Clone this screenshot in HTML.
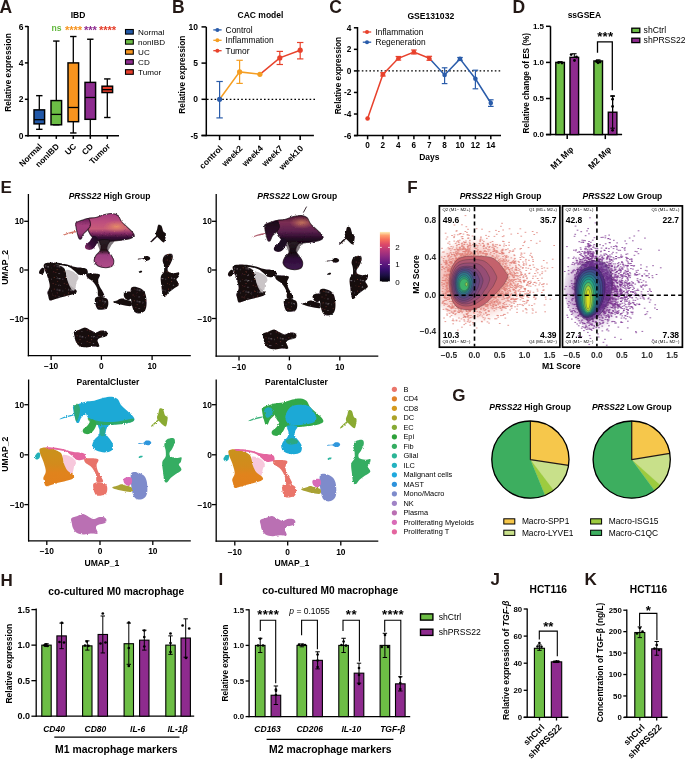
<!DOCTYPE html>
<html><head><meta charset="utf-8"><style>
html,body{margin:0;padding:0;background:#fff;}
svg{display:block;will-change:transform;}
text{font-family:"Liberation Sans", sans-serif;}
</style></head><body>
<svg width="685" height="759" viewBox="0 0 685 759" font-family="Liberation Sans, sans-serif">
<defs><pattern id="speck" width="12" height="12" patternUnits="userSpaceOnUse"><rect x="5.4" y="6.7" width="0.7" height="0.7" fill="#ffffff"/><rect x="5.4" y="10.3" width="0.7" height="0.7" fill="#e07050"/><rect x="2.2" y="6.1" width="0.7" height="0.7" fill="#d06040"/><rect x="7.4" y="2.2" width="0.7" height="0.7" fill="#ffffff"/><rect x="3.6" y="1.1" width="0.7" height="0.7" fill="#d06040"/><rect x="7.6" y="7.1" width="0.7" height="0.7" fill="#ffffff"/><rect x="11.6" y="7.8" width="0.7" height="0.7" fill="#ffffff"/><rect x="7.8" y="7.5" width="0.7" height="0.7" fill="#ffffff"/><rect x="0.8" y="0.4" width="0.7" height="0.7" fill="#e07050"/></pattern><filter id="rough" x="-5%" y="-5%" width="110%" height="110%"><feTurbulence type="fractalNoise" baseFrequency="0.9" numOctaves="2" seed="3" result="n"/><feDisplacementMap in="SourceGraphic" in2="n" scale="2.2" xChannelSelector="R" yChannelSelector="G"/></filter><clipPath id="bodyClip"><path d="M86,401.9C87.53,400.87 91.28,401.48 94.2,400.8C97.12,400.12 100.58,398.48 103.5,397.8C106.42,397.12 109.35,396.5 111.7,396.7C114.05,396.9 116.05,397.63 117.6,399C119.15,400.37 119.65,403.15 121,404.9C122.35,406.65 123.93,407.85 125.7,409.5C127.47,411.15 130.13,413.13 131.6,414.8C133.07,416.47 134.7,418.23 134.5,419.5C134.3,420.77 132.65,421.63 130.4,422.4C128.15,423.17 124.9,423.62 121,424.1C117.1,424.58 110.83,425.15 107,425.3C103.17,425.45 100.67,425.63 98,425C95.33,424.37 92.92,423.17 91,421.5C89.08,419.83 87.5,417.42 86.5,415C85.5,412.58 85.08,409.18 85,407C84.92,404.82 84.47,402.93 86,401.9Z"/></clipPath><linearGradient id="magHiBody" x1="0" y1="0" x2="0" y2="1">
<stop offset="0" stop-color="#A23C7E"/><stop offset="0.3" stop-color="#BD4E7E"/><stop offset="0.55" stop-color="#C85C78"/><stop offset="0.7" stop-color="#8A2F68"/><stop offset="0.85" stop-color="#3A0E38"/><stop offset="1" stop-color="#1A0620"/></linearGradient>
<radialGradient id="hiGlow" cx="0.5" cy="0.5" r="0.5"><stop offset="0" stop-color="#F0A060" stop-opacity="0.75"/><stop offset="1" stop-color="#E08060" stop-opacity="0"/></radialGradient>
<linearGradient id="magHiLobe" x1="0" y1="0" x2="0" y2="1"><stop offset="0" stop-color="#6A1E58"/><stop offset="0.35" stop-color="#A43F7C"/><stop offset="0.7" stop-color="#9A3A78"/><stop offset="1" stop-color="#4A1245"/></linearGradient>
<linearGradient id="magHiArm" x1="1" y1="0" x2="0" y2="1"><stop offset="0" stop-color="#1A0620"/><stop offset="0.6" stop-color="#3A0E3A"/><stop offset="1" stop-color="#9A3A78"/></linearGradient>
<linearGradient id="magHiBot" x1="0" y1="0" x2="0" y2="1"><stop offset="0" stop-color="#2a2026"/><stop offset="0.38" stop-color="#241018"/><stop offset="0.55" stop-color="#9C3E80"/><stop offset="1" stop-color="#B04C88"/></linearGradient>
<linearGradient id="magLoBody" x1="0" y1="0" x2="0" y2="1"><stop offset="0" stop-color="#4A1530"/><stop offset="0.25" stop-color="#7A2D52"/><stop offset="0.55" stop-color="#5E2250"/><stop offset="0.8" stop-color="#2A0A2A"/><stop offset="1" stop-color="#12040F"/></linearGradient>
<linearGradient id="magLoLobe" x1="0" y1="0" x2="0" y2="1"><stop offset="0" stop-color="#1A0618"/><stop offset="1" stop-color="#3A1035"/></linearGradient>
<linearGradient id="magLoBot" x1="0" y1="0" x2="0" y2="1"><stop offset="0" stop-color="#2a2026"/><stop offset="0.4" stop-color="#140610"/><stop offset="0.6" stop-color="#2E0C38"/><stop offset="1" stop-color="#40184E"/></linearGradient>
<linearGradient id="tcellGrad" x1="0" y1="0" x2="0" y2="1"><stop offset="0" stop-color="#C9931F"/><stop offset="0.45" stop-color="#D38A1E"/><stop offset="0.65" stop-color="#E0831C"/><stop offset="1" stop-color="#E2801B"/></linearGradient>
<linearGradient id="magma" x1="0" y1="1" x2="0" y2="0"><stop offset="0" stop-color="#000004"/><stop offset="0.13" stop-color="#1c1044"/><stop offset="0.25" stop-color="#3b0f70"/><stop offset="0.38" stop-color="#641a80"/><stop offset="0.5" stop-color="#8c2981"/><stop offset="0.63" stop-color="#b73779"/><stop offset="0.75" stop-color="#de4968"/><stop offset="0.85" stop-color="#f7705c"/><stop offset="0.93" stop-color="#fe9f6d"/><stop offset="1" stop-color="#fcf0b8"/></linearGradient><radialGradient id="hiCloud" cx="0.42" cy="0.5" r="0.5"><stop offset="0" stop-color="#E07A72" stop-opacity="0.95"/><stop offset="0.5" stop-color="#E98F86" stop-opacity="0.7"/><stop offset="0.8" stop-color="#F2B2AA" stop-opacity="0.35"/><stop offset="1" stop-color="#F6C9C3" stop-opacity="0"/></radialGradient>
<radialGradient id="loCloud" cx="0.4" cy="0.55" r="0.5"><stop offset="0" stop-color="#7A3590" stop-opacity="0.9"/><stop offset="0.5" stop-color="#8A4A9E" stop-opacity="0.6"/><stop offset="0.8" stop-color="#B58CC2" stop-opacity="0.25"/><stop offset="1" stop-color="#D0B0D8" stop-opacity="0"/></radialGradient>
<clipPath id="clipF1"><rect x="440.3" y="206.8" width="118.7" height="139.5"/></clipPath>
<clipPath id="clipF2"><rect x="563.4" y="206.8" width="118.1" height="139.5"/></clipPath></defs>
<rect width="685" height="759" fill="#fff"/>
<text x="-0.6" y="13" font-size="17.5" font-weight="bold" fill="#231815" >A</text>
<text x="78" y="17.6" font-size="8.5" font-weight="bold" text-anchor="middle" >IBD</text>
<line x1="28.1" y1="26" x2="28.1" y2="136.4" stroke="#000" stroke-width="1.5" />
<line x1="24.9" y1="26.5" x2="28.1" y2="26.5" stroke="#000" stroke-width="1.5" />
<text x="23.6" y="29.56" font-size="8.5" font-weight="bold" text-anchor="end" >6</text>
<line x1="24.9" y1="62.9" x2="28.1" y2="62.9" stroke="#000" stroke-width="1.5" />
<text x="23.6" y="65.96" font-size="8.5" font-weight="bold" text-anchor="end" >4</text>
<line x1="24.9" y1="99.3" x2="28.1" y2="99.3" stroke="#000" stroke-width="1.5" />
<text x="23.6" y="102.36" font-size="8.5" font-weight="bold" text-anchor="end" >2</text>
<line x1="24.9" y1="135.7" x2="28.1" y2="135.7" stroke="#000" stroke-width="1.5" />
<text x="23.6" y="138.76" font-size="8.5" font-weight="bold" text-anchor="end" >0</text>
<line x1="27.4" y1="135.7" x2="119" y2="135.7" stroke="#000" stroke-width="1.5" />
<line x1="39.3" y1="135.7" x2="39.3" y2="138.9" stroke="#000" stroke-width="1.5" />
<line x1="56.3" y1="135.7" x2="56.3" y2="138.9" stroke="#000" stroke-width="1.5" />
<line x1="73.3" y1="135.7" x2="73.3" y2="138.9" stroke="#000" stroke-width="1.5" />
<line x1="90.3" y1="135.7" x2="90.3" y2="138.9" stroke="#000" stroke-width="1.5" />
<line x1="107.3" y1="135.7" x2="107.3" y2="138.9" stroke="#000" stroke-width="1.5" />
<line x1="39.3" y1="95.66" x2="39.3" y2="109.86" stroke="#000" stroke-width="1.3" />
<line x1="39.3" y1="123.87" x2="39.3" y2="129.33" stroke="#000" stroke-width="1.3" />
<line x1="36.1" y1="95.66" x2="42.5" y2="95.66" stroke="#000" stroke-width="1.4" />
<line x1="36.1" y1="129.33" x2="42.5" y2="129.33" stroke="#000" stroke-width="1.4" />
<rect x="34" y="109.86" width="10.6" height="14.01" fill="#2158A8" stroke="#000" stroke-width="1.45" />
<line x1="34" y1="119.68" x2="44.6" y2="119.68" stroke="#000" stroke-width="1.3" />
<line x1="56.3" y1="41.06" x2="56.3" y2="100.57" stroke="#000" stroke-width="1.3" />
<line x1="56.3" y1="124.78" x2="56.3" y2="124.78" stroke="#000" stroke-width="1.3" />
<line x1="53.1" y1="41.06" x2="59.5" y2="41.06" stroke="#000" stroke-width="1.4" />
<line x1="53.1" y1="124.78" x2="59.5" y2="124.78" stroke="#000" stroke-width="1.4" />
<rect x="51" y="100.57" width="10.6" height="24.21" fill="#6CBD45" stroke="#000" stroke-width="1.45" />
<line x1="51" y1="114.41" x2="61.6" y2="114.41" stroke="#000" stroke-width="1.3" />
<line x1="73.3" y1="36.51" x2="73.3" y2="62.9" stroke="#000" stroke-width="1.3" />
<line x1="73.3" y1="121.69" x2="73.3" y2="132.97" stroke="#000" stroke-width="1.3" />
<line x1="70.1" y1="36.51" x2="76.5" y2="36.51" stroke="#000" stroke-width="1.4" />
<line x1="70.1" y1="132.97" x2="76.5" y2="132.97" stroke="#000" stroke-width="1.4" />
<rect x="68" y="62.9" width="10.6" height="58.79" fill="#F7941E" stroke="#000" stroke-width="1.45" />
<line x1="68" y1="107.49" x2="78.6" y2="107.49" stroke="#000" stroke-width="1.3" />
<line x1="90.3" y1="39.24" x2="90.3" y2="82.37" stroke="#000" stroke-width="1.3" />
<line x1="90.3" y1="119.32" x2="90.3" y2="135.7" stroke="#000" stroke-width="1.3" />
<line x1="87.1" y1="39.24" x2="93.5" y2="39.24" stroke="#000" stroke-width="1.4" />
<rect x="85" y="82.37" width="10.6" height="36.95" fill="#8E2C8F" stroke="#000" stroke-width="1.45" />
<line x1="85" y1="97.48" x2="95.6" y2="97.48" stroke="#000" stroke-width="1.3" />
<line x1="107.3" y1="78.92" x2="107.3" y2="86.2" stroke="#000" stroke-width="1.3" />
<line x1="107.3" y1="92.57" x2="107.3" y2="117.5" stroke="#000" stroke-width="1.3" />
<line x1="104.1" y1="78.92" x2="110.5" y2="78.92" stroke="#000" stroke-width="1.4" />
<line x1="104.1" y1="117.5" x2="110.5" y2="117.5" stroke="#000" stroke-width="1.4" />
<rect x="102" y="86.2" width="10.6" height="6.37" fill="#E53D2A" stroke="#000" stroke-width="1.45" />
<line x1="102" y1="89.65" x2="112.6" y2="89.65" stroke="#000" stroke-width="1.3" />
<text x="42.7" y="147" font-size="8.3" font-weight="bold" text-anchor="end" transform="rotate(-45 42.7 147)" >Normal</text>
<text x="59.7" y="147" font-size="8.3" font-weight="bold" text-anchor="end" transform="rotate(-45 59.7 147)" >nonIBD</text>
<text x="76.7" y="147" font-size="8.3" font-weight="bold" text-anchor="end" transform="rotate(-45 76.7 147)" >UC</text>
<text x="93.7" y="147" font-size="8.3" font-weight="bold" text-anchor="end" transform="rotate(-45 93.7 147)" >CD</text>
<text x="110.7" y="147" font-size="8.3" font-weight="bold" text-anchor="end" transform="rotate(-45 110.7 147)" >Tumor</text>
<text x="11.3" y="72.5" font-size="8.4" font-weight="bold" text-anchor="middle" transform="rotate(-90 11.3 72.5)" >Relative expression</text>
<text x="56.5" y="30.6" font-size="8.6" font-weight="bold" text-anchor="middle" fill="#62B83E" >ns</text>
<text x="73.5" y="34.3" font-size="11.2" font-weight="bold" text-anchor="middle" fill="#F7941E" letter-spacing="-0.1">****</text>
<text x="90.5" y="34.3" font-size="11.2" font-weight="bold" text-anchor="middle" fill="#8E2C8F" letter-spacing="-0.1">***</text>
<text x="107.5" y="34.3" font-size="11.2" font-weight="bold" text-anchor="middle" fill="#E53D2A" letter-spacing="-0.1">****</text>
<rect x="125.5" y="29.5" width="7.8" height="4.6" fill="#2158A8" stroke="#000" stroke-width="1.1" />
<text x="138.1" y="34.7" font-size="8.1" >Normal</text>
<rect x="125.5" y="39.55" width="7.8" height="4.6" fill="#6CBD45" stroke="#000" stroke-width="1.1" />
<text x="138.1" y="44.75" font-size="8.1" >nonIBD</text>
<rect x="125.5" y="49.6" width="7.8" height="4.6" fill="#F7941E" stroke="#000" stroke-width="1.1" />
<text x="138.1" y="54.8" font-size="8.1" >UC</text>
<rect x="125.5" y="59.65" width="7.8" height="4.6" fill="#8E2C8F" stroke="#000" stroke-width="1.1" />
<text x="138.1" y="64.85" font-size="8.1" >CD</text>
<rect x="125.5" y="69.7" width="7.8" height="4.6" fill="#E53D2A" stroke="#000" stroke-width="1.1" />
<text x="138.1" y="74.9" font-size="8.1" >Tumor</text>
<text x="172" y="13" font-size="17.5" font-weight="bold" fill="#231815" >B</text>
<text x="260.5" y="18.4" font-size="8.5" font-weight="bold" text-anchor="middle" >CAC model</text>
<line x1="206.3" y1="27" x2="206.3" y2="136.2" stroke="#000" stroke-width="1.5" />
<line x1="201.5" y1="26.9" x2="206.3" y2="26.9" stroke="#000" stroke-width="1.5" />
<text x="198" y="29.96" font-size="8.5" font-weight="bold" text-anchor="end" >10</text>
<line x1="201.5" y1="63.1" x2="206.3" y2="63.1" stroke="#000" stroke-width="1.5" />
<text x="198" y="66.16" font-size="8.5" font-weight="bold" text-anchor="end" >5</text>
<line x1="201.5" y1="99.3" x2="206.3" y2="99.3" stroke="#000" stroke-width="1.5" />
<text x="198" y="102.36" font-size="8.5" font-weight="bold" text-anchor="end" >0</text>
<line x1="201.5" y1="135.5" x2="206.3" y2="135.5" stroke="#000" stroke-width="1.5" />
<text x="198" y="138.56" font-size="8.5" font-weight="bold" text-anchor="end" >-5</text>
<line x1="201.5" y1="135.4" x2="313.9" y2="135.4" stroke="#000" stroke-width="1.5" />
<line x1="219.6" y1="135.4" x2="219.6" y2="140.1" stroke="#000" stroke-width="1.5" />
<line x1="239.6" y1="135.4" x2="239.6" y2="140.1" stroke="#000" stroke-width="1.5" />
<line x1="259.9" y1="135.4" x2="259.9" y2="140.1" stroke="#000" stroke-width="1.5" />
<line x1="279.8" y1="135.4" x2="279.8" y2="140.1" stroke="#000" stroke-width="1.5" />
<line x1="300.2" y1="135.4" x2="300.2" y2="140.1" stroke="#000" stroke-width="1.5" />
<line x1="207" y1="99.3" x2="315" y2="99.3" stroke="#000" stroke-width="1.3" stroke-dasharray="1.6 2.2"/>
<polyline points="219.6,99.3 239.6,71.9 259.9,74.3" fill="none" stroke="#F59E22" stroke-width="1.5" />
<polyline points="259.9,74.3 279.8,57.9 300.2,50.2" fill="none" stroke="#E8422B" stroke-width="1.5" />
<line x1="219.6" y1="81.5" x2="219.6" y2="117.9" stroke="#2A5CAA" stroke-width="1.2" />
<line x1="216.4" y1="81.5" x2="222.8" y2="81.5" stroke="#2A5CAA" stroke-width="1.2" />
<line x1="216.4" y1="117.9" x2="222.8" y2="117.9" stroke="#2A5CAA" stroke-width="1.2" />
<circle cx="219.6" cy="99.3" r="2.6" fill="#2A5CAA"/>
<line x1="239.6" y1="60.3" x2="239.6" y2="83.4" stroke="#F59E22" stroke-width="1.2" />
<line x1="236.4" y1="60.3" x2="242.8" y2="60.3" stroke="#F59E22" stroke-width="1.2" />
<line x1="236.4" y1="83.4" x2="242.8" y2="83.4" stroke="#F59E22" stroke-width="1.2" />
<circle cx="239.6" cy="71.9" r="2.6" fill="#F59E22"/>
<circle cx="259.9" cy="74.3" r="2.6" fill="#F59E22"/>
<line x1="279.8" y1="51.4" x2="279.8" y2="64.5" stroke="#E8422B" stroke-width="1.2" />
<line x1="276.6" y1="51.4" x2="283" y2="51.4" stroke="#E8422B" stroke-width="1.2" />
<line x1="276.6" y1="64.5" x2="283" y2="64.5" stroke="#E8422B" stroke-width="1.2" />
<circle cx="279.8" cy="57.9" r="2.6" fill="#E8422B"/>
<line x1="300.2" y1="42.5" x2="300.2" y2="58.9" stroke="#E8422B" stroke-width="1.2" />
<line x1="297" y1="42.5" x2="303.4" y2="42.5" stroke="#E8422B" stroke-width="1.2" />
<line x1="297" y1="58.9" x2="303.4" y2="58.9" stroke="#E8422B" stroke-width="1.2" />
<circle cx="300.2" cy="50.2" r="2.6" fill="#E8422B"/>
<line x1="213.3" y1="29.9" x2="221.6" y2="29.9" stroke="#2A5CAA" stroke-width="1.3" />
<circle cx="217.4" cy="29.9" r="2" fill="#2A5CAA"/>
<text x="225.6" y="32.9" font-size="8.4" >Control</text>
<line x1="213.3" y1="40.3" x2="221.6" y2="40.3" stroke="#F59E22" stroke-width="1.3" />
<circle cx="217.4" cy="40.3" r="2" fill="#F59E22"/>
<text x="225.6" y="43.3" font-size="8.4" >Inflammation</text>
<line x1="213.3" y1="50.7" x2="221.6" y2="50.7" stroke="#E8422B" stroke-width="1.3" />
<circle cx="217.4" cy="50.7" r="2" fill="#E8422B"/>
<text x="225.6" y="53.7" font-size="8.4" >Tumor</text>
<text x="223.2" y="149" font-size="8.5" font-weight="bold" text-anchor="end" transform="rotate(-45 223.2 149)" >control</text>
<text x="243.2" y="149" font-size="8.5" font-weight="bold" text-anchor="end" transform="rotate(-45 243.2 149)" >week2</text>
<text x="263.5" y="149" font-size="8.5" font-weight="bold" text-anchor="end" transform="rotate(-45 263.5 149)" >week4</text>
<text x="283.4" y="149" font-size="8.5" font-weight="bold" text-anchor="end" transform="rotate(-45 283.4 149)" >week7</text>
<text x="303.8" y="149" font-size="8.5" font-weight="bold" text-anchor="end" transform="rotate(-45 303.8 149)" >week10</text>
<text x="184.8" y="74.7" font-size="8.3" font-weight="bold" text-anchor="middle" transform="rotate(-90 184.8 74.7)" >Relative expression</text>
<text x="329.2" y="13" font-size="17.5" font-weight="bold" fill="#231815" >C</text>
<text x="430.8" y="18.9" font-size="8.6" font-weight="bold" text-anchor="middle" >GSE131032</text>
<line x1="357.5" y1="27" x2="357.5" y2="136.1" stroke="#000" stroke-width="1.5" />
<line x1="353.9" y1="27.78" x2="357.5" y2="27.78" stroke="#000" stroke-width="1.5" />
<text x="351.4" y="30.77" font-size="8.3" font-weight="bold" text-anchor="end" >4</text>
<line x1="353.9" y1="49.34" x2="357.5" y2="49.34" stroke="#000" stroke-width="1.5" />
<text x="351.4" y="52.33" font-size="8.3" font-weight="bold" text-anchor="end" >2</text>
<line x1="353.9" y1="70.9" x2="357.5" y2="70.9" stroke="#000" stroke-width="1.5" />
<text x="351.4" y="73.89" font-size="8.3" font-weight="bold" text-anchor="end" >0</text>
<line x1="353.9" y1="92.46" x2="357.5" y2="92.46" stroke="#000" stroke-width="1.5" />
<text x="351.4" y="95.45" font-size="8.3" font-weight="bold" text-anchor="end" >-2</text>
<line x1="353.9" y1="114.02" x2="357.5" y2="114.02" stroke="#000" stroke-width="1.5" />
<text x="351.4" y="117.01" font-size="8.3" font-weight="bold" text-anchor="end" >-4</text>
<line x1="353.9" y1="135.58" x2="357.5" y2="135.58" stroke="#000" stroke-width="1.5" />
<text x="351.4" y="138.57" font-size="8.3" font-weight="bold" text-anchor="end" >-6</text>
<line x1="354" y1="135.6" x2="501" y2="135.6" stroke="#000" stroke-width="1.5" />
<line x1="367.6" y1="135.6" x2="367.6" y2="139.3" stroke="#000" stroke-width="1.5" />
<line x1="382.9" y1="135.6" x2="382.9" y2="139.3" stroke="#000" stroke-width="1.5" />
<line x1="398.4" y1="135.6" x2="398.4" y2="139.3" stroke="#000" stroke-width="1.5" />
<line x1="413.9" y1="135.6" x2="413.9" y2="139.3" stroke="#000" stroke-width="1.5" />
<line x1="429.3" y1="135.6" x2="429.3" y2="139.3" stroke="#000" stroke-width="1.5" />
<line x1="444.6" y1="135.6" x2="444.6" y2="139.3" stroke="#000" stroke-width="1.5" />
<line x1="460" y1="135.6" x2="460" y2="139.3" stroke="#000" stroke-width="1.5" />
<line x1="475.4" y1="135.6" x2="475.4" y2="139.3" stroke="#000" stroke-width="1.5" />
<line x1="490.8" y1="135.6" x2="490.8" y2="139.3" stroke="#000" stroke-width="1.5" />
<line x1="358" y1="70.9" x2="501" y2="70.9" stroke="#000" stroke-width="1.3" stroke-dasharray="1.6 2.2"/>
<polyline points="367.6,118.5 382.9,74.4 398.4,58.3 413.9,52 429.3,58.3" fill="none" stroke="#E8412C" stroke-width="1.5" />
<polyline points="429.3,58.3 444.6,74.9 460,58.9 475.4,78.8 490.8,103" fill="none" stroke="#2A5CAA" stroke-width="1.5" />
<circle cx="367.6" cy="118.5" r="2.3" fill="#E8412C"/>
<line x1="382.9" y1="72.8" x2="382.9" y2="76" stroke="#E8412C" stroke-width="1.2" />
<line x1="380.1" y1="72.8" x2="385.7" y2="72.8" stroke="#E8412C" stroke-width="1.2" />
<line x1="380.1" y1="76" x2="385.7" y2="76" stroke="#E8412C" stroke-width="1.2" />
<circle cx="382.9" cy="74.4" r="2.3" fill="#E8412C"/>
<line x1="398.4" y1="56.5" x2="398.4" y2="60.1" stroke="#E8412C" stroke-width="1.2" />
<line x1="395.6" y1="56.5" x2="401.2" y2="56.5" stroke="#E8412C" stroke-width="1.2" />
<line x1="395.6" y1="60.1" x2="401.2" y2="60.1" stroke="#E8412C" stroke-width="1.2" />
<circle cx="398.4" cy="58.3" r="2.3" fill="#E8412C"/>
<line x1="413.9" y1="50" x2="413.9" y2="54" stroke="#E8412C" stroke-width="1.2" />
<line x1="411.1" y1="50" x2="416.7" y2="50" stroke="#E8412C" stroke-width="1.2" />
<line x1="411.1" y1="54" x2="416.7" y2="54" stroke="#E8412C" stroke-width="1.2" />
<circle cx="413.9" cy="52" r="2.3" fill="#E8412C"/>
<line x1="429.3" y1="56.3" x2="429.3" y2="60.3" stroke="#E8412C" stroke-width="1.2" />
<line x1="426.5" y1="56.3" x2="432.1" y2="56.3" stroke="#E8412C" stroke-width="1.2" />
<line x1="426.5" y1="60.3" x2="432.1" y2="60.3" stroke="#E8412C" stroke-width="1.2" />
<circle cx="429.3" cy="58.3" r="2.3" fill="#E8412C"/>
<line x1="444.6" y1="67.8" x2="444.6" y2="83.6" stroke="#2A5CAA" stroke-width="1.2" />
<line x1="441.8" y1="67.8" x2="447.4" y2="67.8" stroke="#2A5CAA" stroke-width="1.2" />
<line x1="441.8" y1="83.6" x2="447.4" y2="83.6" stroke="#2A5CAA" stroke-width="1.2" />
<circle cx="444.6" cy="74.9" r="2.3" fill="#2A5CAA"/>
<line x1="460" y1="57.5" x2="460" y2="60.3" stroke="#2A5CAA" stroke-width="1.2" />
<line x1="457.2" y1="57.5" x2="462.8" y2="57.5" stroke="#2A5CAA" stroke-width="1.2" />
<line x1="457.2" y1="60.3" x2="462.8" y2="60.3" stroke="#2A5CAA" stroke-width="1.2" />
<circle cx="460" cy="58.9" r="2.3" fill="#2A5CAA"/>
<line x1="475.4" y1="70.2" x2="475.4" y2="88.8" stroke="#2A5CAA" stroke-width="1.2" />
<line x1="472.6" y1="70.2" x2="478.2" y2="70.2" stroke="#2A5CAA" stroke-width="1.2" />
<line x1="472.6" y1="88.8" x2="478.2" y2="88.8" stroke="#2A5CAA" stroke-width="1.2" />
<circle cx="475.4" cy="78.8" r="2.3" fill="#2A5CAA"/>
<line x1="490.8" y1="99.8" x2="490.8" y2="106.4" stroke="#2A5CAA" stroke-width="1.2" />
<line x1="488" y1="99.8" x2="493.6" y2="99.8" stroke="#2A5CAA" stroke-width="1.2" />
<line x1="488" y1="106.4" x2="493.6" y2="106.4" stroke="#2A5CAA" stroke-width="1.2" />
<circle cx="490.8" cy="103" r="2.3" fill="#2A5CAA"/>
<line x1="362.8" y1="32" x2="371.2" y2="32" stroke="#E8412C" stroke-width="1.3" />
<circle cx="367" cy="32" r="2" fill="#E8412C"/>
<text x="375.4" y="35" font-size="8.4" >Inflammation</text>
<line x1="362.8" y1="42.2" x2="371.2" y2="42.2" stroke="#2A5CAA" stroke-width="1.3" />
<circle cx="367" cy="42.2" r="2" fill="#2A5CAA"/>
<text x="375.4" y="45.2" font-size="8.4" >Regeneration</text>
<text x="367.6" y="148.1" font-size="8.2" font-weight="bold" text-anchor="middle" >0</text>
<text x="382.9" y="148.1" font-size="8.2" font-weight="bold" text-anchor="middle" >2</text>
<text x="398.4" y="148.1" font-size="8.2" font-weight="bold" text-anchor="middle" >4</text>
<text x="413.9" y="148.1" font-size="8.2" font-weight="bold" text-anchor="middle" >6</text>
<text x="429.3" y="148.1" font-size="8.2" font-weight="bold" text-anchor="middle" >7</text>
<text x="444.6" y="148.1" font-size="8.2" font-weight="bold" text-anchor="middle" >8</text>
<text x="460" y="148.1" font-size="8.2" font-weight="bold" text-anchor="middle" >10</text>
<text x="475.4" y="148.1" font-size="8.2" font-weight="bold" text-anchor="middle" >12</text>
<text x="490.8" y="148.1" font-size="8.2" font-weight="bold" text-anchor="middle" >14</text>
<text x="429.4" y="160.2" font-size="8.5" font-weight="bold" text-anchor="middle" >Days</text>
<text x="340.6" y="75.6" font-size="8.25" font-weight="bold" text-anchor="middle" transform="rotate(-90 340.6 75.6)" >Relative expression</text>
<text x="512.5" y="13" font-size="17.5" font-weight="bold" fill="#231815" >D</text>
<text x="584.4" y="18.3" font-size="8.5" font-weight="bold" text-anchor="middle" >ssGSEA</text>
<line x1="550.5" y1="26.3" x2="550.5" y2="135.3" stroke="#000" stroke-width="1.5" />
<line x1="546" y1="26.3" x2="550.5" y2="26.3" stroke="#000" stroke-width="1.5" />
<text x="544" y="29.18" font-size="8" font-weight="bold" text-anchor="end" >1.5</text>
<line x1="546" y1="62.4" x2="550.5" y2="62.4" stroke="#000" stroke-width="1.5" />
<text x="544" y="65.28" font-size="8" font-weight="bold" text-anchor="end" >1.0</text>
<line x1="546" y1="98.5" x2="550.5" y2="98.5" stroke="#000" stroke-width="1.5" />
<text x="544" y="101.38" font-size="8" font-weight="bold" text-anchor="end" >0.5</text>
<line x1="546" y1="134.6" x2="550.5" y2="134.6" stroke="#000" stroke-width="1.5" />
<text x="544" y="137.48" font-size="8" font-weight="bold" text-anchor="end" >0.0</text>
<line x1="545.9" y1="134.6" x2="622.1" y2="134.6" stroke="#000" stroke-width="1.5" />
<line x1="567.2" y1="134.6" x2="567.2" y2="139.1" stroke="#000" stroke-width="1.5" />
<line x1="605.3" y1="134.6" x2="605.3" y2="139.1" stroke="#000" stroke-width="1.5" />
<rect x="555.8" y="62.4" width="8.6" height="72.2" fill="#6DBE45" stroke="#000" stroke-width="1.4" />
<line x1="560.1" y1="61.68" x2="560.1" y2="62.4" stroke="#000" stroke-width="1.1" />
<line x1="557.8" y1="61.68" x2="562.4" y2="61.68" stroke="#000" stroke-width="1.1" />
<rect x="570" y="57.35" width="8.6" height="77.25" fill="#8E2B8E" stroke="#000" stroke-width="1.4" />
<line x1="574.3" y1="53.74" x2="574.3" y2="57.35" stroke="#000" stroke-width="1.1" />
<line x1="572" y1="53.74" x2="576.6" y2="53.74" stroke="#000" stroke-width="1.1" />
<rect x="593.9" y="60.96" width="8.6" height="73.64" fill="#6DBE45" stroke="#000" stroke-width="1.4" />
<line x1="598.2" y1="59.87" x2="598.2" y2="60.96" stroke="#000" stroke-width="1.1" />
<line x1="595.9" y1="59.87" x2="600.5" y2="59.87" stroke="#000" stroke-width="1.1" />
<rect x="608.3" y="112.22" width="8.6" height="22.38" fill="#8E2B8E" stroke="#000" stroke-width="1.4" />
<line x1="612.6" y1="96.33" x2="612.6" y2="112.22" stroke="#000" stroke-width="1.1" />
<line x1="610.3" y1="96.33" x2="614.9" y2="96.33" stroke="#000" stroke-width="1.1" />
<circle cx="558.5" cy="62.7" r="1.4" fill="#000"/>
<circle cx="562" cy="63" r="1.4" fill="#000"/>
<circle cx="571.2" cy="54.6" r="1.4" fill="#000"/>
<circle cx="576.5" cy="57" r="1.4" fill="#000"/>
<circle cx="574.5" cy="60.5" r="1.4" fill="#000"/>
<circle cx="596.5" cy="61.5" r="1.4" fill="#000"/>
<circle cx="600" cy="62" r="1.4" fill="#000"/>
<circle cx="598" cy="62.8" r="1.4" fill="#000"/>
<circle cx="612.6" cy="99.2" r="1.4" fill="#000"/>
<circle cx="612.6" cy="106.4" r="1.4" fill="#000"/>
<circle cx="612.6" cy="130.3" r="1.4" fill="#000"/>
<line x1="612.6" y1="95.7" x2="612.6" y2="128.2" stroke="#000" stroke-width="1.1" />
<line x1="610.4" y1="95.7" x2="614.8" y2="95.7" stroke="#000" stroke-width="1.1" />
<line x1="610.4" y1="128.2" x2="614.8" y2="128.2" stroke="#000" stroke-width="1.1" />
<polyline points="597.5,52.7 597.5,41.9 612.3,41.9 612.3,90.2" fill="none" stroke="#000" stroke-width="1.3" />
<text x="605.3" y="41" font-size="13.2" font-weight="bold" text-anchor="middle" letter-spacing="0.25">***</text>
<rect x="631.8" y="28.2" width="8" height="4.4" fill="#6DBE45" stroke="#000" stroke-width="1.3" />
<text x="643.6" y="32.6" font-size="8.6" >shCtrl</text>
<rect x="631.8" y="38.2" width="8" height="4.4" fill="#8E2B8E" stroke="#000" stroke-width="1.3" />
<text x="643.6" y="42.6" font-size="8.6" >shPRSS22</text>
<text x="574" y="150" font-size="8.8" font-weight="bold" text-anchor="end" transform="rotate(-45 574 150)" >M1 Mφ</text>
<text x="611.7" y="150" font-size="8.8" font-weight="bold" text-anchor="end" transform="rotate(-45 611.7 150)" >M2 Mφ</text>
<text x="528.9" y="83.2" font-size="8.2" font-weight="bold" text-anchor="middle" transform="rotate(-90 528.9 83.2)" >Relative change of ES (%)</text>
<text x="0.5" y="193.4" font-size="17" font-weight="bold" fill="#231815" >E</text>
<text x="109.5" y="198.8" font-size="8.5" font-weight="bold" text-anchor="middle" ><tspan font-style="italic">PRSS22</tspan> High Group</text>
<text x="297.2" y="198.8" font-size="8.5" font-weight="bold" text-anchor="middle" ><tspan font-style="italic">PRSS22</tspan> Low Group</text>
<g filter="url(#rough)">
<g transform="matrix(0.9528 0 0 0.972 6.12 -172.07)">
<g>
<path d="M39.9,448.8C40.78,447.9 42.95,447.33 45.2,447.4C47.45,447.47 50.87,448.33 53.4,449.2C55.93,450.07 58.85,451.22 60.4,452.6C61.95,453.98 62.12,455.7 62.7,457.5C63.28,459.3 63.12,461.25 63.9,463.4C64.68,465.55 65.85,468.47 67.4,470.4C68.95,472.33 72.13,473.73 73.2,475C74.27,476.27 74.58,477.12 73.8,478C73.02,478.88 70.93,479.53 68.5,480.3C66.07,481.07 62.12,481.82 59.2,482.6C56.28,483.38 53.23,484.42 51,485C48.77,485.58 46.97,486.78 45.8,486.1C44.63,485.42 44.4,482.35 44,480.9C43.6,479.45 43.1,478.97 43.4,477.4C43.7,475.83 45.7,473.83 45.8,471.5C45.9,469.17 44.68,465.73 44,463.4C43.32,461.07 42.38,459.27 41.7,457.5C41.02,455.73 40.2,454.25 39.9,452.8C39.6,451.35 39.02,449.7 39.9,448.8Z" fill="#140a0e" />
<path d="M46,447.3C47.33,447.05 53,447.38 56,447.7C59,448.02 61.67,448.62 64,449.2C66.33,449.78 68.17,450.7 70,451.2C71.83,451.7 73.5,452 75,452.2C76.5,452.4 77.42,452.15 79,452.4C80.58,452.65 83.42,452.68 84.5,453.7C85.58,454.72 86.08,457.45 85.5,458.5C84.92,459.55 82.5,459.78 81,460C79.5,460.22 77.83,460.33 76.5,459.8C75.17,459.27 74.75,458.13 73,456.8C71.25,455.47 68.83,452.98 66,451.8C63.17,450.62 59,450.13 56,449.7C53,449.27 49.67,449.6 48,449.2C46.33,448.8 44.67,447.55 46,447.3Z" fill="#140a0e" />
<path d="M84.5,458.8C85.35,458.12 88,458.2 90.3,458.3C92.6,458.4 97.25,458.28 98.3,459.4C99.35,460.52 96.67,463.07 96.6,465C96.53,466.93 97.12,469.02 97.9,471C98.68,472.98 100.45,475.1 101.3,476.9C102.15,478.7 103.75,480.98 103,481.8C102.25,482.62 97.95,482.87 96.8,481.8C95.65,480.73 96.58,477.3 96.1,475.4C95.62,473.5 94.87,471.97 93.9,470.4C92.93,468.83 91.75,467.33 90.3,466C88.85,464.67 86.17,463.6 85.2,462.4C84.23,461.2 83.65,459.48 84.5,458.8Z" fill="#140a0e" />
<path d="M93.9,483.3C94.87,482.5 97.07,482.07 99,482.2C100.93,482.33 104.12,483.05 105.5,484.1C106.88,485.15 107.3,486.8 107.3,488.5C107.3,490.2 107.13,493.1 105.5,494.3C103.87,495.5 99.32,495.95 97.5,495.7C95.68,495.45 95.32,494.25 94.6,492.8C93.88,491.35 93.32,488.58 93.2,487C93.08,485.42 92.93,484.1 93.9,483.3Z" fill="#140a0e" />
<path d="M71.4,518.2C72.35,517.03 75.53,516.68 77.5,516C79.47,515.32 81.3,513.95 83.2,514.1C85.1,514.25 87.07,516.07 88.9,516.9C90.73,517.73 92.6,519.03 94.2,519.1C95.8,519.17 96.9,517.6 98.5,517.3C100.1,517 102.48,516.93 103.8,517.3C105.12,517.67 106.18,518.55 106.4,519.5C106.62,520.45 106.42,522.12 105.1,523C103.78,523.88 100.03,524.07 98.5,524.8C96.97,525.53 96.03,525.95 95.9,527.4C95.77,528.85 98.57,532.48 97.7,533.5C96.83,534.52 93.05,533.35 90.7,533.5C88.35,533.65 85.95,534.53 83.6,534.4C81.25,534.27 78.35,533.72 76.6,532.7C74.85,531.68 73.9,529.92 73.1,528.3C72.3,526.68 72.08,524.68 71.8,523C71.52,521.32 70.45,519.37 71.4,518.2Z" fill="#140a0e" />
<path d="M131.4,473.1C132.38,471.95 134.63,471.87 136.6,472.2C138.57,472.53 141.55,473.73 143.2,475.1C144.85,476.47 145.8,477.98 146.5,480.4C147.2,482.82 147.5,486.97 147.4,489.6C147.3,492.23 147.03,494.55 145.9,496.2C144.77,497.85 142.37,499.17 140.6,499.5C138.83,499.83 136.62,499.18 135.3,498.2C133.98,497.22 133.35,495.47 132.7,493.6C132.05,491.73 131.73,489.42 131.4,487C131.07,484.58 130.7,481.42 130.7,479.1C130.7,476.78 130.42,474.25 131.4,473.1Z" fill="#140a0e" />
<path d="M124,478.5C124.75,477.83 126.75,477.08 128,477C129.25,476.92 130.87,477 131.5,478C132.13,479 132.3,481.72 131.8,483C131.3,484.28 129.63,485.53 128.5,485.7C127.37,485.87 125.83,484.78 125,484C124.17,483.22 123.67,481.92 123.5,481C123.33,480.08 123.25,479.17 124,478.5Z" fill="#140a0e" />
<path d="M112.2,487.4C112.37,486.83 115.53,486.33 117,485.8C118.47,485.27 119.67,484.3 121,484.2C122.33,484.1 123.27,484.68 125,485.2C126.73,485.72 130.33,486.2 131.4,487.3C132.47,488.4 132.3,491.08 131.4,491.8C130.5,492.52 127.73,491.8 126,491.6C124.27,491.4 122.67,491 121,490.6C119.33,490.2 117.47,489.73 116,489.2C114.53,488.67 112.03,487.97 112.2,487.4Z" fill="#140a0e" />
<path d="M159.7,408.6C160.47,407.93 162.12,408.1 163,409.2C163.88,410.3 164.23,413.88 165,415.2C165.77,416.52 167.28,415.68 167.6,417.1C167.92,418.52 167.23,422.15 166.9,423.7C166.57,425.25 166.25,426.18 165.6,426.4C164.95,426.62 163.87,425.67 163,425C162.13,424.33 161.28,423.27 160.4,422.4C159.52,421.53 158.27,420.68 157.7,419.8C157.13,418.92 156.88,418.2 157,417.1C157.12,416 157.95,414.62 158.4,413.2C158.85,411.78 158.93,409.27 159.7,408.6Z" fill="#140a0e" />
<path d="M166.9,439.5C168.43,438.4 172.17,437.75 173.5,438.2C174.83,438.65 175.12,440.43 174.9,442.2C174.68,443.97 173.08,447.05 172.2,448.8C171.32,450.55 169.88,451.42 169.6,452.7C169.32,453.98 169.4,455.62 170.5,456.5C171.6,457.38 174.38,457.87 176.2,458C178.02,458.13 180.63,456.65 181.4,457.3C182.17,457.95 181.23,460.68 180.8,461.9C180.37,463.12 178.7,463.27 178.8,464.6C178.9,465.93 181.83,468.37 181.4,469.9C180.97,471.43 177.95,472.48 176.2,473.8C174.45,475.12 172.45,476.37 170.9,477.8C169.35,479.23 168,481.97 166.9,482.4C165.8,482.83 164.95,482.27 164.3,480.4C163.65,478.53 163.33,474.28 163,471.2C162.67,468.12 161.87,464.32 162.3,461.9C162.73,459.48 165.05,458.67 165.6,456.7C166.15,454.73 165.82,452.08 165.6,450.1C165.38,448.12 164.08,446.57 164.3,444.8C164.52,443.03 165.37,440.6 166.9,439.5Z" fill="#140a0e" />
<path d="M143.5,442.8C144.75,442.37 145,440.93 146,440.6C147,440.27 148.62,440.43 149.5,440.8C150.38,441.17 151.3,442.12 151.3,442.8C151.3,443.48 150.38,444.53 149.5,444.9C148.62,445.27 147,445.22 146,445C145,444.78 144.67,443.77 143.5,443.6C142.33,443.43 139.83,444.07 139,444C138.17,443.93 137.75,443.4 138.5,443.2C139.25,443 142.25,443.23 143.5,442.8Z" fill="#140a0e" />
<path d="M138.5,457.3C138.33,457 139.78,456.02 140.5,455.8C141.22,455.58 142.63,455.7 142.8,456C142.97,456.3 142.22,457.38 141.5,457.6C140.78,457.82 138.67,457.6 138.5,457.3Z" fill="#140a0e" />
<path d="M34.5,457C34.67,455.88 36.58,453.38 37.5,452.8C38.42,452.22 39.67,452.63 40,453.5C40.33,454.37 40.08,457 39.5,458C38.92,459 37.33,459.67 36.5,459.5C35.67,459.33 34.33,458.12 34.5,457Z" fill="#140a0e" />
<path d="M157.8,419.5C159,418.67 159.48,419.48 158.6,420.6C157.72,421.72 153.7,425.37 152.5,426.2C151.3,427.03 150.52,426.72 151.4,425.6C152.28,424.48 156.6,420.33 157.8,419.5Z" fill="#140a0e" />
<path d="M39.9,448.8C40.78,447.9 42.95,447.33 45.2,447.4C47.45,447.47 50.87,448.33 53.4,449.2C55.93,450.07 58.85,451.22 60.4,452.6C61.95,453.98 62.12,455.7 62.7,457.5C63.28,459.3 63.12,461.25 63.9,463.4C64.68,465.55 65.85,468.47 67.4,470.4C68.95,472.33 72.13,473.73 73.2,475C74.27,476.27 74.58,477.12 73.8,478C73.02,478.88 70.93,479.53 68.5,480.3C66.07,481.07 62.12,481.82 59.2,482.6C56.28,483.38 53.23,484.42 51,485C48.77,485.58 46.97,486.78 45.8,486.1C44.63,485.42 44.4,482.35 44,480.9C43.6,479.45 43.1,478.97 43.4,477.4C43.7,475.83 45.7,473.83 45.8,471.5C45.9,469.17 44.68,465.73 44,463.4C43.32,461.07 42.38,459.27 41.7,457.5C41.02,455.73 40.2,454.25 39.9,452.8C39.6,451.35 39.02,449.7 39.9,448.8Z" fill="url(#speck)" />
<path d="M93.9,483.3C94.87,482.5 97.07,482.07 99,482.2C100.93,482.33 104.12,483.05 105.5,484.1C106.88,485.15 107.3,486.8 107.3,488.5C107.3,490.2 107.13,493.1 105.5,494.3C103.87,495.5 99.32,495.95 97.5,495.7C95.68,495.45 95.32,494.25 94.6,492.8C93.88,491.35 93.32,488.58 93.2,487C93.08,485.42 92.93,484.1 93.9,483.3Z" fill="url(#speck)" />
<path d="M71.4,518.2C72.35,517.03 75.53,516.68 77.5,516C79.47,515.32 81.3,513.95 83.2,514.1C85.1,514.25 87.07,516.07 88.9,516.9C90.73,517.73 92.6,519.03 94.2,519.1C95.8,519.17 96.9,517.6 98.5,517.3C100.1,517 102.48,516.93 103.8,517.3C105.12,517.67 106.18,518.55 106.4,519.5C106.62,520.45 106.42,522.12 105.1,523C103.78,523.88 100.03,524.07 98.5,524.8C96.97,525.53 96.03,525.95 95.9,527.4C95.77,528.85 98.57,532.48 97.7,533.5C96.83,534.52 93.05,533.35 90.7,533.5C88.35,533.65 85.95,534.53 83.6,534.4C81.25,534.27 78.35,533.72 76.6,532.7C74.85,531.68 73.9,529.92 73.1,528.3C72.3,526.68 72.08,524.68 71.8,523C71.52,521.32 70.45,519.37 71.4,518.2Z" fill="url(#speck)" />
<path d="M131.4,473.1C132.38,471.95 134.63,471.87 136.6,472.2C138.57,472.53 141.55,473.73 143.2,475.1C144.85,476.47 145.8,477.98 146.5,480.4C147.2,482.82 147.5,486.97 147.4,489.6C147.3,492.23 147.03,494.55 145.9,496.2C144.77,497.85 142.37,499.17 140.6,499.5C138.83,499.83 136.62,499.18 135.3,498.2C133.98,497.22 133.35,495.47 132.7,493.6C132.05,491.73 131.73,489.42 131.4,487C131.07,484.58 130.7,481.42 130.7,479.1C130.7,476.78 130.42,474.25 131.4,473.1Z" fill="url(#speck)" />
<path d="M166.9,439.5C168.43,438.4 172.17,437.75 173.5,438.2C174.83,438.65 175.12,440.43 174.9,442.2C174.68,443.97 173.08,447.05 172.2,448.8C171.32,450.55 169.88,451.42 169.6,452.7C169.32,453.98 169.4,455.62 170.5,456.5C171.6,457.38 174.38,457.87 176.2,458C178.02,458.13 180.63,456.65 181.4,457.3C182.17,457.95 181.23,460.68 180.8,461.9C180.37,463.12 178.7,463.27 178.8,464.6C178.9,465.93 181.83,468.37 181.4,469.9C180.97,471.43 177.95,472.48 176.2,473.8C174.45,475.12 172.45,476.37 170.9,477.8C169.35,479.23 168,481.97 166.9,482.4C165.8,482.83 164.95,482.27 164.3,480.4C163.65,478.53 163.33,474.28 163,471.2C162.67,468.12 161.87,464.32 162.3,461.9C162.73,459.48 165.05,458.67 165.6,456.7C166.15,454.73 165.82,452.08 165.6,450.1C165.38,448.12 164.08,446.57 164.3,444.8C164.52,443.03 165.37,440.6 166.9,439.5Z" fill="url(#speck)" />
<path d="M63,455C63.78,454.25 66.25,454.92 68,455.5C69.75,456.08 72.17,457.25 73.5,458.5C74.83,459.75 75.92,461.58 76,463C76.08,464.42 74.58,465.17 74,467C73.42,468.83 73.17,472.5 72.5,474C71.83,475.5 70.92,476.33 70,476C69.08,475.67 67.92,473.67 67,472C66.08,470.33 65.12,468 64.5,466C63.88,464 63.55,461.83 63.3,460C63.05,458.17 62.22,455.75 63,455Z" fill="#c4bfc1" opacity="0.9"/>
<path d="M96,424C98.5,422.33 110.67,423 113,424C115.33,425 111.08,428 110,430C108.92,432 107.42,434.17 106.5,436C105.58,437.83 105.67,440.17 104.5,441C103.33,441.83 100.58,442.17 99.5,441C98.42,439.83 98.58,436.83 98,434C97.42,431.17 93.5,425.67 96,424Z" fill="#6a6266" opacity="0.85"/>
<path d="M60,418.7C60.93,418.2 63.83,416.95 66,416.3C68.17,415.65 71.78,414.92 73,414.8C74.22,414.68 74.47,415.13 73.3,415.6C72.13,416.07 68.15,416.98 66,417.6C63.85,418.22 61.4,419.12 60.4,419.3C59.4,419.48 59.07,419.2 60,418.7Z" fill="#d07060" />
<path d="M86,401.9C87.53,400.87 91.28,401.48 94.2,400.8C97.12,400.12 100.58,398.48 103.5,397.8C106.42,397.12 109.35,396.5 111.7,396.7C114.05,396.9 116.05,397.63 117.6,399C119.15,400.37 119.65,403.15 121,404.9C122.35,406.65 123.93,407.85 125.7,409.5C127.47,411.15 130.13,413.13 131.6,414.8C133.07,416.47 134.7,418.23 134.5,419.5C134.3,420.77 132.65,421.63 130.4,422.4C128.15,423.17 124.9,423.62 121,424.1C117.1,424.58 110.83,425.15 107,425.3C103.17,425.45 100.67,425.63 98,425C95.33,424.37 92.92,423.17 91,421.5C89.08,419.83 87.5,417.42 86.5,415C85.5,412.58 85.08,409.18 85,407C84.92,404.82 84.47,402.93 86,401.9Z" fill="url(#magHiBody)" stroke="#1a0a14" stroke-width="1.1" stroke-opacity="0.75"/>
<ellipse cx="116" cy="410" rx="14" ry="6.5" fill="url(#hiGlow)" clip-path="url(#bodyClip)"/>
<path d="M73.5,406C74.62,404.92 77.83,404.17 80,403.5C82.17,402.83 85.08,401.08 86.5,402C87.92,402.92 88.75,407 88.5,409C88.25,411 86.25,412.5 85,414C83.75,415.5 82,416.6 81,418C80,419.4 79.75,421.67 79,422.4C78.25,423.13 77.25,423.47 76.5,422.4C75.75,421.33 75.03,418.07 74.5,416C73.97,413.93 73.47,411.67 73.3,410C73.13,408.33 72.38,407.08 73.5,406Z" fill="url(#magHiLobe)" stroke="#1a0a14" stroke-width="1.1" stroke-opacity="0.75"/>
<path d="M92,419.5C93.5,419.17 96.25,421.67 96.5,423.5C96.75,425.33 94.83,428.75 93.5,430.5C92.17,432.25 90.13,433.58 88.5,434C86.87,434.42 84.62,433.75 83.7,433C82.78,432.25 82.37,430.75 83,429.5C83.63,428.25 86,427.17 87.5,425.5C89,423.83 90.5,419.83 92,419.5Z" fill="url(#magHiArm)" />
<path d="M98.3,424C99.78,422.97 107.17,423.4 108.5,424.3C109.83,425.2 106.72,427.78 106.3,429.4C105.88,431.02 105.3,432.25 106,434C106.7,435.75 109.35,438.13 110.5,439.9C111.65,441.67 112.7,442.85 112.9,444.6C113.1,446.35 113.07,449.1 111.7,450.4C110.33,451.7 107.23,452.37 104.7,452.4C102.17,452.43 98.55,451.72 96.5,450.6C94.45,449.48 92.78,447.48 92.4,445.7C92.02,443.92 93.17,441.65 94.2,439.9C95.23,438.15 97.7,436.77 98.6,435.2C99.5,433.63 99.65,432.37 99.6,430.5C99.55,428.63 96.82,425.03 98.3,424Z" fill="url(#magHiBot)" stroke="#1a0a14" stroke-width="1.1" stroke-opacity="0.75"/>
</g>
</g>
<g transform="matrix(0.9528 0 0 0.972 195.02 -170.07)">
<g>
<path d="M39.9,448.8C40.78,447.9 42.95,447.33 45.2,447.4C47.45,447.47 50.87,448.33 53.4,449.2C55.93,450.07 58.85,451.22 60.4,452.6C61.95,453.98 62.12,455.7 62.7,457.5C63.28,459.3 63.12,461.25 63.9,463.4C64.68,465.55 65.85,468.47 67.4,470.4C68.95,472.33 72.13,473.73 73.2,475C74.27,476.27 74.58,477.12 73.8,478C73.02,478.88 70.93,479.53 68.5,480.3C66.07,481.07 62.12,481.82 59.2,482.6C56.28,483.38 53.23,484.42 51,485C48.77,485.58 46.97,486.78 45.8,486.1C44.63,485.42 44.4,482.35 44,480.9C43.6,479.45 43.1,478.97 43.4,477.4C43.7,475.83 45.7,473.83 45.8,471.5C45.9,469.17 44.68,465.73 44,463.4C43.32,461.07 42.38,459.27 41.7,457.5C41.02,455.73 40.2,454.25 39.9,452.8C39.6,451.35 39.02,449.7 39.9,448.8Z" fill="#140a0e" />
<path d="M46,447.3C47.33,447.05 53,447.38 56,447.7C59,448.02 61.67,448.62 64,449.2C66.33,449.78 68.17,450.7 70,451.2C71.83,451.7 73.5,452 75,452.2C76.5,452.4 77.42,452.15 79,452.4C80.58,452.65 83.42,452.68 84.5,453.7C85.58,454.72 86.08,457.45 85.5,458.5C84.92,459.55 82.5,459.78 81,460C79.5,460.22 77.83,460.33 76.5,459.8C75.17,459.27 74.75,458.13 73,456.8C71.25,455.47 68.83,452.98 66,451.8C63.17,450.62 59,450.13 56,449.7C53,449.27 49.67,449.6 48,449.2C46.33,448.8 44.67,447.55 46,447.3Z" fill="#140a0e" />
<path d="M84.5,458.8C85.35,458.12 88,458.2 90.3,458.3C92.6,458.4 97.25,458.28 98.3,459.4C99.35,460.52 96.67,463.07 96.6,465C96.53,466.93 97.12,469.02 97.9,471C98.68,472.98 100.45,475.1 101.3,476.9C102.15,478.7 103.75,480.98 103,481.8C102.25,482.62 97.95,482.87 96.8,481.8C95.65,480.73 96.58,477.3 96.1,475.4C95.62,473.5 94.87,471.97 93.9,470.4C92.93,468.83 91.75,467.33 90.3,466C88.85,464.67 86.17,463.6 85.2,462.4C84.23,461.2 83.65,459.48 84.5,458.8Z" fill="#140a0e" />
<path d="M93.9,483.3C94.87,482.5 97.07,482.07 99,482.2C100.93,482.33 104.12,483.05 105.5,484.1C106.88,485.15 107.3,486.8 107.3,488.5C107.3,490.2 107.13,493.1 105.5,494.3C103.87,495.5 99.32,495.95 97.5,495.7C95.68,495.45 95.32,494.25 94.6,492.8C93.88,491.35 93.32,488.58 93.2,487C93.08,485.42 92.93,484.1 93.9,483.3Z" fill="#140a0e" />
<path d="M71.4,518.2C72.35,517.03 75.53,516.68 77.5,516C79.47,515.32 81.3,513.95 83.2,514.1C85.1,514.25 87.07,516.07 88.9,516.9C90.73,517.73 92.6,519.03 94.2,519.1C95.8,519.17 96.9,517.6 98.5,517.3C100.1,517 102.48,516.93 103.8,517.3C105.12,517.67 106.18,518.55 106.4,519.5C106.62,520.45 106.42,522.12 105.1,523C103.78,523.88 100.03,524.07 98.5,524.8C96.97,525.53 96.03,525.95 95.9,527.4C95.77,528.85 98.57,532.48 97.7,533.5C96.83,534.52 93.05,533.35 90.7,533.5C88.35,533.65 85.95,534.53 83.6,534.4C81.25,534.27 78.35,533.72 76.6,532.7C74.85,531.68 73.9,529.92 73.1,528.3C72.3,526.68 72.08,524.68 71.8,523C71.52,521.32 70.45,519.37 71.4,518.2Z" fill="#140a0e" />
<path d="M131.4,473.1C132.38,471.95 134.63,471.87 136.6,472.2C138.57,472.53 141.55,473.73 143.2,475.1C144.85,476.47 145.8,477.98 146.5,480.4C147.2,482.82 147.5,486.97 147.4,489.6C147.3,492.23 147.03,494.55 145.9,496.2C144.77,497.85 142.37,499.17 140.6,499.5C138.83,499.83 136.62,499.18 135.3,498.2C133.98,497.22 133.35,495.47 132.7,493.6C132.05,491.73 131.73,489.42 131.4,487C131.07,484.58 130.7,481.42 130.7,479.1C130.7,476.78 130.42,474.25 131.4,473.1Z" fill="#140a0e" />
<path d="M124,478.5C124.75,477.83 126.75,477.08 128,477C129.25,476.92 130.87,477 131.5,478C132.13,479 132.3,481.72 131.8,483C131.3,484.28 129.63,485.53 128.5,485.7C127.37,485.87 125.83,484.78 125,484C124.17,483.22 123.67,481.92 123.5,481C123.33,480.08 123.25,479.17 124,478.5Z" fill="#140a0e" />
<path d="M112.2,487.4C112.37,486.83 115.53,486.33 117,485.8C118.47,485.27 119.67,484.3 121,484.2C122.33,484.1 123.27,484.68 125,485.2C126.73,485.72 130.33,486.2 131.4,487.3C132.47,488.4 132.3,491.08 131.4,491.8C130.5,492.52 127.73,491.8 126,491.6C124.27,491.4 122.67,491 121,490.6C119.33,490.2 117.47,489.73 116,489.2C114.53,488.67 112.03,487.97 112.2,487.4Z" fill="#140a0e" />
<path d="M159.7,408.6C160.47,407.93 162.12,408.1 163,409.2C163.88,410.3 164.23,413.88 165,415.2C165.77,416.52 167.28,415.68 167.6,417.1C167.92,418.52 167.23,422.15 166.9,423.7C166.57,425.25 166.25,426.18 165.6,426.4C164.95,426.62 163.87,425.67 163,425C162.13,424.33 161.28,423.27 160.4,422.4C159.52,421.53 158.27,420.68 157.7,419.8C157.13,418.92 156.88,418.2 157,417.1C157.12,416 157.95,414.62 158.4,413.2C158.85,411.78 158.93,409.27 159.7,408.6Z" fill="#140a0e" />
<path d="M166.9,439.5C168.43,438.4 172.17,437.75 173.5,438.2C174.83,438.65 175.12,440.43 174.9,442.2C174.68,443.97 173.08,447.05 172.2,448.8C171.32,450.55 169.88,451.42 169.6,452.7C169.32,453.98 169.4,455.62 170.5,456.5C171.6,457.38 174.38,457.87 176.2,458C178.02,458.13 180.63,456.65 181.4,457.3C182.17,457.95 181.23,460.68 180.8,461.9C180.37,463.12 178.7,463.27 178.8,464.6C178.9,465.93 181.83,468.37 181.4,469.9C180.97,471.43 177.95,472.48 176.2,473.8C174.45,475.12 172.45,476.37 170.9,477.8C169.35,479.23 168,481.97 166.9,482.4C165.8,482.83 164.95,482.27 164.3,480.4C163.65,478.53 163.33,474.28 163,471.2C162.67,468.12 161.87,464.32 162.3,461.9C162.73,459.48 165.05,458.67 165.6,456.7C166.15,454.73 165.82,452.08 165.6,450.1C165.38,448.12 164.08,446.57 164.3,444.8C164.52,443.03 165.37,440.6 166.9,439.5Z" fill="#140a0e" />
<path d="M143.5,442.8C144.75,442.37 145,440.93 146,440.6C147,440.27 148.62,440.43 149.5,440.8C150.38,441.17 151.3,442.12 151.3,442.8C151.3,443.48 150.38,444.53 149.5,444.9C148.62,445.27 147,445.22 146,445C145,444.78 144.67,443.77 143.5,443.6C142.33,443.43 139.83,444.07 139,444C138.17,443.93 137.75,443.4 138.5,443.2C139.25,443 142.25,443.23 143.5,442.8Z" fill="#140a0e" />
<path d="M138.5,457.3C138.33,457 139.78,456.02 140.5,455.8C141.22,455.58 142.63,455.7 142.8,456C142.97,456.3 142.22,457.38 141.5,457.6C140.78,457.82 138.67,457.6 138.5,457.3Z" fill="#140a0e" />
<path d="M34.5,457C34.67,455.88 36.58,453.38 37.5,452.8C38.42,452.22 39.67,452.63 40,453.5C40.33,454.37 40.08,457 39.5,458C38.92,459 37.33,459.67 36.5,459.5C35.67,459.33 34.33,458.12 34.5,457Z" fill="#140a0e" />
<path d="M157.8,419.5C159,418.67 159.48,419.48 158.6,420.6C157.72,421.72 153.7,425.37 152.5,426.2C151.3,427.03 150.52,426.72 151.4,425.6C152.28,424.48 156.6,420.33 157.8,419.5Z" fill="#140a0e" />
<path d="M39.9,448.8C40.78,447.9 42.95,447.33 45.2,447.4C47.45,447.47 50.87,448.33 53.4,449.2C55.93,450.07 58.85,451.22 60.4,452.6C61.95,453.98 62.12,455.7 62.7,457.5C63.28,459.3 63.12,461.25 63.9,463.4C64.68,465.55 65.85,468.47 67.4,470.4C68.95,472.33 72.13,473.73 73.2,475C74.27,476.27 74.58,477.12 73.8,478C73.02,478.88 70.93,479.53 68.5,480.3C66.07,481.07 62.12,481.82 59.2,482.6C56.28,483.38 53.23,484.42 51,485C48.77,485.58 46.97,486.78 45.8,486.1C44.63,485.42 44.4,482.35 44,480.9C43.6,479.45 43.1,478.97 43.4,477.4C43.7,475.83 45.7,473.83 45.8,471.5C45.9,469.17 44.68,465.73 44,463.4C43.32,461.07 42.38,459.27 41.7,457.5C41.02,455.73 40.2,454.25 39.9,452.8C39.6,451.35 39.02,449.7 39.9,448.8Z" fill="url(#speck)" />
<path d="M93.9,483.3C94.87,482.5 97.07,482.07 99,482.2C100.93,482.33 104.12,483.05 105.5,484.1C106.88,485.15 107.3,486.8 107.3,488.5C107.3,490.2 107.13,493.1 105.5,494.3C103.87,495.5 99.32,495.95 97.5,495.7C95.68,495.45 95.32,494.25 94.6,492.8C93.88,491.35 93.32,488.58 93.2,487C93.08,485.42 92.93,484.1 93.9,483.3Z" fill="url(#speck)" />
<path d="M71.4,518.2C72.35,517.03 75.53,516.68 77.5,516C79.47,515.32 81.3,513.95 83.2,514.1C85.1,514.25 87.07,516.07 88.9,516.9C90.73,517.73 92.6,519.03 94.2,519.1C95.8,519.17 96.9,517.6 98.5,517.3C100.1,517 102.48,516.93 103.8,517.3C105.12,517.67 106.18,518.55 106.4,519.5C106.62,520.45 106.42,522.12 105.1,523C103.78,523.88 100.03,524.07 98.5,524.8C96.97,525.53 96.03,525.95 95.9,527.4C95.77,528.85 98.57,532.48 97.7,533.5C96.83,534.52 93.05,533.35 90.7,533.5C88.35,533.65 85.95,534.53 83.6,534.4C81.25,534.27 78.35,533.72 76.6,532.7C74.85,531.68 73.9,529.92 73.1,528.3C72.3,526.68 72.08,524.68 71.8,523C71.52,521.32 70.45,519.37 71.4,518.2Z" fill="url(#speck)" />
<path d="M131.4,473.1C132.38,471.95 134.63,471.87 136.6,472.2C138.57,472.53 141.55,473.73 143.2,475.1C144.85,476.47 145.8,477.98 146.5,480.4C147.2,482.82 147.5,486.97 147.4,489.6C147.3,492.23 147.03,494.55 145.9,496.2C144.77,497.85 142.37,499.17 140.6,499.5C138.83,499.83 136.62,499.18 135.3,498.2C133.98,497.22 133.35,495.47 132.7,493.6C132.05,491.73 131.73,489.42 131.4,487C131.07,484.58 130.7,481.42 130.7,479.1C130.7,476.78 130.42,474.25 131.4,473.1Z" fill="url(#speck)" />
<path d="M166.9,439.5C168.43,438.4 172.17,437.75 173.5,438.2C174.83,438.65 175.12,440.43 174.9,442.2C174.68,443.97 173.08,447.05 172.2,448.8C171.32,450.55 169.88,451.42 169.6,452.7C169.32,453.98 169.4,455.62 170.5,456.5C171.6,457.38 174.38,457.87 176.2,458C178.02,458.13 180.63,456.65 181.4,457.3C182.17,457.95 181.23,460.68 180.8,461.9C180.37,463.12 178.7,463.27 178.8,464.6C178.9,465.93 181.83,468.37 181.4,469.9C180.97,471.43 177.95,472.48 176.2,473.8C174.45,475.12 172.45,476.37 170.9,477.8C169.35,479.23 168,481.97 166.9,482.4C165.8,482.83 164.95,482.27 164.3,480.4C163.65,478.53 163.33,474.28 163,471.2C162.67,468.12 161.87,464.32 162.3,461.9C162.73,459.48 165.05,458.67 165.6,456.7C166.15,454.73 165.82,452.08 165.6,450.1C165.38,448.12 164.08,446.57 164.3,444.8C164.52,443.03 165.37,440.6 166.9,439.5Z" fill="url(#speck)" />
<path d="M63,455C63.78,454.25 66.25,454.92 68,455.5C69.75,456.08 72.17,457.25 73.5,458.5C74.83,459.75 75.92,461.58 76,463C76.08,464.42 74.58,465.17 74,467C73.42,468.83 73.17,472.5 72.5,474C71.83,475.5 70.92,476.33 70,476C69.08,475.67 67.92,473.67 67,472C66.08,470.33 65.12,468 64.5,466C63.88,464 63.55,461.83 63.3,460C63.05,458.17 62.22,455.75 63,455Z" fill="#c4bfc1" opacity="0.9"/>
<path d="M96,424C98.5,422.33 110.67,423 113,424C115.33,425 111.08,428 110,430C108.92,432 107.42,434.17 106.5,436C105.58,437.83 105.67,440.17 104.5,441C103.33,441.83 100.58,442.17 99.5,441C98.42,439.83 98.58,436.83 98,434C97.42,431.17 93.5,425.67 96,424Z" fill="#6a6266" opacity="0.85"/>
<path d="M60,418.7C60.93,418.2 63.83,416.95 66,416.3C68.17,415.65 71.78,414.92 73,414.8C74.22,414.68 74.47,415.13 73.3,415.6C72.13,416.07 68.15,416.98 66,417.6C63.85,418.22 61.4,419.12 60.4,419.3C59.4,419.48 59.07,419.2 60,418.7Z" fill="#b06070" />
<path d="M86,401.9C87.53,400.87 91.28,401.48 94.2,400.8C97.12,400.12 100.58,398.48 103.5,397.8C106.42,397.12 109.35,396.5 111.7,396.7C114.05,396.9 116.05,397.63 117.6,399C119.15,400.37 119.65,403.15 121,404.9C122.35,406.65 123.93,407.85 125.7,409.5C127.47,411.15 130.13,413.13 131.6,414.8C133.07,416.47 134.7,418.23 134.5,419.5C134.3,420.77 132.65,421.63 130.4,422.4C128.15,423.17 124.9,423.62 121,424.1C117.1,424.58 110.83,425.15 107,425.3C103.17,425.45 100.67,425.63 98,425C95.33,424.37 92.92,423.17 91,421.5C89.08,419.83 87.5,417.42 86.5,415C85.5,412.58 85.08,409.18 85,407C84.92,404.82 84.47,402.93 86,401.9Z" fill="url(#magLoBody)" stroke="#1a0a14" stroke-width="1.1" stroke-opacity="0.75"/>
<ellipse cx="112" cy="404" rx="13" ry="6.5" fill="url(#hiGlow)" opacity="0.8" clip-path="url(#bodyClip)"/>
<path d="M73.5,406C74.62,404.92 77.83,404.17 80,403.5C82.17,402.83 85.08,401.08 86.5,402C87.92,402.92 88.75,407 88.5,409C88.25,411 86.25,412.5 85,414C83.75,415.5 82,416.6 81,418C80,419.4 79.75,421.67 79,422.4C78.25,423.13 77.25,423.47 76.5,422.4C75.75,421.33 75.03,418.07 74.5,416C73.97,413.93 73.47,411.67 73.3,410C73.13,408.33 72.38,407.08 73.5,406Z" fill="url(#magLoLobe)" stroke="#1a0a14" stroke-width="1.1" stroke-opacity="0.75"/>
<path d="M92,419.5C93.5,419.17 96.25,421.67 96.5,423.5C96.75,425.33 94.83,428.75 93.5,430.5C92.17,432.25 90.13,433.58 88.5,434C86.87,434.42 84.62,433.75 83.7,433C82.78,432.25 82.37,430.75 83,429.5C83.63,428.25 86,427.17 87.5,425.5C89,423.83 90.5,419.83 92,419.5Z" fill="#1E0820" />
<path d="M98.3,424C99.78,422.97 107.17,423.4 108.5,424.3C109.83,425.2 106.72,427.78 106.3,429.4C105.88,431.02 105.3,432.25 106,434C106.7,435.75 109.35,438.13 110.5,439.9C111.65,441.67 112.7,442.85 112.9,444.6C113.1,446.35 113.07,449.1 111.7,450.4C110.33,451.7 107.23,452.37 104.7,452.4C102.17,452.43 98.55,451.72 96.5,450.6C94.45,449.48 92.78,447.48 92.4,445.7C92.02,443.92 93.17,441.65 94.2,439.9C95.23,438.15 97.7,436.77 98.6,435.2C99.5,433.63 99.65,432.37 99.6,430.5C99.55,428.63 96.82,425.03 98.3,424Z" fill="url(#magLoBot)" stroke="#1a0a14" stroke-width="1.1" stroke-opacity="0.75"/>
</g>
</g>
</g>
<line x1="28.4" y1="194" x2="28.4" y2="356.3" stroke="#000" stroke-width="1.3" />
<line x1="27.8" y1="355.7" x2="190.8" y2="355.7" stroke="#000" stroke-width="1.3" />
<line x1="24.2" y1="221.3" x2="28.4" y2="221.3" stroke="#000" stroke-width="1.3" />
<text x="24" y="224.3" font-size="8.4" font-weight="bold" text-anchor="end" >10</text>
<line x1="24.2" y1="270" x2="28.4" y2="270" stroke="#000" stroke-width="1.3" />
<text x="24" y="273" font-size="8.4" font-weight="bold" text-anchor="end" >0</text>
<line x1="24.2" y1="318.5" x2="28.4" y2="318.5" stroke="#000" stroke-width="1.3" />
<text x="24" y="321.5" font-size="8.4" font-weight="bold" text-anchor="end" >−10</text>
<line x1="51.1" y1="355.7" x2="51.1" y2="359.9" stroke="#000" stroke-width="1.3" />
<text x="51.1" y="369.1" font-size="8.4" font-weight="bold" text-anchor="middle" >−10</text>
<line x1="101.4" y1="355.7" x2="101.4" y2="359.9" stroke="#000" stroke-width="1.3" />
<text x="101.4" y="369.1" font-size="8.4" font-weight="bold" text-anchor="middle" >0</text>
<line x1="152.1" y1="355.7" x2="152.1" y2="359.9" stroke="#000" stroke-width="1.3" />
<text x="152.1" y="369.1" font-size="8.4" font-weight="bold" text-anchor="middle" >10</text>
<line x1="216.2" y1="194" x2="216.2" y2="356.8" stroke="#000" stroke-width="1.3" />
<line x1="215.6" y1="356.2" x2="378.3" y2="356.2" stroke="#000" stroke-width="1.3" />
<line x1="212" y1="221.3" x2="216.2" y2="221.3" stroke="#000" stroke-width="1.3" />
<text x="211.8" y="224.3" font-size="8.4" font-weight="bold" text-anchor="end" >10</text>
<line x1="212" y1="270" x2="216.2" y2="270" stroke="#000" stroke-width="1.3" />
<text x="211.8" y="273" font-size="8.4" font-weight="bold" text-anchor="end" >0</text>
<line x1="212" y1="318.5" x2="216.2" y2="318.5" stroke="#000" stroke-width="1.3" />
<text x="211.8" y="321.5" font-size="8.4" font-weight="bold" text-anchor="end" >−10</text>
<line x1="239" y1="356.2" x2="239" y2="360.4" stroke="#000" stroke-width="1.3" />
<text x="239" y="369.6" font-size="8.4" font-weight="bold" text-anchor="middle" >−10</text>
<line x1="289.4" y1="356.2" x2="289.4" y2="360.4" stroke="#000" stroke-width="1.3" />
<text x="289.4" y="369.6" font-size="8.4" font-weight="bold" text-anchor="middle" >0</text>
<line x1="339.8" y1="356.2" x2="339.8" y2="360.4" stroke="#000" stroke-width="1.3" />
<text x="339.8" y="369.6" font-size="8.4" font-weight="bold" text-anchor="middle" >10</text>
<text x="7.7" y="267.4" font-size="8.6" font-weight="bold" text-anchor="middle" transform="rotate(-90 7.7 267.4)" >UMAP_2</text>
<line x1="303.3" y1="212.6" x2="306.6" y2="206.6" stroke="#2a1a22" stroke-width="0.9" />
<rect x="379.9" y="231.9" width="10" height="49.8" fill="url(#magma)" />
<line x1="379.9" y1="247.4" x2="381.8" y2="247.4" stroke="#fff" stroke-width="0.8" />
<line x1="388" y1="247.4" x2="389.9" y2="247.4" stroke="#fff" stroke-width="0.8" />
<text x="395.2" y="250.3" font-size="8" >2</text>
<line x1="379.9" y1="264.5" x2="381.8" y2="264.5" stroke="#fff" stroke-width="0.8" />
<line x1="388" y1="264.5" x2="389.9" y2="264.5" stroke="#fff" stroke-width="0.8" />
<text x="395.2" y="267.4" font-size="8" >1</text>
<line x1="379.9" y1="281.7" x2="381.8" y2="281.7" stroke="#fff" stroke-width="0.8" />
<line x1="388" y1="281.7" x2="389.9" y2="281.7" stroke="#fff" stroke-width="0.8" />
<text x="395.2" y="284.6" font-size="8" >0</text>
<text x="108" y="385.3" font-size="8.5" font-weight="bold" text-anchor="middle" >ParentalCluster</text>
<text x="296.5" y="385.3" font-size="8.5" font-weight="bold" text-anchor="middle" >ParentalCluster</text>
<g filter="url(#rough)">
<path d="M86,401.9C87.53,400.87 91.28,401.48 94.2,400.8C97.12,400.12 100.58,398.48 103.5,397.8C106.42,397.12 109.35,396.5 111.7,396.7C114.05,396.9 116.05,397.63 117.6,399C119.15,400.37 119.65,403.15 121,404.9C122.35,406.65 123.93,407.85 125.7,409.5C127.47,411.15 130.13,413.13 131.6,414.8C133.07,416.47 134.7,418.23 134.5,419.5C134.3,420.77 132.65,421.63 130.4,422.4C128.15,423.17 124.9,423.62 121,424.1C117.1,424.58 110.83,425.15 107,425.3C103.17,425.45 100.67,425.63 98,425C95.33,424.37 92.92,423.17 91,421.5C89.08,419.83 87.5,417.42 86.5,415C85.5,412.58 85.08,409.18 85,407C84.92,404.82 84.47,402.93 86,401.9Z" fill="#1FA9D6" />
<path d="M73.5,406C74.62,404.92 77.83,404.17 80,403.5C82.17,402.83 85.08,401.08 86.5,402C87.92,402.92 88.75,407 88.5,409C88.25,411 86.25,412.5 85,414C83.75,415.5 82,416.6 81,418C80,419.4 79.75,421.67 79,422.4C78.25,423.13 77.25,423.47 76.5,422.4C75.75,421.33 75.03,418.07 74.5,416C73.97,413.93 73.47,411.67 73.3,410C73.13,408.33 72.38,407.08 73.5,406Z" fill="#1FA9D6" />
<path d="M98.3,424C99.78,422.97 107.17,423.4 108.5,424.3C109.83,425.2 106.72,427.78 106.3,429.4C105.88,431.02 105.3,432.25 106,434C106.7,435.75 109.35,438.13 110.5,439.9C111.65,441.67 112.7,442.85 112.9,444.6C113.1,446.35 113.07,449.1 111.7,450.4C110.33,451.7 107.23,452.37 104.7,452.4C102.17,452.43 98.55,451.72 96.5,450.6C94.45,449.48 92.78,447.48 92.4,445.7C92.02,443.92 93.17,441.65 94.2,439.9C95.23,438.15 97.7,436.77 98.6,435.2C99.5,433.63 99.65,432.37 99.6,430.5C99.55,428.63 96.82,425.03 98.3,424Z" fill="#1FA9D6" />
<path d="M92,419.5C93.5,419.17 96.25,421.67 96.5,423.5C96.75,425.33 94.83,428.75 93.5,430.5C92.17,432.25 90.13,433.58 88.5,434C86.87,434.42 84.62,433.75 83.7,433C82.78,432.25 82.37,430.75 83,429.5C83.63,428.25 86,427.17 87.5,425.5C89,423.83 90.5,419.83 92,419.5Z" fill="#33A84A" />
<path d="M88,418C89,417.75 93,419.83 96,420.5C99,421.17 102.33,421.83 106,422C109.67,422.17 114.33,421.92 118,421.5C121.67,421.08 125.42,420 128,419.5C130.58,419 132.67,418.17 133.5,418.5C134.33,418.83 134.58,420.62 133,421.5C131.42,422.38 127.83,423.22 124,423.8C120.17,424.38 114.5,424.83 110,425C105.5,425.17 100.33,425.3 97,424.8C93.67,424.3 91.5,423.13 90,422C88.5,420.87 87,418.25 88,418Z" fill="#33A84A" opacity="0.8"/>
<path d="M74,406C74.58,404.33 77,403.33 78,404C79,404.67 80,407.5 80,410C80,412.5 78.67,417.17 78,419C77.33,420.83 76.58,421.83 76,421C75.42,420.17 74.83,416.5 74.5,414C74.17,411.5 73.42,407.67 74,406Z" fill="#33A84A" opacity="0.7"/>
<path d="M102,427C102.92,426.5 104.58,426.67 105,428C105.42,429.33 105.17,433.67 104.5,435C103.83,436.33 101.83,436.67 101,436C100.17,435.33 99.33,432.5 99.5,431C99.67,429.5 101.08,427.5 102,427Z" fill="#33A84A" opacity="0.5"/>
<path d="M60,418.7C60.93,418.2 63.83,416.95 66,416.3C68.17,415.65 71.78,414.92 73,414.8C74.22,414.68 74.47,415.13 73.3,415.6C72.13,416.07 68.15,416.98 66,417.6C63.85,418.22 61.4,419.12 60.4,419.3C59.4,419.48 59.07,419.2 60,418.7Z" fill="#1FA9D6" />
<g>
<path d="M63,455C63.78,454.25 66.25,454.92 68,455.5C69.75,456.08 72.17,457.25 73.5,458.5C74.83,459.75 75.92,461.58 76,463C76.08,464.42 74.58,465.17 74,467C73.42,468.83 73.17,472.5 72.5,474C71.83,475.5 70.92,476.33 70,476C69.08,475.67 67.92,473.67 67,472C66.08,470.33 65.12,468 64.5,466C63.88,464 63.55,461.83 63.3,460C63.05,458.17 62.22,455.75 63,455Z" fill="#E8609A" opacity="0.35"/>
</g>
<path d="M39.9,448.8C40.78,447.9 42.95,447.33 45.2,447.4C47.45,447.47 50.87,448.33 53.4,449.2C55.93,450.07 58.85,451.22 60.4,452.6C61.95,453.98 62.12,455.7 62.7,457.5C63.28,459.3 63.12,461.25 63.9,463.4C64.68,465.55 65.85,468.47 67.4,470.4C68.95,472.33 72.13,473.73 73.2,475C74.27,476.27 74.58,477.12 73.8,478C73.02,478.88 70.93,479.53 68.5,480.3C66.07,481.07 62.12,481.82 59.2,482.6C56.28,483.38 53.23,484.42 51,485C48.77,485.58 46.97,486.78 45.8,486.1C44.63,485.42 44.4,482.35 44,480.9C43.6,479.45 43.1,478.97 43.4,477.4C43.7,475.83 45.7,473.83 45.8,471.5C45.9,469.17 44.68,465.73 44,463.4C43.32,461.07 42.38,459.27 41.7,457.5C41.02,455.73 40.2,454.25 39.9,452.8C39.6,451.35 39.02,449.7 39.9,448.8Z" fill="url(#tcellGrad)" />
<path d="M46,447.3C47.33,447.05 53,447.38 56,447.7C59,448.02 61.67,448.62 64,449.2C66.33,449.78 68.17,450.7 70,451.2C71.83,451.7 73.5,452 75,452.2C76.5,452.4 77.42,452.15 79,452.4C80.58,452.65 83.42,452.68 84.5,453.7C85.58,454.72 86.08,457.45 85.5,458.5C84.92,459.55 82.5,459.78 81,460C79.5,460.22 77.83,460.33 76.5,459.8C75.17,459.27 74.75,458.13 73,456.8C71.25,455.47 68.83,452.98 66,451.8C63.17,450.62 59,450.13 56,449.7C53,449.27 49.67,449.6 48,449.2C46.33,448.8 44.67,447.55 46,447.3Z" fill="#E4659F" />
<path d="M84.5,458.8C85.35,458.12 88,458.2 90.3,458.3C92.6,458.4 97.25,458.28 98.3,459.4C99.35,460.52 96.67,463.07 96.6,465C96.53,466.93 97.12,469.02 97.9,471C98.68,472.98 100.45,475.1 101.3,476.9C102.15,478.7 103.75,480.98 103,481.8C102.25,482.62 97.95,482.87 96.8,481.8C95.65,480.73 96.58,477.3 96.1,475.4C95.62,473.5 94.87,471.97 93.9,470.4C92.93,468.83 91.75,467.33 90.3,466C88.85,464.67 86.17,463.6 85.2,462.4C84.23,461.2 83.65,459.48 84.5,458.8Z" fill="#E8736A" />
<path d="M93.9,483.3C94.87,482.5 97.07,482.07 99,482.2C100.93,482.33 104.12,483.05 105.5,484.1C106.88,485.15 107.3,486.8 107.3,488.5C107.3,490.2 107.13,493.1 105.5,494.3C103.87,495.5 99.32,495.95 97.5,495.7C95.68,495.45 95.32,494.25 94.6,492.8C93.88,491.35 93.32,488.58 93.2,487C93.08,485.42 92.93,484.1 93.9,483.3Z" fill="#EA746A" />
<path d="M71.4,518.2C72.35,517.03 75.53,516.68 77.5,516C79.47,515.32 81.3,513.95 83.2,514.1C85.1,514.25 87.07,516.07 88.9,516.9C90.73,517.73 92.6,519.03 94.2,519.1C95.8,519.17 96.9,517.6 98.5,517.3C100.1,517 102.48,516.93 103.8,517.3C105.12,517.67 106.18,518.55 106.4,519.5C106.62,520.45 106.42,522.12 105.1,523C103.78,523.88 100.03,524.07 98.5,524.8C96.97,525.53 96.03,525.95 95.9,527.4C95.77,528.85 98.57,532.48 97.7,533.5C96.83,534.52 93.05,533.35 90.7,533.5C88.35,533.65 85.95,534.53 83.6,534.4C81.25,534.27 78.35,533.72 76.6,532.7C74.85,531.68 73.9,529.92 73.1,528.3C72.3,526.68 72.08,524.68 71.8,523C71.52,521.32 70.45,519.37 71.4,518.2Z" fill="#BA6FB3" />
<path d="M131.4,473.1C132.38,471.95 134.63,471.87 136.6,472.2C138.57,472.53 141.55,473.73 143.2,475.1C144.85,476.47 145.8,477.98 146.5,480.4C147.2,482.82 147.5,486.97 147.4,489.6C147.3,492.23 147.03,494.55 145.9,496.2C144.77,497.85 142.37,499.17 140.6,499.5C138.83,499.83 136.62,499.18 135.3,498.2C133.98,497.22 133.35,495.47 132.7,493.6C132.05,491.73 131.73,489.42 131.4,487C131.07,484.58 130.7,481.42 130.7,479.1C130.7,476.78 130.42,474.25 131.4,473.1Z" fill="#7E8BCB" />
<path d="M112.2,487.4C112.37,486.83 115.53,486.33 117,485.8C118.47,485.27 119.67,484.3 121,484.2C122.33,484.1 123.27,484.68 125,485.2C126.73,485.72 130.33,486.2 131.4,487.3C132.47,488.4 132.3,491.08 131.4,491.8C130.5,492.52 127.73,491.8 126,491.6C124.27,491.4 122.67,491 121,490.6C119.33,490.2 117.47,489.73 116,489.2C114.53,488.67 112.03,487.97 112.2,487.4Z" fill="#A9A234" />
<path d="M124,478.5C124.75,477.83 126.75,477.08 128,477C129.25,476.92 130.87,477 131.5,478C132.13,479 132.3,481.72 131.8,483C131.3,484.28 129.63,485.53 128.5,485.7C127.37,485.87 125.83,484.78 125,484C124.17,483.22 123.67,481.92 123.5,481C123.33,480.08 123.25,479.17 124,478.5Z" fill="#D96CB8" />
<path d="M159.7,408.6C160.47,407.93 162.12,408.1 163,409.2C163.88,410.3 164.23,413.88 165,415.2C165.77,416.52 167.28,415.68 167.6,417.1C167.92,418.52 167.23,422.15 166.9,423.7C166.57,425.25 166.25,426.18 165.6,426.4C164.95,426.62 163.87,425.67 163,425C162.13,424.33 161.28,423.27 160.4,422.4C159.52,421.53 158.27,420.68 157.7,419.8C157.13,418.92 156.88,418.2 157,417.1C157.12,416 157.95,414.62 158.4,413.2C158.85,411.78 158.93,409.27 159.7,408.6Z" fill="#8AAA33" />
<path d="M157.8,419.5C159,418.67 159.48,419.48 158.6,420.6C157.72,421.72 153.7,425.37 152.5,426.2C151.3,427.03 150.52,426.72 151.4,425.6C152.28,424.48 156.6,420.33 157.8,419.5Z" fill="#8AAA33" />
<path d="M166.9,439.5C168.43,438.4 172.17,437.75 173.5,438.2C174.83,438.65 175.12,440.43 174.9,442.2C174.68,443.97 173.08,447.05 172.2,448.8C171.32,450.55 169.88,451.42 169.6,452.7C169.32,453.98 169.4,455.62 170.5,456.5C171.6,457.38 174.38,457.87 176.2,458C178.02,458.13 180.63,456.65 181.4,457.3C182.17,457.95 181.23,460.68 180.8,461.9C180.37,463.12 178.7,463.27 178.8,464.6C178.9,465.93 181.83,468.37 181.4,469.9C180.97,471.43 177.95,472.48 176.2,473.8C174.45,475.12 172.45,476.37 170.9,477.8C169.35,479.23 168,481.97 166.9,482.4C165.8,482.83 164.95,482.27 164.3,480.4C163.65,478.53 163.33,474.28 163,471.2C162.67,468.12 161.87,464.32 162.3,461.9C162.73,459.48 165.05,458.67 165.6,456.7C166.15,454.73 165.82,452.08 165.6,450.1C165.38,448.12 164.08,446.57 164.3,444.8C164.52,443.03 165.37,440.6 166.9,439.5Z" fill="#35AD62" />
<path d="M143.5,442.8C144.75,442.37 145,440.93 146,440.6C147,440.27 148.62,440.43 149.5,440.8C150.38,441.17 151.3,442.12 151.3,442.8C151.3,443.48 150.38,444.53 149.5,444.9C148.62,445.27 147,445.22 146,445C145,444.78 144.67,443.77 143.5,443.6C142.33,443.43 139.83,444.07 139,444C138.17,443.93 137.75,443.4 138.5,443.2C139.25,443 142.25,443.23 143.5,442.8Z" fill="#2D96DC" />
<path d="M138.5,457.3C138.33,457 139.78,456.02 140.5,455.8C141.22,455.58 142.63,455.7 142.8,456C142.97,456.3 142.22,457.38 141.5,457.6C140.78,457.82 138.67,457.6 138.5,457.3Z" fill="#2BB59E" />
<path d="M34.5,457C34.67,455.88 36.58,453.38 37.5,452.8C38.42,452.22 39.67,452.63 40,453.5C40.33,454.37 40.08,457 39.5,458C38.92,459 37.33,459.67 36.5,459.5C35.67,459.33 34.33,458.12 34.5,457Z" fill="#23B0B8" />
<g transform="translate(188.9 1.8)">
<path d="M86,401.9C87.53,400.87 91.28,401.48 94.2,400.8C97.12,400.12 100.58,398.48 103.5,397.8C106.42,397.12 109.35,396.5 111.7,396.7C114.05,396.9 116.05,397.63 117.6,399C119.15,400.37 119.65,403.15 121,404.9C122.35,406.65 123.93,407.85 125.7,409.5C127.47,411.15 130.13,413.13 131.6,414.8C133.07,416.47 134.7,418.23 134.5,419.5C134.3,420.77 132.65,421.63 130.4,422.4C128.15,423.17 124.9,423.62 121,424.1C117.1,424.58 110.83,425.15 107,425.3C103.17,425.45 100.67,425.63 98,425C95.33,424.37 92.92,423.17 91,421.5C89.08,419.83 87.5,417.42 86.5,415C85.5,412.58 85.08,409.18 85,407C84.92,404.82 84.47,402.93 86,401.9Z" fill="#33A84A" />
<path d="M73.5,406C74.62,404.92 77.83,404.17 80,403.5C82.17,402.83 85.08,401.08 86.5,402C87.92,402.92 88.75,407 88.5,409C88.25,411 86.25,412.5 85,414C83.75,415.5 82,416.6 81,418C80,419.4 79.75,421.67 79,422.4C78.25,423.13 77.25,423.47 76.5,422.4C75.75,421.33 75.03,418.07 74.5,416C73.97,413.93 73.47,411.67 73.3,410C73.13,408.33 72.38,407.08 73.5,406Z" fill="#33A84A" />
<path d="M98.3,424C99.78,422.97 107.17,423.4 108.5,424.3C109.83,425.2 106.72,427.78 106.3,429.4C105.88,431.02 105.3,432.25 106,434C106.7,435.75 109.35,438.13 110.5,439.9C111.65,441.67 112.7,442.85 112.9,444.6C113.1,446.35 113.07,449.1 111.7,450.4C110.33,451.7 107.23,452.37 104.7,452.4C102.17,452.43 98.55,451.72 96.5,450.6C94.45,449.48 92.78,447.48 92.4,445.7C92.02,443.92 93.17,441.65 94.2,439.9C95.23,438.15 97.7,436.77 98.6,435.2C99.5,433.63 99.65,432.37 99.6,430.5C99.55,428.63 96.82,425.03 98.3,424Z" fill="#1FA9D6" />
<path d="M92,419.5C93.5,419.17 96.25,421.67 96.5,423.5C96.75,425.33 94.83,428.75 93.5,430.5C92.17,432.25 90.13,433.58 88.5,434C86.87,434.42 84.62,433.75 83.7,433C82.78,432.25 82.37,430.75 83,429.5C83.63,428.25 86,427.17 87.5,425.5C89,423.83 90.5,419.83 92,419.5Z" fill="#33A84A" />
<path d="M98,410C99.08,407.92 100.67,405.67 103,404.5C105.33,403.33 109.17,403 112,403C114.83,403 117.92,403.33 120,404.5C122.08,405.67 123.25,408.08 124.5,410C125.75,411.92 127.42,414.25 127.5,416C127.58,417.75 126.75,419.42 125,420.5C123.25,421.58 120,422 117,422.5C114,423 109.83,423.5 107,423.5C104.17,423.5 101.75,423.58 100,422.5C98.25,421.42 96.83,419.08 96.5,417C96.17,414.92 96.92,412.08 98,410Z" fill="#1FA9D6" />
<path d="M76,407C76.83,405.92 79.67,405.17 81,405.5C82.33,405.83 83.83,407.58 84,409C84.17,410.42 83,412.83 82,414C81,415.17 79,416.33 78,416C77,415.67 76.33,413.5 76,412C75.67,410.5 75.17,408.08 76,407Z" fill="#1FA9D6" opacity="0.8"/>
<path d="M101,424C101.92,423.08 105.25,423.5 106,424.5C106.75,425.5 106,428.58 105.5,430C105,431.42 103.83,433 103,433C102.17,433 100.83,431.5 100.5,430C100.17,428.5 100.08,424.92 101,424Z" fill="#1FA9D6" opacity="0.8"/>
<path d="M97,439C97.5,438 101,436.5 103,436.5C105,436.5 108.33,438.08 109,439C109.67,439.92 108.5,441.42 107,442C105.5,442.58 101.67,443 100,442.5C98.33,442 96.5,440 97,439Z" fill="#33A84A" opacity="0.6"/>
<path d="M60,418.7C60.93,418.2 63.83,416.95 66,416.3C68.17,415.65 71.78,414.92 73,414.8C74.22,414.68 74.47,415.13 73.3,415.6C72.13,416.07 68.15,416.98 66,417.6C63.85,418.22 61.4,419.12 60.4,419.3C59.4,419.48 59.07,419.2 60,418.7Z" fill="#3DB27A" />
<g>
<path d="M63,455C63.78,454.25 66.25,454.92 68,455.5C69.75,456.08 72.17,457.25 73.5,458.5C74.83,459.75 75.92,461.58 76,463C76.08,464.42 74.58,465.17 74,467C73.42,468.83 73.17,472.5 72.5,474C71.83,475.5 70.92,476.33 70,476C69.08,475.67 67.92,473.67 67,472C66.08,470.33 65.12,468 64.5,466C63.88,464 63.55,461.83 63.3,460C63.05,458.17 62.22,455.75 63,455Z" fill="#E8609A" opacity="0.35"/>
</g>
<path d="M39.9,448.8C40.78,447.9 42.95,447.33 45.2,447.4C47.45,447.47 50.87,448.33 53.4,449.2C55.93,450.07 58.85,451.22 60.4,452.6C61.95,453.98 62.12,455.7 62.7,457.5C63.28,459.3 63.12,461.25 63.9,463.4C64.68,465.55 65.85,468.47 67.4,470.4C68.95,472.33 72.13,473.73 73.2,475C74.27,476.27 74.58,477.12 73.8,478C73.02,478.88 70.93,479.53 68.5,480.3C66.07,481.07 62.12,481.82 59.2,482.6C56.28,483.38 53.23,484.42 51,485C48.77,485.58 46.97,486.78 45.8,486.1C44.63,485.42 44.4,482.35 44,480.9C43.6,479.45 43.1,478.97 43.4,477.4C43.7,475.83 45.7,473.83 45.8,471.5C45.9,469.17 44.68,465.73 44,463.4C43.32,461.07 42.38,459.27 41.7,457.5C41.02,455.73 40.2,454.25 39.9,452.8C39.6,451.35 39.02,449.7 39.9,448.8Z" fill="url(#tcellGrad)" />
<path d="M46,447.3C47.33,447.05 53,447.38 56,447.7C59,448.02 61.67,448.62 64,449.2C66.33,449.78 68.17,450.7 70,451.2C71.83,451.7 73.5,452 75,452.2C76.5,452.4 77.42,452.15 79,452.4C80.58,452.65 83.42,452.68 84.5,453.7C85.58,454.72 86.08,457.45 85.5,458.5C84.92,459.55 82.5,459.78 81,460C79.5,460.22 77.83,460.33 76.5,459.8C75.17,459.27 74.75,458.13 73,456.8C71.25,455.47 68.83,452.98 66,451.8C63.17,450.62 59,450.13 56,449.7C53,449.27 49.67,449.6 48,449.2C46.33,448.8 44.67,447.55 46,447.3Z" fill="#E4659F" />
<path d="M84.5,458.8C85.35,458.12 88,458.2 90.3,458.3C92.6,458.4 97.25,458.28 98.3,459.4C99.35,460.52 96.67,463.07 96.6,465C96.53,466.93 97.12,469.02 97.9,471C98.68,472.98 100.45,475.1 101.3,476.9C102.15,478.7 103.75,480.98 103,481.8C102.25,482.62 97.95,482.87 96.8,481.8C95.65,480.73 96.58,477.3 96.1,475.4C95.62,473.5 94.87,471.97 93.9,470.4C92.93,468.83 91.75,467.33 90.3,466C88.85,464.67 86.17,463.6 85.2,462.4C84.23,461.2 83.65,459.48 84.5,458.8Z" fill="#E8736A" />
<path d="M93.9,483.3C94.87,482.5 97.07,482.07 99,482.2C100.93,482.33 104.12,483.05 105.5,484.1C106.88,485.15 107.3,486.8 107.3,488.5C107.3,490.2 107.13,493.1 105.5,494.3C103.87,495.5 99.32,495.95 97.5,495.7C95.68,495.45 95.32,494.25 94.6,492.8C93.88,491.35 93.32,488.58 93.2,487C93.08,485.42 92.93,484.1 93.9,483.3Z" fill="#EA746A" />
<path d="M71.4,518.2C72.35,517.03 75.53,516.68 77.5,516C79.47,515.32 81.3,513.95 83.2,514.1C85.1,514.25 87.07,516.07 88.9,516.9C90.73,517.73 92.6,519.03 94.2,519.1C95.8,519.17 96.9,517.6 98.5,517.3C100.1,517 102.48,516.93 103.8,517.3C105.12,517.67 106.18,518.55 106.4,519.5C106.62,520.45 106.42,522.12 105.1,523C103.78,523.88 100.03,524.07 98.5,524.8C96.97,525.53 96.03,525.95 95.9,527.4C95.77,528.85 98.57,532.48 97.7,533.5C96.83,534.52 93.05,533.35 90.7,533.5C88.35,533.65 85.95,534.53 83.6,534.4C81.25,534.27 78.35,533.72 76.6,532.7C74.85,531.68 73.9,529.92 73.1,528.3C72.3,526.68 72.08,524.68 71.8,523C71.52,521.32 70.45,519.37 71.4,518.2Z" fill="#BA6FB3" />
<path d="M131.4,473.1C132.38,471.95 134.63,471.87 136.6,472.2C138.57,472.53 141.55,473.73 143.2,475.1C144.85,476.47 145.8,477.98 146.5,480.4C147.2,482.82 147.5,486.97 147.4,489.6C147.3,492.23 147.03,494.55 145.9,496.2C144.77,497.85 142.37,499.17 140.6,499.5C138.83,499.83 136.62,499.18 135.3,498.2C133.98,497.22 133.35,495.47 132.7,493.6C132.05,491.73 131.73,489.42 131.4,487C131.07,484.58 130.7,481.42 130.7,479.1C130.7,476.78 130.42,474.25 131.4,473.1Z" fill="#7E8BCB" />
<path d="M112.2,487.4C112.37,486.83 115.53,486.33 117,485.8C118.47,485.27 119.67,484.3 121,484.2C122.33,484.1 123.27,484.68 125,485.2C126.73,485.72 130.33,486.2 131.4,487.3C132.47,488.4 132.3,491.08 131.4,491.8C130.5,492.52 127.73,491.8 126,491.6C124.27,491.4 122.67,491 121,490.6C119.33,490.2 117.47,489.73 116,489.2C114.53,488.67 112.03,487.97 112.2,487.4Z" fill="#A9A234" />
<path d="M124,478.5C124.75,477.83 126.75,477.08 128,477C129.25,476.92 130.87,477 131.5,478C132.13,479 132.3,481.72 131.8,483C131.3,484.28 129.63,485.53 128.5,485.7C127.37,485.87 125.83,484.78 125,484C124.17,483.22 123.67,481.92 123.5,481C123.33,480.08 123.25,479.17 124,478.5Z" fill="#D96CB8" />
<path d="M159.7,408.6C160.47,407.93 162.12,408.1 163,409.2C163.88,410.3 164.23,413.88 165,415.2C165.77,416.52 167.28,415.68 167.6,417.1C167.92,418.52 167.23,422.15 166.9,423.7C166.57,425.25 166.25,426.18 165.6,426.4C164.95,426.62 163.87,425.67 163,425C162.13,424.33 161.28,423.27 160.4,422.4C159.52,421.53 158.27,420.68 157.7,419.8C157.13,418.92 156.88,418.2 157,417.1C157.12,416 157.95,414.62 158.4,413.2C158.85,411.78 158.93,409.27 159.7,408.6Z" fill="#8AAA33" />
<path d="M157.8,419.5C159,418.67 159.48,419.48 158.6,420.6C157.72,421.72 153.7,425.37 152.5,426.2C151.3,427.03 150.52,426.72 151.4,425.6C152.28,424.48 156.6,420.33 157.8,419.5Z" fill="#8AAA33" />
<path d="M166.9,439.5C168.43,438.4 172.17,437.75 173.5,438.2C174.83,438.65 175.12,440.43 174.9,442.2C174.68,443.97 173.08,447.05 172.2,448.8C171.32,450.55 169.88,451.42 169.6,452.7C169.32,453.98 169.4,455.62 170.5,456.5C171.6,457.38 174.38,457.87 176.2,458C178.02,458.13 180.63,456.65 181.4,457.3C182.17,457.95 181.23,460.68 180.8,461.9C180.37,463.12 178.7,463.27 178.8,464.6C178.9,465.93 181.83,468.37 181.4,469.9C180.97,471.43 177.95,472.48 176.2,473.8C174.45,475.12 172.45,476.37 170.9,477.8C169.35,479.23 168,481.97 166.9,482.4C165.8,482.83 164.95,482.27 164.3,480.4C163.65,478.53 163.33,474.28 163,471.2C162.67,468.12 161.87,464.32 162.3,461.9C162.73,459.48 165.05,458.67 165.6,456.7C166.15,454.73 165.82,452.08 165.6,450.1C165.38,448.12 164.08,446.57 164.3,444.8C164.52,443.03 165.37,440.6 166.9,439.5Z" fill="#35AD62" />
<path d="M143.5,442.8C144.75,442.37 145,440.93 146,440.6C147,440.27 148.62,440.43 149.5,440.8C150.38,441.17 151.3,442.12 151.3,442.8C151.3,443.48 150.38,444.53 149.5,444.9C148.62,445.27 147,445.22 146,445C145,444.78 144.67,443.77 143.5,443.6C142.33,443.43 139.83,444.07 139,444C138.17,443.93 137.75,443.4 138.5,443.2C139.25,443 142.25,443.23 143.5,442.8Z" fill="#2D96DC" />
<path d="M138.5,457.3C138.33,457 139.78,456.02 140.5,455.8C141.22,455.58 142.63,455.7 142.8,456C142.97,456.3 142.22,457.38 141.5,457.6C140.78,457.82 138.67,457.6 138.5,457.3Z" fill="#2BB59E" />
<path d="M34.5,457C34.67,455.88 36.58,453.38 37.5,452.8C38.42,452.22 39.67,452.63 40,453.5C40.33,454.37 40.08,457 39.5,458C38.92,459 37.33,459.67 36.5,459.5C35.67,459.33 34.33,458.12 34.5,457Z" fill="#23B0B8" />
</g>
</g>
<line x1="28.6" y1="379.5" x2="28.6" y2="541.5" stroke="#000" stroke-width="1.3" />
<line x1="28" y1="540.9" x2="190.8" y2="540.9" stroke="#000" stroke-width="1.3" />
<line x1="24.4" y1="404.7" x2="28.6" y2="404.7" stroke="#000" stroke-width="1.3" />
<text x="24.2" y="407.7" font-size="8.4" font-weight="bold" text-anchor="end" >10</text>
<line x1="24.4" y1="454.8" x2="28.6" y2="454.8" stroke="#000" stroke-width="1.3" />
<text x="24.2" y="457.8" font-size="8.4" font-weight="bold" text-anchor="end" >0</text>
<line x1="24.4" y1="504.6" x2="28.6" y2="504.6" stroke="#000" stroke-width="1.3" />
<text x="24.2" y="507.6" font-size="8.4" font-weight="bold" text-anchor="end" >−10</text>
<line x1="46.8" y1="540.9" x2="46.8" y2="545.1" stroke="#000" stroke-width="1.3" />
<text x="46.8" y="554.3" font-size="8.4" font-weight="bold" text-anchor="middle" >−10</text>
<line x1="100" y1="540.9" x2="100" y2="545.1" stroke="#000" stroke-width="1.3" />
<text x="100" y="554.3" font-size="8.4" font-weight="bold" text-anchor="middle" >0</text>
<line x1="152.8" y1="540.9" x2="152.8" y2="545.1" stroke="#000" stroke-width="1.3" />
<text x="152.8" y="554.3" font-size="8.4" font-weight="bold" text-anchor="middle" >10</text>
<line x1="216.2" y1="379.5" x2="216.2" y2="541.8" stroke="#000" stroke-width="1.3" />
<line x1="215.6" y1="541.2" x2="378.3" y2="541.2" stroke="#000" stroke-width="1.3" />
<line x1="212" y1="404.7" x2="216.2" y2="404.7" stroke="#000" stroke-width="1.3" />
<text x="211.8" y="407.7" font-size="8.4" font-weight="bold" text-anchor="end" >10</text>
<line x1="212" y1="454.8" x2="216.2" y2="454.8" stroke="#000" stroke-width="1.3" />
<text x="211.8" y="457.8" font-size="8.4" font-weight="bold" text-anchor="end" >0</text>
<line x1="212" y1="504.6" x2="216.2" y2="504.6" stroke="#000" stroke-width="1.3" />
<text x="211.8" y="507.6" font-size="8.4" font-weight="bold" text-anchor="end" >−10</text>
<line x1="234.8" y1="541.2" x2="234.8" y2="545.4" stroke="#000" stroke-width="1.3" />
<text x="234.8" y="554.6" font-size="8.4" font-weight="bold" text-anchor="middle" >−10</text>
<line x1="287.7" y1="541.2" x2="287.7" y2="545.4" stroke="#000" stroke-width="1.3" />
<text x="287.7" y="554.6" font-size="8.4" font-weight="bold" text-anchor="middle" >0</text>
<line x1="340.8" y1="541.2" x2="340.8" y2="545.4" stroke="#000" stroke-width="1.3" />
<text x="340.8" y="554.6" font-size="8.4" font-weight="bold" text-anchor="middle" >10</text>
<text x="7.7" y="454.2" font-size="8.6" font-weight="bold" text-anchor="middle" transform="rotate(-90 7.7 454.2)" >UMAP_2</text>
<text x="101.9" y="566.4" font-size="8.6" font-weight="bold" text-anchor="middle" >UMAP_1</text>
<text x="291.9" y="566.4" font-size="8.6" font-weight="bold" text-anchor="middle" >UMAP_1</text>
<circle cx="394.4" cy="389.3" r="2.6" fill="#EA766B"/>
<text x="403.4" y="391.9" font-size="7.4" >B</text>
<circle cx="394.4" cy="398.8" r="2.6" fill="#E1822A"/>
<text x="403.4" y="401.4" font-size="7.4" >CD4</text>
<circle cx="394.4" cy="408.3" r="2.6" fill="#D49A1E"/>
<text x="403.4" y="410.9" font-size="7.4" >CD8</text>
<circle cx="394.4" cy="417.8" r="2.6" fill="#ABA228"/>
<text x="403.4" y="420.4" font-size="7.4" >DC</text>
<circle cx="394.4" cy="427.3" r="2.6" fill="#86AA35"/>
<text x="403.4" y="429.9" font-size="7.4" >EC</text>
<circle cx="394.4" cy="436.8" r="2.6" fill="#2DA13A"/>
<text x="403.4" y="439.4" font-size="7.4" >Epi</text>
<circle cx="394.4" cy="446.3" r="2.6" fill="#35AD62"/>
<text x="403.4" y="448.9" font-size="7.4" >Fib</text>
<circle cx="394.4" cy="455.8" r="2.6" fill="#2BB597"/>
<text x="403.4" y="458.4" font-size="7.4" >Glial</text>
<circle cx="394.4" cy="465.3" r="2.6" fill="#23B2C0"/>
<text x="403.4" y="467.9" font-size="7.4" >ILC</text>
<circle cx="394.4" cy="474.8" r="2.6" fill="#1FA9DE"/>
<text x="403.4" y="477.4" font-size="7.4" >Malignant cells</text>
<circle cx="394.4" cy="484.3" r="2.6" fill="#2D92DC"/>
<text x="403.4" y="486.9" font-size="7.4" >MAST</text>
<circle cx="394.4" cy="493.8" r="2.6" fill="#7E8BCB"/>
<text x="403.4" y="496.4" font-size="7.4" >Mono/Macro</text>
<circle cx="394.4" cy="503.3" r="2.6" fill="#A083C6"/>
<text x="403.4" y="505.9" font-size="7.4" >NK</text>
<circle cx="394.4" cy="512.8" r="2.6" fill="#BA6FB3"/>
<text x="403.4" y="515.4" font-size="7.4" >Plasma</text>
<circle cx="394.4" cy="522.3" r="2.6" fill="#D96CB8"/>
<text x="403.4" y="524.9" font-size="7.4" >Proliferating Myeloids</text>
<circle cx="394.4" cy="531.8" r="2.6" fill="#E4659F"/>
<text x="403.4" y="534.4" font-size="7.4" >Proliferating T</text>
<text x="407.2" y="193.3" font-size="17" font-weight="bold" fill="#231815" >F</text>
<text x="500.5" y="199.3" font-size="8.5" font-weight="bold" text-anchor="middle" ><tspan font-style="italic">PRSS22</tspan> High Group</text>
<text x="622.4" y="199.3" font-size="8.5" font-weight="bold" text-anchor="middle" ><tspan font-style="italic">PRSS22</tspan> Low Group</text>
<g clip-path="url(#clipF1)">
<ellipse cx="482" cy="280" rx="52" ry="44" fill="url(#hiCloud)"/>
<path d="M466.7 289.2h.7 M467.1 275.0h.7 M457.9 276.9h.7 M503.4 287.8h.7 M501.1 285.0h.7 M481.8 284.0h.7 M448.3 294.7h.7 M485.2 289.0h.7 M448.0 247.9h.7 M458.4 272.1h.7 M479.2 280.1h.7 M485.6 268.8h.7 M479.3 287.3h.7 M461.4 308.5h.7 M486.7 300.2h.7 M461.9 266.9h.7 M465.5 279.0h.7 M489.0 285.0h.7 M464.2 262.8h.7 M463.2 300.5h.7 M459.5 284.9h.7 M482.8 252.7h.7 M471.5 301.9h.7 M443.8 274.9h.7 M468.6 265.5h.7 M484.9 279.8h.7 M451.0 294.2h.7 M490.1 296.1h.7 M513.2 286.8h.7 M473.6 256.3h.7 M488.5 269.4h.7 M464.1 257.0h.7 M457.4 270.9h.7 M508.7 242.4h.7 M451.0 284.8h.7 M513.3 290.3h.7 M445.3 233.2h.7 M480.7 267.0h.7 M455.4 296.6h.7 M503.1 283.5h.7 M477.4 287.9h.7 M517.8 290.9h.7 M485.6 289.8h.7 M449.6 301.5h.7 M498.7 289.5h.7 M444.3 269.0h.7 M495.3 246.6h.7 M467.6 297.3h.7 M453.0 306.8h.7 M486.6 278.1h.7 M479.7 291.4h.7 M473.6 299.3h.7 M461.4 273.1h.7 M501.3 281.4h.7 M458.6 296.1h.7 M514.0 272.5h.7 M452.1 278.4h.7 M468.1 275.3h.7 M512.1 261.5h.7 M507.8 256.9h.7 M459.8 291.1h.7 M503.9 294.7h.7 M480.4 283.3h.7 M474.6 290.2h.7 M467.7 285.4h.7 M487.2 281.0h.7 M492.9 290.1h.7 M530.3 286.2h.7 M464.4 273.9h.7 M469.8 295.8h.7 M465.6 287.2h.7 M525.1 232.3h.7 M455.4 284.9h.7 M482.0 284.8h.7 M464.4 291.5h.7 M478.5 271.1h.7 M542.9 286.7h.7 M462.8 279.1h.7 M467.1 279.8h.7 M500.3 258.8h.7 M469.1 296.3h.7 M495.7 304.9h.7 M447.9 274.3h.7 M465.6 291.0h.7 M502.8 230.0h.7 M502.7 253.5h.7 M490.5 252.6h.7 M475.3 300.1h.7 M468.1 284.1h.7 M493.9 283.3h.7 M468.8 305.5h.7 M501.5 275.4h.7 M552.4 259.2h.7 M497.4 276.0h.7 M474.0 292.3h.7 M476.7 291.2h.7 M450.1 252.3h.7 M488.4 262.7h.7 M456.7 253.1h.7 M508.0 292.9h.7 M514.2 263.2h.7 M470.0 259.3h.7 M493.0 306.4h.7 M458.4 306.0h.7 M499.6 277.6h.7 M444.4 303.5h.7 M468.7 269.5h.7 M482.0 287.6h.7 M514.9 261.6h.7 M504.1 304.8h.7 M513.6 277.6h.7 M460.3 297.3h.7 M473.5 283.0h.7 M512.7 276.0h.7 M445.9 294.1h.7 M479.5 269.4h.7 M469.9 294.3h.7 M472.4 302.2h.7 M469.2 297.6h.7 M514.7 306.8h.7 M461.3 295.1h.7 M445.6 260.4h.7 M444.5 298.1h.7 M454.0 280.8h.7 M467.5 280.5h.7 M462.3 284.7h.7 M523.7 281.7h.7 M485.9 297.0h.7 M467.4 257.1h.7 M462.8 298.2h.7 M448.6 269.6h.7 M500.2 293.7h.7 M470.2 293.9h.7 M475.0 258.6h.7 M449.7 268.9h.7 M497.7 270.3h.7 M458.3 266.4h.7 M450.1 278.8h.7 M454.7 286.8h.7 M461.7 244.1h.7 M491.7 275.8h.7 M441.0 264.4h.7 M478.7 272.3h.7 M493.4 293.0h.7 M490.0 286.2h.7 M510.0 291.6h.7 M483.5 241.4h.7 M496.9 302.0h.7 M466.1 272.1h.7 M528.2 247.6h.7 M484.1 319.8h.7 M457.9 292.0h.7 M526.6 278.7h.7 M486.8 295.4h.7 M458.2 279.3h.7 M478.8 294.2h.7 M469.6 277.3h.7 M456.8 274.2h.7 M496.8 282.6h.7 M458.9 265.0h.7 M550.0 299.2h.7 M489.1 231.7h.7 M488.6 288.7h.7 M520.5 287.8h.7 M469.1 289.4h.7 M444.7 297.5h.7 M479.7 267.7h.7 M509.8 309.9h.7 M451.8 268.3h.7 M478.7 283.9h.7 M464.8 262.5h.7 M533.6 297.6h.7 M454.5 255.4h.7 M521.1 296.8h.7 M524.6 294.0h.7 M458.7 285.2h.7 M441.9 266.8h.7 M469.2 289.4h.7 M460.5 278.6h.7 M483.8 287.0h.7 M489.1 284.3h.7 M465.8 293.6h.7 M471.5 265.3h.7 M461.9 281.0h.7 M468.6 283.5h.7 M470.0 283.8h.7 M468.3 257.1h.7 M482.6 297.9h.7 M483.0 277.4h.7 M483.4 262.7h.7 M445.4 282.0h.7 M457.9 292.8h.7 M455.9 231.1h.7 M456.5 306.2h.7 M465.0 255.0h.7 M460.1 289.3h.7 M484.9 283.8h.7 M514.5 292.3h.7 M469.7 290.5h.7 M519.6 296.5h.7 M500.7 260.4h.7 M468.1 292.7h.7 M466.1 298.1h.7 M487.9 295.5h.7 M467.2 321.7h.7 M507.2 276.9h.7 M472.7 322.5h.7 M465.5 295.0h.7 M499.4 281.1h.7 M454.8 284.0h.7 M480.8 299.1h.7 M493.5 281.4h.7 M495.6 289.6h.7 M476.2 281.9h.7 M466.8 292.0h.7 M456.3 269.1h.7 M470.1 253.2h.7 M464.3 242.8h.7 M461.1 290.1h.7 M487.0 280.0h.7 M467.0 254.1h.7 M524.8 289.3h.7 M502.8 264.2h.7 M467.6 246.4h.7 M493.4 296.0h.7 M445.3 280.0h.7 M488.9 247.5h.7 M446.3 260.8h.7 M461.8 254.3h.7 M470.9 285.0h.7 M489.0 292.2h.7 M515.1 299.6h.7 M452.9 271.4h.7 M456.2 260.5h.7 M468.9 281.1h.7 M484.7 250.8h.7 M453.9 280.6h.7 M467.4 275.1h.7 M469.2 266.6h.7 M491.0 286.7h.7 M468.9 268.2h.7 M467.7 229.3h.7 M457.2 281.6h.7 M450.4 284.2h.7 M474.4 254.8h.7 M466.7 275.0h.7 M483.8 290.8h.7 M469.5 264.8h.7 M468.1 279.8h.7 M492.0 285.7h.7 M460.6 255.3h.7 M465.1 266.9h.7 M455.5 278.8h.7 M463.6 282.7h.7 M485.7 273.2h.7 M539.7 274.9h.7 M503.1 282.9h.7 M503.5 235.9h.7 M460.2 285.0h.7 M488.1 318.4h.7 M479.7 301.5h.7 M493.0 296.2h.7 M485.3 278.0h.7 M485.3 260.5h.7 M505.4 261.7h.7 M477.5 314.9h.7 M467.1 281.3h.7 M504.9 281.4h.7 M459.5 285.1h.7 M487.5 292.4h.7 M460.0 309.0h.7 M520.0 281.3h.7 M478.1 272.9h.7 M512.4 267.6h.7 M490.2 271.9h.7 M461.0 292.5h.7 M510.0 280.8h.7 M461.2 294.0h.7 M469.4 286.0h.7 M515.7 299.1h.7 M463.2 317.5h.7 M470.1 293.6h.7 M461.6 280.2h.7 M447.3 309.6h.7 M511.0 257.9h.7 M450.4 250.2h.7 M505.3 272.3h.7 M469.2 275.1h.7 M468.4 260.3h.7 M470.7 253.7h.7 M469.1 285.9h.7 M484.0 276.6h.7 M458.3 283.6h.7 M463.7 306.1h.7 M493.0 278.8h.7 M463.9 267.6h.7 M457.8 274.3h.7 M478.8 289.2h.7 M487.1 314.6h.7 M460.8 281.2h.7 M553.8 245.5h.7 M463.2 283.7h.7 M474.6 287.5h.7 M466.9 286.9h.7 M471.6 293.3h.7 M445.4 264.2h.7 M470.0 261.4h.7 M456.4 291.0h.7 M461.6 291.2h.7 M492.4 285.9h.7 M485.2 279.0h.7 M451.7 280.4h.7 M483.6 270.9h.7 M468.7 293.0h.7 M458.6 291.2h.7 M525.9 270.5h.7 M474.4 278.1h.7 M516.2 286.1h.7 M496.9 267.9h.7 M469.8 280.8h.7 M446.9 304.1h.7 M497.0 247.8h.7 M492.3 278.5h.7 M483.5 286.9h.7 M450.5 277.0h.7 M514.8 270.1h.7 M456.7 255.2h.7 M454.1 286.4h.7 M520.8 287.9h.7 M477.4 316.7h.7 M463.2 268.2h.7 M485.9 289.8h.7 M456.8 258.8h.7 M478.7 285.0h.7 M453.0 277.2h.7 M462.9 288.4h.7 M468.5 279.4h.7 M465.4 297.9h.7 M511.7 274.0h.7 M495.4 266.6h.7 M472.2 293.0h.7 M515.4 273.7h.7 M469.0 284.1h.7 M450.5 281.3h.7 M461.2 286.9h.7 M455.3 243.4h.7 M471.1 285.2h.7 M462.9 295.2h.7 M466.4 269.5h.7 M484.3 251.2h.7 M461.2 280.6h.7 M495.5 277.9h.7 M479.3 268.5h.7 M479.1 307.6h.7 M461.1 318.9h.7 M461.6 281.3h.7 M475.2 297.4h.7 M453.9 241.1h.7 M488.2 293.7h.7 M488.7 323.1h.7 M476.1 285.1h.7 M497.9 286.9h.7 M519.9 257.5h.7 M465.1 215.6h.7 M494.4 273.9h.7 M497.7 315.5h.7 M469.9 276.2h.7 M463.5 265.1h.7 M461.8 291.2h.7 M471.1 282.1h.7 M467.7 295.6h.7 M484.8 278.3h.7 M489.9 278.1h.7 M455.0 304.3h.7 M484.0 262.8h.7 M502.4 286.5h.7 M449.7 306.8h.7 M480.0 295.3h.7 M475.9 278.2h.7 M449.9 296.5h.7 M470.9 275.6h.7 M480.5 282.2h.7 M490.3 274.0h.7 M469.5 240.4h.7 M464.5 291.8h.7 M510.1 274.1h.7 M468.4 306.3h.7 M465.8 292.7h.7 M520.3 281.6h.7 M506.8 267.5h.7 M476.2 279.5h.7 M473.4 299.1h.7 M541.7 268.4h.7 M462.5 289.0h.7 M456.3 289.0h.7 M487.2 275.7h.7 M485.9 251.6h.7 M492.8 251.6h.7 M460.9 270.4h.7 M464.8 294.7h.7 M472.4 273.4h.7 M486.3 306.3h.7 M470.2 286.9h.7 M507.2 285.3h.7 M453.3 320.8h.7 M536.3 243.3h.7 M469.5 287.7h.7 M499.0 291.7h.7 M466.5 261.0h.7 M473.1 297.5h.7 M455.8 261.5h.7 M469.7 244.2h.7 M466.6 272.7h.7 M483.5 267.7h.7 M458.5 273.5h.7 M469.4 268.4h.7 M470.4 293.0h.7 M505.6 308.3h.7 M459.8 273.0h.7 M460.6 280.4h.7 M485.7 255.2h.7 M483.9 280.5h.7 M446.3 285.7h.7 M505.8 245.5h.7 M494.2 284.3h.7 M484.2 288.1h.7 M509.1 276.8h.7 M496.2 273.2h.7 M491.8 265.5h.7 M468.6 308.7h.7 M483.4 278.0h.7 M455.1 266.0h.7 M475.8 296.0h.7 M482.8 289.4h.7 M469.5 302.6h.7 M464.9 270.6h.7 M496.6 282.0h.7 M466.4 270.1h.7 M466.7 291.0h.7 M480.6 258.0h.7 M482.8 283.9h.7 M457.0 293.4h.7 M466.4 274.6h.7 M493.9 302.1h.7 M461.0 288.0h.7 M458.6 318.0h.7 M463.6 300.1h.7 M461.6 294.0h.7 M536.6 232.7h.7 M464.4 289.0h.7 M468.8 268.3h.7 M534.6 282.3h.7 M448.6 294.7h.7 M447.6 299.4h.7 M462.5 283.3h.7 M507.8 282.9h.7 M451.9 248.8h.7 M505.5 292.8h.7 M459.4 294.8h.7 M484.9 291.4h.7 M497.0 292.7h.7 M496.4 234.3h.7 M475.1 288.9h.7 M546.6 262.9h.7 M465.7 281.6h.7 M496.6 272.6h.7 M504.4 266.0h.7 M478.0 271.0h.7 M474.7 267.9h.7 M449.2 298.5h.7 M479.1 270.4h.7 M476.0 296.8h.7 M457.3 278.9h.7 M486.2 289.4h.7 M465.6 241.0h.7 M507.3 286.3h.7 M470.4 275.7h.7 M477.9 272.9h.7 M456.7 266.9h.7 M462.2 269.4h.7 M454.9 291.2h.7 M453.0 291.6h.7 M456.8 286.6h.7 M511.2 284.3h.7 M460.5 281.8h.7 M474.4 248.1h.7 M462.1 283.6h.7 M463.9 282.3h.7 M492.0 293.3h.7 M497.2 290.4h.7 M466.3 280.7h.7 M466.5 275.0h.7 M467.7 248.2h.7 M465.7 280.5h.7 M457.3 280.5h.7 M485.5 277.9h.7 M532.3 231.5h.7 M467.3 246.3h.7 M499.4 323.5h.7 M485.6 275.3h.7 M486.5 238.4h.7 M495.6 287.0h.7 M470.7 269.8h.7 M489.2 271.8h.7 M476.7 271.3h.7 M476.1 293.1h.7 M458.6 280.4h.7 M488.5 283.3h.7 M507.3 312.9h.7 M458.2 244.5h.7 M495.7 305.5h.7 M497.7 294.0h.7 M462.0 267.4h.7 M496.7 263.7h.7 M446.4 262.0h.7 M544.8 311.8h.7 M461.1 267.1h.7 M476.9 266.8h.7 M509.3 279.5h.7 M455.9 301.9h.7 M462.4 284.5h.7 M469.8 275.0h.7 M479.7 267.8h.7 M446.0 239.0h.7 M453.5 266.6h.7 M469.7 281.9h.7 M486.7 282.9h.7 M459.7 267.5h.7 M442.5 277.8h.7 M484.5 289.5h.7 M468.4 277.7h.7 M498.1 281.2h.7 M492.1 290.3h.7 M476.4 301.9h.7 M462.6 274.2h.7 M459.5 265.9h.7 M516.7 309.1h.7 M470.7 290.1h.7 M505.3 293.9h.7 M506.2 257.0h.7 M461.7 288.2h.7 M513.1 282.7h.7 M458.8 274.3h.7 M461.4 264.7h.7 M515.0 269.1h.7 M470.6 315.6h.7 M505.5 286.4h.7 M462.0 287.6h.7 M518.7 291.0h.7 M507.8 282.6h.7 M485.5 277.2h.7 M482.8 301.8h.7 M451.4 279.8h.7 M477.2 270.1h.7 M466.0 293.6h.7 M530.0 291.1h.7 M479.8 251.5h.7 M527.8 282.2h.7 M469.6 259.8h.7 M469.3 260.2h.7 M472.1 288.5h.7 M470.9 285.5h.7 M458.9 303.9h.7 M461.5 246.5h.7 M467.6 266.5h.7 M456.9 274.3h.7 M478.7 258.5h.7 M468.2 303.8h.7 M490.5 278.1h.7 M473.8 278.7h.7 M469.4 292.7h.7 M468.8 235.3h.7 M469.7 264.1h.7 M489.5 269.4h.7 M474.5 315.8h.7 M456.4 259.6h.7 M451.7 235.5h.7 M445.6 286.8h.7 M461.7 245.5h.7 M450.7 290.9h.7 M459.9 274.0h.7 M479.9 302.7h.7 M528.2 297.5h.7 M474.3 283.9h.7 M524.1 303.9h.7 M466.0 288.3h.7 M478.6 281.8h.7 M463.5 255.8h.7 M463.1 251.7h.7 M506.7 289.6h.7 M454.3 303.3h.7 M496.8 244.7h.7 M525.2 294.0h.7 M531.9 257.6h.7 M485.9 287.8h.7 M476.1 283.7h.7 M501.6 252.6h.7 M453.9 254.5h.7 M462.8 269.5h.7 M481.0 285.3h.7 M470.9 268.1h.7 M464.3 296.2h.7 M492.9 282.6h.7 M465.8 305.8h.7 M462.3 291.4h.7 M504.6 276.0h.7 M494.8 259.8h.7 M500.4 284.2h.7 M449.4 291.7h.7 M458.4 301.5h.7 M461.2 277.9h.7 M478.5 274.7h.7 M477.8 270.5h.7 M490.2 281.1h.7 M476.3 228.7h.7 M504.8 281.5h.7 M446.8 282.5h.7 M484.0 298.1h.7 M455.9 305.8h.7 M467.9 319.3h.7 M468.1 291.9h.7 M465.2 259.8h.7 M502.9 295.5h.7 M516.2 294.7h.7 M462.5 249.4h.7 M461.5 268.2h.7 M459.4 290.3h.7 M479.8 275.9h.7 M475.2 278.2h.7 M476.4 293.0h.7 M498.8 268.0h.7 M450.4 303.8h.7 M473.4 298.7h.7 M448.6 274.7h.7 M470.8 253.6h.7 M463.3 292.6h.7 M502.4 306.5h.7 M458.8 254.4h.7 M485.6 296.0h.7 M475.8 256.3h.7 M493.5 293.7h.7 M486.6 271.7h.7 M479.1 293.7h.7 M462.7 246.0h.7 M479.9 288.7h.7 M470.4 295.2h.7 M462.4 279.4h.7 M466.0 290.1h.7 M517.9 276.2h.7 M531.6 305.5h.7 M493.7 290.4h.7 M523.1 277.6h.7 M468.5 260.8h.7 M484.2 302.5h.7 M486.0 287.8h.7 M467.4 283.7h.7 M451.5 297.8h.7 M464.7 260.0h.7 M460.2 265.3h.7 M495.7 297.9h.7 M452.3 295.8h.7 M496.6 270.0h.7 M450.7 266.8h.7 M461.8 286.5h.7 M465.4 242.5h.7 M477.0 251.8h.7 M497.2 258.1h.7 M461.0 264.8h.7 M462.9 301.8h.7 M495.6 290.6h.7 M479.6 251.6h.7 M463.2 270.5h.7 M457.3 289.1h.7 M460.4 267.5h.7 M456.4 241.9h.7 M487.9 302.3h.7 M475.2 262.4h.7 M506.5 285.8h.7 M497.8 304.7h.7 M503.8 272.6h.7 M501.6 293.4h.7 M450.0 273.3h.7 M451.5 278.9h.7 M487.3 260.7h.7 M443.3 301.8h.7 M481.3 304.5h.7 M452.8 298.0h.7 M532.2 313.1h.7 M467.3 285.3h.7 M468.0 297.0h.7 M501.1 282.4h.7 M452.3 292.9h.7 M463.9 291.1h.7 M477.9 307.0h.7 M504.1 272.4h.7 M480.5 309.2h.7 M463.0 287.9h.7 M505.7 301.1h.7 M485.6 255.9h.7 M453.6 285.0h.7 M481.6 321.8h.7 M458.8 299.2h.7 M493.1 249.2h.7 M459.4 283.7h.7 M463.6 278.1h.7 M484.1 265.6h.7 M484.0 268.9h.7 M462.9 289.6h.7 M462.5 285.6h.7 M518.0 281.4h.7 M468.1 292.8h.7 M465.2 298.3h.7 M453.3 290.9h.7 M463.3 265.8h.7 M523.1 264.8h.7 M522.7 291.5h.7 M513.6 262.4h.7 M506.0 304.3h.7 M468.5 278.5h.7 M543.7 283.8h.7 M464.5 269.0h.7 M483.4 286.3h.7 M475.3 308.5h.7 M465.7 288.6h.7 M513.8 261.9h.7 M501.2 310.3h.7 M452.4 260.1h.7 M456.5 245.9h.7 M483.6 245.7h.7 M485.0 304.3h.7 M449.0 275.0h.7 M445.1 293.5h.7 M460.4 275.9h.7 M471.6 289.7h.7 M465.5 281.2h.7 M462.9 282.8h.7 M454.8 282.0h.7 M444.9 271.7h.7 M527.5 282.3h.7 M453.6 285.1h.7 M457.4 249.6h.7 M460.4 292.8h.7 M481.5 279.2h.7 M458.0 260.5h.7 M510.5 284.9h.7 M457.6 240.9h.7 M452.2 320.6h.7 M455.1 279.5h.7 M476.3 278.0h.7 M466.4 254.9h.7 M456.3 308.0h.7 M460.2 294.5h.7 M448.0 275.8h.7 M477.8 297.6h.7 M455.4 290.5h.7 M481.6 267.0h.7 M484.3 263.9h.7 M459.7 280.6h.7 M457.0 253.2h.7 M464.5 293.2h.7 M464.7 301.3h.7 M454.9 256.1h.7 M516.5 287.4h.7 M498.4 265.3h.7 M494.1 285.2h.7 M489.5 281.4h.7 M506.2 268.7h.7 M457.5 252.9h.7 M504.8 267.0h.7 M456.4 263.1h.7 M464.2 256.8h.7 M466.2 269.1h.7 M462.8 262.8h.7 M471.1 272.2h.7 M473.4 285.0h.7 M480.2 239.4h.7 M463.0 265.9h.7 M493.2 251.0h.7 M460.7 275.4h.7 M465.6 296.9h.7 M464.2 296.4h.7 M450.9 246.6h.7 M506.6 288.0h.7 M484.6 283.0h.7 M484.5 257.9h.7 M498.5 270.9h.7 M499.6 282.4h.7 M444.3 256.5h.7 M503.8 278.4h.7 M464.9 284.9h.7 M464.5 270.7h.7 M473.1 283.3h.7 M515.5 281.7h.7 M526.4 309.8h.7 M521.5 298.0h.7 M473.9 283.2h.7 M468.1 267.1h.7 M469.1 268.8h.7 M519.2 289.6h.7 M464.2 244.6h.7 M469.3 273.1h.7 M455.9 259.4h.7 M469.1 322.3h.7 M469.6 278.2h.7 M513.3 283.1h.7 M475.0 273.9h.7 M462.1 305.0h.7 M500.0 308.5h.7 M465.5 281.5h.7 M458.5 296.5h.7 M451.9 290.0h.7 M502.9 303.6h.7 M457.8 298.4h.7 M460.7 266.6h.7 M452.8 299.5h.7 M519.5 269.7h.7 M460.1 274.6h.7 M545.2 297.1h.7 M462.9 246.9h.7 M461.3 300.0h.7 M526.0 275.9h.7 M461.0 271.3h.7 M445.5 295.5h.7 M455.9 298.0h.7 M447.8 256.9h.7 M478.7 266.5h.7 M493.4 281.1h.7 M454.7 291.0h.7 M495.3 244.7h.7 M524.8 289.0h.7 M492.8 245.7h.7 M460.6 274.4h.7 M502.3 253.3h.7 M458.5 242.4h.7 M466.9 286.5h.7 M448.1 269.8h.7 M485.3 306.4h.7 M489.9 275.2h.7 M454.7 263.2h.7 M461.4 283.4h.7 M469.4 307.7h.7 M478.6 260.6h.7 M516.3 296.2h.7 M473.0 267.3h.7 M445.7 261.6h.7 M497.4 265.7h.7 M452.8 284.1h.7 M477.3 290.7h.7 M489.7 303.5h.7 M459.1 296.7h.7 M457.2 292.1h.7 M475.4 284.9h.7 M499.0 280.7h.7 M503.4 295.0h.7 M474.1 270.2h.7 M460.2 271.0h.7 M467.4 280.5h.7 M493.1 264.6h.7 M460.8 274.9h.7 M475.8 261.3h.7 M518.4 270.3h.7 M502.3 236.6h.7 M469.9 285.4h.7 M475.7 290.6h.7 M478.4 283.6h.7 M445.4 267.4h.7 M479.2 277.3h.7 M459.3 269.9h.7 M525.4 308.7h.7 M469.2 301.6h.7 M449.4 244.2h.7 M463.7 264.4h.7 M462.7 284.0h.7 M471.5 285.4h.7 M469.6 295.9h.7 M523.3 257.4h.7 M474.9 276.0h.7 M480.7 251.9h.7 M447.1 237.0h.7 M485.8 284.1h.7 M472.2 236.0h.7 M465.1 266.7h.7 M451.6 263.6h.7 M490.9 289.7h.7 M469.7 289.2h.7 M462.2 282.1h.7 M471.2 289.9h.7 M469.1 278.3h.7 M468.2 268.7h.7 M537.0 289.2h.7 M482.9 317.7h.7 M512.1 251.4h.7 M490.9 294.4h.7 M526.5 302.1h.7 M493.1 258.6h.7 M458.7 285.3h.7 M485.1 261.6h.7 M465.0 273.4h.7 M471.8 286.4h.7 M466.3 257.5h.7 M507.3 306.5h.7 M468.6 297.4h.7 M483.3 291.6h.7 M484.4 266.5h.7 M487.2 297.2h.7 M458.3 312.5h.7 M532.7 310.2h.7 M529.7 292.9h.7 M465.6 269.6h.7 M459.4 282.9h.7 M469.6 291.7h.7 M443.7 318.0h.7 M538.3 280.5h.7 M490.3 288.6h.7 M478.2 277.0h.7 M468.4 265.3h.7 M475.3 280.5h.7 M479.6 264.8h.7 M471.2 281.8h.7 M488.1 260.8h.7 M482.6 296.7h.7 M487.9 274.0h.7 M463.6 276.5h.7 M491.9 305.8h.7 M467.9 268.8h.7 M481.3 284.3h.7 M458.2 267.0h.7 M468.7 291.7h.7 M454.5 261.7h.7 M485.0 257.7h.7 M473.3 286.6h.7 M468.6 261.7h.7 M469.2 274.7h.7 M480.1 265.1h.7 M502.7 249.2h.7 M467.7 281.1h.7 M498.8 269.4h.7 M486.4 270.2h.7 M492.1 308.8h.7 M464.8 288.1h.7 M457.9 296.6h.7 M506.3 281.6h.7 M455.2 287.4h.7 M504.5 298.4h.7 M494.4 246.2h.7 M461.2 303.8h.7 M454.1 299.1h.7 M526.5 293.2h.7 M503.6 274.7h.7 M454.1 279.0h.7 M467.4 280.1h.7 M490.9 278.3h.7 M475.8 287.8h.7 M469.9 310.5h.7 M483.3 282.4h.7 M467.3 269.1h.7 M510.3 283.4h.7 M456.0 270.3h.7 M468.2 272.5h.7 M502.5 258.9h.7 M484.8 283.3h.7 M454.7 281.8h.7 M468.8 289.0h.7 M464.1 285.9h.7 M448.4 260.4h.7 M493.5 297.7h.7 M469.8 269.6h.7 M502.5 241.3h.7 M459.6 291.8h.7 M489.6 261.4h.7 M445.5 304.2h.7 M474.6 264.0h.7 M471.6 295.4h.7 M492.2 241.5h.7 M493.1 247.2h.7 M504.2 287.4h.7 M537.6 269.4h.7 M470.1 297.8h.7 M461.7 267.6h.7 M465.2 279.6h.7 M455.9 288.7h.7 M486.3 282.1h.7 M521.0 274.8h.7 M509.2 270.6h.7 M492.7 244.2h.7 M475.9 277.7h.7 M463.6 269.4h.7 M465.5 267.3h.7 M441.5 269.7h.7 M462.9 271.0h.7 M456.2 278.4h.7 M493.5 276.2h.7 M463.6 302.7h.7 M499.3 295.7h.7 M504.7 274.8h.7 M468.3 298.8h.7 M462.8 278.7h.7 M481.3 287.0h.7 M466.4 296.7h.7 M467.7 292.6h.7 M502.1 291.5h.7 M492.0 259.0h.7 M453.0 269.2h.7 M484.3 305.0h.7 M454.1 285.9h.7 M458.9 267.1h.7 M466.4 292.1h.7 M476.4 299.9h.7 M457.2 295.2h.7 M497.9 282.1h.7 M484.3 270.3h.7 M455.8 273.3h.7 M461.6 327.2h.7 M463.7 307.4h.7 M476.1 286.0h.7 M492.3 266.2h.7 M497.5 287.0h.7 M450.3 290.6h.7 M486.6 288.2h.7 M517.5 273.1h.7 M485.4 293.0h.7 M458.3 300.2h.7 M451.1 256.3h.7 M485.7 260.3h.7 M468.5 249.7h.7 M472.1 259.5h.7 M480.3 251.9h.7 M483.5 275.9h.7 M471.9 279.7h.7 M473.9 255.9h.7 M457.8 272.4h.7 M482.8 243.3h.7 M460.1 269.4h.7 M456.3 286.2h.7 M468.2 265.4h.7 M457.2 293.9h.7 M461.4 290.4h.7 M483.5 245.0h.7 M455.9 281.0h.7 M480.3 293.5h.7 M494.1 297.5h.7 M465.1 277.0h.7 M493.3 272.9h.7 M501.7 250.8h.7 M489.6 277.7h.7 M444.4 296.7h.7 M479.3 281.3h.7 M456.0 272.2h.7 M515.4 265.3h.7 M454.4 278.5h.7 M464.9 263.7h.7 M459.1 297.8h.7 M451.2 312.3h.7 M462.9 260.2h.7 M493.6 290.0h.7 M456.4 293.0h.7 M446.1 263.5h.7 M503.8 276.1h.7 M453.1 289.2h.7 M497.5 280.6h.7 M446.5 274.4h.7 M482.5 293.3h.7 M525.6 276.2h.7 M463.7 280.3h.7 M506.2 263.1h.7 M509.2 228.8h.7 M493.9 268.2h.7 M483.8 292.0h.7 M454.6 279.4h.7 M477.2 290.4h.7 M457.9 262.2h.7 M445.0 321.6h.7 M467.5 276.8h.7 M450.6 295.9h.7 M463.0 304.0h.7 M495.6 281.3h.7 M491.8 259.9h.7 M465.8 270.1h.7 M453.5 281.3h.7 M468.1 304.0h.7 M458.1 272.2h.7 M482.7 287.5h.7 M470.8 272.0h.7 M484.8 286.8h.7 M446.0 276.0h.7 M452.1 258.5h.7 M474.4 282.0h.7 M473.4 264.4h.7 M467.4 263.7h.7 M481.5 292.0h.7 M522.7 301.3h.7 M459.5 272.3h.7 M457.8 285.9h.7 M529.4 292.3h.7 M441.4 257.1h.7 M453.2 289.2h.7 M470.0 285.8h.7 M523.4 265.3h.7 M459.0 312.5h.7 M480.3 266.2h.7 M443.6 252.0h.7 M471.3 296.9h.7 M468.2 267.8h.7 M460.4 311.4h.7 M447.0 283.8h.7 M470.8 290.9h.7 M464.7 289.0h.7 M494.5 278.2h.7 M464.1 277.5h.7 M457.5 277.1h.7 M466.1 284.4h.7 M510.1 301.9h.7 M464.2 290.6h.7 M478.8 293.2h.7 M470.6 285.3h.7 M463.9 266.1h.7 M496.2 301.8h.7 M489.9 288.0h.7 M478.0 272.4h.7 M446.8 291.6h.7 M476.0 270.5h.7 M457.5 301.4h.7 M446.5 309.2h.7 M489.2 318.9h.7 M460.7 280.6h.7 M463.4 283.5h.7 M467.3 266.8h.7 M502.2 266.1h.7 M463.4 289.9h.7 M463.0 272.7h.7 M480.7 274.0h.7 M453.8 279.1h.7 M467.1 308.3h.7 M455.7 296.5h.7 M459.8 274.2h.7 M465.8 285.3h.7 M495.9 309.0h.7 M461.7 302.3h.7 M499.9 294.0h.7 M460.1 295.4h.7 M468.6 286.7h.7 M466.5 291.6h.7 M503.5 299.1h.7 M467.3 296.9h.7 M513.6 263.2h.7 M514.2 255.6h.7 M486.3 290.5h.7 M514.5 285.5h.7 M463.8 265.9h.7 M453.7 293.3h.7 M466.9 267.4h.7 M486.0 266.5h.7 M464.3 272.3h.7 M519.6 304.4h.7 M467.9 251.1h.7 M478.3 282.1h.7 M480.5 290.0h.7 M465.8 295.8h.7 M495.1 284.4h.7 M464.7 271.9h.7 M490.8 260.1h.7 M467.9 266.8h.7 M451.9 290.7h.7 M469.7 281.6h.7 M496.2 252.6h.7 M469.1 285.6h.7 M495.0 260.4h.7 M491.5 284.5h.7 M510.7 299.2h.7 M486.5 315.4h.7 M470.0 272.9h.7 M465.6 263.1h.7 M469.6 245.3h.7 M468.9 287.8h.7 M499.7 274.4h.7 M511.7 268.6h.7 M468.3 245.3h.7 M460.1 266.0h.7 M513.8 289.3h.7 M456.0 289.3h.7 M484.1 276.7h.7 M470.7 275.3h.7 M463.1 248.1h.7 M468.9 301.1h.7 M512.0 275.8h.7 M460.5 277.1h.7 M496.3 286.5h.7 M462.6 286.7h.7 M467.4 289.1h.7 M464.8 253.7h.7 M471.7 292.9h.7 M456.0 279.0h.7 M495.7 274.1h.7 M461.8 312.7h.7 M494.3 297.0h.7 M458.0 306.4h.7 M449.0 271.4h.7 M491.6 301.7h.7 M458.2 268.7h.7 M475.7 245.3h.7 M488.7 289.7h.7 M464.3 289.4h.7 M492.6 285.8h.7 M485.2 304.5h.7 M464.0 283.5h.7 M463.4 297.1h.7 M464.9 288.4h.7 M474.0 282.0h.7 M519.9 279.4h.7 M511.2 293.8h.7 M508.3 278.0h.7 M496.9 292.7h.7 M462.3 285.2h.7 M468.4 280.3h.7 M507.8 267.8h.7 M448.9 249.0h.7 M464.3 269.2h.7 M470.4 289.7h.7 M521.0 285.8h.7 M483.4 267.5h.7 M486.8 302.0h.7 M508.8 245.2h.7 M495.8 305.4h.7 M493.9 253.6h.7 M466.2 290.1h.7 M482.0 266.1h.7 M458.8 295.9h.7 M453.3 303.1h.7 M470.6 285.6h.7 M453.3 270.1h.7 M489.9 254.1h.7 M529.8 255.3h.7 M454.7 281.7h.7 M483.9 292.3h.7 M465.4 277.2h.7 M467.0 270.5h.7 M477.2 283.4h.7 M462.1 284.9h.7 M469.8 279.6h.7 M501.9 249.6h.7 M477.3 261.5h.7 M466.0 304.0h.7 M456.5 279.2h.7 M462.6 295.6h.7 M457.8 250.3h.7 M484.8 274.5h.7 M466.0 297.6h.7 M458.9 274.2h.7 M474.3 287.4h.7 M463.5 296.9h.7 M534.6 273.5h.7 M523.9 242.5h.7 M510.5 274.7h.7 M474.0 274.8h.7 M462.1 257.7h.7 M465.1 300.9h.7 M502.8 274.6h.7 M463.4 268.2h.7 M455.0 308.7h.7 M489.1 282.8h.7 M463.9 262.4h.7 M507.9 293.0h.7 M458.1 296.2h.7 M456.2 290.9h.7 M458.0 273.4h.7 M484.3 287.6h.7 M499.1 265.7h.7 M515.5 301.7h.7 M469.9 288.1h.7 M460.3 278.2h.7 M453.5 282.4h.7 M475.7 301.6h.7 M497.3 293.5h.7 M465.5 276.9h.7 M465.7 284.4h.7 M445.9 292.8h.7 M450.4 271.6h.7 M470.6 271.6h.7 M517.9 279.2h.7 M515.3 299.0h.7 M463.8 287.2h.7 M507.4 274.9h.7 M472.5 270.8h.7 M471.7 274.5h.7 M472.4 296.4h.7 M510.1 283.0h.7 M475.8 294.2h.7 M466.4 261.7h.7 M502.0 264.0h.7 M496.8 263.4h.7 M522.7 262.0h.7 M494.5 304.0h.7 M458.0 303.8h.7 M459.7 248.8h.7 M490.8 291.8h.7 M467.5 234.9h.7 M469.3 275.4h.7 M465.3 275.7h.7 M447.7 270.7h.7 M521.8 304.8h.7 M465.5 268.0h.7 M481.4 297.3h.7 M490.8 259.7h.7 M474.7 283.2h.7 M511.4 299.4h.7 M485.1 299.7h.7 M465.1 304.6h.7 M464.7 287.1h.7 M496.4 264.3h.7 M461.2 248.9h.7 M474.7 280.0h.7 M465.9 288.7h.7 M443.6 280.6h.7 M472.5 276.1h.7 M492.9 307.9h.7 M464.4 263.9h.7 M462.5 282.4h.7 M486.9 265.3h.7 M498.8 262.3h.7 M493.8 287.6h.7 M483.4 314.1h.7 M466.7 278.0h.7 M483.7 294.3h.7 M453.3 285.2h.7 M460.7 290.7h.7 M509.4 281.8h.7 M468.7 283.8h.7 M486.2 283.5h.7 M465.1 267.7h.7 M467.8 299.6h.7 M468.7 301.7h.7 M477.9 280.8h.7 M449.3 268.9h.7 M506.0 257.4h.7 M457.6 261.0h.7 M463.1 290.9h.7 M487.1 244.0h.7 M512.0 270.2h.7 M462.7 306.6h.7 M469.0 258.4h.7 M462.0 267.7h.7 M457.4 274.9h.7 M495.3 286.4h.7 M452.8 323.8h.7 M457.6 282.8h.7 M470.9 292.7h.7 M465.9 288.0h.7 M530.6 282.5h.7 M456.5 286.0h.7 M460.0 274.3h.7 M475.4 286.2h.7 M466.5 294.0h.7 M467.6 257.2h.7 M495.3 274.4h.7 M504.9 269.1h.7 M486.5 285.8h.7 M456.0 302.6h.7 M446.4 295.0h.7 M501.5 288.6h.7 M489.4 272.0h.7 M469.9 284.5h.7 M482.1 291.9h.7 M467.4 268.2h.7 M463.0 287.3h.7 M449.3 258.1h.7 M464.9 270.9h.7 M466.6 232.4h.7 M465.7 276.4h.7 M492.4 244.9h.7 M466.2 288.3h.7 M484.1 299.4h.7 M500.4 261.9h.7 M488.3 274.9h.7 M460.0 304.6h.7 M462.1 265.4h.7 M464.9 265.4h.7 M499.0 286.8h.7 M510.4 287.3h.7 M462.3 297.1h.7 M461.8 272.6h.7 M467.9 281.6h.7 M504.5 269.9h.7 M480.2 280.5h.7 M454.3 261.0h.7 M467.3 287.2h.7 M479.3 288.4h.7 M471.4 272.8h.7 M482.3 262.7h.7 M453.2 274.9h.7 M452.1 271.6h.7 M460.6 270.9h.7 M469.4 266.4h.7 M464.7 249.7h.7 M474.2 264.9h.7 M481.7 229.2h.7 M460.0 284.7h.7 M472.7 282.6h.7 M451.2 284.5h.7 M474.3 263.2h.7 M491.5 280.1h.7 M470.5 272.8h.7 M485.9 282.5h.7 M502.9 288.0h.7 M462.3 276.9h.7 M496.6 274.3h.7 M481.1 289.1h.7 M467.7 238.3h.7 M473.8 284.3h.7 M473.9 267.1h.7 M505.1 278.5h.7 M462.2 267.8h.7 M480.4 261.0h.7 M457.4 311.9h.7 M508.0 297.3h.7 M509.6 290.2h.7 M448.8 299.5h.7 M506.0 288.6h.7 M445.4 300.2h.7 M509.6 272.0h.7 M473.7 293.0h.7 M468.9 298.0h.7 M472.4 291.7h.7 M472.5 253.8h.7 M457.5 330.1h.7 M478.1 301.3h.7 M503.1 307.6h.7 M486.1 270.0h.7 M470.5 245.7h.7 M467.6 295.1h.7 M442.7 284.1h.7 M494.0 301.6h.7 M458.3 269.0h.7 M446.3 262.2h.7 M485.5 313.1h.7 M455.5 302.4h.7 M482.4 271.9h.7 M533.9 234.5h.7 M469.1 284.4h.7 M532.1 308.9h.7 M536.0 283.1h.7 M498.6 302.2h.7 M484.9 286.6h.7 M467.7 273.5h.7 M454.5 311.3h.7 M464.4 242.6h.7 M477.7 280.4h.7 M475.1 309.2h.7 M468.7 276.1h.7 M460.6 280.6h.7 M464.5 284.2h.7 M459.2 311.0h.7 M495.2 293.7h.7 M490.9 293.8h.7 M489.7 303.0h.7 M499.4 302.0h.7 M463.7 281.0h.7 M460.8 295.9h.7 M494.3 272.4h.7 M487.1 321.9h.7 M506.1 260.4h.7 M468.8 290.9h.7 M469.5 287.0h.7 M504.5 286.1h.7 M456.1 292.1h.7 M468.8 282.8h.7 M462.8 255.4h.7 M454.2 274.5h.7 M456.5 230.8h.7 M503.5 259.5h.7 M460.8 289.3h.7 M460.3 291.3h.7 M463.9 285.8h.7 M473.1 281.0h.7 M446.9 253.8h.7 M469.5 303.0h.7 M463.1 289.3h.7 M474.7 288.5h.7 M499.0 253.3h.7 M478.0 277.7h.7 M466.0 265.2h.7 M460.0 261.9h.7 M456.1 320.1h.7 M519.7 281.2h.7 M491.7 262.9h.7 M474.1 303.4h.7 M469.5 262.5h.7 M466.9 262.5h.7 M452.3 276.7h.7 M464.9 266.0h.7 M458.8 263.8h.7 M476.9 302.7h.7 M467.3 315.9h.7 M449.5 285.3h.7 M455.3 278.0h.7 M473.0 289.7h.7 M503.0 270.7h.7 M454.3 277.5h.7 M478.6 268.1h.7 M496.1 307.3h.7 M452.0 286.7h.7 M499.7 245.4h.7 M476.0 276.8h.7 M452.0 301.5h.7 M476.3 272.1h.7 M483.0 291.0h.7 M492.5 290.0h.7 M482.0 259.2h.7 M464.7 283.0h.7 M465.2 261.5h.7 M447.0 284.9h.7 M470.9 270.2h.7 M464.7 264.6h.7 M460.5 279.2h.7 M461.8 291.6h.7 M468.2 283.1h.7 M481.9 300.8h.7 M487.6 284.6h.7 M467.9 266.1h.7 M465.7 291.6h.7 M476.6 273.8h.7 M453.1 252.6h.7 M479.4 297.0h.7 M480.9 255.6h.7 M467.3 284.5h.7 M458.4 286.4h.7 M467.5 265.5h.7 M454.3 293.6h.7 M480.4 264.6h.7 M457.2 294.9h.7 M487.4 275.4h.7 M516.6 275.6h.7 M456.6 298.0h.7 M467.6 286.4h.7 M471.1 262.5h.7 M455.0 277.4h.7 M511.1 262.4h.7 M509.7 284.4h.7 M455.9 285.2h.7 M486.6 264.4h.7 M443.0 286.6h.7 M456.0 287.9h.7 M445.8 278.4h.7 M459.8 253.6h.7 M466.9 283.7h.7 M463.0 259.2h.7 M476.2 248.7h.7 M485.6 288.6h.7 M519.0 294.7h.7 M480.4 285.1h.7 M470.8 256.5h.7 M512.7 289.2h.7 M466.4 259.8h.7 M513.3 289.3h.7 M455.0 291.4h.7 M525.3 280.6h.7 M481.7 273.3h.7 M462.1 297.7h.7 M468.4 293.3h.7 M466.2 292.3h.7 M494.1 262.2h.7 M456.5 279.6h.7 M494.3 285.3h.7 M506.2 255.6h.7 M484.4 269.5h.7 M472.9 286.0h.7 M457.8 276.8h.7 M455.3 285.1h.7 M459.3 271.9h.7 M476.4 269.0h.7 M503.4 269.3h.7 M494.7 285.4h.7 M457.0 277.0h.7 M459.4 274.3h.7 M466.6 309.2h.7 M464.7 305.3h.7 M483.0 256.9h.7 M444.9 292.1h.7 M499.9 287.1h.7 M467.4 276.4h.7 M477.5 275.4h.7 M463.3 274.2h.7 M504.0 269.6h.7 M481.0 259.8h.7 M461.0 255.7h.7 M467.5 291.6h.7 M478.9 271.9h.7 M487.8 274.6h.7 M480.8 285.2h.7 M485.7 235.4h.7 M453.6 293.0h.7 M468.7 315.7h.7 M467.0 270.9h.7 M513.4 289.6h.7 M525.1 288.9h.7 M467.4 292.2h.7 M460.1 272.8h.7 M463.0 276.9h.7 M492.6 272.2h.7 M479.3 271.8h.7 M495.6 230.4h.7 M467.4 283.6h.7 M456.4 296.7h.7 M476.3 300.8h.7 M497.9 290.9h.7 M468.1 261.0h.7 M467.2 272.6h.7 M477.2 272.5h.7 M504.1 272.4h.7 M467.0 295.3h.7 M470.1 258.7h.7 M482.0 277.4h.7 M444.2 284.1h.7 M456.7 267.3h.7 M484.0 285.6h.7 M466.4 314.5h.7 M482.2 269.7h.7 M476.9 278.8h.7 M442.3 252.1h.7 M452.5 312.9h.7 M467.7 275.9h.7 M462.9 296.2h.7 M470.8 307.3h.7 M492.8 306.4h.7 M468.5 286.8h.7 M464.6 277.9h.7 M448.3 270.3h.7 M458.1 269.1h.7 M505.2 285.0h.7 M505.5 294.2h.7 M496.6 296.5h.7 M462.4 293.4h.7 M466.0 271.3h.7 M504.6 314.4h.7 M457.7 307.8h.7 M494.0 265.5h.7 M477.9 286.7h.7 M480.9 274.5h.7 M453.9 281.5h.7 M494.9 293.1h.7 M489.1 298.0h.7 M457.6 280.2h.7 M479.8 296.4h.7 M474.5 289.0h.7 M473.9 313.3h.7 M442.7 280.5h.7 M541.6 284.6h.7 M447.1 283.1h.7 M452.0 268.6h.7 M476.5 307.4h.7 M483.4 291.3h.7 M499.4 284.1h.7 M459.3 279.2h.7 M479.7 275.9h.7 M461.6 274.4h.7 M451.2 262.3h.7 M468.9 274.4h.7 M471.1 302.6h.7 M478.7 280.4h.7 M455.3 261.3h.7 M480.8 265.0h.7 M482.4 261.4h.7 M473.9 279.7h.7 M498.8 273.8h.7 M465.3 284.8h.7 M471.6 307.0h.7 M466.8 271.2h.7 M466.0 288.3h.7 M476.8 291.7h.7 M452.7 319.1h.7 M523.1 280.4h.7 M454.9 283.4h.7 M482.0 240.2h.7 M470.4 254.0h.7 M483.2 302.3h.7 M499.8 253.5h.7 M509.9 295.0h.7 M465.5 288.7h.7 M513.8 274.9h.7 M469.8 270.8h.7 M503.4 241.6h.7 M511.0 263.3h.7 M496.7 251.3h.7 M458.3 270.1h.7 M493.9 251.4h.7 M487.4 269.4h.7 M505.8 275.3h.7 M484.0 277.9h.7 M521.8 274.4h.7 M469.7 311.5h.7 M472.2 291.6h.7 M460.8 284.1h.7 M441.6 282.6h.7 M461.9 253.5h.7 M452.3 298.6h.7 M482.3 253.3h.7 M522.4 268.3h.7 M465.4 284.8h.7 M455.8 251.4h.7 M460.7 299.2h.7 M497.5 252.1h.7 M504.8 281.5h.7 M484.4 281.8h.7 M481.9 262.7h.7 M458.6 268.1h.7 M465.4 290.5h.7 M454.8 305.5h.7 M462.1 270.2h.7 M490.3 287.7h.7 M465.8 261.4h.7 M457.5 251.8h.7 M503.0 297.7h.7 M523.9 288.7h.7 M479.6 292.7h.7 M497.5 276.3h.7 M480.2 314.2h.7 M448.8 255.3h.7 M457.9 292.6h.7 M504.3 274.8h.7 M489.4 280.1h.7 M478.7 271.1h.7 M469.7 280.9h.7 M502.7 315.4h.7 M447.3 289.2h.7 M469.9 295.9h.7 M500.7 293.0h.7 M493.4 263.6h.7 M448.7 306.7h.7 M504.9 263.6h.7 M507.3 291.3h.7 M457.6 299.0h.7 M461.5 267.4h.7 M450.7 277.0h.7 M499.4 268.7h.7 M446.7 314.0h.7 M523.3 291.6h.7 M463.3 258.8h.7 M449.5 289.6h.7 M507.6 261.6h.7 M470.0 275.9h.7 M466.8 288.7h.7 M530.5 269.3h.7 M494.6 297.8h.7 M466.4 278.3h.7 M453.2 297.6h.7 M463.3 269.0h.7 M471.9 265.3h.7 M456.9 275.5h.7 M513.0 277.2h.7 M485.2 254.1h.7 M445.6 309.0h.7 M465.0 252.8h.7 M468.7 290.4h.7 M448.4 264.8h.7 M477.5 264.1h.7 M493.1 295.8h.7 M482.8 273.1h.7 M469.4 269.4h.7 M468.4 285.9h.7 M466.2 296.0h.7 M545.1 271.0h.7 M479.9 293.7h.7 M488.7 276.6h.7 M464.0 296.5h.7 M488.1 288.8h.7 M459.9 290.8h.7 M493.0 277.6h.7 M488.7 314.6h.7 M446.4 290.4h.7 M455.3 256.0h.7 M467.0 289.4h.7 M471.5 259.6h.7 M451.9 270.8h.7 M470.4 265.8h.7 M451.1 308.1h.7 M459.5 278.1h.7 M463.1 270.2h.7 M471.2 275.5h.7 M488.0 259.2h.7 M451.3 311.2h.7 M469.1 292.9h.7 M504.2 289.6h.7 M471.1 252.4h.7 M449.9 296.1h.7 M489.7 289.8h.7 M449.1 241.8h.7 M456.7 259.3h.7 M474.6 262.2h.7 M516.0 269.5h.7 M462.9 294.4h.7 M479.5 264.4h.7 M493.9 310.8h.7 M454.5 276.4h.7 M456.4 245.2h.7 M488.2 291.8h.7 M498.4 287.7h.7 M444.6 280.5h.7 M461.6 259.3h.7 M456.0 292.9h.7 M466.3 311.5h.7 M483.7 245.8h.7 M496.0 300.4h.7 M470.9 258.6h.7 M521.6 256.8h.7 M468.9 245.8h.7 M454.1 249.6h.7 M501.8 299.3h.7 M464.9 255.9h.7 M469.2 286.9h.7 M450.7 259.6h.7 M468.7 292.0h.7 M472.2 288.0h.7 M454.2 234.9h.7 M479.1 264.0h.7 M468.4 274.0h.7 M484.1 266.7h.7 M512.3 281.5h.7 M485.5 290.8h.7 M500.4 287.3h.7 M447.8 269.3h.7 M524.5 288.4h.7 M486.4 288.3h.7 M461.9 268.4h.7 M461.8 299.1h.7 M480.7 308.8h.7 M484.6 310.6h.7 M483.4 259.0h.7 M521.1 286.3h.7 M505.0 284.4h.7 M465.8 283.7h.7 M455.7 258.8h.7 M458.7 271.2h.7 M452.7 279.1h.7 M479.0 312.8h.7 M524.2 280.1h.7 M496.0 276.9h.7 M481.5 280.4h.7 M463.1 282.2h.7 M451.1 287.9h.7 M466.3 260.8h.7 M465.4 289.7h.7 M461.3 288.5h.7 M486.8 305.5h.7 M456.1 278.9h.7 M485.1 304.6h.7 M477.7 292.9h.7 M451.2 270.1h.7 M519.1 275.7h.7 M533.9 267.4h.7 M466.4 251.2h.7 M488.8 285.2h.7 M529.7 283.6h.7 M466.8 254.6h.7 M468.9 295.9h.7 M491.9 300.4h.7 M495.6 280.1h.7 M487.9 283.7h.7 M452.9 308.0h.7 M481.1 261.3h.7 M481.4 285.6h.7 M499.5 303.8h.7 M515.4 263.2h.7 M446.1 285.4h.7 M480.0 286.5h.7 M455.7 272.2h.7 M475.8 292.8h.7 M535.1 285.7h.7 M462.2 236.6h.7 M501.9 278.5h.7 M468.6 262.4h.7 M491.8 247.3h.7 M473.2 282.9h.7 M478.9 301.7h.7 M468.7 282.5h.7 M495.5 251.8h.7 M466.2 282.1h.7 M498.4 265.9h.7 M493.9 287.1h.7 M450.8 253.1h.7 M451.5 283.2h.7 M476.2 292.5h.7 M494.5 270.6h.7 M501.9 294.0h.7 M484.1 288.6h.7 M453.4 286.7h.7 M456.7 258.5h.7 M465.5 283.2h.7 M469.3 274.8h.7 M457.1 284.0h.7 M460.4 254.4h.7 M472.8 304.1h.7 M464.8 260.9h.7 M511.3 308.2h.7 M466.2 277.0h.7 M476.3 328.0h.7 M474.0 296.8h.7 M483.2 246.6h.7 M455.7 257.7h.7 M482.9 282.7h.7 M523.4 275.9h.7 M479.2 282.2h.7 M474.2 317.9h.7 M478.5 304.5h.7 M508.8 269.5h.7 M490.5 273.8h.7 M473.3 283.5h.7 M470.6 272.1h.7 M516.5 276.0h.7 M491.0 307.8h.7 M488.7 297.4h.7 M511.5 298.4h.7 M521.4 254.0h.7 M528.6 281.4h.7 M447.3 268.9h.7 M451.9 280.6h.7 M450.7 261.9h.7 M478.9 283.5h.7 M459.7 276.6h.7 M468.7 282.2h.7 M469.9 276.8h.7 M496.3 250.5h.7 M463.6 283.1h.7 M464.8 270.5h.7 M464.3 284.3h.7 M507.3 277.5h.7 M466.5 286.7h.7 M466.9 244.3h.7 M478.0 273.8h.7 M462.6 291.0h.7 M471.3 270.3h.7 M441.7 248.3h.7 M470.4 278.8h.7 M483.1 284.6h.7 M463.8 257.0h.7 M455.8 278.4h.7 M455.1 293.1h.7 M452.8 247.0h.7 M467.5 247.3h.7 M518.8 262.2h.7 M469.3 276.4h.7 M459.3 247.4h.7 M445.8 294.8h.7 M500.6 315.6h.7 M451.0 290.0h.7 M469.8 294.5h.7 M463.3 292.5h.7 M496.9 290.7h.7 M513.4 277.7h.7 M516.3 267.7h.7 M520.0 228.8h.7 M470.4 265.8h.7 M470.0 297.5h.7 M491.5 282.5h.7 M521.0 253.0h.7 M459.4 305.2h.7 M479.8 241.6h.7 M480.2 258.5h.7 M514.3 299.3h.7 M462.9 301.7h.7 M459.2 295.7h.7 M487.4 278.6h.7 M451.5 275.7h.7 M445.9 300.4h.7 M457.4 234.8h.7 M487.5 286.9h.7 M463.4 314.9h.7 M493.2 282.1h.7 M461.6 224.8h.7 M484.4 296.4h.7 M462.3 254.2h.7 M469.5 249.2h.7 M470.2 293.3h.7 M515.3 285.2h.7 M475.9 293.0h.7 M512.0 274.9h.7 M454.0 266.0h.7 M453.6 264.1h.7 M468.4 286.5h.7 M474.7 282.1h.7 M465.4 287.8h.7 M496.6 293.2h.7 M514.9 275.5h.7 M466.7 308.1h.7 M476.0 287.6h.7 M465.6 296.5h.7 M464.8 261.9h.7 M469.2 272.6h.7 M495.0 273.8h.7 M473.7 276.9h.7 M480.2 269.0h.7 M503.1 253.9h.7 M465.0 267.5h.7 M489.4 281.6h.7 M484.5 274.7h.7 M460.7 259.7h.7 M465.7 270.8h.7 M478.4 286.7h.7 M499.3 279.0h.7 M460.3 260.8h.7 M471.8 286.8h.7 M528.4 283.9h.7 M522.7 311.0h.7 M456.4 300.4h.7 M504.1 302.5h.7 M469.9 296.3h.7 M463.7 279.7h.7 M470.6 309.5h.7 M467.2 296.3h.7 M472.0 267.5h.7 M477.3 291.6h.7 M460.7 291.1h.7 M460.7 264.3h.7 M476.6 276.5h.7 M457.2 250.0h.7 M470.7 284.9h.7 M464.0 284.0h.7 M450.1 287.3h.7 M482.5 285.4h.7 M462.0 282.3h.7 M473.9 298.1h.7 M478.3 285.1h.7 M460.6 294.8h.7 M505.2 271.6h.7 M489.2 285.9h.7 M469.4 256.6h.7 M522.7 245.6h.7 M479.1 273.9h.7 M504.3 273.0h.7 M471.2 290.8h.7 M483.7 271.1h.7 M490.4 287.3h.7 M499.6 271.3h.7 M469.4 273.6h.7 M459.1 285.1h.7 M482.3 303.7h.7 M465.8 287.2h.7 M504.2 278.8h.7 M471.9 283.1h.7 M461.0 262.3h.7 M503.4 283.8h.7 M469.0 257.5h.7 M473.5 299.7h.7 M455.1 264.1h.7 M503.2 303.8h.7 M516.4 270.5h.7 M487.9 266.8h.7 M485.6 274.1h.7 M475.9 302.4h.7 M480.1 276.4h.7 M471.7 285.2h.7 M463.4 284.3h.7 M487.9 305.8h.7 M443.3 258.5h.7 M454.0 294.9h.7 M542.8 284.1h.7 M473.6 299.1h.7 M463.4 271.8h.7 M480.1 270.0h.7 M503.1 280.9h.7 M481.4 321.3h.7 M464.2 295.7h.7 M459.3 300.8h.7 M498.7 283.2h.7 M499.5 306.6h.7 M511.0 281.0h.7 M469.3 298.6h.7 M451.0 269.6h.7 M484.4 290.0h.7 M525.4 308.9h.7 M479.6 288.0h.7 M453.0 277.5h.7 M477.8 276.7h.7 M471.8 290.6h.7 M457.7 270.3h.7 M447.1 299.1h.7 M456.4 249.0h.7 M492.9 277.0h.7 M498.7 274.1h.7 M533.1 292.3h.7 M474.5 282.8h.7 M467.4 293.8h.7 M529.3 273.1h.7 M456.0 290.5h.7 M501.7 253.0h.7 M461.1 262.3h.7 M486.7 289.0h.7 M460.6 259.8h.7 M490.2 242.4h.7 M489.1 278.1h.7 M526.9 296.7h.7 M462.6 275.9h.7 M466.4 267.4h.7 M472.4 296.2h.7 M450.7 276.7h.7 M514.2 292.7h.7 M459.6 265.9h.7 M459.0 250.9h.7 M504.0 282.1h.7 M461.1 254.1h.7 M465.1 271.4h.7 M520.9 272.4h.7 M473.4 297.9h.7 M489.7 277.6h.7 M442.1 303.1h.7 M487.7 272.9h.7 M468.9 263.1h.7 M458.5 253.3h.7 M484.8 289.2h.7 M475.2 293.3h.7 M485.8 282.9h.7 M458.7 290.3h.7 M505.0 290.9h.7 M506.8 272.2h.7 M457.5 300.7h.7 M462.5 284.8h.7 M467.6 281.3h.7 M466.5 270.9h.7 M447.2 310.9h.7 M476.0 245.1h.7 M458.4 260.0h.7 M460.5 233.5h.7 M486.9 306.7h.7 M466.9 292.7h.7 M487.7 257.8h.7 M505.9 249.6h.7 M462.7 274.3h.7 M507.0 282.9h.7 M468.4 266.0h.7 M472.6 281.7h.7 M491.5 302.9h.7 M491.7 281.3h.7 M468.1 306.1h.7 M475.9 280.7h.7 M522.8 305.6h.7 M486.7 279.0h.7 M461.9 297.7h.7 M464.2 296.0h.7 M460.0 282.6h.7 M481.8 283.3h.7 M476.9 287.0h.7 M455.7 260.4h.7 M468.1 309.2h.7 M468.4 263.8h.7 M461.6 281.5h.7 M504.7 270.5h.7 M486.5 283.9h.7 M465.5 263.5h.7 M468.1 267.6h.7 M485.8 248.3h.7 M503.1 292.9h.7 M487.0 304.4h.7 M487.7 249.3h.7 M471.6 288.0h.7 M461.3 260.0h.7 M482.7 289.0h.7 M464.6 276.5h.7 M463.6 270.5h.7 M469.3 297.8h.7 M449.6 274.7h.7 M517.3 286.0h.7 M474.5 294.0h.7 M457.3 258.6h.7 M449.0 254.0h.7 M477.3 294.3h.7 M464.7 268.4h.7 M481.8 290.6h.7 M477.5 245.7h.7 M463.1 234.1h.7 M477.1 265.3h.7 M461.7 304.4h.7 M508.6 288.5h.7 M478.1 283.7h.7 M462.6 280.1h.7 M525.9 264.8h.7 M461.6 283.5h.7 M496.1 294.0h.7 M457.8 278.6h.7 M466.6 258.2h.7 M472.3 272.1h.7 M496.9 287.7h.7 M460.1 282.3h.7 M465.5 269.3h.7 M463.8 297.6h.7 M464.8 249.3h.7 M460.2 293.6h.7 M532.8 261.5h.7 M465.5 274.9h.7 M452.2 287.3h.7 M469.4 285.3h.7 M535.3 276.1h.7 M493.2 294.0h.7 M462.0 270.1h.7 M515.4 292.1h.7 M474.2 260.8h.7 M495.8 289.2h.7 M534.1 303.9h.7 M493.5 285.2h.7 M471.8 270.8h.7 M479.0 284.8h.7 M489.0 297.9h.7 M479.1 271.0h.7 M493.6 305.2h.7 M459.5 287.5h.7 M486.0 289.3h.7 M484.7 279.3h.7 M468.7 307.2h.7 M520.5 255.1h.7 M461.5 271.5h.7 M449.9 286.5h.7 M469.3 271.0h.7 M496.2 318.8h.7 M513.0 299.3h.7 M464.8 291.2h.7 M469.5 299.0h.7 M487.0 280.4h.7 M486.1 267.8h.7 M493.1 304.4h.7 M465.4 289.7h.7 M449.0 295.6h.7 M495.6 262.2h.7 M520.8 282.8h.7 M448.2 255.7h.7 M495.5 276.0h.7 M502.2 252.4h.7 M468.8 296.2h.7 M461.4 291.6h.7 M465.5 286.4h.7 M479.4 315.7h.7 M454.4 293.1h.7 M508.3 260.3h.7 M472.4 316.9h.7 M500.6 226.3h.7 M467.0 249.4h.7 M478.8 267.6h.7 M462.9 265.6h.7 M478.6 272.4h.7 M458.6 276.8h.7 M481.9 265.2h.7 M502.4 250.4h.7 M481.9 273.8h.7 M515.9 269.1h.7 M461.6 256.2h.7 M527.9 290.6h.7 M456.3 274.8h.7 M457.9 304.7h.7 M482.2 243.4h.7 M476.1 295.2h.7 M470.1 288.4h.7 M468.6 284.2h.7 M476.2 267.9h.7 M480.1 283.6h.7 M469.5 268.4h.7 M457.2 284.8h.7 M494.1 236.4h.7 M463.2 302.0h.7 M496.7 267.8h.7 M509.4 262.8h.7 M460.0 311.2h.7 M464.5 277.0h.7 M449.2 262.3h.7 M455.1 278.5h.7 M446.8 297.5h.7 M465.5 269.8h.7 M462.0 292.6h.7 M514.7 273.5h.7 M517.1 306.1h.7 M509.1 285.7h.7 M451.2 291.5h.7 M464.8 284.0h.7 M446.2 275.8h.7 M476.8 263.7h.7 M478.6 307.0h.7 M476.7 268.3h.7 M539.6 241.2h.7 M458.4 287.4h.7 M462.5 238.6h.7 M477.6 293.9h.7 M459.9 303.8h.7 M484.6 299.6h.7 M450.7 280.9h.7 M516.7 312.4h.7 M508.5 281.0h.7 M475.4 269.4h.7 M502.1 268.1h.7 M473.6 242.8h.7 M450.9 308.7h.7 M471.7 284.4h.7 M442.2 280.4h.7 M530.6 253.3h.7 M463.3 277.1h.7 M454.1 255.9h.7 M454.3 291.0h.7 M469.4 293.8h.7 M456.3 290.2h.7 M464.4 282.4h.7 M497.3 281.5h.7 M465.5 250.1h.7 M471.9 293.3h.7 M462.0 279.8h.7 M447.5 256.2h.7 M481.8 301.3h.7 M466.1 249.9h.7 M465.2 251.9h.7 M466.5 311.2h.7 M478.8 278.2h.7 M500.5 273.9h.7 M479.8 284.1h.7 M483.1 253.6h.7 M490.9 294.8h.7 M458.6 304.4h.7 M470.6 291.6h.7 M486.3 294.9h.7 M461.9 270.1h.7 M481.1 290.6h.7 M486.9 286.3h.7 M463.8 298.4h.7 M483.9 297.7h.7 M461.5 282.9h.7 M463.9 275.2h.7 M475.7 286.5h.7 M459.8 233.7h.7 M460.0 289.5h.7 M459.2 287.8h.7 M465.3 263.3h.7 M504.5 307.1h.7 M468.7 280.1h.7 M498.3 256.1h.7 M458.8 298.9h.7 M496.7 271.7h.7 M460.0 286.5h.7 M451.9 271.6h.7 M467.0 234.8h.7 M487.5 293.1h.7 M501.6 254.0h.7 M453.5 265.7h.7 M453.2 313.5h.7 M457.4 275.1h.7 M476.1 288.2h.7 M513.1 260.5h.7 M496.1 283.4h.7 M454.9 283.4h.7 M451.9 306.7h.7 M460.6 297.0h.7 M508.7 269.4h.7 M458.4 283.1h.7 M456.5 295.3h.7 M475.2 266.6h.7 M461.2 292.5h.7 M451.3 307.8h.7 M459.9 277.3h.7 M458.1 306.8h.7 M494.5 301.7h.7 M489.5 282.4h.7 M520.5 291.6h.7 M483.0 290.2h.7 M492.0 285.4h.7 M467.8 250.8h.7 M531.5 256.4h.7 M442.1 267.5h.7 M527.8 300.4h.7 M462.2 285.2h.7 M469.7 243.4h.7 M465.7 285.7h.7 M505.0 258.2h.7 M479.9 282.3h.7 M474.5 283.4h.7 M465.2 255.1h.7 M483.6 287.2h.7 M487.3 300.9h.7 M453.9 236.6h.7 M446.9 315.2h.7 M458.1 287.4h.7 M469.8 292.6h.7 M467.8 269.7h.7 M477.4 289.3h.7 M457.4 302.1h.7 M504.4 288.1h.7 M468.6 276.5h.7 M448.6 291.5h.7 M457.3 271.5h.7 M499.9 263.5h.7 M463.2 294.7h.7 M525.7 267.9h.7 M503.1 268.6h.7 M481.6 288.7h.7 M455.2 297.4h.7 M524.0 281.8h.7 M478.1 258.7h.7 M523.6 282.0h.7 M453.4 293.2h.7 M451.0 268.0h.7 M442.3 303.0h.7 M536.3 268.9h.7 M461.5 270.0h.7 M462.7 289.9h.7 M513.8 261.9h.7 M483.2 246.7h.7 M515.7 279.3h.7 M460.9 305.5h.7 M468.6 302.9h.7 M502.2 307.5h.7 M459.6 281.9h.7 M481.0 277.3h.7 M515.7 267.4h.7 M500.1 302.8h.7 M444.6 262.6h.7 M458.3 270.6h.7 M481.7 277.7h.7 M472.4 272.3h.7 M468.9 288.8h.7 M492.4 266.2h.7 M468.5 266.5h.7 M467.7 253.7h.7 M498.6 291.7h.7 M468.4 268.0h.7 M464.1 268.4h.7 M449.9 307.1h.7 M454.8 290.3h.7 M488.2 251.1h.7 M445.0 289.7h.7 M444.1 303.8h.7 M463.6 282.4h.7 M470.0 270.4h.7 M468.2 275.3h.7 M507.3 279.3h.7 M469.6 270.9h.7 M461.8 267.0h.7 M470.3 310.4h.7 M503.5 284.8h.7 M520.1 297.2h.7 M476.2 277.9h.7 M455.7 285.0h.7 M465.9 250.9h.7 M453.3 312.0h.7 M476.4 289.0h.7 M476.0 272.2h.7 M483.8 298.3h.7 M466.0 289.2h.7 M500.8 271.8h.7 M475.1 266.9h.7 M488.1 274.0h.7 M504.4 266.5h.7 M520.7 275.1h.7 M459.1 263.8h.7 M489.9 264.7h.7 M524.1 301.5h.7 M485.5 254.0h.7 M469.7 267.2h.7 M446.5 287.8h.7 M536.0 270.8h.7 M494.3 301.5h.7 M457.5 274.5h.7 M478.1 288.6h.7 M455.1 284.5h.7 M468.6 296.2h.7 M449.2 270.3h.7 M463.5 275.0h.7 M491.7 269.1h.7 M552.1 267.6h.7 M495.2 297.3h.7 M498.9 277.1h.7 M459.2 276.2h.7 M490.0 282.9h.7 M487.5 290.2h.7 M458.5 263.2h.7 M513.2 271.8h.7 M449.4 310.7h.7 M459.2 263.3h.7 M499.0 259.5h.7 M458.7 297.8h.7 M459.3 321.1h.7 M472.9 324.0h.7 M473.9 281.9h.7 M461.7 276.8h.7 M463.5 280.6h.7 M493.2 256.8h.7 M458.1 241.2h.7 M515.1 279.6h.7 M469.8 279.9h.7 M500.1 286.1h.7 M495.5 277.8h.7 M468.4 279.9h.7 M445.8 298.4h.7 M449.5 262.1h.7 M490.1 281.9h.7 M494.4 308.3h.7 M525.9 303.1h.7 M467.1 313.8h.7 M458.6 279.4h.7 M499.9 276.9h.7 M468.4 274.3h.7 M510.9 234.1h.7 M508.2 298.0h.7 M469.1 290.0h.7 M457.4 298.7h.7 M511.9 279.9h.7 M465.6 271.7h.7 M467.5 257.2h.7 M452.3 307.6h.7 M469.8 289.8h.7 M479.3 288.6h.7 M450.2 263.0h.7 M489.0 297.0h.7 M455.1 270.0h.7 M456.1 291.4h.7 M480.3 281.5h.7 M461.6 286.5h.7 M471.0 266.9h.7 M480.0 268.4h.7 M498.6 291.0h.7 M461.1 290.4h.7 M472.0 267.6h.7 M458.1 249.4h.7 M455.3 286.5h.7 M506.2 269.1h.7 M474.8 286.5h.7 M493.4 288.1h.7 M506.8 293.3h.7 M460.1 287.3h.7 M470.6 290.3h.7 M466.1 294.3h.7 M509.6 265.1h.7 M462.9 285.2h.7 M484.7 283.3h.7 M494.9 258.5h.7 M493.3 299.7h.7 M503.3 287.8h.7 M466.9 287.4h.7 M469.0 250.9h.7 M462.1 280.2h.7 M463.3 263.3h.7 M467.0 273.9h.7 M472.1 280.1h.7 M475.2 296.9h.7 M474.1 287.5h.7 M454.1 225.0h.7 M464.8 291.8h.7 M465.6 269.2h.7 M453.9 295.3h.7 M463.1 284.9h.7 M503.9 289.6h.7 M537.3 278.5h.7 M498.7 292.1h.7 M461.5 281.8h.7 M462.7 261.5h.7 M479.0 266.3h.7 M520.4 266.9h.7 M462.9 282.5h.7 M463.3 281.9h.7 M462.1 254.0h.7 M515.6 288.1h.7 M474.6 272.2h.7 M468.1 285.8h.7 M451.9 265.8h.7 M458.4 301.1h.7 M456.3 299.8h.7 M463.9 324.6h.7 M469.0 281.5h.7 M510.5 295.0h.7 M498.2 260.7h.7 M504.1 307.9h.7 M468.7 271.8h.7 M455.8 297.3h.7 M478.8 281.1h.7 M453.9 306.9h.7 M496.3 280.6h.7 M514.3 262.9h.7 M496.4 262.0h.7 M512.3 275.8h.7 M506.7 273.1h.7 M482.0 299.3h.7 M458.3 282.6h.7 M459.1 294.6h.7 M462.2 273.9h.7 M467.4 299.6h.7 M456.5 280.5h.7 M465.7 270.6h.7 M459.8 278.0h.7 M475.9 251.6h.7 M477.0 258.5h.7 M470.4 317.5h.7 M457.4 279.7h.7 M466.7 296.7h.7 M463.8 247.1h.7 M449.1 283.8h.7 M477.6 298.1h.7 M463.0 291.7h.7 M456.2 301.7h.7 M469.1 268.1h.7 M475.3 308.9h.7 M459.0 257.4h.7 M456.8 259.1h.7 M469.3 286.6h.7 M467.9 284.2h.7 M505.6 275.5h.7 M453.7 237.6h.7 M477.3 268.1h.7 M466.8 287.6h.7 M483.9 251.2h.7 M457.6 282.2h.7 M468.1 299.3h.7 M463.5 241.8h.7 M505.1 249.9h.7 M457.4 287.2h.7 M456.2 320.8h.7 M477.1 289.6h.7 M464.3 316.5h.7 M486.2 267.4h.7 M507.6 248.9h.7 M462.4 285.6h.7 M474.1 262.8h.7 M517.4 304.5h.7 M457.8 287.0h.7 M461.8 272.8h.7 M499.6 283.0h.7 M468.6 282.6h.7 M454.8 300.5h.7 M460.2 301.9h.7 M464.0 272.3h.7 M514.6 284.1h.7 M461.7 270.8h.7 M488.2 310.9h.7 M488.4 273.5h.7 M455.4 268.2h.7 M468.5 284.9h.7 M461.5 301.5h.7 M457.6 267.4h.7 M484.9 288.7h.7 M464.9 296.4h.7 M451.7 307.1h.7 M535.6 312.2h.7 M473.6 312.5h.7 M471.6 302.3h.7 M467.4 284.1h.7 M485.7 247.8h.7 M467.3 308.5h.7 M497.7 286.2h.7 M475.8 303.2h.7 M480.1 245.1h.7 M457.7 275.4h.7 M474.3 272.5h.7 M468.6 307.7h.7 M498.1 290.6h.7 M470.5 282.0h.7 M480.9 284.9h.7 M460.6 293.5h.7 M459.3 280.2h.7 M465.3 259.1h.7 M488.1 279.7h.7 M454.9 279.5h.7 M452.1 303.9h.7 M485.5 312.7h.7 M462.6 292.3h.7 M457.4 264.8h.7 M468.8 287.6h.7 M497.7 275.9h.7 M503.0 296.4h.7 M458.7 277.6h.7 M458.1 308.2h.7 M462.9 295.1h.7 M497.4 276.2h.7 M463.7 286.5h.7 M460.0 257.0h.7 M457.5 286.4h.7 M475.7 309.1h.7 M446.3 289.0h.7 M455.1 299.4h.7 M490.8 283.0h.7 M514.0 273.9h.7 M463.1 261.1h.7 M461.5 282.8h.7 M490.1 301.4h.7 M466.5 267.2h.7 M465.7 272.9h.7 M464.0 273.4h.7 M458.7 280.0h.7 M463.4 277.8h.7 M452.1 283.3h.7 M487.1 291.3h.7 M462.9 259.5h.7 M453.2 258.9h.7 M461.7 275.2h.7 M447.1 291.6h.7 M450.1 268.1h.7 M460.7 294.2h.7 M524.8 274.3h.7 M466.5 273.6h.7 M467.4 277.8h.7 M543.4 260.5h.7 M468.6 266.1h.7 M480.6 271.2h.7 M487.1 260.7h.7 M532.8 284.3h.7 M447.2 292.1h.7 M464.0 259.3h.7 M483.1 271.3h.7 M491.9 270.7h.7 M496.8 283.4h.7 M480.6 283.5h.7 M465.3 274.2h.7 M483.4 292.2h.7 M464.8 316.4h.7 M520.2 259.5h.7 M502.2 279.7h.7 M476.9 266.2h.7 M519.0 265.6h.7 M469.0 267.4h.7 M527.3 300.8h.7 M453.1 272.6h.7 M480.8 272.9h.7 M465.5 260.8h.7 M477.4 260.6h.7 M494.7 318.8h.7 M465.8 306.9h.7 M481.1 268.5h.7 M465.6 263.0h.7 M473.4 292.1h.7 M497.6 275.8h.7 M454.7 279.6h.7 M519.5 285.5h.7 M469.2 242.2h.7 M464.4 289.6h.7 M457.9 302.3h.7 M462.7 264.8h.7 M462.6 279.3h.7 M499.6 270.5h.7 M447.2 279.6h.7 M485.5 305.3h.7 M455.6 304.3h.7 M490.0 288.2h.7 M460.2 264.6h.7 M457.8 295.7h.7 M476.5 297.8h.7 M523.7 281.3h.7 M469.4 311.1h.7 M453.3 272.7h.7 M465.3 274.0h.7 M474.2 265.4h.7 M504.3 255.7h.7 M459.6 249.6h.7 M452.1 290.3h.7 M488.6 277.4h.7 M494.9 290.8h.7 M462.6 280.4h.7 M480.8 312.6h.7 M464.4 286.9h.7 M486.1 300.2h.7 M482.5 297.9h.7 M456.4 276.2h.7 M445.3 280.2h.7 M538.8 284.9h.7 M472.6 285.2h.7 M474.3 256.5h.7 M461.1 277.9h.7 M475.0 265.1h.7 M468.6 267.5h.7 M453.1 268.9h.7 M459.7 294.2h.7 M509.5 290.2h.7 M467.3 270.8h.7 M449.9 271.3h.7 M516.1 299.1h.7 M476.6 276.6h.7 M470.1 287.7h.7 M469.9 287.8h.7 M460.2 281.8h.7 M465.5 297.9h.7 M454.2 301.4h.7 M468.9 271.8h.7 M470.6 283.0h.7 M467.0 287.7h.7 M462.6 249.7h.7 M490.5 280.7h.7 M519.1 287.1h.7 M444.4 300.5h.7 M461.2 289.7h.7 M535.5 298.2h.7 M456.0 279.4h.7 M449.5 291.5h.7 M486.6 262.1h.7 M483.4 295.7h.7 M493.8 268.7h.7 M461.2 260.4h.7 M453.5 286.0h.7 M471.2 301.4h.7 M478.1 275.2h.7 M451.8 305.2h.7 M474.9 280.6h.7 M457.2 261.8h.7 M488.7 263.1h.7 M487.2 290.9h.7 M465.1 251.2h.7 M482.1 303.0h.7 M459.5 257.8h.7 M502.1 283.4h.7 M462.0 300.2h.7 M466.5 288.2h.7 M464.9 267.3h.7 M476.5 265.3h.7 M447.4 271.2h.7 M506.4 298.2h.7 M534.0 296.6h.7 M517.5 285.0h.7 M464.4 288.4h.7 M457.9 292.6h.7 M464.3 285.2h.7 M459.1 278.7h.7 M498.9 277.2h.7 M461.4 285.6h.7 M495.9 277.7h.7 M455.1 252.4h.7 M452.9 297.7h.7 M468.9 288.6h.7 M501.6 285.6h.7 M484.2 271.9h.7 M449.5 290.9h.7 M468.8 290.1h.7 M456.4 278.6h.7 M529.3 265.7h.7 M472.9 301.5h.7 M467.0 283.1h.7 M442.8 293.2h.7 M464.4 301.1h.7 M468.8 274.4h.7 M482.8 276.8h.7 M463.4 305.1h.7 M498.9 282.9h.7 M493.8 293.9h.7 M487.1 281.9h.7 M472.1 287.5h.7 M486.6 286.7h.7 M463.0 279.9h.7 M483.5 263.2h.7 M469.9 292.9h.7 M475.0 276.0h.7 M469.7 272.4h.7 M498.9 274.4h.7 M448.8 259.2h.7 M478.8 284.4h.7 M464.0 257.3h.7 M468.1 265.9h.7 M461.6 281.2h.7 M460.2 286.0h.7 M460.6 272.8h.7 M467.1 303.7h.7 M516.3 295.7h.7 M460.6 281.3h.7 M496.8 293.6h.7 M449.3 280.3h.7 M460.6 292.7h.7 M488.7 271.5h.7 M532.9 276.2h.7 M541.7 278.2h.7 M468.9 310.3h.7 M463.3 272.7h.7 M513.3 280.6h.7 M484.0 258.4h.7 M522.5 296.3h.7 M480.5 292.1h.7 M463.6 272.7h.7 M450.0 286.9h.7 M506.3 294.3h.7 M497.0 292.1h.7 M458.3 257.6h.7 M488.8 283.8h.7 M498.9 276.3h.7 M458.8 288.1h.7 M462.9 251.6h.7 M462.3 265.4h.7 M455.8 271.3h.7 M497.9 317.2h.7 M520.7 273.8h.7 M503.5 280.0h.7 M481.8 269.1h.7 M469.1 250.9h.7 M522.6 267.5h.7 M487.2 270.7h.7 M477.9 260.0h.7 M465.2 295.2h.7 M487.4 246.2h.7 M495.0 257.6h.7 M478.4 289.2h.7 M461.8 275.6h.7 M466.9 287.4h.7 M496.8 302.0h.7 M479.6 311.6h.7 M458.0 308.3h.7 M466.7 292.9h.7 M468.4 282.5h.7 M458.3 287.2h.7 M529.5 283.5h.7 M469.7 281.3h.7 M490.9 277.6h.7 M469.9 284.5h.7 M508.3 295.7h.7 M456.6 269.9h.7 M470.6 294.1h.7 M498.4 277.6h.7 M532.5 278.4h.7 M511.3 302.9h.7 M516.9 284.3h.7 M486.9 253.7h.7 M447.4 270.3h.7 M491.1 297.4h.7 M468.7 297.1h.7 M487.0 304.4h.7 M449.7 266.4h.7 M457.8 262.5h.7 M518.4 264.6h.7 M459.5 274.1h.7 M496.0 273.0h.7 M491.6 289.6h.7 M461.9 238.7h.7 M458.3 258.8h.7 M518.1 268.4h.7 M456.4 287.0h.7 M471.6 264.4h.7 M502.2 295.2h.7 M478.2 267.6h.7 M458.9 244.3h.7 M481.3 287.2h.7 M458.3 281.6h.7 M448.3 290.5h.7 M464.6 272.4h.7 M488.3 278.9h.7 M499.2 289.1h.7 M504.1 283.0h.7 M442.5 301.9h.7 M448.3 297.1h.7 M477.4 256.2h.7 M472.0 294.6h.7 M457.0 281.9h.7 M460.6 263.1h.7 M462.1 300.6h.7 M490.2 280.7h.7 M469.0 283.1h.7 M478.4 284.0h.7 M448.1 295.2h.7 M459.1 234.2h.7 M490.7 259.4h.7 M468.2 279.5h.7 M462.5 289.3h.7 M466.5 276.2h.7 M457.8 276.2h.7 M456.8 281.8h.7 M509.0 296.5h.7 M482.6 256.6h.7 M500.3 295.4h.7 M530.7 240.6h.7 M470.5 275.2h.7 M502.1 261.6h.7 M465.1 316.5h.7 M499.3 245.2h.7 M470.6 302.0h.7 M462.1 290.2h.7 M472.9 254.8h.7 M462.0 298.4h.7 M504.9 270.3h.7 M503.2 268.3h.7 M477.3 280.8h.7 M454.0 286.0h.7 M465.0 231.5h.7 M459.4 265.8h.7 M459.3 263.5h.7 M461.2 236.8h.7 M496.3 282.2h.7 M477.5 276.3h.7 M471.9 276.4h.7 M456.1 253.6h.7 M472.2 296.6h.7 M476.9 305.7h.7 M452.6 276.3h.7 M462.1 299.9h.7 M520.0 271.7h.7 M491.6 276.7h.7 M457.2 279.1h.7 M456.7 304.8h.7 M487.4 299.2h.7 M480.6 237.0h.7 M493.7 282.5h.7 M499.8 307.2h.7 M456.9 293.1h.7 M479.8 278.0h.7 M466.4 289.2h.7 M487.0 291.1h.7 M464.8 257.1h.7 M508.9 300.9h.7 M462.8 280.5h.7 M493.8 249.2h.7 M484.7 318.1h.7 M478.0 268.3h.7 M530.3 281.2h.7 M476.3 273.4h.7 M475.3 248.4h.7 M453.6 254.2h.7 M496.6 279.4h.7 M504.0 244.0h.7 M462.3 303.4h.7 M459.9 247.2h.7 M460.5 274.8h.7 M469.8 301.0h.7 M509.2 304.8h.7 M487.1 271.9h.7 M463.7 254.1h.7 M507.5 300.2h.7 M472.6 264.8h.7 M489.9 288.5h.7 M474.6 259.9h.7 M477.1 270.7h.7 M491.8 290.2h.7 M483.0 273.3h.7 M514.9 292.9h.7 M507.4 293.9h.7 M489.6 287.0h.7 M456.3 247.9h.7 M458.0 290.4h.7 M496.9 283.8h.7 M472.6 309.2h.7 M464.9 248.6h.7 M450.2 275.2h.7 M490.6 292.3h.7 M467.2 293.6h.7 M469.4 267.8h.7 M465.2 292.6h.7 M498.1 260.6h.7 M457.4 282.9h.7 M532.6 259.7h.7 M454.0 287.4h.7 M485.0 269.9h.7 M469.7 288.5h.7 M447.8 280.6h.7 M487.7 295.2h.7 M504.3 279.7h.7 M451.6 301.6h.7 M492.7 269.4h.7 M500.5 296.9h.7 M468.2 238.0h.7 M464.0 267.2h.7 M459.3 279.5h.7 M456.2 287.0h.7 M525.6 259.4h.7 M500.6 271.3h.7 M486.0 278.7h.7 M507.7 268.1h.7 M491.6 266.9h.7 M476.7 280.8h.7 M502.0 252.3h.7 M452.8 302.4h.7 M481.4 307.0h.7 M456.9 284.2h.7 M487.7 308.1h.7 M469.3 272.9h.7 M491.0 279.2h.7 M460.5 292.7h.7 M445.8 262.5h.7 M510.0 271.9h.7 M465.9 286.7h.7 M502.9 289.1h.7 M457.7 270.7h.7 M500.8 278.8h.7 M462.0 294.4h.7 M503.5 314.4h.7 M456.3 268.1h.7 M461.2 286.5h.7 M463.9 298.1h.7 M461.8 276.0h.7 M486.7 284.1h.7 M457.1 304.0h.7 M486.9 272.1h.7 M476.1 260.9h.7 M454.4 275.5h.7 M480.7 282.6h.7 M460.2 255.8h.7 M448.7 305.5h.7 M480.8 266.4h.7 M504.8 289.3h.7 M464.8 269.8h.7 M503.4 286.0h.7 M517.9 286.6h.7 M462.6 270.1h.7 M461.1 284.9h.7 M477.4 290.3h.7 M483.2 261.9h.7 M467.4 263.9h.7 M484.1 257.0h.7 M462.6 265.4h.7 M462.2 276.3h.7 M514.2 276.3h.7 M451.8 275.5h.7 M491.9 289.5h.7 M477.0 311.6h.7 M502.4 282.4h.7 M505.5 256.6h.7 M467.9 265.2h.7 M475.2 305.8h.7 M463.7 305.5h.7 M457.1 302.9h.7 M448.6 265.5h.7 M499.1 279.3h.7 M474.2 280.8h.7 M475.3 277.7h.7 M457.6 275.7h.7 M473.2 264.6h.7 M483.6 308.1h.7 M449.3 271.1h.7 M466.5 281.3h.7 M472.8 267.8h.7 M469.6 281.1h.7 M468.9 304.6h.7 M473.8 254.1h.7 M450.2 290.1h.7 M465.7 269.7h.7 M452.9 275.4h.7 M468.9 268.5h.7 M465.6 294.6h.7 M492.9 289.4h.7 M467.8 256.3h.7 M492.6 304.0h.7 M507.2 298.9h.7 M478.1 286.8h.7 M469.8 300.2h.7 M466.6 314.0h.7 M492.7 275.1h.7 M470.0 251.7h.7 M460.8 275.5h.7 M541.4 266.2h.7 M496.8 282.2h.7 M466.3 290.6h.7 M444.8 295.5h.7 M526.4 285.5h.7 M469.2 283.5h.7 M489.3 272.1h.7 M473.5 288.7h.7 M465.6 287.0h.7 M479.7 292.0h.7 M457.5 271.2h.7 M464.6 299.4h.7 M477.3 250.9h.7 M453.9 310.8h.7 M479.9 257.4h.7 M458.5 283.2h.7 M511.6 305.9h.7 M465.4 275.6h.7 M525.9 263.1h.7 M515.6 286.2h.7 M472.8 300.8h.7 M484.1 265.8h.7 M450.8 281.2h.7 M484.9 302.0h.7 M488.0 304.3h.7 M493.2 284.3h.7 M482.6 287.1h.7 M462.1 278.9h.7 M473.7 272.8h.7 M451.5 254.6h.7 M484.7 289.0h.7 M473.2 259.7h.7 M494.8 273.9h.7 M443.8 305.1h.7 M451.2 315.6h.7 M485.5 273.0h.7 M513.2 301.9h.7 M477.6 249.8h.7 M465.2 275.8h.7 M483.5 278.7h.7 M480.1 251.2h.7 M461.9 303.2h.7 M451.7 295.2h.7 M537.3 291.0h.7 M452.5 300.2h.7 M446.6 286.2h.7 M464.8 300.1h.7 M504.3 283.9h.7 M522.2 296.1h.7 M464.0 263.1h.7 M541.7 273.6h.7 M482.0 278.9h.7 M464.0 251.6h.7 M468.2 278.9h.7 M498.6 271.6h.7 M450.3 261.4h.7 M469.5 284.8h.7 M491.1 274.0h.7 M485.7 283.2h.7 M519.2 280.0h.7 M474.2 289.7h.7 M505.5 264.2h.7 M464.0 276.0h.7 M443.1 301.1h.7 M501.3 281.3h.7 M528.9 305.2h.7 M496.4 255.1h.7 M514.6 287.5h.7 M454.9 281.8h.7 M492.0 296.2h.7 M475.1 271.4h.7 M492.3 267.1h.7 M469.0 292.8h.7 M451.8 286.8h.7 M445.3 264.0h.7 M454.5 279.4h.7 M490.8 280.1h.7 M496.6 282.5h.7 M467.4 288.6h.7 M467.0 283.1h.7 M500.3 270.6h.7 M503.6 260.7h.7 M467.2 249.2h.7 M463.3 305.5h.7 M480.4 300.6h.7 M451.4 262.5h.7 M483.6 293.8h.7 M494.4 250.3h.7 M484.9 279.7h.7 M473.5 288.4h.7 M466.5 250.0h.7 M456.5 254.5h.7 M453.4 278.6h.7 M508.1 267.9h.7 M460.3 260.0h.7 M448.2 282.0h.7 M463.9 276.6h.7 M457.9 288.5h.7 M454.8 289.5h.7 M461.6 293.2h.7 M458.8 287.8h.7 M482.9 279.5h.7 M517.7 283.7h.7 M458.8 291.7h.7 M459.6 271.1h.7 M470.4 283.8h.7 M519.8 249.0h.7 M466.7 298.4h.7 M468.0 286.0h.7 M514.6 258.4h.7 M471.3 293.3h.7 M462.6 248.9h.7 M457.4 284.0h.7 M475.5 309.5h.7 M508.8 252.6h.7 M500.3 295.1h.7 M517.3 278.2h.7 M463.0 283.3h.7 M515.2 290.6h.7 M519.6 293.2h.7 M462.6 262.4h.7 M524.1 253.2h.7 M465.6 275.2h.7 M458.5 270.5h.7 M470.2 317.8h.7 M469.2 271.4h.7 M473.6 295.5h.7 M459.7 273.6h.7 M447.9 291.9h.7 M489.9 304.2h.7 M454.8 314.6h.7 M495.5 276.0h.7 M465.0 275.3h.7 M454.6 292.9h.7 M462.3 267.7h.7 M485.1 282.7h.7 M462.6 276.7h.7 M463.8 301.8h.7 M499.3 267.6h.7 M469.5 302.2h.7 M466.4 308.6h.7 M483.0 291.4h.7 M443.7 294.1h.7 M479.9 290.0h.7 M484.1 289.2h.7 M463.6 294.9h.7 M471.8 261.7h.7 M457.1 283.5h.7 M479.8 240.4h.7 M443.8 297.3h.7 M469.9 325.2h.7 M450.6 276.4h.7 M462.4 289.6h.7 M511.2 306.0h.7 M457.2 300.1h.7 M454.6 285.8h.7 M475.0 290.6h.7 M459.9 301.7h.7 M469.1 280.6h.7 M466.6 261.4h.7 M491.1 286.2h.7 M483.3 309.9h.7 M459.0 275.8h.7 M470.2 294.3h.7 M467.7 295.5h.7 M483.4 248.6h.7 M461.3 243.6h.7 M466.4 273.3h.7 M487.3 283.6h.7 M469.2 300.6h.7 M487.4 258.3h.7 M461.2 286.1h.7 M519.9 277.4h.7 M467.8 285.1h.7 M492.9 279.3h.7 M478.6 273.2h.7 M463.0 266.4h.7 M489.3 270.7h.7 M486.1 287.3h.7 M498.5 231.5h.7 M457.7 258.5h.7 M467.9 293.5h.7 M544.2 305.0h.7 M509.8 286.9h.7 M465.1 289.3h.7 M442.4 295.5h.7 M470.3 290.6h.7 M456.9 260.8h.7 M461.8 280.2h.7 M480.2 274.5h.7 M480.2 291.6h.7 M455.3 279.1h.7 M450.2 270.9h.7 M496.5 267.8h.7 M524.6 288.9h.7 M496.1 282.6h.7 M495.4 298.0h.7 M473.1 271.2h.7 M463.0 311.0h.7 M467.7 272.6h.7 M461.0 249.9h.7 M463.7 286.1h.7 M463.8 267.0h.7 M482.0 288.2h.7 M464.5 285.8h.7 M457.6 294.4h.7 M457.5 274.8h.7 M474.0 273.3h.7 M455.5 313.7h.7 M514.5 248.8h.7 M473.6 257.6h.7 M479.1 256.9h.7 M487.0 289.3h.7 M520.1 299.8h.7 M464.2 295.7h.7 M464.2 278.9h.7 M463.6 248.4h.7 M487.7 243.4h.7 M467.0 289.2h.7 M473.4 251.9h.7 M461.8 291.6h.7 M502.2 305.8h.7 M447.0 288.2h.7 M463.9 292.9h.7 M448.6 278.4h.7 M490.7 269.1h.7 M465.4 262.9h.7 M502.7 256.5h.7 M458.4 274.9h.7 M466.0 313.9h.7 M478.0 265.6h.7 M487.0 286.3h.7 M478.3 279.8h.7 M483.5 259.3h.7 M454.7 273.1h.7 M456.0 291.9h.7 M526.9 300.3h.7 M483.1 286.3h.7 M461.3 257.0h.7 M486.1 253.6h.7 M478.9 278.4h.7 M492.0 281.8h.7 M473.1 270.2h.7 M448.1 274.6h.7 M490.4 297.3h.7 M510.4 262.6h.7 M458.1 291.9h.7 M464.2 321.1h.7 M479.2 252.9h.7 M463.0 305.5h.7 M446.8 283.4h.7 M452.4 305.9h.7 M464.3 261.9h.7 M448.3 267.8h.7 M533.9 282.5h.7 M466.6 259.5h.7 M480.0 272.3h.7 M459.2 302.6h.7 M482.9 264.6h.7 M513.4 280.0h.7 M484.8 283.3h.7 M504.6 290.6h.7 M465.6 292.2h.7 M465.0 283.1h.7 M518.1 261.4h.7 M456.9 273.6h.7 M463.7 301.3h.7 M449.8 316.8h.7 M516.5 272.7h.7 M475.5 274.3h.7 M489.7 291.3h.7 M492.1 292.9h.7 M526.7 277.9h.7 M490.5 277.6h.7 M471.1 284.4h.7 M469.3 286.4h.7 M459.2 278.2h.7 M462.3 259.4h.7 M461.0 271.8h.7 M468.1 252.1h.7 M466.7 260.1h.7 M459.6 284.0h.7 M502.5 285.5h.7 M463.8 272.9h.7 M509.3 250.9h.7 M503.4 253.2h.7 M461.9 281.7h.7 M467.2 306.9h.7 M484.5 280.1h.7 M498.0 281.6h.7 M459.8 298.5h.7 M514.0 301.0h.7 M455.1 310.8h.7 M464.7 293.0h.7 M505.0 318.1h.7 M449.4 262.1h.7 M504.6 288.7h.7 M466.0 226.7h.7 M483.0 277.5h.7 M469.9 284.6h.7 M492.1 276.1h.7 M458.6 274.3h.7 M443.2 260.3h.7 M528.0 268.3h.7 M469.0 310.7h.7 M500.9 282.9h.7 M491.6 276.0h.7 M458.5 296.7h.7 M474.0 306.0h.7 M466.7 274.1h.7 M480.1 277.5h.7 M466.0 264.4h.7 M477.5 286.1h.7 M523.8 280.5h.7 M447.6 288.3h.7 M537.3 272.8h.7 M459.8 277.9h.7 M467.6 252.9h.7 M487.0 264.7h.7 M446.4 267.6h.7 M488.7 311.1h.7 M506.8 284.1h.7 M463.5 276.2h.7 M498.5 271.4h.7 M482.3 296.1h.7 M458.4 270.1h.7 M483.2 281.1h.7 M468.4 271.2h.7 M469.2 310.0h.7 M510.0 251.0h.7 M471.4 282.5h.7 M471.1 255.3h.7 M468.3 283.3h.7 M461.3 285.9h.7 M473.0 287.1h.7 M467.9 272.5h.7 M475.5 298.0h.7 M496.5 279.5h.7 M464.1 297.6h.7 M485.9 294.8h.7 M466.5 265.0h.7 M475.5 269.4h.7 M503.9 294.4h.7 M442.2 291.4h.7 M509.2 297.3h.7 M464.0 265.0h.7 M498.6 296.9h.7 M471.8 259.5h.7 M450.5 285.2h.7 M459.5 268.4h.7 M483.1 297.4h.7 M443.7 268.5h.7 M508.3 280.2h.7 M465.6 291.0h.7 M455.5 258.3h.7 M470.6 305.5h.7 M499.9 280.9h.7 M499.8 273.4h.7 M455.0 249.8h.7 M478.0 295.1h.7 M481.0 280.3h.7 M464.9 298.1h.7 M469.4 254.2h.7 M510.4 268.9h.7 M481.5 281.1h.7 M501.1 284.9h.7 M506.1 284.3h.7 M464.1 271.5h.7 M489.2 265.6h.7 M497.3 276.5h.7 M458.2 264.8h.7 M468.2 308.7h.7 M492.7 281.3h.7 M458.4 310.9h.7 M466.5 281.0h.7 M464.6 301.9h.7 M475.2 272.5h.7 M475.5 262.4h.7 M456.6 278.0h.7 M528.6 260.3h.7 M468.2 251.6h.7 M475.1 284.3h.7 M491.8 256.2h.7 M462.3 269.0h.7 M466.9 316.8h.7 M467.5 280.2h.7 M463.5 293.5h.7 M545.5 299.2h.7 M515.2 261.0h.7 M501.2 281.4h.7 M506.9 297.6h.7 M489.3 249.8h.7 M473.9 271.7h.7 M483.2 281.6h.7 M500.9 251.1h.7 M460.5 279.6h.7 M479.5 273.5h.7 M469.6 281.9h.7 M500.9 278.9h.7 M477.1 247.1h.7 M480.5 238.0h.7 M482.1 279.2h.7 M470.1 267.4h.7 M464.6 294.0h.7 M480.6 280.5h.7 M463.8 284.3h.7 M505.1 280.6h.7 M465.3 259.0h.7 M472.9 263.9h.7 M451.6 294.7h.7 M462.0 243.0h.7 M460.8 309.9h.7 M468.6 256.3h.7 M455.9 292.3h.7 M482.0 284.4h.7 M467.5 288.6h.7 M515.4 288.7h.7 M467.9 254.9h.7 M483.1 305.6h.7 M489.1 257.5h.7 M475.5 301.4h.7 M461.9 288.8h.7 M505.7 306.7h.7 M449.6 248.4h.7 M481.1 292.1h.7 M465.5 280.6h.7 M464.8 299.9h.7 M441.7 285.0h.7 M453.6 268.3h.7 M450.4 264.0h.7 M469.7 281.4h.7 M522.8 276.9h.7 M480.2 286.6h.7 M477.6 304.1h.7 M474.1 283.4h.7 M468.6 281.1h.7 M469.3 296.7h.7 M470.6 282.1h.7 M469.4 292.9h.7 M464.0 295.8h.7 M462.7 291.9h.7 M526.8 284.7h.7 M468.9 258.9h.7 M491.9 281.2h.7 M496.9 268.7h.7 M485.4 309.5h.7 M481.9 274.9h.7 M453.3 280.8h.7 M489.5 290.4h.7 M455.7 261.8h.7 M457.5 261.9h.7 M466.5 285.2h.7 M526.9 284.1h.7 M513.0 250.0h.7 M515.6 293.6h.7 M483.0 294.0h.7 M488.3 311.2h.7 M493.8 248.4h.7 M447.6 306.4h.7 M468.9 301.9h.7 M465.6 268.7h.7 M465.6 286.0h.7 M475.5 269.4h.7 M485.9 290.7h.7 M458.2 260.1h.7 M444.8 275.2h.7 M470.3 268.0h.7 M462.3 278.5h.7 M470.9 290.0h.7 M494.7 287.9h.7 M503.1 262.8h.7 M488.0 286.9h.7 M456.6 268.3h.7 M483.1 282.2h.7 M453.9 270.6h.7 M515.2 294.3h.7 M472.4 302.3h.7 M458.4 277.8h.7 M498.4 274.7h.7 M455.6 290.3h.7 M517.5 233.4h.7 M474.6 257.5h.7 M466.2 254.5h.7 M547.1 268.2h.7 M471.3 267.8h.7 M457.3 272.5h.7 M476.2 308.7h.7 M478.5 305.8h.7 M456.3 282.1h.7 M464.4 251.6h.7 M477.2 266.9h.7 M462.6 261.6h.7 M500.4 273.4h.7 M468.1 283.9h.7 M454.3 284.7h.7 M467.8 288.0h.7 M465.1 281.6h.7 M485.4 296.3h.7 M461.1 296.4h.7 M457.3 277.5h.7 M473.9 283.3h.7 M467.6 295.6h.7 M461.0 304.9h.7 M446.8 282.2h.7 M486.0 281.3h.7 M477.8 295.8h.7 M459.7 290.3h.7 M501.5 276.6h.7 M459.0 261.1h.7 M482.8 265.9h.7 M543.5 290.0h.7 M453.2 275.6h.7 M515.3 291.8h.7 M456.9 297.4h.7 M463.9 316.0h.7 M462.9 290.4h.7 M486.7 272.7h.7 M468.0 299.3h.7 M484.8 279.9h.7 M483.2 308.6h.7 M497.6 288.5h.7 M479.8 251.6h.7 M474.0 271.9h.7 M491.7 269.6h.7 M483.3 261.3h.7 M496.5 267.3h.7 M469.6 290.1h.7 M465.8 281.1h.7 M501.4 309.0h.7 M446.8 264.0h.7 M490.0 295.9h.7 M463.9 282.5h.7 M467.5 317.0h.7 M467.4 258.7h.7 M450.1 257.0h.7 M508.6 273.7h.7 M527.8 291.1h.7 M481.4 291.2h.7 M493.4 295.5h.7 M457.5 270.5h.7 M463.0 282.7h.7 M466.8 257.9h.7 M461.1 309.2h.7 M532.9 264.9h.7 M481.3 280.3h.7 M459.1 292.3h.7 M469.1 307.4h.7 M483.6 275.2h.7 M495.1 267.6h.7 M496.2 291.8h.7 M447.3 277.3h.7 M479.5 292.9h.7 M474.6 280.7h.7 M465.5 275.5h.7 M470.1 261.1h.7 M489.0 274.9h.7 M485.5 271.5h.7 M482.2 283.0h.7 M496.4 288.3h.7 M497.7 277.9h.7 M469.3 276.1h.7 M453.9 278.6h.7 M502.3 293.2h.7 M459.1 285.7h.7 M492.3 255.5h.7 M480.3 286.2h.7 M492.2 285.0h.7 M447.7 243.2h.7 M528.8 273.6h.7 M507.7 301.0h.7 M472.6 259.6h.7 M510.5 280.3h.7 M485.4 288.6h.7 M498.3 297.0h.7 M451.7 254.6h.7 M474.2 281.1h.7 M493.1 278.5h.7 M467.7 313.0h.7 M510.7 299.3h.7 M500.7 266.2h.7 M468.9 279.7h.7 M455.9 264.7h.7 M474.8 258.3h.7 M486.1 288.5h.7 M467.0 274.7h.7 M487.9 288.6h.7 M480.8 258.1h.7 M449.2 313.3h.7 M461.6 274.2h.7 M446.6 266.1h.7 M460.6 293.6h.7 M464.7 271.8h.7 M460.0 272.8h.7 M449.7 285.2h.7 M505.4 283.4h.7 M463.1 300.9h.7 M484.5 261.7h.7 M462.6 269.6h.7 M469.4 300.1h.7 M460.9 278.3h.7 M473.3 258.7h.7 M463.9 290.6h.7 M503.6 246.0h.7 M491.0 275.6h.7 M508.2 290.8h.7 M528.4 285.9h.7 M464.9 265.5h.7 M451.6 289.7h.7 M485.3 293.9h.7 M480.4 253.1h.7 M464.8 276.5h.7 M474.7 293.1h.7 M512.0 285.5h.7 M443.5 261.9h.7 M442.6 266.7h.7 M454.6 284.8h.7 M467.2 298.5h.7 M502.0 272.5h.7 M498.0 281.2h.7 M483.5 302.2h.7 M455.3 279.7h.7 M515.6 266.8h.7 M476.4 283.1h.7 M464.7 256.6h.7 M461.2 262.7h.7 M502.1 284.9h.7 M490.8 258.8h.7 M484.9 283.3h.7 M501.1 267.6h.7 M494.0 302.5h.7 M523.5 263.7h.7 M455.6 253.7h.7 M498.5 290.3h.7 M480.1 264.9h.7 M507.2 306.2h.7 M469.6 278.8h.7 M505.3 288.9h.7 M509.9 273.5h.7 M480.1 274.7h.7 M462.7 275.5h.7 M466.4 288.9h.7 M466.1 282.1h.7 M459.6 258.2h.7 M512.4 262.7h.7 M523.8 295.7h.7 M464.7 281.3h.7 M467.7 269.8h.7 M507.2 278.6h.7 M498.6 268.2h.7 M461.1 301.9h.7 M466.4 260.6h.7 M467.8 297.5h.7 M467.9 267.7h.7 M488.9 296.4h.7 M467.4 275.1h.7 M465.3 323.3h.7 M467.6 308.3h.7 M468.1 287.4h.7 M443.9 283.8h.7 M471.6 275.1h.7 M464.8 255.7h.7 M450.9 283.6h.7 M461.8 279.3h.7 M467.7 271.6h.7 M460.7 310.1h.7 M455.9 271.6h.7 M466.2 259.6h.7 M457.7 294.5h.7 M497.6 283.1h.7 M506.6 265.9h.7 M502.2 307.4h.7 M465.2 309.3h.7 M459.7 259.9h.7 M469.4 266.0h.7 M488.9 260.5h.7 M472.5 244.7h.7 M469.6 297.4h.7 M466.6 285.9h.7 M502.4 260.6h.7 M453.7 282.3h.7 M478.3 276.0h.7 M457.6 300.0h.7 M455.1 276.2h.7 M469.5 292.3h.7 M464.3 265.8h.7 M529.7 265.3h.7 M493.7 278.2h.7 M463.9 280.2h.7 M466.8 285.9h.7 M472.2 263.0h.7 M465.1 317.5h.7 M524.8 291.0h.7 M477.0 275.4h.7 M511.2 272.7h.7 M459.5 291.8h.7 M457.6 266.4h.7 M513.0 251.2h.7 M469.2 282.9h.7 M477.8 254.0h.7 M467.1 274.8h.7 M527.0 296.7h.7 M460.4 294.7h.7 M489.5 278.9h.7 M466.9 275.9h.7 M450.3 269.3h.7 M497.8 303.6h.7 M525.0 274.0h.7 M488.4 236.4h.7 M466.6 257.6h.7 M494.5 250.3h.7 M456.7 260.5h.7 M481.9 294.1h.7 M458.3 309.2h.7 M474.9 265.6h.7 M480.5 280.7h.7 M494.8 286.4h.7 M535.0 299.3h.7 M461.9 293.3h.7 M492.7 262.5h.7 M460.4 266.0h.7 M467.3 300.2h.7 M462.9 282.2h.7 M491.6 296.1h.7 M479.6 261.7h.7 M535.4 294.6h.7 M510.5 306.3h.7 M511.7 287.5h.7 M484.2 290.9h.7 M450.8 293.7h.7 M457.6 287.6h.7 M457.1 292.2h.7 M463.8 319.8h.7 M475.9 288.9h.7 M458.5 275.7h.7 M469.3 275.7h.7 M464.5 264.8h.7 M492.7 273.9h.7 M459.6 286.7h.7 M459.7 277.8h.7 M463.5 263.9h.7 M467.2 265.8h.7 M454.0 286.5h.7 M466.3 253.9h.7 M465.0 283.9h.7 M482.9 286.8h.7 M477.7 290.3h.7 M463.8 266.2h.7 M488.3 273.4h.7 M470.5 291.2h.7 M498.0 300.1h.7 M461.3 274.2h.7 M486.7 254.5h.7 M454.0 290.5h.7 M462.2 263.9h.7 M494.0 289.3h.7 M497.4 274.9h.7 M466.4 274.7h.7 M479.0 243.5h.7 M461.2 292.0h.7 M460.1 279.8h.7 M473.9 289.1h.7 M464.0 260.1h.7 M544.0 267.8h.7 M520.8 248.5h.7 M473.5 277.4h.7 M526.2 312.8h.7 M499.1 262.3h.7 M459.8 267.1h.7 M463.5 285.1h.7 M460.1 276.5h.7 M513.7 303.4h.7 M446.3 263.4h.7 M465.4 301.2h.7 M465.9 310.7h.7 M481.0 303.3h.7 M459.1 275.3h.7 M500.4 289.9h.7 M446.2 275.9h.7 M475.6 290.8h.7 M462.0 308.1h.7 M474.8 303.5h.7 M482.2 282.3h.7 M466.1 259.5h.7 M495.8 292.8h.7 M497.8 274.1h.7 M457.3 274.0h.7 M466.1 280.8h.7 M499.3 264.2h.7 M463.9 291.7h.7 M496.9 315.4h.7 M485.8 265.4h.7 M456.9 266.5h.7 M472.4 285.0h.7 M469.3 269.7h.7 M467.8 279.6h.7 M487.8 282.3h.7 M459.8 259.5h.7 M514.0 279.4h.7 M467.9 280.6h.7 M503.6 275.3h.7 M475.5 276.7h.7 M487.4 262.4h.7 M476.3 297.0h.7 M505.2 290.6h.7 M479.0 305.4h.7 M491.2 302.7h.7 M454.8 260.8h.7 M493.9 276.1h.7 M464.7 263.6h.7 M514.1 259.1h.7 M473.5 255.4h.7 M467.9 315.9h.7 M542.0 271.9h.7 M457.3 306.3h.7 M459.2 248.2h.7 M480.6 261.2h.7 M451.7 298.4h.7 M460.9 261.5h.7 M475.3 277.6h.7 M503.4 282.5h.7 M517.2 298.7h.7 M522.8 298.4h.7 M472.5 289.5h.7 M471.1 252.4h.7 M455.2 292.5h.7 M453.8 279.9h.7 M457.0 284.9h.7 M467.7 272.4h.7 M459.4 240.2h.7 M472.6 257.3h.7 M466.4 286.8h.7 M501.2 291.9h.7 M513.9 254.9h.7 M490.3 305.3h.7 M482.1 260.7h.7 M482.1 271.5h.7 M462.0 297.5h.7 M467.9 260.5h.7 M461.6 311.4h.7 M459.4 291.5h.7 M475.7 299.1h.7 M466.7 263.7h.7 M462.1 262.1h.7 M546.6 284.1h.7 M466.1 300.5h.7 M489.7 277.7h.7 M488.7 285.2h.7 M503.5 306.6h.7 M466.2 280.4h.7 M467.9 300.0h.7 M481.7 293.2h.7 M496.9 269.4h.7 M474.3 302.5h.7 M497.6 293.6h.7 M466.6 274.4h.7 M459.3 276.1h.7 M469.4 254.7h.7 M504.6 267.0h.7 M477.9 290.4h.7 M463.2 247.8h.7 M498.8 287.4h.7 M467.0 298.6h.7 M496.7 263.5h.7 M469.2 248.7h.7 M466.9 302.9h.7 M459.6 293.8h.7 M451.1 275.6h.7 M498.1 307.6h.7 M483.8 292.8h.7 M520.9 236.2h.7 M448.5 310.3h.7 M542.7 290.3h.7 M472.4 285.1h.7 M471.3 269.8h.7 M470.0 278.7h.7 M490.1 291.6h.7 M499.2 290.1h.7 M457.9 302.6h.7 M480.2 271.3h.7 M525.3 261.0h.7 M455.4 271.8h.7 M482.7 293.3h.7 M473.7 291.4h.7 M461.3 269.9h.7 M474.3 256.4h.7 M476.0 273.8h.7 M490.5 262.5h.7 M463.5 270.6h.7 M465.6 262.7h.7 M466.9 256.2h.7 M486.2 291.4h.7 M470.1 277.6h.7 M459.0 263.4h.7 M467.4 264.4h.7 M455.4 283.6h.7 M470.0 273.6h.7 M459.9 280.1h.7 M461.5 273.2h.7 M475.9 292.2h.7 M492.5 269.9h.7 M505.7 259.8h.7 M468.0 301.2h.7 M539.6 283.0h.7 M465.7 274.2h.7 M454.9 278.4h.7 M464.9 267.2h.7 M505.3 266.8h.7 M519.8 294.0h.7 M489.1 270.3h.7 M463.8 244.4h.7 M478.4 276.1h.7 M481.8 268.7h.7 M484.6 253.6h.7 M442.6 288.4h.7 M501.7 223.3h.7 M507.8 274.6h.7 M468.2 252.8h.7 M457.6 292.0h.7 M460.9 280.3h.7 M468.3 311.8h.7 M496.3 256.8h.7 M464.2 260.0h.7 M452.7 268.5h.7 M502.5 281.8h.7 M490.0 278.6h.7 M464.9 282.3h.7 M469.2 310.8h.7 M522.6 286.9h.7 M487.9 244.5h.7 M468.7 318.0h.7 M460.2 293.6h.7 M505.8 273.7h.7 M467.4 272.7h.7 M493.5 281.4h.7 M514.0 299.4h.7 M470.1 321.2h.7 M466.3 269.8h.7 M467.2 264.9h.7 M464.9 279.7h.7 M496.2 252.0h.7 M452.6 266.8h.7 M466.4 288.1h.7 M460.3 304.4h.7 M463.5 277.1h.7 M472.0 299.1h.7 M479.0 281.4h.7 M463.4 283.7h.7 M482.1 274.6h.7 M469.9 247.2h.7 M463.5 299.3h.7 M511.5 279.7h.7 M443.1 309.4h.7 M468.0 320.8h.7 M465.0 296.6h.7 M462.4 302.3h.7 M503.9 261.4h.7 M507.9 325.3h.7 M467.4 258.8h.7 M478.4 273.7h.7 M451.4 261.7h.7 M477.5 253.0h.7 M501.6 288.0h.7 M467.9 302.7h.7 M458.6 291.7h.7 M453.2 275.0h.7 M488.9 271.2h.7 M468.7 291.1h.7 M514.4 301.2h.7 M483.6 276.2h.7 M452.0 307.7h.7 M524.5 241.3h.7 M495.5 280.2h.7 M490.8 285.9h.7 M467.7 280.9h.7 M469.7 299.1h.7 M466.9 271.0h.7 M489.2 291.0h.7 M482.9 285.4h.7 M512.9 298.3h.7 M476.4 277.1h.7 M489.4 246.5h.7 M463.6 268.0h.7 M475.3 273.9h.7 M541.5 292.5h.7 M481.9 316.0h.7 M470.2 275.1h.7 M505.9 293.9h.7 M497.0 299.8h.7 M465.6 268.8h.7 M461.1 282.6h.7 M499.2 261.6h.7 M463.4 256.3h.7 M528.0 293.5h.7 M476.6 258.5h.7 M457.2 269.1h.7 M471.3 257.6h.7 M467.3 300.0h.7 M470.7 282.5h.7 M443.9 276.0h.7 M468.3 268.2h.7 M452.8 279.7h.7 M457.3 270.9h.7 M450.2 279.3h.7 M496.5 265.5h.7" stroke="#E07F76" stroke-width="0.90" stroke-linecap="square" fill="none" opacity="0.85"/>
</g>
<g clip-path="url(#clipF2)">
<ellipse cx="598" cy="288" rx="34" ry="42" fill="url(#loCloud)"/>
<path d="M600.1 259.5h.7 M605.5 298.0h.7 M589.7 303.6h.7 M585.5 289.8h.7 M628.8 288.6h.7 M583.4 308.1h.7 M604.5 283.6h.7 M577.4 252.4h.7 M579.9 313.6h.7 M599.4 272.4h.7 M617.6 313.3h.7 M585.8 297.0h.7 M578.8 295.2h.7 M631.6 261.5h.7 M594.4 276.6h.7 M592.3 290.5h.7 M599.1 303.8h.7 M604.0 306.3h.7 M614.6 307.2h.7 M587.3 295.8h.7 M589.9 272.6h.7 M634.5 293.8h.7 M594.2 248.0h.7 M591.1 301.8h.7 M591.3 278.4h.7 M624.3 282.9h.7 M590.2 287.1h.7 M591.0 306.5h.7 M605.2 287.6h.7 M590.0 284.6h.7 M628.9 283.0h.7 M607.0 258.3h.7 M600.0 300.4h.7 M620.0 294.3h.7 M605.4 294.4h.7 M615.7 323.0h.7 M597.4 273.1h.7 M605.7 286.9h.7 M606.7 301.9h.7 M596.4 280.4h.7 M599.7 264.7h.7 M599.0 271.7h.7 M602.7 291.0h.7 M591.2 265.5h.7 M594.3 275.7h.7 M591.9 300.5h.7 M613.3 263.9h.7 M612.9 311.6h.7 M616.9 293.6h.7 M592.3 317.9h.7 M590.3 259.2h.7 M595.1 293.8h.7 M584.2 265.3h.7 M634.9 290.9h.7 M609.6 277.6h.7 M580.0 285.5h.7 M621.5 276.0h.7 M577.7 285.6h.7 M590.7 289.3h.7 M584.1 282.9h.7 M588.4 303.6h.7 M596.4 303.5h.7 M592.7 247.4h.7 M576.3 297.9h.7 M611.7 303.5h.7 M592.5 254.2h.7 M588.9 295.7h.7 M622.2 282.3h.7 M588.3 273.9h.7 M614.7 303.4h.7 M577.4 309.1h.7 M585.2 260.3h.7 M579.4 274.8h.7 M642.0 331.4h.7 M582.4 275.9h.7 M596.6 295.9h.7 M589.0 258.1h.7 M589.5 275.7h.7 M577.7 291.4h.7 M580.5 255.1h.7 M625.2 304.6h.7 M623.7 291.0h.7 M589.5 287.3h.7 M581.3 301.3h.7 M598.9 283.1h.7 M577.0 286.8h.7 M627.5 313.1h.7 M611.7 282.1h.7 M596.2 298.2h.7 M597.4 306.4h.7 M587.4 243.7h.7 M572.2 271.2h.7 M581.2 300.0h.7 M615.9 289.0h.7 M604.6 290.3h.7 M596.9 279.8h.7 M589.6 308.8h.7 M590.8 288.2h.7 M618.4 305.3h.7 M589.7 293.2h.7 M584.4 291.2h.7 M599.9 289.0h.7 M596.7 295.1h.7 M571.3 272.9h.7 M594.9 279.4h.7 M584.8 284.4h.7 M627.1 284.5h.7 M587.5 279.6h.7 M582.9 297.1h.7 M584.6 304.1h.7 M612.4 298.5h.7 M615.1 287.3h.7 M577.9 287.7h.7 M606.7 258.8h.7 M582.6 307.2h.7 M602.5 311.4h.7 M607.3 290.1h.7 M602.3 303.1h.7 M592.9 284.9h.7 M599.9 282.8h.7 M644.1 274.0h.7 M580.0 263.7h.7 M615.3 281.1h.7 M596.6 284.8h.7 M599.1 260.6h.7 M595.1 277.8h.7 M616.2 299.3h.7 M582.2 270.1h.7 M605.3 308.9h.7 M609.5 286.0h.7 M616.8 242.9h.7 M588.5 269.9h.7 M584.2 298.4h.7 M599.1 293.7h.7 M592.0 299.3h.7 M609.8 277.8h.7 M613.1 270.9h.7 M630.6 263.5h.7 M590.6 267.8h.7 M594.1 310.9h.7 M586.6 318.6h.7 M623.2 295.4h.7 M588.0 304.0h.7 M568.3 274.0h.7 M613.7 288.2h.7 M646.0 275.8h.7 M581.6 284.8h.7 M605.6 317.4h.7 M577.8 291.6h.7 M620.1 275.8h.7 M589.2 265.3h.7 M609.6 302.8h.7 M605.8 293.1h.7 M614.4 286.6h.7 M608.5 302.6h.7 M621.0 297.6h.7 M595.1 300.8h.7 M579.6 254.5h.7 M627.7 291.3h.7 M584.0 277.6h.7 M591.8 290.2h.7 M586.5 305.6h.7 M578.3 335.8h.7 M583.7 316.7h.7 M607.5 256.0h.7 M582.4 290.0h.7 M599.1 280.7h.7 M593.6 291.7h.7 M583.1 290.0h.7 M641.9 276.3h.7 M584.3 300.1h.7 M622.1 306.4h.7 M587.6 287.5h.7 M597.6 284.9h.7 M601.9 307.1h.7 M605.0 288.8h.7 M591.3 318.9h.7 M582.3 322.5h.7 M609.1 290.5h.7 M586.6 319.7h.7 M619.4 304.2h.7 M638.1 253.7h.7 M595.4 283.0h.7 M586.7 290.3h.7 M604.8 297.8h.7 M591.9 262.9h.7 M605.3 299.2h.7 M639.0 304.6h.7 M593.6 266.4h.7 M652.0 275.7h.7 M597.5 301.5h.7 M604.2 311.3h.7 M584.0 275.4h.7 M597.1 264.7h.7 M587.7 312.2h.7 M599.7 287.0h.7 M588.1 289.8h.7 M592.8 267.7h.7 M610.3 263.8h.7 M621.0 282.3h.7 M572.9 258.4h.7 M599.5 271.8h.7 M632.5 312.2h.7 M638.9 304.0h.7 M622.6 277.0h.7 M621.5 280.4h.7 M592.7 262.1h.7 M594.5 295.8h.7 M592.6 267.1h.7 M612.9 304.4h.7 M592.3 302.2h.7 M614.7 269.5h.7 M592.8 252.1h.7 M583.9 296.2h.7 M585.3 295.6h.7 M601.2 248.1h.7 M588.8 314.6h.7 M593.6 291.1h.7 M586.8 257.2h.7 M578.9 337.5h.7 M591.5 271.7h.7 M595.7 250.5h.7 M623.8 317.9h.7 M586.4 294.5h.7 M585.1 303.5h.7 M585.6 286.2h.7 M621.9 297.9h.7 M590.2 258.8h.7 M578.9 309.3h.7 M604.5 290.0h.7 M620.8 291.5h.7 M586.6 286.9h.7 M592.2 288.7h.7 M647.9 298.8h.7 M599.3 284.0h.7 M587.0 269.2h.7 M576.3 279.8h.7 M579.5 252.1h.7 M584.7 248.6h.7 M623.4 310.1h.7 M584.4 323.7h.7 M607.8 238.7h.7 M593.7 269.1h.7 M577.5 283.8h.7 M618.6 296.5h.7 M580.0 275.8h.7 M586.3 308.4h.7 M592.2 269.5h.7 M584.9 249.7h.7 M585.5 304.2h.7 M575.9 292.3h.7 M592.1 302.8h.7 M582.8 304.4h.7 M627.4 327.9h.7 M578.4 288.4h.7 M591.2 291.1h.7 M584.2 303.6h.7 M644.9 314.6h.7 M584.5 277.5h.7 M609.3 291.3h.7 M586.2 310.0h.7 M604.6 306.4h.7 M591.5 310.7h.7 M588.9 266.6h.7 M593.0 261.1h.7 M620.8 301.5h.7 M577.9 291.9h.7 M611.9 281.8h.7 M602.4 277.3h.7 M592.4 287.3h.7 M603.8 269.6h.7 M582.9 294.6h.7 M588.5 297.8h.7 M588.5 262.7h.7 M609.5 293.5h.7 M609.3 282.2h.7 M589.8 310.5h.7 M577.8 318.6h.7 M604.5 287.9h.7 M595.1 299.3h.7 M586.1 293.7h.7 M584.4 252.0h.7 M597.6 290.7h.7 M607.4 298.5h.7 M608.6 302.5h.7 M583.5 309.7h.7 M652.3 277.7h.7 M581.7 300.7h.7 M613.4 306.2h.7 M627.1 261.2h.7 M601.4 296.9h.7 M620.7 271.1h.7 M593.6 281.6h.7 M591.6 286.1h.7 M591.7 253.5h.7 M592.7 290.2h.7 M589.6 217.8h.7 M586.8 275.9h.7 M585.2 316.3h.7 M613.6 285.3h.7 M606.4 345.2h.7 M584.3 297.1h.7 M587.6 314.3h.7 M617.6 286.5h.7 M606.6 273.0h.7 M578.7 303.4h.7 M629.3 282.9h.7 M588.3 253.0h.7 M640.6 264.9h.7 M584.3 285.1h.7 M619.9 289.9h.7 M592.9 289.4h.7 M611.8 288.3h.7 M596.6 287.5h.7 M583.0 311.9h.7 M586.7 262.5h.7 M589.1 289.6h.7 M611.2 259.5h.7 M581.5 292.0h.7 M601.5 267.0h.7 M582.8 292.0h.7 M591.7 256.5h.7 M585.1 314.3h.7 M583.4 306.9h.7 M579.2 314.4h.7 M628.5 276.3h.7 M586.9 299.7h.7 M581.8 298.4h.7 M620.0 293.5h.7 M600.2 285.8h.7 M615.2 272.5h.7 M628.2 288.5h.7 M590.1 256.2h.7 M589.0 293.0h.7 M620.6 256.6h.7 M591.9 275.2h.7 M582.2 289.1h.7 M586.1 303.9h.7 M568.6 301.6h.7 M575.8 249.8h.7 M604.5 282.2h.7 M595.9 269.6h.7 M583.5 274.2h.7 M592.5 272.1h.7 M589.2 271.7h.7 M598.2 266.2h.7 M574.2 236.3h.7 M592.8 290.6h.7 M614.3 274.1h.7 M582.7 259.1h.7 M609.8 276.5h.7 M614.8 287.4h.7 M590.5 251.6h.7 M586.9 302.5h.7 M587.5 300.6h.7 M578.1 306.3h.7 M654.5 308.0h.7 M600.1 264.2h.7 M588.2 275.8h.7 M597.1 248.5h.7 M585.2 302.5h.7 M596.2 301.7h.7 M611.9 266.0h.7 M580.8 296.9h.7 M593.8 290.3h.7 M585.7 306.4h.7 M604.0 308.5h.7 M589.8 300.8h.7 M592.5 270.1h.7 M592.3 255.8h.7 M591.4 292.0h.7 M608.3 267.9h.7 M581.0 274.3h.7 M574.3 275.9h.7 M650.8 291.5h.7 M586.1 275.3h.7 M632.0 265.6h.7 M592.0 287.4h.7 M586.4 274.6h.7 M577.8 272.1h.7 M621.7 313.2h.7 M590.5 301.0h.7 M603.2 290.9h.7 M591.8 309.7h.7 M605.6 284.5h.7 M590.9 304.9h.7 M587.6 274.6h.7 M590.5 279.0h.7 M620.9 295.1h.7 M592.2 278.4h.7 M624.2 296.5h.7 M639.0 304.5h.7 M591.1 278.0h.7 M590.4 292.1h.7 M610.5 297.3h.7 M627.7 258.5h.7 M593.6 260.5h.7 M583.7 276.9h.7 M587.1 269.5h.7 M579.3 308.4h.7 M590.1 305.5h.7 M583.0 242.4h.7 M587.6 304.0h.7 M588.0 295.7h.7 M583.3 312.7h.7 M602.5 306.9h.7 M590.5 310.8h.7 M594.6 279.2h.7 M587.2 289.9h.7 M584.8 265.0h.7 M595.9 301.1h.7 M590.4 303.3h.7 M628.0 263.6h.7 M598.7 269.7h.7 M587.2 292.0h.7 M571.6 299.3h.7 M611.5 298.2h.7 M607.3 319.9h.7 M589.7 307.6h.7 M624.9 297.4h.7 M576.9 285.8h.7 M590.3 256.5h.7 M592.5 301.9h.7 M590.7 285.3h.7 M625.4 276.7h.7 M584.5 289.7h.7 M617.7 299.1h.7 M594.6 279.1h.7 M620.2 304.1h.7 M577.3 294.7h.7 M571.3 314.5h.7 M606.5 276.4h.7 M581.3 283.0h.7 M577.2 298.6h.7 M588.4 253.5h.7 M592.8 309.2h.7 M581.5 281.9h.7 M633.0 292.1h.7 M588.0 292.2h.7 M610.2 268.8h.7 M592.1 256.2h.7 M578.7 258.1h.7 M611.6 294.3h.7 M609.1 309.7h.7 M594.0 293.0h.7 M601.9 297.0h.7 M583.4 283.5h.7 M591.6 289.6h.7 M586.2 286.3h.7 M599.3 292.2h.7 M606.0 303.0h.7 M605.3 305.4h.7 M611.5 312.7h.7 M606.8 276.6h.7 M644.3 308.2h.7 M620.5 301.4h.7 M594.0 266.0h.7 M602.6 281.9h.7 M589.4 246.1h.7 M627.1 265.6h.7 M583.1 296.9h.7 M605.5 273.1h.7 M592.9 293.3h.7 M596.4 298.0h.7 M610.1 281.6h.7 M578.4 325.8h.7 M589.5 269.1h.7 M609.5 299.0h.7 M587.4 329.0h.7 M571.8 310.8h.7 M592.6 294.3h.7 M600.0 284.3h.7 M600.0 262.9h.7 M589.4 320.5h.7 M569.7 310.0h.7 M572.8 271.9h.7 M612.4 280.8h.7 M587.8 258.9h.7 M591.9 285.4h.7 M587.2 257.7h.7 M596.4 296.1h.7 M618.1 297.8h.7 M626.5 309.4h.7 M567.5 317.4h.7 M592.0 268.0h.7 M602.5 305.3h.7 M579.0 264.2h.7 M608.2 277.9h.7 M625.2 292.7h.7 M588.0 262.3h.7 M606.2 254.5h.7 M581.2 262.7h.7 M630.6 318.1h.7 M591.0 281.3h.7 M608.4 310.2h.7 M585.7 326.5h.7 M591.1 308.3h.7 M571.7 287.9h.7 M586.7 322.8h.7 M591.1 263.4h.7 M636.0 275.2h.7 M593.0 263.9h.7 M607.9 292.3h.7 M590.4 280.9h.7 M587.8 274.5h.7 M580.3 309.5h.7 M612.7 261.1h.7 M582.5 295.9h.7 M643.0 284.9h.7 M590.2 283.9h.7 M598.5 285.5h.7 M616.9 305.7h.7 M605.2 315.9h.7 M590.9 277.9h.7 M658.7 250.2h.7 M578.9 241.7h.7 M600.9 267.5h.7 M616.4 246.9h.7 M591.7 281.1h.7 M583.2 308.1h.7 M589.4 296.7h.7 M588.2 291.5h.7 M588.9 290.2h.7 M592.1 275.3h.7 M602.6 285.3h.7 M584.2 267.9h.7 M602.8 311.7h.7 M581.1 280.6h.7 M602.9 306.8h.7 M608.7 265.2h.7 M593.8 304.3h.7 M598.3 284.5h.7 M582.3 291.8h.7 M592.4 289.5h.7 M626.2 309.2h.7 M585.8 292.9h.7 M590.2 290.7h.7 M629.1 304.6h.7 M593.9 275.8h.7 M591.5 295.2h.7 M588.5 307.8h.7 M593.4 265.3h.7 M638.2 230.8h.7 M590.6 286.6h.7 M614.8 308.0h.7 M625.2 315.6h.7 M600.0 290.9h.7 M615.5 288.5h.7 M581.6 279.9h.7 M607.6 299.4h.7 M583.0 309.4h.7 M599.8 258.8h.7 M603.3 306.2h.7 M604.8 282.7h.7 M585.8 308.1h.7 M598.0 288.9h.7 M589.4 268.3h.7 M576.0 282.1h.7 M617.5 302.0h.7 M586.8 315.0h.7 M590.9 268.8h.7 M614.6 312.6h.7 M589.5 264.5h.7 M592.4 240.2h.7 M594.2 315.0h.7 M599.0 274.3h.7 M608.7 279.1h.7 M621.0 281.8h.7 M638.0 281.9h.7 M597.2 270.1h.7 M581.4 294.9h.7 M600.7 269.5h.7 M605.4 280.7h.7 M588.0 287.5h.7 M601.7 301.4h.7 M620.3 295.5h.7 M586.4 275.2h.7 M601.2 265.0h.7 M591.5 281.3h.7 M592.1 292.1h.7 M616.0 316.9h.7 M612.5 306.2h.7 M583.3 306.7h.7 M621.6 261.8h.7 M648.8 277.6h.7 M571.5 319.1h.7 M594.4 272.9h.7 M587.8 307.2h.7 M598.7 281.5h.7 M618.4 270.2h.7 M585.3 277.7h.7 M586.2 300.8h.7 M590.9 267.9h.7 M588.8 249.2h.7 M596.7 290.7h.7 M606.5 284.3h.7 M601.8 270.3h.7 M593.5 291.6h.7 M582.0 299.0h.7 M596.1 289.9h.7 M588.7 323.1h.7 M593.0 273.6h.7 M585.3 299.1h.7 M591.1 273.2h.7 M586.5 304.9h.7 M594.9 306.9h.7 M592.8 265.3h.7 M612.1 294.4h.7 M587.1 282.8h.7 M584.2 303.1h.7 M589.2 297.1h.7 M598.7 283.8h.7 M601.2 284.0h.7 M582.3 280.7h.7 M582.4 301.8h.7 M607.3 277.3h.7 M606.7 293.2h.7 M614.5 270.3h.7 M593.6 269.1h.7 M586.8 312.3h.7 M574.9 270.7h.7 M603.7 302.2h.7 M585.9 248.4h.7 M577.5 295.2h.7 M617.3 304.4h.7 M586.4 312.0h.7 M591.3 299.5h.7 M591.3 316.1h.7 M588.3 246.1h.7 M590.2 292.2h.7 M599.1 274.6h.7 M590.9 266.3h.7 M590.9 290.5h.7 M598.3 316.9h.7 M575.0 297.8h.7 M602.5 265.9h.7 M594.5 288.8h.7 M584.0 301.2h.7 M635.0 300.4h.7 M610.1 307.1h.7 M591.8 305.5h.7 M585.7 292.0h.7 M608.5 311.2h.7 M590.4 283.2h.7 M603.3 287.4h.7 M596.0 302.6h.7 M586.1 303.8h.7 M601.3 283.7h.7 M581.8 276.4h.7 M592.6 304.9h.7 M575.3 301.1h.7 M597.2 266.5h.7 M611.8 295.7h.7 M602.6 269.5h.7 M583.1 304.4h.7 M623.8 295.2h.7 M591.3 280.0h.7 M577.6 305.6h.7 M592.1 309.8h.7 M586.5 306.8h.7 M586.6 298.9h.7 M623.1 275.0h.7 M612.9 288.9h.7 M584.6 292.4h.7 M607.1 274.8h.7 M590.6 277.7h.7 M586.1 284.8h.7 M611.0 279.1h.7 M620.2 281.4h.7 M586.8 307.1h.7 M623.7 276.1h.7 M605.8 265.9h.7 M589.4 281.6h.7 M608.5 264.1h.7 M588.4 275.3h.7 M595.2 264.6h.7 M581.1 336.6h.7 M597.6 259.2h.7 M611.2 262.9h.7 M576.2 317.1h.7 M620.2 272.4h.7 M583.3 297.0h.7 M637.3 299.1h.7 M607.4 265.5h.7 M577.1 295.5h.7 M615.0 291.3h.7 M593.0 312.3h.7 M585.5 307.4h.7 M611.1 276.6h.7 M595.7 290.8h.7 M605.6 269.7h.7 M590.9 290.5h.7 M593.6 289.4h.7 M598.4 285.2h.7 M588.6 306.3h.7 M587.3 282.7h.7 M585.2 266.4h.7 M602.7 288.2h.7 M591.8 296.6h.7 M591.5 300.4h.7 M632.2 294.8h.7 M590.6 316.7h.7 M608.3 256.2h.7 M621.9 292.5h.7 M611.5 266.2h.7 M585.5 276.2h.7 M605.0 266.8h.7 M586.7 305.0h.7 M587.3 291.0h.7 M585.0 255.5h.7 M592.3 286.6h.7 M580.3 305.3h.7 M610.7 303.8h.7 M588.5 266.4h.7 M592.2 291.8h.7 M591.5 277.4h.7 M584.2 274.5h.7 M592.3 279.4h.7 M629.0 283.6h.7 M602.8 279.8h.7 M591.4 269.8h.7 M588.7 259.5h.7 M574.6 311.4h.7 M583.7 296.2h.7 M591.9 277.8h.7 M608.7 278.1h.7 M602.4 281.7h.7 M613.9 304.9h.7 M594.4 307.3h.7 M603.9 315.0h.7 M591.9 258.6h.7 M597.5 292.9h.7 M589.8 284.9h.7 M590.6 264.4h.7 M630.0 273.8h.7 M583.5 258.0h.7 M585.5 288.2h.7 M624.8 299.0h.7 M586.6 264.6h.7 M583.1 287.4h.7 M611.7 279.5h.7 M627.5 321.2h.7 M596.4 246.5h.7 M616.5 287.1h.7 M607.3 305.4h.7 M584.1 290.0h.7 M596.8 274.2h.7 M607.9 286.4h.7 M589.4 320.3h.7 M596.6 316.2h.7 M591.6 306.2h.7 M586.4 291.4h.7 M616.2 246.4h.7 M604.5 283.6h.7 M616.4 291.9h.7 M592.3 263.9h.7 M656.2 274.5h.7 M590.1 274.8h.7 M590.3 292.6h.7 M581.2 306.5h.7 M590.7 298.9h.7 M574.4 278.7h.7 M590.4 281.3h.7 M587.1 294.1h.7 M601.7 269.7h.7 M575.7 301.1h.7 M590.1 306.8h.7 M611.7 286.9h.7 M580.4 281.9h.7 M586.6 309.6h.7 M578.1 304.2h.7 M579.4 277.8h.7 M580.5 275.3h.7 M589.1 295.1h.7 M587.8 300.4h.7 M630.5 291.6h.7 M582.8 285.5h.7 M592.1 281.9h.7 M617.6 308.2h.7 M635.9 297.7h.7 M569.5 286.4h.7 M607.3 273.1h.7 M587.7 304.1h.7 M596.0 266.9h.7 M587.8 228.6h.7 M592.9 265.0h.7 M592.5 265.7h.7 M584.8 278.8h.7 M652.7 265.7h.7 M582.5 278.4h.7 M615.6 302.2h.7 M607.8 282.6h.7 M595.6 273.9h.7 M591.3 273.1h.7 M580.2 269.5h.7 M634.3 295.6h.7 M586.3 286.8h.7 M589.0 309.2h.7 M592.7 276.5h.7 M607.4 294.3h.7 M586.9 273.8h.7 M595.9 256.9h.7 M584.9 305.8h.7 M611.4 307.5h.7 M589.0 277.3h.7 M590.5 279.5h.7 M620.3 284.6h.7 M621.9 275.0h.7 M600.9 315.9h.7 M586.4 276.1h.7 M587.7 257.4h.7 M590.3 276.3h.7 M640.1 279.6h.7 M574.2 304.6h.7 M613.2 288.2h.7 M598.9 300.9h.7 M588.0 289.6h.7 M595.9 316.5h.7 M623.1 291.7h.7 M581.1 303.6h.7 M592.4 308.4h.7 M593.9 291.9h.7 M606.8 274.6h.7 M587.1 327.1h.7 M585.3 304.5h.7 M607.4 302.5h.7 M622.1 262.7h.7 M613.2 248.6h.7 M593.9 294.5h.7 M614.8 307.0h.7 M584.7 283.6h.7 M591.5 275.3h.7 M585.7 276.0h.7 M617.3 311.6h.7 M608.8 317.0h.7 M594.7 267.6h.7 M587.2 292.3h.7 M614.7 309.2h.7 M585.0 304.9h.7 M588.2 298.9h.7 M612.4 313.6h.7 M588.3 293.0h.7 M601.9 280.7h.7 M594.7 298.9h.7 M578.5 276.3h.7 M642.1 296.5h.7 M588.0 253.0h.7 M584.5 297.6h.7 M607.3 296.4h.7 M605.4 277.1h.7 M626.8 266.9h.7 M603.6 283.7h.7 M577.9 304.0h.7 M590.5 300.8h.7 M619.9 291.7h.7 M587.1 284.7h.7 M592.3 313.0h.7 M611.0 315.4h.7 M609.0 274.0h.7 M612.6 305.1h.7 M591.8 296.7h.7 M590.1 264.2h.7 M592.1 301.7h.7 M589.7 245.0h.7 M585.9 307.1h.7 M597.5 307.7h.7 M586.3 280.7h.7 M584.1 273.7h.7 M603.6 291.3h.7 M588.6 293.9h.7 M581.4 281.3h.7 M579.8 259.5h.7 M581.0 267.4h.7 M626.4 311.9h.7 M619.6 277.6h.7 M606.0 266.7h.7 M588.1 293.0h.7 M578.9 292.3h.7 M605.8 248.3h.7 M571.5 283.5h.7 M591.8 291.4h.7 M583.0 298.5h.7 M595.3 274.6h.7 M627.8 293.3h.7 M608.5 320.0h.7 M588.5 284.6h.7 M577.7 284.5h.7 M602.0 330.9h.7 M604.7 292.4h.7 M581.8 272.2h.7 M576.7 261.9h.7 M595.0 294.0h.7 M584.9 284.7h.7 M585.8 299.4h.7 M606.3 278.0h.7 M588.9 264.8h.7 M588.8 325.6h.7 M592.7 303.4h.7 M605.1 313.7h.7 M590.0 271.1h.7 M614.9 304.4h.7 M587.1 307.3h.7 M592.7 288.1h.7 M632.0 297.9h.7 M599.4 282.7h.7 M596.9 306.7h.7 M602.4 274.1h.7 M602.2 286.6h.7 M599.2 285.2h.7 M573.7 257.1h.7 M589.5 245.4h.7 M579.7 323.1h.7 M607.5 279.9h.7 M599.7 244.7h.7 M598.0 305.5h.7 M596.7 263.1h.7 M613.4 278.5h.7 M587.8 292.3h.7 M590.2 323.2h.7 M591.6 325.1h.7 M602.3 264.4h.7 M592.8 289.9h.7 M623.5 310.5h.7 M647.5 275.8h.7 M589.0 328.2h.7 M585.0 295.0h.7 M627.2 268.9h.7 M589.8 274.2h.7 M603.9 295.7h.7 M592.5 300.1h.7 M585.9 281.5h.7 M602.7 323.0h.7 M592.5 290.0h.7 M620.8 290.3h.7 M620.6 293.0h.7 M617.4 292.1h.7 M584.8 272.1h.7 M601.9 320.7h.7 M632.7 282.7h.7 M646.4 266.9h.7 M585.4 304.7h.7 M579.4 304.4h.7 M600.8 299.6h.7 M582.2 295.5h.7 M612.9 288.0h.7 M614.8 289.4h.7 M600.1 282.7h.7 M580.9 285.8h.7 M603.4 273.9h.7 M575.6 258.2h.7 M621.0 284.5h.7 M586.1 309.9h.7 M591.3 259.0h.7 M589.0 271.4h.7 M591.2 270.8h.7 M594.1 296.8h.7 M587.8 285.0h.7 M591.5 303.0h.7 M586.5 301.7h.7 M619.6 285.1h.7 M584.3 282.9h.7 M577.2 278.2h.7 M582.3 285.6h.7 M589.6 297.8h.7 M595.2 296.2h.7 M592.4 293.8h.7 M582.9 300.2h.7 M620.8 307.8h.7 M581.0 296.1h.7 M578.5 301.8h.7 M591.0 279.8h.7 M586.3 284.3h.7 M592.8 269.8h.7 M593.9 293.4h.7 M604.0 288.1h.7 M592.8 328.3h.7 M614.5 294.5h.7 M580.6 299.5h.7 M605.1 235.9h.7 M591.4 295.5h.7 M593.5 290.7h.7 M591.5 312.5h.7 M600.9 283.4h.7 M590.9 324.4h.7 M585.2 278.5h.7 M599.7 291.5h.7 M599.2 312.0h.7 M617.3 296.2h.7 M593.6 287.8h.7 M590.8 306.1h.7 M581.7 268.2h.7 M588.8 269.8h.7 M586.4 309.3h.7 M573.0 298.8h.7 M581.3 284.2h.7 M587.8 269.2h.7 M579.7 290.2h.7 M566.6 246.6h.7 M589.4 307.7h.7 M632.9 283.2h.7 M585.8 283.3h.7 M602.9 304.9h.7 M584.4 297.1h.7 M592.6 308.4h.7 M589.3 284.9h.7 M585.3 262.5h.7 M598.6 301.1h.7 M617.1 293.6h.7 M588.8 270.6h.7 M582.6 274.6h.7 M600.0 290.6h.7 M572.6 287.0h.7 M590.3 268.1h.7 M592.7 298.0h.7 M583.7 262.0h.7 M590.0 293.5h.7 M590.6 315.3h.7 M595.9 268.9h.7 M609.6 276.1h.7 M607.7 290.7h.7 M619.5 269.1h.7 M608.5 296.2h.7 M584.9 301.0h.7 M642.0 295.1h.7 M586.1 286.0h.7 M621.1 293.4h.7 M625.0 276.0h.7 M621.3 257.5h.7 M591.4 283.1h.7 M588.6 309.8h.7 M587.6 295.0h.7 M633.2 303.0h.7 M589.2 274.4h.7 M575.1 295.5h.7 M612.1 307.8h.7 M598.1 325.7h.7 M609.7 242.8h.7 M585.1 302.6h.7 M589.4 303.2h.7 M648.7 273.8h.7 M641.1 287.4h.7 M579.8 290.7h.7 M612.6 277.4h.7 M627.3 271.6h.7 M591.2 304.7h.7 M591.0 277.9h.7 M592.8 300.1h.7 M630.7 312.1h.7 M633.8 288.4h.7 M578.1 288.2h.7 M589.3 269.1h.7 M588.3 287.7h.7 M594.0 304.6h.7 M584.8 308.5h.7 M593.9 301.5h.7 M620.1 264.2h.7 M627.8 274.6h.7 M601.6 307.5h.7 M613.1 257.7h.7 M596.4 308.3h.7 M591.9 287.4h.7 M594.5 316.9h.7 M588.1 270.1h.7 M583.1 278.4h.7 M590.8 294.9h.7 M592.2 254.6h.7 M578.9 300.6h.7 M608.8 261.9h.7 M613.5 240.3h.7 M643.9 299.1h.7 M578.1 297.7h.7 M592.7 279.9h.7 M589.7 284.5h.7 M592.1 270.9h.7 M587.9 298.5h.7 M604.5 262.4h.7 M588.6 315.7h.7 M608.6 317.1h.7 M580.8 268.2h.7 M573.5 250.2h.7 M589.6 268.0h.7 M583.2 275.1h.7 M591.3 303.2h.7 M605.3 253.8h.7 M625.7 282.4h.7 M584.0 288.4h.7 M589.4 261.2h.7 M627.2 277.4h.7 M587.6 298.2h.7 M629.8 297.2h.7 M584.9 296.5h.7 M617.3 295.5h.7 M607.2 279.4h.7 M592.4 255.3h.7 M586.5 266.2h.7 M593.1 314.5h.7 M572.7 262.6h.7 M584.6 287.2h.7 M618.6 273.4h.7 M585.9 309.7h.7 M601.2 298.0h.7 M611.3 274.2h.7 M597.9 275.8h.7 M586.5 291.3h.7 M602.6 263.5h.7 M586.0 299.4h.7 M596.6 300.3h.7 M590.2 272.9h.7 M610.2 299.2h.7 M567.4 303.8h.7 M586.1 300.4h.7 M627.6 283.4h.7 M584.2 293.4h.7 M595.0 298.7h.7 M580.3 293.2h.7 M612.7 300.9h.7 M606.8 309.4h.7 M585.5 309.9h.7 M597.6 269.1h.7 M590.3 293.6h.7 M600.3 312.0h.7 M597.2 278.8h.7 M641.2 282.4h.7 M585.6 304.8h.7 M589.2 273.2h.7 M583.4 309.2h.7 M583.4 290.8h.7 M588.9 285.2h.7 M585.6 291.6h.7 M606.3 307.0h.7 M589.8 265.7h.7 M579.6 289.2h.7 M570.6 311.7h.7 M593.6 291.1h.7 M580.4 276.1h.7 M586.3 300.5h.7 M589.3 299.6h.7 M604.4 250.5h.7 M590.9 310.6h.7 M588.4 291.3h.7 M591.9 264.5h.7 M641.2 286.4h.7 M607.1 280.1h.7 M623.9 308.7h.7 M619.1 305.3h.7 M608.5 312.7h.7 M601.9 291.4h.7 M610.9 271.2h.7 M570.1 302.9h.7 M596.4 275.0h.7 M590.6 270.0h.7 M585.4 292.3h.7 M595.7 303.3h.7 M592.2 299.9h.7 M608.1 275.1h.7 M577.7 275.4h.7 M590.7 278.5h.7 M641.8 275.5h.7 M603.5 273.9h.7 M608.2 263.9h.7 M614.0 292.2h.7 M589.4 265.3h.7 M629.8 277.6h.7 M624.8 241.0h.7 M582.2 320.0h.7 M632.4 289.5h.7 M615.0 299.5h.7 M589.8 291.4h.7 M582.6 262.4h.7 M595.7 301.6h.7 M596.5 264.7h.7 M611.7 290.7h.7 M609.6 283.4h.7 M590.6 307.1h.7 M623.3 265.2h.7 M583.0 305.6h.7 M600.9 290.1h.7 M584.2 306.4h.7 M597.1 292.9h.7 M601.5 278.8h.7 M601.8 291.4h.7 M608.9 295.6h.7 M581.4 275.1h.7 M590.6 308.9h.7 M587.1 308.4h.7 M616.8 304.1h.7 M642.8 289.1h.7 M600.1 309.9h.7 M602.0 306.1h.7 M591.8 313.2h.7 M600.8 251.1h.7 M616.9 285.4h.7 M585.0 283.3h.7 M590.5 308.7h.7 M600.3 287.9h.7 M592.9 271.3h.7 M587.2 280.0h.7 M591.0 266.0h.7 M589.4 306.2h.7 M603.0 289.2h.7 M600.6 284.5h.7 M582.3 304.2h.7 M642.6 297.9h.7 M608.2 330.9h.7 M582.1 298.1h.7 M589.9 283.8h.7 M578.0 287.7h.7 M601.8 257.4h.7 M591.0 279.5h.7 M584.0 300.0h.7 M629.3 296.3h.7 M615.7 302.1h.7 M592.4 299.1h.7 M622.3 280.8h.7 M591.7 261.8h.7 M576.2 273.0h.7 M612.8 295.4h.7 M598.7 311.5h.7 M577.0 312.6h.7 M594.8 302.4h.7 M623.5 273.1h.7 M585.1 296.1h.7 M592.5 277.7h.7 M591.9 274.9h.7 M596.0 281.6h.7 M630.6 268.6h.7 M605.8 290.5h.7 M627.9 270.1h.7 M588.8 318.5h.7 M587.1 281.7h.7 M589.5 269.9h.7 M620.0 314.8h.7 M591.6 274.4h.7 M580.8 300.4h.7 M588.2 298.5h.7 M571.2 280.9h.7 M606.9 296.3h.7 M567.1 294.2h.7 M595.9 288.9h.7 M589.9 280.5h.7 M596.2 297.8h.7 M564.4 289.1h.7 M613.6 284.9h.7 M620.0 270.8h.7 M635.2 305.4h.7 M589.3 335.6h.7 M624.8 315.9h.7 M582.2 287.1h.7 M603.4 307.0h.7 M594.7 263.6h.7 M620.0 285.9h.7 M602.7 282.9h.7 M592.0 262.0h.7 M607.8 276.8h.7 M577.0 296.2h.7 M592.7 305.4h.7 M611.1 265.2h.7 M591.4 289.2h.7 M595.0 268.4h.7 M594.7 305.7h.7 M620.4 313.8h.7 M609.8 239.3h.7 M590.6 278.5h.7 M566.8 315.2h.7 M613.1 289.1h.7 M601.0 297.4h.7 M591.0 312.3h.7 M633.3 303.0h.7 M588.0 293.5h.7 M614.6 301.3h.7 M586.8 305.3h.7 M609.0 299.0h.7 M589.2 288.7h.7 M575.8 288.6h.7 M589.0 283.4h.7 M590.5 282.9h.7 M594.9 290.8h.7 M587.5 286.6h.7 M592.2 297.5h.7 M602.7 282.1h.7 M585.5 256.8h.7 M581.7 296.0h.7 M584.7 316.2h.7 M591.6 281.6h.7 M591.6 278.4h.7 M587.3 290.3h.7 M579.9 291.4h.7 M592.2 271.4h.7 M615.7 295.3h.7 M616.9 276.0h.7 M581.8 265.8h.7 M578.8 251.8h.7 M627.6 279.8h.7 M597.3 278.6h.7 M591.7 315.7h.7 M577.3 269.7h.7 M596.0 271.3h.7 M608.3 310.9h.7 M612.7 301.8h.7 M591.5 306.0h.7 M585.8 265.7h.7 M590.6 284.2h.7 M620.0 269.7h.7 M618.3 273.8h.7 M581.6 255.7h.7 M592.7 260.6h.7 M597.7 289.9h.7 M589.4 251.1h.7 M588.3 296.6h.7 M576.9 300.7h.7 M593.4 278.4h.7 M597.5 300.1h.7 M592.8 273.8h.7 M610.3 275.7h.7 M601.0 305.5h.7 M621.9 315.9h.7 M615.6 291.6h.7 M591.2 292.3h.7 M604.6 339.3h.7 M607.5 272.8h.7 M626.6 257.7h.7 M615.1 263.9h.7 M583.2 279.2h.7 M590.4 262.5h.7 M606.7 286.9h.7 M622.6 269.0h.7 M576.7 300.7h.7 M591.0 305.5h.7 M571.9 264.4h.7 M595.0 321.9h.7 M581.9 251.5h.7 M588.9 312.9h.7 M627.9 262.2h.7 M587.5 252.7h.7 M585.4 270.1h.7 M602.4 308.2h.7 M645.6 282.0h.7 M611.1 292.8h.7 M595.8 321.6h.7 M608.5 315.4h.7 M599.6 303.6h.7 M604.2 287.2h.7 M586.7 281.1h.7 M593.3 281.6h.7 M589.9 275.2h.7 M611.9 284.3h.7 M591.9 284.8h.7 M621.9 278.5h.7 M624.2 272.1h.7 M626.7 299.4h.7 M588.6 296.7h.7 M618.1 270.3h.7 M591.0 294.3h.7 M591.1 283.4h.7 M593.5 294.3h.7 M610.1 313.9h.7 M590.1 338.4h.7 M590.1 319.0h.7 M591.9 260.4h.7 M589.1 282.3h.7 M616.6 249.2h.7 M587.3 286.5h.7 M607.5 295.7h.7 M611.9 285.9h.7 M590.9 309.4h.7 M630.9 295.5h.7 M596.5 272.1h.7 M639.4 295.8h.7 M606.7 257.4h.7 M606.4 329.9h.7 M591.6 285.1h.7 M626.8 285.4h.7 M611.6 321.7h.7 M582.5 272.7h.7 M608.0 291.1h.7 M594.0 285.8h.7 M595.9 295.1h.7 M588.7 283.6h.7 M598.2 267.6h.7 M602.8 245.7h.7 M607.1 286.7h.7 M582.5 311.7h.7 M582.5 323.8h.7 M586.5 309.5h.7 M592.5 316.2h.7 M591.0 306.4h.7 M590.2 252.0h.7 M601.6 297.1h.7 M601.9 317.2h.7 M586.4 260.8h.7 M598.7 275.3h.7 M592.1 289.0h.7 M585.7 307.5h.7 M592.0 319.2h.7 M598.6 306.9h.7 M590.4 276.0h.7 M588.3 271.7h.7 M602.9 291.4h.7 M583.4 258.6h.7 M585.3 252.9h.7 M585.1 259.0h.7 M608.6 266.1h.7 M587.8 286.7h.7 M593.8 296.2h.7 M609.8 299.9h.7 M590.0 310.1h.7 M601.2 275.0h.7 M625.8 265.7h.7 M603.5 310.2h.7 M595.6 294.9h.7 M595.8 300.3h.7 M598.0 289.2h.7 M608.5 251.5h.7 M598.6 283.1h.7 M636.0 293.9h.7 M587.2 300.1h.7 M589.6 265.6h.7 M590.5 297.5h.7 M619.1 306.7h.7 M598.1 285.9h.7 M597.5 309.4h.7 M591.9 308.6h.7 M586.0 288.8h.7 M610.0 300.9h.7 M597.5 278.9h.7 M577.0 280.4h.7 M585.5 281.1h.7 M627.5 273.8h.7 M611.6 288.7h.7 M583.2 290.9h.7 M609.5 265.6h.7 M582.7 281.5h.7 M608.9 277.2h.7 M602.3 296.8h.7 M593.4 296.6h.7 M620.7 285.3h.7 M600.2 268.0h.7 M586.6 287.1h.7 M610.8 275.8h.7 M580.7 304.6h.7 M644.6 238.1h.7 M583.6 291.1h.7 M603.6 270.3h.7 M600.4 307.5h.7 M590.6 301.3h.7 M595.9 270.7h.7 M587.6 277.0h.7 M621.9 308.5h.7 M598.3 258.1h.7 M588.7 281.1h.7 M576.0 288.7h.7 M599.3 262.9h.7 M589.3 280.0h.7 M633.0 300.2h.7 M609.7 290.5h.7 M581.7 304.5h.7 M587.1 251.1h.7 M608.8 282.2h.7 M593.1 297.7h.7 M591.0 295.9h.7 M620.9 282.7h.7 M589.9 289.3h.7 M607.0 281.1h.7 M594.8 275.6h.7 M592.4 298.2h.7 M585.8 285.4h.7 M580.2 275.2h.7 M594.8 297.9h.7 M583.9 287.1h.7 M584.8 294.3h.7 M598.7 296.5h.7 M591.2 260.9h.7 M588.1 262.6h.7 M587.1 287.9h.7 M616.3 276.3h.7 M586.2 292.4h.7 M574.9 322.4h.7 M579.5 306.1h.7 M614.1 305.2h.7 M592.1 301.3h.7 M590.0 305.1h.7 M587.3 272.9h.7 M601.2 280.1h.7 M607.5 272.1h.7 M598.8 269.7h.7 M592.1 325.0h.7 M583.6 264.8h.7 M579.0 284.6h.7 M627.8 280.1h.7 M613.0 285.4h.7 M587.5 322.7h.7 M616.2 252.8h.7 M584.5 295.9h.7 M607.0 284.6h.7 M599.8 298.0h.7 M590.0 305.7h.7 M585.6 301.7h.7 M612.6 292.4h.7 M590.0 288.7h.7 M573.6 293.3h.7 M580.6 249.3h.7 M609.4 271.0h.7 M600.6 289.8h.7 M577.6 271.3h.7 M590.7 296.9h.7 M594.5 264.1h.7 M588.4 290.8h.7 M581.9 280.3h.7 M588.2 247.2h.7 M629.9 303.7h.7 M589.0 304.9h.7 M583.9 314.6h.7 M589.8 291.4h.7 M588.0 290.6h.7 M600.1 289.5h.7 M585.8 301.7h.7 M604.9 289.0h.7 M615.5 274.5h.7 M620.3 285.9h.7 M625.4 280.3h.7 M590.8 292.5h.7 M616.4 313.1h.7 M589.0 274.7h.7 M609.3 309.8h.7 M608.0 282.6h.7 M620.2 288.5h.7 M596.6 299.4h.7 M588.1 244.4h.7 M597.7 301.0h.7 M602.4 298.1h.7 M596.5 306.5h.7 M595.5 314.0h.7 M594.1 302.4h.7 M588.2 294.1h.7 M602.1 291.3h.7 M625.9 289.8h.7 M617.0 294.9h.7 M616.3 271.3h.7 M589.8 305.2h.7 M585.9 295.6h.7 M605.1 292.3h.7 M602.3 298.1h.7 M591.0 295.9h.7 M588.5 280.1h.7 M579.2 287.0h.7 M578.2 289.5h.7 M597.5 267.6h.7 M594.5 293.9h.7 M590.0 271.1h.7 M592.0 295.9h.7 M612.7 321.4h.7 M575.8 294.8h.7 M602.3 276.5h.7 M599.9 324.1h.7 M595.5 311.9h.7 M615.7 280.3h.7 M572.9 308.5h.7 M625.8 254.3h.7 M591.3 275.3h.7 M597.4 290.1h.7 M617.4 277.4h.7 M634.1 255.3h.7 M597.6 333.9h.7 M592.2 299.6h.7 M588.9 344.4h.7 M612.1 282.1h.7 M576.3 292.6h.7 M608.6 248.7h.7 M588.8 298.4h.7 M572.1 285.2h.7 M579.2 262.5h.7 M601.7 308.1h.7 M617.8 276.1h.7 M603.8 254.1h.7 M580.1 298.2h.7 M589.5 268.9h.7 M576.7 284.4h.7 M640.6 249.2h.7 M583.9 307.9h.7 M576.3 276.7h.7 M594.5 308.0h.7 M592.4 319.6h.7 M592.7 286.8h.7 M602.4 294.9h.7 M579.9 270.3h.7 M591.0 294.7h.7 M582.3 274.9h.7 M586.5 294.7h.7 M589.3 299.1h.7 M601.3 270.9h.7 M590.4 264.4h.7 M595.3 302.7h.7 M584.4 254.0h.7 M604.0 283.3h.7 M592.8 296.8h.7 M601.1 304.6h.7 M589.0 245.4h.7 M588.8 282.9h.7 M589.4 295.6h.7 M590.8 310.8h.7 M587.5 288.9h.7 M589.9 324.7h.7 M584.7 269.2h.7 M589.7 301.9h.7 M593.3 285.5h.7 M580.2 247.8h.7 M591.1 284.3h.7 M630.7 295.3h.7 M602.1 305.3h.7 M585.2 264.6h.7 M589.8 314.0h.7 M614.2 277.4h.7 M582.1 304.7h.7 M616.4 267.2h.7 M627.4 273.6h.7 M609.1 284.9h.7 M590.1 276.9h.7 M607.9 299.5h.7 M610.3 283.4h.7 M585.6 325.2h.7 M629.8 285.2h.7 M582.9 314.3h.7 M595.9 290.0h.7 M611.3 294.9h.7 M595.4 322.6h.7 M576.4 299.9h.7 M584.3 290.2h.7 M591.5 293.5h.7 M571.8 300.7h.7 M643.2 280.8h.7 M612.4 299.6h.7 M599.4 279.0h.7 M606.7 293.6h.7 M624.2 303.1h.7 M586.7 230.9h.7 M625.6 297.3h.7 M596.7 276.9h.7 M647.1 311.7h.7 M595.1 281.7h.7 M605.4 312.0h.7 M604.2 305.0h.7 M598.7 295.0h.7 M581.8 291.1h.7 M594.1 287.6h.7 M590.9 294.2h.7 M587.9 285.1h.7 M581.4 328.2h.7 M585.1 265.0h.7 M588.2 280.7h.7 M583.5 240.4h.7 M628.6 306.3h.7 M589.6 298.5h.7 M583.1 256.7h.7 M600.3 298.8h.7 M586.9 288.9h.7 M565.7 286.4h.7 M615.9 291.9h.7 M596.9 298.8h.7 M574.5 263.3h.7 M581.7 293.1h.7 M587.4 251.4h.7 M612.4 285.3h.7 M614.6 323.0h.7 M578.3 263.6h.7 M616.5 312.9h.7 M601.6 295.1h.7 M608.1 300.1h.7 M581.6 301.6h.7 M614.5 280.9h.7 M584.8 279.3h.7 M587.8 298.0h.7 M609.9 289.4h.7 M590.3 253.7h.7 M589.2 269.1h.7 M588.1 294.8h.7 M585.2 278.4h.7 M582.8 283.9h.7 M590.4 306.0h.7 M575.6 304.4h.7 M607.0 278.6h.7 M586.9 292.3h.7 M604.4 285.8h.7 M591.6 289.3h.7 M583.3 293.6h.7 M605.6 289.9h.7 M582.8 289.0h.7 M592.0 294.4h.7 M589.3 303.0h.7 M616.7 302.9h.7 M598.1 309.6h.7 M592.6 285.7h.7 M580.2 289.3h.7 M619.5 270.1h.7 M610.0 263.9h.7 M599.5 319.7h.7 M593.9 265.9h.7 M599.2 286.1h.7 M610.3 278.7h.7 M577.5 279.6h.7 M605.8 306.3h.7 M599.0 289.4h.7 M607.9 285.2h.7 M588.9 292.8h.7 M616.8 279.2h.7 M603.8 276.4h.7 M586.4 291.9h.7 M581.1 272.3h.7 M582.3 277.2h.7 M584.8 328.0h.7 M606.2 290.3h.7 M581.0 242.3h.7 M602.5 276.7h.7 M615.8 281.3h.7 M581.3 276.5h.7 M579.3 261.3h.7 M608.4 278.6h.7 M607.9 278.1h.7 M590.9 278.3h.7 M588.1 276.1h.7 M625.5 288.0h.7 M575.5 317.3h.7 M620.3 307.7h.7 M592.0 286.0h.7 M588.7 291.1h.7 M603.1 289.0h.7 M585.6 270.2h.7 M629.3 317.1h.7 M581.8 276.6h.7 M592.6 298.8h.7 M591.9 293.0h.7 M600.8 308.0h.7 M581.2 307.2h.7 M602.4 298.0h.7 M579.4 284.6h.7 M590.6 299.6h.7 M607.8 300.4h.7 M581.3 309.9h.7 M594.2 304.5h.7 M592.8 275.4h.7 M650.2 299.9h.7 M609.5 280.1h.7 M590.9 307.5h.7 M602.5 318.0h.7 M619.1 268.1h.7 M579.1 308.2h.7 M605.9 284.0h.7 M590.3 278.3h.7 M632.1 285.9h.7 M580.5 304.0h.7 M592.1 294.9h.7 M589.5 288.3h.7 M576.0 297.9h.7 M586.7 281.7h.7 M599.6 310.1h.7 M573.6 286.5h.7 M604.7 305.8h.7 M584.7 294.3h.7 M601.4 304.4h.7 M587.3 285.5h.7 M588.3 307.8h.7 M616.5 280.5h.7 M591.6 292.7h.7 M584.8 286.9h.7 M611.6 301.8h.7 M586.8 276.6h.7 M591.8 260.8h.7 M599.5 291.1h.7 M580.9 284.6h.7 M586.9 283.9h.7 M585.0 311.4h.7 M584.2 301.6h.7 M597.2 312.7h.7 M592.3 289.2h.7 M594.1 253.0h.7 M645.4 285.1h.7 M590.0 267.6h.7 M591.6 315.4h.7 M586.1 296.3h.7 M615.3 304.5h.7 M589.2 255.8h.7 M601.6 298.4h.7 M589.9 281.0h.7 M631.1 259.0h.7 M588.2 277.6h.7 M578.8 276.0h.7 M585.7 309.4h.7 M577.2 263.0h.7 M598.3 259.7h.7 M574.8 277.3h.7 M582.0 270.6h.7 M591.4 296.5h.7 M587.0 284.0h.7 M608.3 286.3h.7 M608.7 278.0h.7 M603.3 309.8h.7 M580.4 337.6h.7 M589.9 282.8h.7 M591.4 296.7h.7 M582.0 289.8h.7 M587.6 312.3h.7 M577.3 299.7h.7 M590.0 275.0h.7 M595.6 284.7h.7 M593.5 293.1h.7 M619.0 281.6h.7 M629.3 238.0h.7 M632.6 308.8h.7 M626.9 292.4h.7 M598.8 270.0h.7 M621.9 267.3h.7 M585.7 289.2h.7 M597.7 294.7h.7 M582.4 282.7h.7 M603.3 308.3h.7 M609.4 295.9h.7 M590.5 279.0h.7 M588.2 287.5h.7 M604.2 279.7h.7 M637.7 270.3h.7 M610.5 285.4h.7 M591.6 282.1h.7 M626.3 283.6h.7 M604.7 291.1h.7 M609.0 298.7h.7 M628.8 275.4h.7 M585.5 316.5h.7 M620.5 290.4h.7 M590.3 293.3h.7 M621.2 274.8h.7 M624.4 288.2h.7 M589.6 281.8h.7 M574.0 294.4h.7 M581.0 278.7h.7 M584.8 293.0h.7 M608.4 289.9h.7 M596.8 295.8h.7 M627.8 298.5h.7 M627.0 288.1h.7 M600.3 277.0h.7 M605.6 273.1h.7 M602.9 277.3h.7 M589.7 308.8h.7 M595.8 302.0h.7 M590.7 254.1h.7 M624.9 285.9h.7 M587.0 304.4h.7 M582.7 275.2h.7 M617.7 276.2h.7 M617.3 283.5h.7 M590.9 290.4h.7 M588.4 306.4h.7 M616.6 290.3h.7 M606.0 297.9h.7 M629.5 259.4h.7 M615.0 303.9h.7 M590.0 289.5h.7 M589.7 309.1h.7 M582.6 299.0h.7 M620.7 298.4h.7 M588.5 280.6h.7 M573.8 269.9h.7 M616.6 271.5h.7 M578.1 284.7h.7 M579.5 296.6h.7 M585.0 304.5h.7 M591.8 262.6h.7 M585.9 277.1h.7 M585.3 309.1h.7 M583.8 295.1h.7 M587.6 298.7h.7 M580.0 259.8h.7 M603.8 312.2h.7 M580.4 283.4h.7 M588.3 271.7h.7 M613.9 290.1h.7 M580.4 285.3h.7 M621.9 276.0h.7 M588.2 273.8h.7 M596.2 278.9h.7 M612.2 273.7h.7 M579.8 296.5h.7 M564.4 271.5h.7 M598.8 293.2h.7 M587.7 281.0h.7 M585.6 286.0h.7 M588.8 298.1h.7 M592.9 298.2h.7 M628.5 284.2h.7 M590.3 295.3h.7 M638.7 282.6h.7 M629.7 308.3h.7 M568.3 270.6h.7 M584.0 295.6h.7 M621.8 290.2h.7 M596.2 324.0h.7 M600.5 323.7h.7 M584.8 315.7h.7 M588.3 243.6h.7 M585.4 280.4h.7 M592.5 301.4h.7 M607.8 297.7h.7 M586.1 317.9h.7 M619.0 289.9h.7 M587.7 288.4h.7 M590.9 276.2h.7 M592.8 276.8h.7 M606.8 277.0h.7 M603.4 294.4h.7 M596.3 297.7h.7 M583.6 330.6h.7 M586.6 301.1h.7 M593.2 281.2h.7 M630.9 307.0h.7 M590.4 298.3h.7 M607.7 314.6h.7 M615.0 286.2h.7 M590.6 267.4h.7 M598.5 303.2h.7 M589.4 299.9h.7 M595.6 280.6h.7 M581.9 307.1h.7 M648.4 298.0h.7 M583.2 269.8h.7 M598.3 299.7h.7 M626.1 243.7h.7 M633.4 291.9h.7 M595.7 295.5h.7 M589.7 283.9h.7 M615.9 256.5h.7 M591.9 298.3h.7 M578.1 286.3h.7 M626.4 295.3h.7 M608.3 300.6h.7 M597.6 295.0h.7 M585.6 285.3h.7 M633.4 266.1h.7 M591.4 265.3h.7 M588.1 274.7h.7 M581.9 293.1h.7 M584.4 297.8h.7 M632.5 240.8h.7 M591.4 249.6h.7 M591.8 295.3h.7 M597.4 308.7h.7 M596.3 256.6h.7 M625.9 271.3h.7 M592.1 294.5h.7 M585.0 290.7h.7 M625.7 257.3h.7 M577.9 280.8h.7 M591.4 265.0h.7 M572.2 304.0h.7 M601.4 264.1h.7 M605.4 288.1h.7 M596.4 263.9h.7 M591.0 297.0h.7 M577.2 269.3h.7 M614.2 321.5h.7 M607.4 287.9h.7 M583.2 281.5h.7 M590.7 296.4h.7 M590.7 329.3h.7 M622.0 247.5h.7 M582.4 289.2h.7 M614.5 295.8h.7 M568.2 257.9h.7 M622.6 298.8h.7 M649.3 302.2h.7 M603.1 314.0h.7 M588.9 278.9h.7 M583.8 293.2h.7 M602.6 304.4h.7 M624.8 299.3h.7 M620.0 284.5h.7 M584.3 301.1h.7 M615.2 310.9h.7 M591.5 280.3h.7 M589.7 295.0h.7 M592.5 285.7h.7 M598.5 283.7h.7 M600.3 277.8h.7 M579.0 283.3h.7 M634.6 273.7h.7 M613.1 311.0h.7 M588.1 293.4h.7 M572.4 298.5h.7 M626.8 292.2h.7 M575.0 278.1h.7 M586.3 291.0h.7 M599.3 281.3h.7 M590.2 273.5h.7 M605.6 292.4h.7 M600.6 279.5h.7 M603.8 283.5h.7 M599.5 286.1h.7 M587.0 268.2h.7 M576.2 263.0h.7 M603.1 342.3h.7 M578.2 273.6h.7 M591.1 266.8h.7 M602.2 323.2h.7 M567.8 266.7h.7 M620.3 266.8h.7 M592.0 277.1h.7 M609.8 261.2h.7 M599.8 292.7h.7 M605.4 296.1h.7 M596.4 255.0h.7 M590.1 271.0h.7 M604.7 284.7h.7 M596.3 307.2h.7 M592.0 316.7h.7 M611.4 260.6h.7 M587.7 309.1h.7 M588.5 308.7h.7 M587.9 286.8h.7 M615.6 258.7h.7 M594.7 280.4h.7 M596.7 317.1h.7 M603.8 263.1h.7 M614.2 280.4h.7 M596.6 308.1h.7 M590.2 304.8h.7 M596.9 271.7h.7 M590.2 262.9h.7 M619.1 291.8h.7 M614.3 267.6h.7 M611.7 266.0h.7 M599.2 288.8h.7 M587.7 294.1h.7 M593.8 272.3h.7 M586.3 263.9h.7 M623.2 291.5h.7 M589.7 300.4h.7 M585.2 266.6h.7 M600.8 315.1h.7 M599.6 291.6h.7 M631.4 259.2h.7 M660.4 267.8h.7 M592.3 263.1h.7 M582.1 284.4h.7 M646.8 270.9h.7 M587.4 293.5h.7 M583.8 284.1h.7 M611.0 246.9h.7 M590.3 283.3h.7 M588.4 286.8h.7 M576.8 280.5h.7 M588.3 269.1h.7 M620.8 321.9h.7 M610.6 272.3h.7 M624.3 297.2h.7 M585.6 299.0h.7 M587.8 298.4h.7 M613.3 308.0h.7 M583.5 286.6h.7 M593.1 265.4h.7 M602.1 300.4h.7 M580.6 278.3h.7 M583.0 264.4h.7 M583.4 311.6h.7 M587.0 281.4h.7 M614.8 305.9h.7 M624.0 248.8h.7 M609.6 255.0h.7 M587.3 281.0h.7 M587.9 321.4h.7 M591.5 308.4h.7 M591.4 287.8h.7 M604.2 296.3h.7 M604.0 255.4h.7 M604.2 294.3h.7 M606.2 288.0h.7 M602.0 263.7h.7 M617.9 265.5h.7 M623.9 305.7h.7 M592.4 283.3h.7 M610.1 283.1h.7 M582.3 293.6h.7 M582.0 280.1h.7 M632.5 302.4h.7 M588.9 287.7h.7 M587.2 288.8h.7 M580.0 300.3h.7 M593.3 277.1h.7 M587.5 332.4h.7 M589.0 279.7h.7 M587.8 279.4h.7 M621.8 300.2h.7 M602.2 295.1h.7 M582.8 242.1h.7 M626.2 300.8h.7 M597.8 293.6h.7 M597.4 289.4h.7 M590.6 245.7h.7 M605.5 289.8h.7 M614.5 294.1h.7 M590.4 299.0h.7 M597.1 280.4h.7 M589.6 280.8h.7 M590.3 280.3h.7 M614.6 337.3h.7 M592.0 307.5h.7 M575.2 226.1h.7 M588.7 286.0h.7 M586.3 262.5h.7 M585.3 279.0h.7 M596.4 282.5h.7 M582.2 281.8h.7 M626.3 271.9h.7 M594.4 305.7h.7 M585.8 277.9h.7 M656.7 309.5h.7 M588.3 291.6h.7 M595.2 291.4h.7 M603.2 283.2h.7 M573.0 270.3h.7 M596.3 262.4h.7 M590.1 313.8h.7 M598.2 276.2h.7 M596.0 306.3h.7 M577.6 264.7h.7 M587.0 280.5h.7 M592.2 277.7h.7 M595.4 290.5h.7 M582.5 276.9h.7 M581.8 293.8h.7 M598.8 299.8h.7 M585.1 278.7h.7 M573.0 289.2h.7 M578.5 294.7h.7 M616.7 296.3h.7 M606.8 292.8h.7 M601.2 304.5h.7 M620.8 322.4h.7 M590.6 302.8h.7 M612.0 296.0h.7 M598.9 264.4h.7 M616.9 271.8h.7 M587.1 272.4h.7 M605.3 270.2h.7 M603.0 298.3h.7 M595.2 282.4h.7 M606.1 310.6h.7 M588.8 268.6h.7 M587.6 271.9h.7 M590.9 286.0h.7 M572.3 313.1h.7 M585.7 280.7h.7 M575.4 250.8h.7 M583.9 292.8h.7 M611.7 253.9h.7 M597.9 314.0h.7 M590.5 304.1h.7 M599.8 271.1h.7 M614.8 277.2h.7 M600.8 281.2h.7 M591.1 291.5h.7 M622.0 256.3h.7 M583.0 290.7h.7 M614.4 285.3h.7 M591.3 297.7h.7 M627.6 271.4h.7 M578.7 283.5h.7 M609.8 263.5h.7 M617.7 304.5h.7 M610.3 272.6h.7 M581.4 299.8h.7 M598.7 300.3h.7 M580.9 231.7h.7 M617.6 305.5h.7 M590.5 288.9h.7 M602.9 301.3h.7 M591.3 279.0h.7 M584.2 305.9h.7 M595.2 222.9h.7 M600.5 277.9h.7 M581.6 279.1h.7 M581.5 280.3h.7 M588.1 297.4h.7 M583.9 253.7h.7 M587.6 262.3h.7 M609.2 285.0h.7 M578.0 272.0h.7 M592.7 288.2h.7 M576.5 286.5h.7 M599.5 305.3h.7 M617.1 286.6h.7 M581.3 281.7h.7 M607.2 271.1h.7 M620.6 270.4h.7 M582.9 302.6h.7 M592.1 294.3h.7 M590.3 289.5h.7 M587.7 320.2h.7 M607.4 286.6h.7 M603.4 302.7h.7 M588.3 291.9h.7 M597.5 278.0h.7 M586.0 285.1h.7 M590.3 281.1h.7 M575.5 290.2h.7 M607.3 290.2h.7 M630.6 303.2h.7 M589.8 275.9h.7 M604.0 281.8h.7 M578.5 291.0h.7 M590.3 284.6h.7 M606.4 292.2h.7 M637.4 274.7h.7 M592.1 294.1h.7 M589.0 279.0h.7 M631.4 260.9h.7 M600.6 255.1h.7 M600.4 251.8h.7 M582.5 307.7h.7 M626.8 291.1h.7 M568.6 305.6h.7 M598.3 267.6h.7 M589.8 263.4h.7 M592.2 287.3h.7 M595.7 302.0h.7 M587.2 246.4h.7 M582.5 264.7h.7 M589.7 280.5h.7 M592.6 311.4h.7 M593.6 268.2h.7 M590.2 272.0h.7 M590.8 298.5h.7 M582.8 300.5h.7 M632.1 314.0h.7 M628.6 290.4h.7 M580.9 321.9h.7 M592.5 292.8h.7 M589.8 270.8h.7 M606.5 262.0h.7 M580.7 298.0h.7 M589.6 272.8h.7 M603.9 312.3h.7 M590.4 286.4h.7 M605.3 304.3h.7 M615.7 300.1h.7 M587.0 297.7h.7 M593.2 256.3h.7 M620.1 298.4h.7 M623.0 287.7h.7 M608.9 287.6h.7 M596.6 303.9h.7 M594.3 299.0h.7 M592.7 309.0h.7 M607.3 257.1h.7 M629.4 296.2h.7 M588.4 277.0h.7 M636.6 290.5h.7 M604.2 298.7h.7 M587.6 317.6h.7 M639.1 274.0h.7 M617.9 257.7h.7 M590.0 290.0h.7 M594.1 298.3h.7 M601.8 295.1h.7 M591.8 294.0h.7 M588.0 321.1h.7 M594.4 309.2h.7 M595.3 286.1h.7 M591.4 264.2h.7 M638.5 295.8h.7 M595.9 280.1h.7 M621.0 282.7h.7 M588.9 278.6h.7 M626.8 294.1h.7 M591.7 276.7h.7 M621.1 293.7h.7 M590.1 303.6h.7 M612.2 270.0h.7 M618.2 306.8h.7 M590.9 263.5h.7 M616.9 282.5h.7 M591.2 283.5h.7 M590.6 302.6h.7 M583.3 297.7h.7 M618.3 306.2h.7 M608.8 293.4h.7 M591.3 286.7h.7 M585.2 316.2h.7 M592.0 269.7h.7 M611.3 313.6h.7 M599.2 283.0h.7 M583.1 299.5h.7 M590.9 276.4h.7 M606.2 264.4h.7 M609.1 242.6h.7 M587.6 261.8h.7 M590.9 302.0h.7 M581.5 311.1h.7 M587.0 279.8h.7 M614.7 275.1h.7 M624.7 285.1h.7 M592.2 270.7h.7 M618.1 287.8h.7 M588.8 271.0h.7 M587.4 287.2h.7 M586.7 301.9h.7 M592.8 277.3h.7 M603.2 312.1h.7 M574.7 294.8h.7 M616.6 291.2h.7 M611.1 259.7h.7 M586.5 305.4h.7 M592.3 290.0h.7 M606.8 295.0h.7 M603.0 279.6h.7 M590.5 310.2h.7 M588.8 261.7h.7 M590.0 303.5h.7 M632.0 291.5h.7 M587.6 298.8h.7 M599.8 308.1h.7 M604.5 301.2h.7 M604.3 295.8h.7 M585.1 285.9h.7 M627.8 310.5h.7 M614.1 295.4h.7 M592.2 294.7h.7 M590.2 306.6h.7 M590.4 274.6h.7 M579.0 314.1h.7 M586.5 272.7h.7 M602.1 318.0h.7 M607.8 282.7h.7 M605.6 273.4h.7 M591.0 289.5h.7 M593.7 301.6h.7 M605.0 319.4h.7 M611.4 283.7h.7 M599.0 273.0h.7 M587.8 282.6h.7 M615.3 276.0h.7 M579.5 269.9h.7 M582.7 285.6h.7 M590.6 267.0h.7 M586.3 281.2h.7 M602.0 298.9h.7 M621.9 284.2h.7 M607.1 290.3h.7 M583.7 277.0h.7 M640.4 286.0h.7 M628.9 302.3h.7 M629.2 285.5h.7 M613.6 283.3h.7 M583.6 267.0h.7 M603.1 258.6h.7 M601.5 272.6h.7 M601.3 263.1h.7 M611.9 284.7h.7 M579.9 261.9h.7 M595.1 258.1h.7 M600.8 296.8h.7 M587.6 311.5h.7 M624.6 294.1h.7 M603.5 296.6h.7 M591.0 310.1h.7 M588.7 241.5h.7 M594.3 296.1h.7 M611.4 268.2h.7 M623.5 273.6h.7 M607.3 300.8h.7 M597.6 307.2h.7 M589.0 322.0h.7 M604.3 281.1h.7 M649.3 288.9h.7 M579.2 311.8h.7 M626.8 278.2h.7 M584.7 307.2h.7 M595.1 270.9h.7 M589.2 290.1h.7 M614.8 314.2h.7 M588.0 313.7h.7 M580.2 300.5h.7 M592.2 296.1h.7 M589.6 275.6h.7 M599.9 307.2h.7 M574.1 289.9h.7 M589.9 268.8h.7 M581.7 297.4h.7 M605.7 299.4h.7 M576.1 260.2h.7 M588.0 280.9h.7 M631.4 281.8h.7 M596.6 305.1h.7 M629.5 295.0h.7 M601.2 320.2h.7 M589.9 255.1h.7 M586.8 283.1h.7 M621.8 294.1h.7 M619.5 290.7h.7 M594.8 278.1h.7 M582.6 297.2h.7 M601.6 298.3h.7 M588.7 281.1h.7 M602.0 298.8h.7 M636.3 272.5h.7 M615.0 303.3h.7 M591.1 291.3h.7 M592.9 313.6h.7 M648.1 294.2h.7 M591.2 304.3h.7 M604.4 285.6h.7 M610.0 303.1h.7 M589.9 302.7h.7 M573.9 264.7h.7 M590.7 291.6h.7 M580.7 312.8h.7 M590.1 291.5h.7 M593.0 301.2h.7 M588.3 301.0h.7 M586.2 261.0h.7 M604.9 291.6h.7 M612.7 252.3h.7 M596.3 276.9h.7 M591.7 281.6h.7 M590.1 276.4h.7 M615.7 256.5h.7 M578.8 294.6h.7 M636.7 274.6h.7 M585.5 266.9h.7 M584.5 309.2h.7 M608.4 303.6h.7 M601.3 292.8h.7 M588.3 270.7h.7 M607.1 329.0h.7 M590.2 309.5h.7 M587.3 289.7h.7 M630.1 287.6h.7 M607.4 278.4h.7 M633.9 265.7h.7 M605.9 284.5h.7 M598.1 294.9h.7 M621.9 303.2h.7 M616.4 295.0h.7 M584.1 310.7h.7 M626.6 296.8h.7 M610.8 284.6h.7 M580.8 304.9h.7 M587.1 319.9h.7 M608.6 288.7h.7 M588.0 290.8h.7 M584.6 281.9h.7 M627.9 283.4h.7 M633.1 287.2h.7 M602.8 271.5h.7 M590.8 280.6h.7 M581.3 320.3h.7 M606.5 287.4h.7 M583.8 289.6h.7 M584.2 270.6h.7 M591.7 323.9h.7 M578.2 298.1h.7 M588.6 233.8h.7 M581.1 286.5h.7 M595.2 274.7h.7 M631.7 297.7h.7 M587.9 257.7h.7 M597.6 276.3h.7 M615.6 269.2h.7 M619.3 280.3h.7 M598.0 283.9h.7 M607.1 307.6h.7 M588.6 271.8h.7 M634.2 304.5h.7 M634.5 304.5h.7 M596.7 315.4h.7 M587.5 280.9h.7 M589.8 300.1h.7 M585.9 285.7h.7 M586.0 284.6h.7 M617.7 307.0h.7 M591.4 330.3h.7 M587.2 296.4h.7 M589.1 246.8h.7 M583.0 309.1h.7 M578.9 336.5h.7 M592.2 293.4h.7 M620.5 289.5h.7 M587.8 277.4h.7 M585.1 298.0h.7 M589.2 297.3h.7 M580.2 280.8h.7 M637.7 294.9h.7 M592.4 308.3h.7 M599.6 313.9h.7 M583.1 301.5h.7 M584.0 300.1h.7 M646.2 313.9h.7 M585.8 295.9h.7 M603.5 275.3h.7 M598.9 268.7h.7 M614.4 303.9h.7 M591.9 300.2h.7 M644.6 286.0h.7 M576.9 294.5h.7 M589.3 274.1h.7 M612.9 305.3h.7 M606.4 315.6h.7 M587.7 281.1h.7 M602.6 237.3h.7 M569.4 294.6h.7 M591.4 290.0h.7 M584.8 292.7h.7 M616.2 277.0h.7 M605.7 286.1h.7 M591.9 290.9h.7 M625.9 297.5h.7 M608.3 291.5h.7 M574.4 304.3h.7 M593.2 290.6h.7 M588.8 259.6h.7 M625.5 318.8h.7 M627.2 253.9h.7 M605.4 266.5h.7 M591.6 279.2h.7 M587.8 274.3h.7 M589.0 301.6h.7 M628.0 304.1h.7 M593.3 286.3h.7 M591.1 288.6h.7 M587.8 285.6h.7 M611.7 284.7h.7 M586.1 286.7h.7 M595.3 287.5h.7 M590.9 300.5h.7 M592.8 269.7h.7 M605.7 275.4h.7 M610.0 302.3h.7 M603.8 294.0h.7 M581.4 285.3h.7 M596.1 299.4h.7 M583.3 286.1h.7 M579.7 291.9h.7 M595.1 291.0h.7 M629.0 301.0h.7 M591.5 278.0h.7 M589.3 301.8h.7 M613.1 279.4h.7 M592.2 280.7h.7 M608.2 292.1h.7 M586.8 272.1h.7 M621.4 262.2h.7 M577.2 230.2h.7 M637.2 278.7h.7 M611.8 298.1h.7 M611.5 307.5h.7 M589.0 288.7h.7 M614.6 298.1h.7 M586.5 274.6h.7 M580.4 293.3h.7 M588.5 259.3h.7 M588.2 294.3h.7 M597.3 284.8h.7 M596.9 299.6h.7 M582.6 273.4h.7 M614.4 301.0h.7 M580.8 275.2h.7 M624.7 301.3h.7 M591.9 305.6h.7 M623.0 312.0h.7 M580.9 264.3h.7 M588.7 288.1h.7 M590.0 293.0h.7 M625.4 306.9h.7 M614.8 289.0h.7 M629.1 296.5h.7 M598.7 288.7h.7 M576.9 324.0h.7 M593.0 303.6h.7 M642.5 285.4h.7 M582.9 305.6h.7 M598.6 271.0h.7 M614.3 289.2h.7 M584.8 240.7h.7 M584.4 295.3h.7 M584.0 304.8h.7 M641.1 294.2h.7 M598.3 287.6h.7 M612.1 289.6h.7 M615.9 312.1h.7 M611.9 270.7h.7 M607.9 284.0h.7 M600.2 304.8h.7 M587.3 292.4h.7 M625.3 273.1h.7 M591.5 300.8h.7 M591.1 305.7h.7 M584.2 260.5h.7 M601.6 286.5h.7 M600.2 304.7h.7 M616.2 282.4h.7 M589.7 252.1h.7 M584.5 293.0h.7 M598.1 260.8h.7 M610.5 288.3h.7 M617.3 282.3h.7 M614.4 268.0h.7 M576.7 273.7h.7 M608.6 295.7h.7 M576.4 291.4h.7 M608.0 316.2h.7 M610.4 297.3h.7 M579.1 295.1h.7 M575.7 283.5h.7 M589.9 270.6h.7 M584.1 286.4h.7 M606.0 276.8h.7 M600.0 300.5h.7 M593.0 320.0h.7 M590.4 275.2h.7 M576.3 306.4h.7 M608.1 285.5h.7 M600.2 286.6h.7 M612.3 288.9h.7 M598.3 287.6h.7 M585.3 246.9h.7 M605.2 265.4h.7 M602.0 299.4h.7 M634.4 274.9h.7 M596.6 304.4h.7 M587.2 277.9h.7 M603.1 322.4h.7 M616.8 304.5h.7 M584.6 299.7h.7 M618.2 265.1h.7 M593.6 285.4h.7 M607.4 256.0h.7 M608.7 289.0h.7 M590.8 248.9h.7 M574.7 278.8h.7 M607.5 295.9h.7 M609.7 256.9h.7 M597.8 310.8h.7 M579.4 299.5h.7 M586.7 297.9h.7 M595.5 258.2h.7 M583.8 309.5h.7 M592.2 309.0h.7 M600.7 303.4h.7 M589.6 292.6h.7 M589.8 303.7h.7 M588.0 306.9h.7 M627.6 266.0h.7 M591.6 297.8h.7 M632.0 307.6h.7 M595.2 256.3h.7 M611.7 277.9h.7 M597.6 295.5h.7 M580.6 306.2h.7 M613.3 298.3h.7 M606.3 294.8h.7 M580.7 279.4h.7 M611.1 282.8h.7 M593.9 295.0h.7 M595.2 293.2h.7 M603.9 289.1h.7 M583.3 284.0h.7 M614.1 276.2h.7 M603.6 294.0h.7 M585.3 235.7h.7 M593.0 274.4h.7 M587.6 304.0h.7 M586.3 294.6h.7 M595.9 292.2h.7 M636.6 251.8h.7 M614.3 286.3h.7 M590.7 276.4h.7 M594.2 289.8h.7 M585.0 315.3h.7 M586.5 286.5h.7 M581.8 291.5h.7 M601.1 306.4h.7 M614.6 279.6h.7 M628.2 287.0h.7 M627.1 316.5h.7 M589.5 268.8h.7 M605.1 312.1h.7 M602.0 306.6h.7 M606.2 303.3h.7 M622.1 283.5h.7 M580.5 286.8h.7 M586.1 266.6h.7 M591.6 300.5h.7 M576.7 260.5h.7 M610.6 272.3h.7 M589.7 310.7h.7 M617.7 294.8h.7 M605.0 237.8h.7 M605.4 295.2h.7 M580.8 291.9h.7 M603.2 286.9h.7 M610.5 303.2h.7 M594.4 284.3h.7 M582.6 307.3h.7 M588.0 294.1h.7 M626.6 301.4h.7 M581.8 287.4h.7 M586.8 258.0h.7 M586.0 298.4h.7 M600.6 285.1h.7 M597.1 267.1h.7 M586.3 285.9h.7 M610.5 283.0h.7 M591.6 294.4h.7 M625.1 265.3h.7 M604.8 292.0h.7 M592.5 293.0h.7 M575.5 289.5h.7 M591.0 265.8h.7 M611.6 286.8h.7 M590.1 301.2h.7 M584.9 275.5h.7 M611.2 303.0h.7 M637.1 280.4h.7 M580.2 261.1h.7 M582.5 290.7h.7 M591.0 276.3h.7 M584.2 275.9h.7 M589.9 308.0h.7 M606.8 310.9h.7 M611.0 301.2h.7 M618.8 296.3h.7 M626.6 307.1h.7 M632.6 292.5h.7 M586.2 329.3h.7 M590.6 297.4h.7 M589.7 275.9h.7 M602.7 268.0h.7 M591.7 311.6h.7 M595.9 302.1h.7 M607.1 295.2h.7 M595.5 298.8h.7 M584.5 298.3h.7 M583.6 274.8h.7 M587.9 263.9h.7 M575.6 295.1h.7 M604.1 299.6h.7 M641.1 291.8h.7 M609.4 275.0h.7 M608.6 267.5h.7 M636.0 270.9h.7 M589.4 301.0h.7 M573.6 310.5h.7 M584.6 292.2h.7 M614.4 291.5h.7 M613.4 279.6h.7 M606.1 248.1h.7 M626.0 276.5h.7 M585.4 289.3h.7 M630.0 275.8h.7 M592.9 282.2h.7 M584.8 264.4h.7 M605.9 300.3h.7 M586.4 292.7h.7 M602.9 295.1h.7 M591.6 289.7h.7 M599.1 269.0h.7 M591.8 301.7h.7 M588.1 310.0h.7 M590.9 268.3h.7 M590.4 263.5h.7 M606.4 259.1h.7 M593.5 284.6h.7 M590.3 295.8h.7 M599.4 278.5h.7 M610.9 280.6h.7 M612.6 310.5h.7 M601.3 303.8h.7 M581.2 298.0h.7 M579.8 285.7h.7 M608.2 238.5h.7 M586.1 274.5h.7 M584.7 289.4h.7 M606.9 267.3h.7 M587.5 254.1h.7 M586.8 249.6h.7 M579.7 296.5h.7 M612.1 273.7h.7 M600.7 274.4h.7 M616.2 317.0h.7 M571.2 272.7h.7 M587.3 280.0h.7 M627.0 314.2h.7 M592.9 299.2h.7 M578.9 283.4h.7 M590.5 286.2h.7 M599.5 259.6h.7 M583.8 323.2h.7 M577.6 290.0h.7 M608.9 296.9h.7 M594.3 258.7h.7 M588.9 259.7h.7 M635.6 294.8h.7 M608.8 292.3h.7 M589.6 307.9h.7 M612.2 299.2h.7 M605.7 300.8h.7 M590.5 295.9h.7 M594.8 284.3h.7 M607.1 323.2h.7 M575.0 312.0h.7 M589.2 308.2h.7 M584.0 285.5h.7 M615.3 287.7h.7 M600.6 266.2h.7 M582.8 315.7h.7 M596.4 287.4h.7 M580.7 269.5h.7 M583.9 288.1h.7 M592.0 277.5h.7 M587.1 290.8h.7 M618.4 262.6h.7 M580.4 307.1h.7 M580.3 281.3h.7 M595.6 318.2h.7 M574.9 234.3h.7 M592.3 306.2h.7 M596.1 273.8h.7 M597.1 250.2h.7 M610.9 312.7h.7 M591.2 302.1h.7 M583.6 312.7h.7 M587.3 274.0h.7 M586.2 255.7h.7 M607.6 321.1h.7 M580.3 285.3h.7 M602.8 278.3h.7 M579.1 294.4h.7 M614.8 290.7h.7 M583.5 283.3h.7 M575.9 287.9h.7 M619.5 306.8h.7 M592.2 296.0h.7 M588.4 291.1h.7 M587.7 291.6h.7 M588.4 292.2h.7 M608.1 288.7h.7 M581.5 297.0h.7 M590.8 279.7h.7 M605.2 273.2h.7 M613.2 298.0h.7 M586.9 275.8h.7 M591.9 271.9h.7 M613.6 246.5h.7 M596.2 282.4h.7 M583.3 299.1h.7 M588.7 296.3h.7 M589.1 283.7h.7 M604.4 304.4h.7 M614.6 288.6h.7 M625.1 282.6h.7 M580.9 253.7h.7 M580.2 272.7h.7 M577.2 294.3h.7 M593.7 288.3h.7 M598.2 286.9h.7 M590.8 283.0h.7 M593.9 267.7h.7 M620.7 313.7h.7 M593.8 325.6h.7 M584.4 303.5h.7 M578.7 298.7h.7 M586.4 305.2h.7 M595.5 304.3h.7 M606.2 297.5h.7 M590.6 314.6h.7 M600.8 296.8h.7 M624.1 284.1h.7 M630.8 306.5h.7 M594.7 261.6h.7 M619.4 283.1h.7 M595.2 291.0h.7 M613.7 299.2h.7 M576.9 276.6h.7 M600.6 291.8h.7 M610.3 298.1h.7 M628.3 275.4h.7 M621.3 295.2h.7 M599.6 300.0h.7 M590.1 300.5h.7 M591.2 300.6h.7 M586.3 307.9h.7 M579.6 276.6h.7 M592.6 292.9h.7 M586.0 281.4h.7 M598.6 305.9h.7 M621.1 280.0h.7 M592.4 283.1h.7 M579.6 280.6h.7 M617.5 263.6h.7 M654.9 304.8h.7 M630.5 292.0h.7 M572.7 296.1h.7 M627.5 278.2h.7 M620.5 301.2h.7 M610.1 301.1h.7 M605.8 299.5h.7 M618.9 295.8h.7 M606.8 295.9h.7 M596.1 272.6h.7 M577.2 269.9h.7 M582.1 261.1h.7 M608.0 282.8h.7 M620.6 339.3h.7 M609.9 280.3h.7 M601.4 285.2h.7 M599.3 322.6h.7 M627.7 309.6h.7 M599.4 317.7h.7 M611.1 303.4h.7 M582.7 277.5h.7 M596.8 284.9h.7 M588.5 251.2h.7 M586.5 287.0h.7 M599.8 268.7h.7 M591.9 318.2h.7 M596.6 251.8h.7 M591.4 289.1h.7 M620.6 292.2h.7 M622.9 294.4h.7 M618.5 310.8h.7 M626.4 292.2h.7 M582.3 292.3h.7 M603.5 275.7h.7 M611.1 286.0h.7 M610.3 292.2h.7 M584.8 306.0h.7 M636.6 304.0h.7 M599.3 256.4h.7 M600.2 288.5h.7 M586.1 252.7h.7 M602.9 304.8h.7 M608.6 325.8h.7 M576.3 294.8h.7 M592.8 312.1h.7 M592.8 270.7h.7 M592.6 296.1h.7 M586.6 274.2h.7 M599.0 303.2h.7 M591.0 297.0h.7 M588.6 282.6h.7 M597.4 304.7h.7 M627.5 286.7h.7 M602.9 320.9h.7 M611.3 282.3h.7 M602.1 262.0h.7 M574.6 274.6h.7 M586.8 263.6h.7 M615.4 280.5h.7 M595.1 290.3h.7 M591.3 266.8h.7 M635.0 251.4h.7 M592.8 300.3h.7 M591.3 287.2h.7 M600.0 292.9h.7 M590.2 306.5h.7 M604.2 313.4h.7 M595.3 251.2h.7 M578.6 279.4h.7 M603.1 258.1h.7 M588.2 309.3h.7 M600.5 275.6h.7 M592.2 290.9h.7 M589.4 283.1h.7 M587.5 292.7h.7 M627.4 312.7h.7 M582.2 326.6h.7 M592.1 262.5h.7 M580.0 291.4h.7 M598.3 276.9h.7 M586.1 285.0h.7 M598.9 300.0h.7 M605.3 243.8h.7 M587.9 293.3h.7 M601.4 302.0h.7 M580.1 314.5h.7 M582.7 285.3h.7 M589.1 280.1h.7 M586.3 302.3h.7 M610.2 294.8h.7 M582.0 277.2h.7 M592.6 295.6h.7 M588.3 284.0h.7 M649.6 290.1h.7 M590.5 242.3h.7 M586.6 315.5h.7 M611.5 266.4h.7 M610.2 291.9h.7 M586.2 302.0h.7 M587.8 283.4h.7 M593.8 292.5h.7 M589.3 293.9h.7 M593.4 292.3h.7 M601.7 277.0h.7 M581.2 287.7h.7 M619.7 294.5h.7 M598.2 275.0h.7 M583.2 265.5h.7 M585.1 282.0h.7 M579.7 286.8h.7 M579.4 299.7h.7 M592.9 255.6h.7 M588.4 292.9h.7 M601.5 301.6h.7 M590.1 286.3h.7 M591.1 297.9h.7 M587.1 286.0h.7 M596.5 282.5h.7 M583.7 311.1h.7 M604.0 271.8h.7 M635.3 274.6h.7 M585.6 282.1h.7 M604.8 313.3h.7 M622.6 298.0h.7 M594.8 299.8h.7 M586.3 275.8h.7 M604.7 292.4h.7 M598.4 269.8h.7 M598.7 261.7h.7 M613.1 289.3h.7 M587.6 280.2h.7 M652.6 339.8h.7 M587.1 311.3h.7 M567.9 307.3h.7 M593.8 293.3h.7 M584.8 264.2h.7 M598.4 280.7h.7 M604.1 306.3h.7 M592.2 297.8h.7 M597.1 292.9h.7 M588.7 293.0h.7 M602.7 290.4h.7 M589.2 261.4h.7 M583.9 314.4h.7 M615.0 293.9h.7 M599.6 286.3h.7 M607.9 304.7h.7 M591.0 294.1h.7 M613.7 259.1h.7 M585.0 278.3h.7 M583.1 280.8h.7 M585.8 281.6h.7 M603.6 266.8h.7 M595.5 311.5h.7 M597.5 265.9h.7 M587.9 308.0h.7 M590.9 277.2h.7 M610.1 275.5h.7 M583.5 299.1h.7 M593.8 276.8h.7 M603.3 307.0h.7 M616.4 290.8h.7 M603.2 297.2h.7 M580.3 316.1h.7 M587.4 278.5h.7 M586.0 270.8h.7 M616.7 289.2h.7 M588.2 254.3h.7 M597.0 288.2h.7 M584.2 287.3h.7 M577.3 299.6h.7 M582.6 297.2h.7 M595.5 248.7h.7 M583.5 276.7h.7 M610.2 298.8h.7 M606.8 316.2h.7 M590.7 279.5h.7 M576.9 269.5h.7 M605.4 273.1h.7 M585.6 304.6h.7 M571.8 311.7h.7 M620.8 255.0h.7 M603.4 289.0h.7 M612.7 282.7h.7 M592.1 312.0h.7 M588.0 295.9h.7 M606.8 287.0h.7 M612.0 297.6h.7 M611.0 256.8h.7 M584.2 293.9h.7 M618.2 312.4h.7 M593.8 275.0h.7 M583.7 252.1h.7 M588.9 298.5h.7 M592.6 261.1h.7 M592.3 290.0h.7 M586.7 312.7h.7 M602.7 307.0h.7 M595.6 270.7h.7 M616.3 307.1h.7 M588.1 263.8h.7 M610.7 278.4h.7 M583.1 287.6h.7 M605.1 274.9h.7 M594.2 305.3h.7 M609.3 259.5h.7 M608.6 317.9h.7 M612.9 287.6h.7 M601.3 259.2h.7 M588.1 279.3h.7 M637.3 289.2h.7 M584.8 316.6h.7 M619.4 257.7h.7 M591.5 257.0h.7 M615.4 245.8h.7 M632.6 269.1h.7 M584.2 323.5h.7 M604.8 294.9h.7 M611.6 270.3h.7 M611.9 283.9h.7 M604.5 292.9h.7 M622.7 264.7h.7 M581.2 299.8h.7 M643.4 298.0h.7 M591.8 300.1h.7 M582.8 290.6h.7 M578.7 291.1h.7 M608.7 316.7h.7 M588.9 304.3h.7 M621.8 269.2h.7 M590.8 253.8h.7 M585.6 296.3h.7 M575.7 283.5h.7 M608.7 312.5h.7 M571.6 295.4h.7 M587.9 245.2h.7 M584.4 298.8h.7 M593.1 300.6h.7 M590.6 299.9h.7 M584.8 270.6h.7 M591.8 255.8h.7 M619.5 284.4h.7 M584.7 272.7h.7 M584.9 291.2h.7 M590.0 303.2h.7 M583.3 287.8h.7 M580.2 280.3h.7 M622.0 286.9h.7 M612.2 288.0h.7 M583.8 272.3h.7 M583.5 294.7h.7 M598.3 337.0h.7 M628.5 303.0h.7 M584.8 291.0h.7 M585.4 327.5h.7 M587.0 308.2h.7 M581.6 301.6h.7 M582.6 280.3h.7 M597.0 291.4h.7 M592.7 288.0h.7 M585.8 287.1h.7 M592.6 271.3h.7 M605.3 292.0h.7 M586.7 310.4h.7 M588.2 252.7h.7 M620.0 282.0h.7 M624.2 296.2h.7 M585.5 307.4h.7 M603.1 304.2h.7 M594.3 314.6h.7 M612.9 282.8h.7 M580.2 288.3h.7 M594.8 270.2h.7 M591.5 313.6h.7 M589.1 307.5h.7 M585.1 270.5h.7 M613.1 285.9h.7 M598.0 305.9h.7 M627.6 265.4h.7 M605.6 292.9h.7 M596.4 318.4h.7 M591.1 277.8h.7 M604.0 250.2h.7 M601.1 272.0h.7 M600.2 274.9h.7 M604.0 284.4h.7 M587.0 298.0h.7 M609.1 258.3h.7 M582.0 284.1h.7 M589.9 310.8h.7 M626.7 296.9h.7 M616.4 282.9h.7 M581.4 294.1h.7 M578.0 315.8h.7 M598.7 308.2h.7 M587.6 258.1h.7 M591.4 297.1h.7 M591.3 279.4h.7 M595.0 285.5h.7 M622.6 264.0h.7 M574.1 287.3h.7 M599.0 259.6h.7 M592.8 296.4h.7 M600.4 294.1h.7 M586.6 261.3h.7 M613.4 282.4h.7 M581.3 314.5h.7 M608.8 235.1h.7 M647.6 291.5h.7 M579.2 304.8h.7 M600.2 309.5h.7 M593.5 257.1h.7 M591.7 280.9h.7 M599.4 285.6h.7 M605.1 265.6h.7 M588.4 279.2h.7 M602.0 256.2h.7 M593.3 328.2h.7 M577.6 306.0h.7 M595.3 305.3h.7 M594.4 293.4h.7 M600.9 296.6h.7 M582.7 286.6h.7 M631.6 312.4h.7 M585.8 270.9h.7 M591.6 306.5h.7 M612.5 277.8h.7 M572.6 288.2h.7 M578.8 308.7h.7 M624.4 300.1h.7 M605.7 298.4h.7 M632.0 306.9h.7 M623.6 266.9h.7 M588.6 289.1h.7 M573.9 283.6h.7 M592.9 287.8h.7 M646.4 285.2h.7 M591.4 286.8h.7 M590.1 261.7h.7 M616.8 289.5h.7 M600.8 289.7h.7 M586.4 258.3h.7 M590.6 297.8h.7 M592.0 301.1h.7 M586.3 283.4h.7 M596.3 287.2h.7 M596.9 312.6h.7 M589.5 291.3h.7 M587.5 298.0h.7 M597.9 274.9h.7 M584.4 266.0h.7 M590.6 291.6h.7 M588.8 286.9h.7 M596.0 327.6h.7 M618.0 327.1h.7 M596.0 292.6h.7 M634.3 295.3h.7 M606.9 279.3h.7 M588.4 301.8h.7 M587.9 276.3h.7 M580.2 293.9h.7 M592.2 298.0h.7 M585.6 265.1h.7 M616.4 289.4h.7 M609.8 266.9h.7 M581.9 240.2h.7 M599.4 305.3h.7 M621.1 318.1h.7 M577.3 268.0h.7 M588.5 273.8h.7 M591.2 273.6h.7 M580.4 288.2h.7 M595.7 274.2h.7 M593.8 264.0h.7 M590.2 282.6h.7 M589.1 287.6h.7 M582.1 263.1h.7 M585.9 301.1h.7 M584.8 271.0h.7 M634.9 284.1h.7 M589.7 272.0h.7 M624.1 297.7h.7 M598.6 315.2h.7 M582.7 256.5h.7 M616.5 296.1h.7 M588.6 302.1h.7 M592.2 321.1h.7 M582.1 294.9h.7 M613.7 303.6h.7 M589.9 281.4h.7 M589.3 300.4h.7 M589.5 286.4h.7 M614.7 286.9h.7 M598.2 286.6h.7 M593.2 246.1h.7 M584.9 295.1h.7 M587.5 277.1h.7 M594.1 326.6h.7 M586.4 270.6h.7 M577.5 296.6h.7 M592.5 272.8h.7 M589.5 305.1h.7 M614.6 295.1h.7 M617.4 305.6h.7 M589.0 302.1h.7 M596.3 301.7h.7 M598.9 324.1h.7 M582.1 295.0h.7 M583.6 327.2h.7 M588.5 281.9h.7 M592.8 288.2h.7 M629.1 288.0h.7 M598.3 306.5h.7 M625.0 270.4h.7 M599.4 263.3h.7 M603.4 312.3h.7 M588.5 283.6h.7 M618.2 296.2h.7 M610.0 280.1h.7 M590.3 281.9h.7 M626.2 260.1h.7 M588.5 314.7h.7 M592.4 267.8h.7 M598.0 284.8h.7 M591.9 297.2h.7 M609.7 260.0h.7 M597.2 313.7h.7 M581.4 287.1h.7 M582.9 300.0h.7 M585.7 282.5h.7 M589.4 296.5h.7 M581.7 261.8h.7 M597.0 311.5h.7 M588.6 295.8h.7 M598.6 290.8h.7 M592.8 278.3h.7 M590.9 308.9h.7 M602.4 310.2h.7 M586.7 291.0h.7 M587.4 263.3h.7 M612.0 283.5h.7 M598.1 261.4h.7 M590.8 286.6h.7 M589.6 305.8h.7 M602.6 291.2h.7 M597.8 280.3h.7 M586.8 283.5h.7 M584.1 285.7h.7 M592.0 307.7h.7 M589.2 329.3h.7 M588.5 291.2h.7 M592.7 277.0h.7 M592.4 254.5h.7 M616.5 277.7h.7 M592.7 253.6h.7 M604.9 264.0h.7 M621.6 268.6h.7 M586.6 300.0h.7 M619.9 250.3h.7 M578.4 315.8h.7 M602.2 259.3h.7 M589.2 300.6h.7 M589.6 314.1h.7 M586.8 291.8h.7 M617.3 313.6h.7 M597.9 298.7h.7 M590.0 287.7h.7 M588.0 295.5h.7 M610.7 269.3h.7 M582.9 289.8h.7 M635.1 292.8h.7 M595.6 288.1h.7 M578.5 275.1h.7 M624.7 247.8h.7 M630.8 265.5h.7 M635.9 332.7h.7 M624.5 286.3h.7 M605.3 278.2h.7 M589.1 292.4h.7 M565.8 298.3h.7 M590.2 267.7h.7 M590.5 299.8h.7 M586.3 295.0h.7 M581.3 290.5h.7 M583.0 301.8h.7 M583.9 299.3h.7 M575.8 291.9h.7 M616.0 272.7h.7 M594.0 272.1h.7 M603.0 301.6h.7 M617.1 311.2h.7 M620.3 274.6h.7 M595.3 297.8h.7 M596.8 263.1h.7 M635.5 331.6h.7 M594.1 237.7h.7 M631.3 285.3h.7 M640.6 268.4h.7 M603.9 302.2h.7 M580.5 282.4h.7 M603.2 300.0h.7 M601.0 237.4h.7 M572.3 295.1h.7 M626.5 258.6h.7 M601.1 304.5h.7 M584.5 257.7h.7 M598.5 280.2h.7 M592.1 284.9h.7 M591.9 294.2h.7 M588.3 288.3h.7 M588.0 271.7h.7 M600.2 272.5h.7 M604.0 288.4h.7 M615.6 298.8h.7 M575.6 288.4h.7 M606.7 290.8h.7 M593.7 307.1h.7 M607.0 262.4h.7 M594.8 305.8h.7 M596.0 263.7h.7 M609.2 299.1h.7 M617.0 291.9h.7 M595.2 303.3h.7 M583.4 317.8h.7 M601.2 292.7h.7 M608.8 302.2h.7 M573.9 304.6h.7 M592.0 273.3h.7 M611.8 304.7h.7 M600.8 276.6h.7 M595.0 270.1h.7 M646.0 275.8h.7 M611.2 316.4h.7 M585.5 278.3h.7 M573.6 284.1h.7 M581.5 291.6h.7 M591.0 289.1h.7 M593.6 279.6h.7 M595.1 287.6h.7 M586.7 282.7h.7 M588.0 263.3h.7 M592.7 252.0h.7 M603.9 288.2h.7 M596.2 308.4h.7 M612.9 280.2h.7 M600.1 309.0h.7 M591.5 295.3h.7 M601.6 268.4h.7 M598.7 281.2h.7 M590.6 296.2h.7 M606.5 271.0h.7 M590.7 285.0h.7 M584.7 295.2h.7 M591.1 274.9h.7 M612.6 287.3h.7 M582.9 287.1h.7 M591.3 293.9h.7 M640.2 298.2h.7 M623.1 285.5h.7 M602.6 297.3h.7 M592.0 293.0h.7 M589.0 300.6h.7 M585.1 317.8h.7 M591.8 295.1h.7 M595.8 256.8h.7 M601.7 271.4h.7 M597.0 280.6h.7 M590.6 258.8h.7 M581.6 277.9h.7 M583.7 293.0h.7 M580.8 292.6h.7 M604.3 274.1h.7 M584.6 282.0h.7 M609.3 312.4h.7 M638.1 290.4h.7 M605.8 292.2h.7 M592.7 267.7h.7 M589.8 307.7h.7 M621.8 276.9h.7 M578.9 320.7h.7 M593.4 296.6h.7 M591.4 253.1h.7 M599.3 269.7h.7 M590.4 276.5h.7 M590.6 329.3h.7 M624.5 250.2h.7 M579.6 278.9h.7 M587.1 302.0h.7 M625.7 274.4h.7 M604.7 284.8h.7 M575.8 308.7h.7 M629.5 272.6h.7 M606.0 278.7h.7 M592.0 279.8h.7 M591.7 289.7h.7 M587.6 293.6h.7 M581.7 302.7h.7 M584.6 252.0h.7 M610.2 282.1h.7 M588.3 304.3h.7 M592.6 321.7h.7 M601.7 260.5h.7 M588.5 275.6h.7 M590.4 317.3h.7 M650.0 317.8h.7 M602.2 298.2h.7 M596.2 245.1h.7 M622.0 322.4h.7 M588.4 288.4h.7 M586.7 284.9h.7 M585.4 266.5h.7 M618.2 250.3h.7 M614.4 266.2h.7 M590.7 249.0h.7 M606.4 269.0h.7 M645.3 270.4h.7 M597.9 300.1h.7 M584.5 272.5h.7 M583.7 298.3h.7 M599.0 306.1h.7 M580.5 270.5h.7 M591.9 280.0h.7 M599.3 307.9h.7 M595.5 273.1h.7 M592.5 274.6h.7 M587.2 320.3h.7 M607.0 319.7h.7 M591.1 287.6h.7 M582.0 293.0h.7 M608.0 300.6h.7 M582.8 290.8h.7 M612.1 279.6h.7 M607.6 278.9h.7 M592.8 277.4h.7 M580.1 272.3h.7 M596.3 283.2h.7 M592.8 277.4h.7 M611.3 285.4h.7 M601.0 279.5h.7 M620.2 286.9h.7 M601.9 326.1h.7 M601.8 257.9h.7 M587.1 294.4h.7 M581.5 259.7h.7 M591.9 257.6h.7 M615.7 296.2h.7 M590.2 309.3h.7 M587.0 265.4h.7 M611.8 289.3h.7 M590.9 306.4h.7 M591.7 299.8h.7 M597.4 308.5h.7 M604.4 279.6h.7 M624.5 281.8h.7 M629.4 263.7h.7 M593.9 244.6h.7 M603.8 311.5h.7 M589.5 296.9h.7 M591.0 313.2h.7 M599.9 294.9h.7 M615.9 258.7h.7 M607.4 291.2h.7 M620.1 289.4h.7 M605.6 287.9h.7 M584.4 278.9h.7 M591.4 262.6h.7 M592.5 279.6h.7 M631.2 284.1h.7 M595.5 290.5h.7 M607.5 257.0h.7 M577.9 315.7h.7 M585.7 271.3h.7 M617.5 294.0h.7 M586.0 301.5h.7 M583.2 316.4h.7 M590.2 294.6h.7 M592.9 321.3h.7 M584.7 287.0h.7 M638.0 248.5h.7 M588.7 293.6h.7 M591.1 296.5h.7 M617.3 266.5h.7 M587.3 311.2h.7 M633.9 236.0h.7 M604.3 305.7h.7 M587.1 271.7h.7 M583.2 285.0h.7 M583.1 300.9h.7 M587.0 297.7h.7 M579.5 303.9h.7 M607.0 304.9h.7 M598.6 327.7h.7 M613.3 289.8h.7 M626.8 281.9h.7 M596.2 316.6h.7 M589.0 288.9h.7 M598.2 292.1h.7 M591.0 306.0h.7 M638.4 281.3h.7" stroke="#7C3490" stroke-width="0.90" stroke-linecap="square" fill="none" opacity="0.85"/>
</g>
<path d="M449,281C449.25,277.17 450.1,271.57 451.5,268C452.9,264.43 455.15,261.5 457.4,259.6C459.65,257.7 462.43,257.2 465,256.6C467.57,256 469.97,256.07 472.8,256C475.63,255.93 478.88,255.93 482,256.2C485.12,256.47 488.67,256.47 491.5,257.6C494.33,258.73 496.63,260.53 499,263C501.37,265.47 504.22,270.28 505.7,272.4C507.18,274.52 508.08,273.88 507.9,275.7C507.72,277.52 506.43,280.57 504.6,283.3C502.77,286.03 500,288.82 496.9,292.1C493.8,295.38 490.02,300.08 486,303C481.98,305.92 477.18,308.68 472.8,309.6C468.42,310.52 463,309.78 459.7,308.5C456.4,307.22 454.62,304.82 453,301.9C451.38,298.98 450.67,294.48 450,291C449.33,287.52 448.75,284.83 449,281Z" fill="#C4626C" stroke="#3a2a30" stroke-width="0.4" stroke-opacity="0.8"/>
<path d="M450.41,282.75C450.37,281 450.36,279.23 450.59,277.46C450.81,275.7 451.17,273.89 451.75,272.16C452.34,270.43 453.12,268.68 454.11,267.09C455.1,265.49 456.22,263.75 457.69,262.61C459.16,261.48 461.13,260.79 462.93,260.27C464.72,259.76 466.65,259.69 468.45,259.54C470.26,259.38 471.99,259.31 473.75,259.35C475.51,259.4 477.24,259.54 478.98,259.82C480.72,260.11 482.6,260.34 484.19,261.07C485.78,261.8 487.22,263.03 488.54,264.21C489.86,265.38 491.08,266.7 492.12,268.1C493.16,269.5 494.02,271.05 494.79,272.62C495.56,274.18 496.74,275.81 496.75,277.5C496.77,279.19 495.57,281.16 494.89,282.75C494.21,284.34 493.52,285.78 492.66,287.07C491.8,288.35 490.58,289.33 489.73,290.44C488.88,291.56 488.35,292.69 487.58,293.78C486.81,294.87 486.05,296.01 485.1,296.98C484.15,297.95 483.02,298.74 481.87,299.61C480.72,300.47 479.53,301.32 478.18,302.16C476.83,303.01 475.37,304.04 473.75,304.68C472.13,305.32 470.28,305.86 468.44,306.03C466.6,306.19 464.55,306.14 462.71,305.68C460.87,305.22 458.91,304.4 457.4,303.25C455.9,302.1 454.61,300.41 453.68,298.75C452.75,297.1 452.27,295.12 451.8,293.32C451.33,291.52 451.09,289.74 450.86,287.97C450.63,286.21 450.46,284.5 450.41,282.75Z" fill="#AC5670" stroke="#3a2a30" stroke-width="0.4" stroke-opacity="0.8"/>
<path d="M451.43,283.5C451.4,281.96 451.42,280.4 451.62,278.85C451.82,277.3 452.13,275.72 452.63,274.21C453.13,272.7 453.79,271.18 454.62,269.8C455.45,268.42 456.39,266.93 457.6,265.94C458.8,264.94 460.39,264.31 461.86,263.83C463.32,263.36 464.89,263.24 466.37,263.09C467.86,262.93 469.3,262.85 470.75,262.89C472.2,262.92 473.64,263.05 475.08,263.31C476.51,263.57 478.05,263.81 479.36,264.46C480.68,265.1 481.87,266.16 482.97,267.19C484.06,268.21 485.08,269.37 485.94,270.6C486.81,271.83 487.53,273.19 488.16,274.57C488.8,275.95 489.72,277.39 489.76,278.88C489.81,280.37 488.95,282.08 488.45,283.5C487.94,284.92 487.42,286.22 486.75,287.39C486.09,288.56 485.13,289.49 484.44,290.52C483.74,291.55 483.27,292.58 482.6,293.56C481.93,294.55 481.26,295.57 480.44,296.43C479.61,297.3 478.64,298.01 477.65,298.76C476.66,299.51 475.64,300.24 474.49,300.94C473.34,301.64 472.1,302.46 470.75,302.96C469.4,303.47 467.87,303.87 466.36,303.96C464.85,304.06 463.19,303.96 461.7,303.52C460.2,303.09 458.62,302.36 457.38,301.35C456.15,300.34 455.09,298.89 454.31,297.46C453.52,296.03 453.09,294.33 452.67,292.77C452.26,291.21 452.03,289.65 451.82,288.1C451.61,286.56 451.47,285.04 451.43,283.5Z" fill="#954D75" stroke="#3a2a30" stroke-width="0.4" stroke-opacity="0.8"/>
<path d="M452.25,284.3C452.23,282.94 452.26,281.56 452.43,280.2C452.6,278.84 452.88,277.46 453.29,276.14C453.71,274.82 454.25,273.5 454.92,272.31C455.59,271.11 456.36,269.84 457.33,268.96C458.29,268.09 459.53,267.51 460.69,267.07C461.85,266.63 463.1,266.48 464.29,266.32C465.47,266.16 466.63,266.08 467.8,266.11C468.97,266.14 470.13,266.26 471.28,266.5C472.43,266.74 473.65,266.98 474.71,267.55C475.76,268.12 476.73,269.03 477.62,269.93C478.5,270.82 479.32,271.84 480.02,272.92C480.72,274 481.3,275.2 481.81,276.42C482.32,277.64 483.02,278.91 483.09,280.23C483.15,281.54 482.56,283.04 482.21,284.3C481.85,285.56 481.47,286.74 480.97,287.81C480.46,288.88 479.74,289.76 479.19,290.7C478.64,291.65 478.22,292.59 477.66,293.49C477.11,294.38 476.53,295.29 475.83,296.06C475.14,296.83 474.33,297.48 473.5,298.13C472.68,298.78 471.81,299.4 470.86,299.98C469.91,300.55 468.9,301.21 467.8,301.6C466.7,301.99 465.48,302.28 464.28,302.32C463.08,302.35 461.76,302.22 460.58,301.81C459.4,301.4 458.16,300.74 457.18,299.86C456.2,298.97 455.34,297.73 454.7,296.5C454.06,295.26 453.67,293.8 453.32,292.44C452.96,291.09 452.75,289.72 452.57,288.36C452.4,287 452.28,285.66 452.25,284.3Z" fill="#7E4779" stroke="#3a2a30" stroke-width="0.4" stroke-opacity="0.8"/>
<path d="M453.47,284.05C453.45,282.81 453.49,281.55 453.64,280.31C453.8,279.08 454.04,277.82 454.41,276.63C454.77,275.44 455.24,274.25 455.82,273.18C456.39,272.1 457.05,270.98 457.86,270.18C458.67,269.39 459.7,268.83 460.67,268.41C461.64,267.99 462.68,267.82 463.68,267.66C464.67,267.49 465.66,267.41 466.65,267.43C467.64,267.45 468.63,267.57 469.6,267.79C470.57,268.02 471.6,268.27 472.49,268.79C473.38,269.32 474.21,270.13 474.96,270.94C475.71,271.75 476.41,272.67 477,273.66C477.6,274.64 478.1,275.74 478.53,276.85C478.97,277.96 479.52,279.13 479.6,280.33C479.68,281.53 479.26,282.88 479,284.05C478.75,285.22 478.45,286.32 478.05,287.33C477.66,288.33 477.08,289.2 476.62,290.1C476.16,290.99 475.79,291.89 475.29,292.72C474.8,293.56 474.27,294.4 473.66,295.12C473.05,295.83 472.34,296.43 471.61,297.02C470.89,297.61 470.12,298.15 469.3,298.64C468.47,299.13 467.59,299.67 466.65,299.97C465.71,300.28 464.68,300.49 463.67,300.47C462.66,300.46 461.57,300.3 460.58,299.9C459.6,299.5 458.57,298.89 457.75,298.09C456.93,297.29 456.21,296.19 455.66,295.08C455.1,293.98 454.74,292.68 454.43,291.46C454.11,290.24 453.91,288.99 453.75,287.76C453.59,286.52 453.48,285.29 453.47,284.05Z" fill="#67457E" stroke="#3a2a30" stroke-width="0.4" stroke-opacity="0.8"/>
<path d="M454.68,283.65C454.67,282.55 454.71,281.44 454.84,280.35C454.98,279.26 455.19,278.16 455.5,277.12C455.8,276.08 456.2,275.04 456.68,274.11C457.16,273.17 457.71,272.21 458.36,271.51C459.02,270.81 459.84,270.3 460.62,269.92C461.41,269.53 462.25,269.34 463.06,269.18C463.88,269.01 464.69,268.93 465.5,268.95C466.31,268.97 467.12,269.07 467.92,269.28C468.71,269.48 469.55,269.73 470.28,270.19C471.01,270.66 471.69,271.36 472.31,272.07C472.93,272.78 473.5,273.59 473.99,274.46C474.48,275.33 474.9,276.29 475.25,277.28C475.61,278.26 476.03,279.3 476.12,280.36C476.2,281.43 475.93,282.61 475.76,283.65C475.58,284.69 475.36,285.69 475.06,286.61C474.76,287.53 474.32,288.34 473.95,289.17C473.57,290 473.24,290.81 472.82,291.57C472.4,292.33 471.95,293.08 471.42,293.72C470.9,294.36 470.3,294.91 469.68,295.42C469.06,295.93 468.41,296.39 467.71,296.79C467.02,297.2 466.28,297.61 465.5,297.84C464.72,298.06 463.88,298.2 463.06,298.15C462.24,298.1 461.36,297.91 460.57,297.54C459.77,297.17 458.96,296.62 458.29,295.92C457.62,295.21 457.03,294.27 456.57,293.31C456.11,292.35 455.79,291.24 455.51,290.17C455.24,289.11 455.05,288.02 454.91,286.93C454.77,285.84 454.69,284.75 454.68,283.65Z" fill="#524B86" stroke="#3a2a30" stroke-width="0.4" stroke-opacity="0.8"/>
<path d="M455.48,283.65C455.48,282.69 455.52,281.71 455.64,280.76C455.77,279.81 455.96,278.85 456.23,277.95C456.5,277.05 456.85,276.16 457.26,275.35C457.67,274.55 458.15,273.73 458.71,273.12C459.26,272.51 459.95,272.05 460.61,271.7C461.27,271.34 461.98,271.14 462.67,270.99C463.36,270.83 464.06,270.75 464.75,270.76C465.44,270.78 466.14,270.87 466.82,271.06C467.5,271.25 468.2,271.48 468.83,271.89C469.45,272.3 470.04,272.9 470.57,273.51C471.1,274.13 471.59,274.84 472.02,275.6C472.44,276.36 472.8,277.2 473.1,278.06C473.4,278.93 473.74,279.84 473.83,280.77C473.92,281.7 473.75,282.73 473.63,283.65C473.51,284.57 473.34,285.47 473.1,286.3C472.87,287.13 472.52,287.89 472.21,288.64C471.89,289.39 471.59,290.13 471.21,290.81C470.84,291.49 470.43,292.16 469.96,292.73C469.49,293.3 468.96,293.78 468.42,294.22C467.87,294.66 467.29,295.05 466.68,295.38C466.07,295.7 465.42,296.02 464.75,296.18C464.08,296.33 463.36,296.4 462.67,296.33C461.97,296.25 461.24,296.06 460.57,295.71C459.9,295.37 459.22,294.88 458.66,294.27C458.09,293.65 457.59,292.85 457.18,292.03C456.78,291.21 456.49,290.26 456.24,289.34C455.99,288.43 455.82,287.47 455.69,286.52C455.57,285.57 455.49,284.61 455.48,283.65Z" fill="#3E5E8C" stroke="#3a2a30" stroke-width="0.4" stroke-opacity="0.8"/>
<path d="M456.39,283.7C456.38,282.87 456.43,282.03 456.54,281.21C456.65,280.4 456.83,279.57 457.06,278.8C457.3,278.03 457.6,277.28 457.96,276.59C458.31,275.91 458.73,275.23 459.2,274.71C459.67,274.19 460.23,273.78 460.79,273.46C461.34,273.14 461.94,272.94 462.53,272.79C463.11,272.64 463.71,272.57 464.3,272.58C464.89,272.58 465.49,272.67 466.06,272.84C466.64,273 467.24,273.23 467.77,273.58C468.3,273.94 468.8,274.43 469.26,274.96C469.71,275.49 470.14,276.1 470.5,276.75C470.86,277.41 471.17,278.13 471.43,278.88C471.69,279.62 471.95,280.41 472.04,281.22C472.13,282.02 472.04,282.9 471.96,283.7C471.88,284.5 471.76,285.29 471.58,286.03C471.39,286.77 471.12,287.46 470.85,288.14C470.59,288.81 470.32,289.47 469.98,290.07C469.65,290.67 469.28,291.25 468.87,291.75C468.46,292.25 467.99,292.67 467.5,293.05C467.02,293.43 466.51,293.75 465.97,294C465.44,294.26 464.87,294.49 464.3,294.59C463.73,294.69 463.12,294.71 462.53,294.62C461.94,294.52 461.32,294.33 460.76,294.02C460.2,293.7 459.64,293.27 459.16,292.75C458.69,292.22 458.26,291.55 457.91,290.86C457.56,290.17 457.29,289.37 457.07,288.59C456.85,287.81 456.69,286.99 456.57,286.18C456.46,285.36 456.4,284.53 456.39,283.7Z" fill="#2F788C" stroke="#3a2a30" stroke-width="0.4" stroke-opacity="0.8"/>
<path d="M457.59,283.95C457.59,283.28 457.63,282.59 457.73,281.93C457.83,281.26 457.97,280.6 458.17,279.98C458.37,279.36 458.62,278.75 458.91,278.21C459.2,277.66 459.54,277.13 459.91,276.71C460.29,276.28 460.74,275.93 461.18,275.66C461.62,275.39 462.1,275.21 462.57,275.08C463.04,274.95 463.52,274.88 464,274.89C464.48,274.89 464.96,274.96 465.43,275.1C465.89,275.25 466.37,275.44 466.8,275.73C467.23,276.02 467.64,276.42 468.01,276.84C468.38,277.27 468.72,277.76 469.02,278.29C469.31,278.82 469.56,279.41 469.77,280.02C469.98,280.63 470.18,281.27 470.26,281.93C470.34,282.58 470.31,283.29 470.27,283.95C470.23,284.61 470.14,285.27 470.01,285.89C469.88,286.51 469.67,287.1 469.46,287.67C469.25,288.24 469.02,288.79 468.74,289.29C468.46,289.8 468.14,290.27 467.8,290.68C467.45,291.09 467.06,291.45 466.66,291.75C466.25,292.05 465.82,292.3 465.38,292.49C464.94,292.68 464.47,292.83 464,292.89C463.53,292.94 463.04,292.93 462.57,292.83C462.09,292.72 461.61,292.54 461.16,292.28C460.72,292.01 460.28,291.65 459.9,291.23C459.52,290.8 459.17,290.27 458.88,289.72C458.59,289.17 458.36,288.54 458.17,287.92C457.98,287.29 457.84,286.63 457.75,285.97C457.65,285.31 457.6,284.62 457.59,283.95Z" fill="#27908A" stroke="#3a2a30" stroke-width="0.4" stroke-opacity="0.8"/>
<path d="M458.6,284.3C458.6,283.74 458.64,283.17 458.72,282.63C458.81,282.08 458.94,281.54 459.11,281.03C459.28,280.52 459.5,280.03 459.75,279.58C460,279.14 460.29,278.72 460.61,278.37C460.93,278.02 461.3,277.72 461.67,277.49C462.04,277.26 462.44,277.08 462.83,276.97C463.23,276.85 463.64,276.79 464.05,276.79C464.46,276.8 464.87,276.86 465.26,276.98C465.66,277.1 466.06,277.28 466.42,277.52C466.79,277.76 467.14,278.07 467.46,278.42C467.77,278.77 468.06,279.18 468.32,279.62C468.57,280.06 468.79,280.54 468.96,281.04C469.14,281.55 469.29,282.09 469.37,282.63C469.45,283.17 469.46,283.75 469.45,284.3C469.43,284.85 469.37,285.41 469.27,285.94C469.16,286.47 469.01,286.98 468.83,287.47C468.65,287.95 468.44,288.43 468.2,288.85C467.95,289.28 467.67,289.68 467.37,290.02C467.06,290.37 466.72,290.67 466.36,290.91C466.01,291.16 465.63,291.36 465.24,291.5C464.86,291.64 464.45,291.73 464.05,291.75C463.65,291.78 463.23,291.74 462.83,291.63C462.44,291.53 462.03,291.36 461.66,291.13C461.29,290.9 460.92,290.6 460.6,290.25C460.28,289.9 459.99,289.48 459.74,289.03C459.49,288.58 459.28,288.08 459.11,287.57C458.95,287.06 458.82,286.52 458.73,285.97C458.64,285.43 458.6,284.86 458.6,284.3Z" fill="#2BA47E" stroke="#3a2a30" stroke-width="0.4" stroke-opacity="0.8"/>
<path d="M459.6,284.7C459.6,284.25 459.64,283.8 459.71,283.36C459.79,282.93 459.9,282.5 460.05,282.1C460.2,281.7 460.38,281.31 460.59,280.96C460.8,280.61 461.05,280.29 461.31,280.01C461.58,279.73 461.87,279.49 462.18,279.29C462.48,279.1 462.81,278.95 463.14,278.85C463.47,278.75 463.81,278.7 464.15,278.7C464.49,278.7 464.83,278.75 465.16,278.85C465.49,278.95 465.82,279.1 466.12,279.29C466.43,279.49 466.72,279.73 466.99,280.01C467.25,280.29 467.5,280.61 467.71,280.96C467.92,281.31 468.1,281.7 468.25,282.1C468.4,282.5 468.51,282.93 468.59,283.36C468.66,283.8 468.7,284.25 468.7,284.7C468.7,285.15 468.66,285.6 468.59,286.04C468.51,286.47 468.4,286.9 468.25,287.3C468.1,287.7 467.92,288.09 467.71,288.44C467.5,288.79 467.25,289.11 466.99,289.39C466.72,289.67 466.43,289.91 466.12,290.11C465.82,290.3 465.49,290.45 465.16,290.55C464.83,290.65 464.49,290.7 464.15,290.7C463.81,290.7 463.47,290.65 463.14,290.55C462.81,290.45 462.48,290.3 462.18,290.11C461.87,289.91 461.58,289.67 461.31,289.39C461.05,289.11 460.8,288.79 460.59,288.44C460.38,288.09 460.2,287.7 460.05,287.3C459.9,286.9 459.79,286.47 459.71,286.04C459.64,285.6 459.6,285.15 459.6,284.7Z" fill="#3DB36A" stroke="#3a2a30" stroke-width="0.4" stroke-opacity="0.8"/>
<path d="M465.3,284.3C465.3,284.16 465.31,284.01 465.33,283.88C465.35,283.74 465.37,283.6 465.41,283.48C465.44,283.35 465.49,283.23 465.54,283.12C465.59,283.01 465.65,282.9 465.71,282.81C465.78,282.73 465.85,282.65 465.92,282.59C466,282.53 466.08,282.48 466.16,282.45C466.23,282.42 466.32,282.4 466.4,282.4C466.48,282.4 466.57,282.42 466.64,282.45C466.72,282.48 466.8,282.53 466.88,282.59C466.95,282.65 467.02,282.73 467.09,282.81C467.15,282.9 467.21,283.01 467.26,283.12C467.31,283.23 467.36,283.35 467.39,283.48C467.43,283.6 467.45,283.74 467.47,283.88C467.49,284.01 467.5,284.16 467.5,284.3C467.5,284.44 467.49,284.59 467.47,284.72C467.45,284.86 467.43,285 467.39,285.12C467.36,285.25 467.31,285.37 467.26,285.48C467.21,285.59 467.15,285.7 467.09,285.79C467.02,285.87 466.95,285.95 466.88,286.01C466.8,286.07 466.72,286.12 466.64,286.15C466.57,286.18 466.48,286.2 466.4,286.2C466.32,286.2 466.23,286.18 466.16,286.15C466.08,286.12 466,286.07 465.92,286.01C465.85,285.95 465.78,285.87 465.71,285.79C465.65,285.7 465.59,285.59 465.54,285.48C465.49,285.37 465.44,285.25 465.41,285.12C465.37,285 465.35,284.86 465.33,284.72C465.31,284.59 465.3,284.44 465.3,284.3Z" fill="#8FD052" stroke="#3a2a30" stroke-width="0.4" stroke-opacity="0.8"/>
<path d="M574.9,279.7C575.72,275.08 577.17,269.93 579.8,266.8C582.43,263.67 586.58,261.55 590.7,260.9C594.82,260.25 601.03,260.6 604.5,262.9C607.97,265.2 610.33,269.93 611.5,274.7C612.67,279.47 612.33,286.38 611.5,291.5C610.67,296.62 608.98,301.12 606.5,305.4C604.02,309.68 600.22,314.9 596.6,317.2C592.98,319.5 587.93,320.52 584.8,319.2C581.67,317.88 579.45,313.42 577.8,309.3C576.15,305.18 575.38,299.43 574.9,294.5C574.42,289.57 574.08,284.32 574.9,279.7Z" fill="#5A2883" stroke="#2a1a35" stroke-width="0.4" stroke-opacity="0.8" fill-opacity="0.55"/>
<path d="M575.16,292.4C575.1,290.5 575.08,288.52 575.25,286.62C575.42,284.71 575.74,282.77 576.18,280.97C576.62,279.17 577.21,277.39 577.91,275.84C578.61,274.29 579.45,272.8 580.37,271.66C581.29,270.53 582.39,269.7 583.45,269.04C584.51,268.38 585.62,268.06 586.72,267.7C587.81,267.33 588.89,267.01 590,266.85C591.11,266.7 592.27,266.57 593.41,266.77C594.54,266.98 595.73,267.37 596.83,268.06C597.92,268.74 599.03,269.7 599.99,270.89C600.95,272.07 601.84,273.57 602.58,275.17C603.33,276.76 604.06,278.55 604.46,280.44C604.86,282.34 604.94,284.54 604.97,286.53C605.01,288.52 604.87,290.52 604.67,292.4C604.47,294.28 604.16,296.1 603.76,297.79C603.36,299.48 602.82,301.07 602.26,302.54C601.69,304 601,305.25 600.35,306.57C599.7,307.89 599.12,309.29 598.38,310.44C597.64,311.59 596.8,312.64 595.92,313.5C595.03,314.35 594.06,314.94 593.08,315.56C592.09,316.19 591.07,316.87 590,317.23C588.93,317.6 587.77,317.83 586.63,317.76C585.49,317.69 584.22,317.53 583.16,316.79C582.1,316.05 581.15,314.63 580.29,313.31C579.42,312 578.61,310.5 577.96,308.88C577.32,307.27 576.81,305.44 576.42,303.63C576.03,301.83 575.83,299.91 575.62,298.04C575.41,296.17 575.22,294.3 575.16,292.4Z" fill="#4A2D80" stroke="#2a1a35" stroke-width="0.4" stroke-opacity="0.8" fill-opacity="0.85"/>
<path d="M576.24,293.2C576.19,291.43 576.19,289.59 576.35,287.82C576.51,286.05 576.8,284.25 577.2,282.59C577.6,280.92 578.12,279.28 578.74,277.84C579.35,276.4 580.09,275.02 580.91,273.96C581.72,272.9 582.67,272.1 583.6,271.46C584.53,270.82 585.52,270.49 586.49,270.14C587.45,269.79 588.41,269.5 589.4,269.38C590.39,269.25 591.41,269.18 592.41,269.4C593.41,269.61 594.45,270.01 595.41,270.67C596.37,271.33 597.33,272.23 598.17,273.34C599.01,274.44 599.79,275.83 600.44,277.3C601.09,278.77 601.73,280.42 602.09,282.16C602.45,283.9 602.56,285.91 602.62,287.75C602.67,289.59 602.58,291.45 602.43,293.2C602.27,294.95 602.03,296.67 601.69,298.27C601.35,299.86 600.9,301.38 600.4,302.77C599.91,304.17 599.31,305.39 598.73,306.64C598.15,307.89 597.6,309.19 596.94,310.27C596.27,311.35 595.51,312.32 594.71,313.12C593.91,313.91 593.04,314.46 592.16,315.02C591.27,315.58 590.36,316.15 589.4,316.45C588.44,316.74 587.42,316.9 586.42,316.79C585.42,316.68 584.31,316.47 583.38,315.76C582.45,315.06 581.61,313.79 580.84,312.58C580.08,311.37 579.36,309.99 578.78,308.5C578.2,307.01 577.74,305.33 577.38,303.65C577.02,301.98 576.83,300.2 576.63,298.46C576.44,296.72 576.29,294.97 576.24,293.2Z" fill="#404A8A" stroke="#2a1a35" stroke-width="0.4" stroke-opacity="0.8"/>
<path d="M577.31,294.05C577.27,292.4 577.29,290.7 577.44,289.06C577.59,287.42 577.85,285.76 578.2,284.22C578.55,282.68 579.01,281.17 579.55,279.84C580.09,278.51 580.74,277.24 581.44,276.24C582.14,275.25 582.97,274.48 583.78,273.87C584.59,273.26 585.45,272.91 586.29,272.58C587.14,272.25 587.99,271.99 588.85,271.89C589.71,271.79 590.61,271.77 591.48,271.99C592.35,272.22 593.25,272.62 594.08,273.25C594.91,273.88 595.74,274.73 596.46,275.76C597.19,276.78 597.86,278.06 598.43,279.41C599,280.77 599.54,282.29 599.86,283.89C600.19,285.49 600.32,287.31 600.39,289C600.46,290.7 600.41,292.42 600.3,294.05C600.18,295.68 599.98,297.29 599.7,298.8C599.42,300.3 599.04,301.74 598.62,303.07C598.2,304.39 597.68,305.58 597.17,306.76C596.65,307.94 596.15,309.15 595.55,310.15C594.95,311.16 594.27,312.07 593.56,312.8C592.85,313.54 592.08,314.06 591.29,314.55C590.51,315.05 589.69,315.53 588.85,315.76C588.01,315.99 587.12,316.09 586.24,315.94C585.37,315.79 584.42,315.54 583.62,314.88C582.81,314.21 582.07,313.08 581.39,311.97C580.72,310.86 580.09,309.58 579.58,308.21C579.07,306.85 578.65,305.3 578.33,303.76C578.01,302.21 577.82,300.57 577.65,298.95C577.47,297.33 577.34,295.7 577.31,294.05Z" fill="#34608C" stroke="#2a1a35" stroke-width="0.4" stroke-opacity="0.8"/>
<path d="M578.46,294.8C578.44,293.28 578.47,291.7 578.6,290.19C578.74,288.68 578.97,287.15 579.29,285.74C579.6,284.33 580,282.94 580.48,281.72C580.95,280.49 581.52,279.33 582.13,278.41C582.74,277.48 583.45,276.75 584.16,276.16C584.86,275.58 585.61,275.22 586.35,274.9C587.09,274.59 587.84,274.37 588.6,274.29C589.36,274.22 590.14,274.24 590.9,274.47C591.66,274.7 592.43,275.1 593.15,275.7C593.87,276.29 594.59,277.09 595.22,278.04C595.84,278.99 596.43,280.16 596.92,281.4C597.41,282.64 597.87,284.03 598.17,285.49C598.46,286.95 598.6,288.6 598.68,290.15C598.77,291.7 598.75,293.29 598.67,294.8C598.59,296.31 598.43,297.82 598.2,299.23C597.97,300.63 597.65,301.99 597.29,303.25C596.92,304.5 596.47,305.64 596.02,306.76C595.57,307.87 595.11,308.98 594.57,309.92C594.03,310.85 593.42,311.69 592.79,312.37C592.15,313.04 591.46,313.53 590.77,313.97C590.07,314.4 589.34,314.8 588.6,314.97C587.86,315.14 587.08,315.18 586.32,315.01C585.56,314.83 584.74,314.54 584.04,313.92C583.34,313.3 582.69,312.29 582.1,311.28C581.51,310.26 580.95,309.1 580.5,307.85C580.05,306.59 579.67,305.18 579.38,303.77C579.09,302.35 578.91,300.83 578.75,299.34C578.6,297.85 578.49,296.32 578.46,294.8Z" fill="#2A788C" stroke="#2a1a35" stroke-width="0.4" stroke-opacity="0.8"/>
<path d="M579.71,295.6C579.69,294.2 579.73,292.76 579.85,291.38C579.98,290 580.18,288.61 580.45,287.32C580.72,286.04 581.07,284.78 581.48,283.66C581.88,282.55 582.36,281.49 582.88,280.64C583.4,279.78 584,279.09 584.6,278.53C585.2,277.98 585.84,277.62 586.47,277.33C587.1,277.03 587.75,276.84 588.4,276.79C589.05,276.73 589.72,276.78 590.36,277.02C591.01,277.26 591.66,277.65 592.27,278.21C592.88,278.77 593.48,279.51 594.01,280.38C594.54,281.25 595.03,282.31 595.45,283.44C595.87,284.57 596.26,285.83 596.51,287.15C596.77,288.47 596.92,289.94 597,291.35C597.09,292.76 597.1,294.21 597.04,295.6C596.99,296.99 596.87,298.38 596.69,299.69C596.5,301 596.24,302.27 595.94,303.45C595.63,304.63 595.26,305.71 594.86,306.75C594.47,307.79 594.06,308.81 593.59,309.67C593.12,310.53 592.59,311.3 592.03,311.92C591.48,312.53 590.88,312.99 590.27,313.37C589.67,313.74 589.04,314.06 588.4,314.18C587.76,314.3 587.09,314.29 586.45,314.09C585.8,313.9 585.12,313.58 584.52,313C583.93,312.43 583.37,311.54 582.86,310.62C582.36,309.71 581.88,308.65 581.49,307.51C581.1,306.38 580.77,305.1 580.52,303.81C580.26,302.52 580.09,301.14 579.95,299.77C579.82,298.4 579.73,297 579.71,295.6Z" fill="#23918A" stroke="#2a1a35" stroke-width="0.4" stroke-opacity="0.8"/>
<path d="M580.95,296.4C580.94,295.13 580.98,293.82 581.09,292.57C581.2,291.32 581.37,290.06 581.6,288.89C581.83,287.73 582.12,286.59 582.46,285.59C582.79,284.58 583.19,283.63 583.62,282.85C584.05,282.06 584.54,281.41 585.04,280.89C585.53,280.37 586.06,280.01 586.59,279.74C587.12,279.47 587.66,279.3 588.2,279.27C588.74,279.23 589.3,279.31 589.83,279.55C590.36,279.78 590.9,280.16 591.4,280.69C591.91,281.21 592.4,281.89 592.83,282.68C593.27,283.48 593.67,284.43 594.02,285.45C594.36,286.46 594.68,287.6 594.9,288.78C595.12,289.97 595.26,291.28 595.35,292.55C595.43,293.82 595.46,295.13 595.43,296.4C595.39,297.67 595.31,298.95 595.16,300.15C595.02,301.36 594.81,302.54 594.57,303.64C594.32,304.73 594.01,305.76 593.68,306.72C593.35,307.68 592.99,308.61 592.59,309.39C592.19,310.18 591.74,310.88 591.27,311.44C590.8,312 590.29,312.42 589.78,312.74C589.27,313.07 588.73,313.31 588.2,313.39C587.67,313.46 587.11,313.41 586.58,313.2C586.04,312.99 585.49,312.66 584.99,312.12C584.5,311.59 584.03,310.81 583.61,309.99C583.19,309.17 582.79,308.22 582.47,307.2C582.14,306.18 581.86,305.03 581.63,303.86C581.41,302.7 581.26,301.45 581.14,300.2C581.03,298.96 580.96,297.67 580.95,296.4Z" fill="#2AA880" stroke="#2a1a35" stroke-width="0.4" stroke-opacity="0.8"/>
<path d="M582.58,297.6C582.57,296.48 582.61,295.33 582.7,294.24C582.79,293.14 582.93,292.05 583.11,291.03C583.29,290.01 583.51,289.03 583.77,288.15C584.03,287.26 584.34,286.44 584.67,285.75C585,285.05 585.37,284.46 585.75,283.99C586.13,283.52 586.54,283.18 586.95,282.93C587.36,282.69 587.78,282.55 588.2,282.54C588.62,282.52 589.05,282.62 589.46,282.84C589.87,283.07 590.28,283.42 590.66,283.9C591.05,284.37 591.42,284.97 591.75,285.67C592.08,286.37 592.39,287.19 592.66,288.08C592.92,288.96 593.16,289.95 593.33,290.98C593.51,292 593.63,293.13 593.71,294.23C593.79,295.33 593.82,296.48 593.81,297.6C593.8,298.72 593.74,299.85 593.64,300.92C593.53,302 593.38,303.06 593.19,304.04C593.01,305.02 592.77,305.96 592.52,306.82C592.26,307.68 591.97,308.49 591.65,309.19C591.33,309.88 590.97,310.49 590.61,310.98C590.24,311.47 589.84,311.85 589.44,312.11C589.04,312.38 588.62,312.56 588.2,312.59C587.78,312.63 587.36,312.55 586.94,312.33C586.53,312.12 586.12,311.78 585.74,311.31C585.36,310.83 584.99,310.18 584.67,309.47C584.34,308.76 584.03,307.93 583.78,307.05C583.52,306.16 583.3,305.17 583.12,304.15C582.95,303.13 582.82,302.04 582.72,300.95C582.63,299.86 582.58,298.72 582.58,297.6Z" fill="#5CC060" stroke="#2a1a35" stroke-width="0.4" stroke-opacity="0.8"/>
<path d="M584.3,298.35C584.3,297.41 584.33,296.45 584.39,295.53C584.46,294.62 584.56,293.7 584.69,292.85C584.81,292.01 584.97,291.18 585.16,290.45C585.34,289.71 585.55,289.03 585.78,288.44C586.01,287.86 586.27,287.35 586.53,286.94C586.8,286.54 587.08,286.22 587.37,286.01C587.66,285.8 587.96,285.69 588.25,285.69C588.54,285.69 588.84,285.79 589.13,286C589.42,286.21 589.7,286.52 589.97,286.93C590.23,287.33 590.49,287.85 590.72,288.43C590.95,289.02 591.16,289.71 591.35,290.44C591.53,291.18 591.69,292 591.82,292.85C591.95,293.69 592.04,294.61 592.11,295.53C592.17,296.45 592.2,297.41 592.2,298.35C592.2,299.29 592.16,300.25 592.1,301.16C592.03,302.08 591.93,302.99 591.8,303.83C591.68,304.67 591.51,305.49 591.33,306.22C591.15,306.95 590.94,307.64 590.71,308.22C590.48,308.81 590.22,309.32 589.96,309.73C589.7,310.14 589.41,310.46 589.13,310.67C588.84,310.88 588.54,310.99 588.25,311C587.96,311 587.66,310.9 587.37,310.7C587.08,310.49 586.8,310.18 586.53,309.77C586.27,309.37 586.01,308.85 585.78,308.26C585.55,307.67 585.34,306.99 585.16,306.25C584.97,305.51 584.81,304.69 584.69,303.84C584.56,303 584.46,302.08 584.4,301.17C584.33,300.25 584.3,299.29 584.3,298.35Z" fill="#A8D838" stroke="#2a1a35" stroke-width="0.4" stroke-opacity="0.8"/>
<path d="M585.9,299.2C585.9,298.47 585.92,297.73 585.96,297.02C585.99,296.31 586.05,295.6 586.12,294.95C586.19,294.29 586.28,293.66 586.38,293.09C586.48,292.52 586.6,291.99 586.73,291.54C586.86,291.08 587,290.69 587.15,290.37C587.29,290.06 587.45,289.81 587.61,289.65C587.77,289.48 587.94,289.4 588.1,289.4C588.26,289.4 588.43,289.48 588.59,289.65C588.75,289.81 588.91,290.06 589.05,290.37C589.2,290.69 589.34,291.08 589.47,291.54C589.6,291.99 589.72,292.52 589.82,293.09C589.92,293.66 590.01,294.29 590.08,294.95C590.15,295.6 590.21,296.31 590.24,297.02C590.28,297.73 590.3,298.47 590.3,299.2C590.3,299.93 590.28,300.67 590.24,301.38C590.21,302.09 590.15,302.8 590.08,303.45C590.01,304.11 589.92,304.74 589.82,305.31C589.72,305.88 589.6,306.41 589.47,306.86C589.34,307.32 589.2,307.71 589.05,308.03C588.91,308.34 588.75,308.59 588.59,308.75C588.43,308.92 588.26,309 588.1,309C587.94,309 587.77,308.92 587.61,308.75C587.45,308.59 587.29,308.34 587.15,308.03C587,307.71 586.86,307.32 586.73,306.86C586.6,306.41 586.48,305.88 586.38,305.31C586.28,304.74 586.19,304.11 586.12,303.45C586.05,302.8 585.99,302.09 585.96,301.38C585.92,300.67 585.9,299.93 585.9,299.2Z" fill="#D8E020" stroke="#2a1a35" stroke-width="0.4" stroke-opacity="0.8"/>
<line x1="474.5" y1="207" x2="474.5" y2="346.5" stroke="#000" stroke-width="1.6" stroke-dasharray="4.2 3"/>
<line x1="439.9" y1="295.2" x2="559.4" y2="295.2" stroke="#000" stroke-width="1.6" stroke-dasharray="4.2 3"/>
<line x1="596.9" y1="207" x2="596.9" y2="346.5" stroke="#000" stroke-width="1.6" stroke-dasharray="4.2 3"/>
<line x1="563" y1="295.2" x2="681.9" y2="295.2" stroke="#000" stroke-width="1.6" stroke-dasharray="4.2 3"/>
<rect x="439.4" y="205.9" width="120.5" height="141.3" fill="none" stroke="#000" stroke-width="1.7" />
<rect x="562.5" y="205.9" width="119.9" height="141.3" fill="none" stroke="#000" stroke-width="1.7" />
<text x="442.4" y="211.3" font-size="4.3" >Q2 (M1− M2+)</text>
<text x="556.9" y="211.3" font-size="4.3" text-anchor="end" >Q1 (M1+ M2+)</text>
<text x="442.4" y="343.2" font-size="4.3" >Q3 (M1− M2−)</text>
<text x="556.9" y="343.2" font-size="4.3" text-anchor="end" >Q4 (M1+ M2−)</text>
<text x="442.7" y="223" font-size="8.5" font-weight="bold" >49.6</text>
<text x="556.6" y="223" font-size="8.5" font-weight="bold" text-anchor="end" >35.7</text>
<text x="442.7" y="338.4" font-size="8.5" font-weight="bold" >10.3</text>
<text x="556.6" y="338.4" font-size="8.5" font-weight="bold" text-anchor="end" >4.39</text>
<text x="565.5" y="211.3" font-size="4.3" >Q2 (M1− M2+)</text>
<text x="679.4" y="211.3" font-size="4.3" text-anchor="end" >Q1 (M1+ M2+)</text>
<text x="565.5" y="343.2" font-size="4.3" >Q3 (M1− M2−)</text>
<text x="679.4" y="343.2" font-size="4.3" text-anchor="end" >Q4 (M1+ M2−)</text>
<text x="565.8" y="223" font-size="8.5" font-weight="bold" >42.8</text>
<text x="679.1" y="223" font-size="8.5" font-weight="bold" text-anchor="end" >22.7</text>
<text x="565.8" y="338.4" font-size="8.5" font-weight="bold" >27.1</text>
<text x="679.1" y="338.4" font-size="8.5" font-weight="bold" text-anchor="end" >7.38</text>
<text x="436.2" y="223" font-size="8.4" font-weight="bold" text-anchor="end" fill="#2a2a2a" >0.8</text>
<text x="436.2" y="259.8" font-size="8.4" font-weight="bold" text-anchor="end" fill="#2a2a2a" >0.4</text>
<text x="436.2" y="297.9" font-size="8.4" font-weight="bold" text-anchor="end" fill="#2a2a2a" >0.0</text>
<text x="436.2" y="333.9" font-size="8.4" font-weight="bold" text-anchor="end" fill="#2a2a2a" >−0.4</text>
<text x="449" y="358.3" font-size="8.4" font-weight="bold" text-anchor="middle" fill="#2a2a2a" >−0.5</text>
<text x="474.4" y="358.3" font-size="8.4" font-weight="bold" text-anchor="middle" fill="#2a2a2a" >0.0</text>
<text x="499.5" y="358.3" font-size="8.4" font-weight="bold" text-anchor="middle" fill="#2a2a2a" >0.5</text>
<text x="524.5" y="358.3" font-size="8.4" font-weight="bold" text-anchor="middle" fill="#2a2a2a" >1.0</text>
<text x="549.6" y="358.3" font-size="8.4" font-weight="bold" text-anchor="middle" fill="#2a2a2a" >1.5</text>
<text x="571.8" y="358.3" font-size="8.4" font-weight="bold" text-anchor="middle" fill="#2a2a2a" >−0.5</text>
<text x="596.8" y="358.3" font-size="8.4" font-weight="bold" text-anchor="middle" fill="#2a2a2a" >0.0</text>
<text x="621.8" y="358.3" font-size="8.4" font-weight="bold" text-anchor="middle" fill="#2a2a2a" >0.5</text>
<text x="647" y="358.3" font-size="8.4" font-weight="bold" text-anchor="middle" fill="#2a2a2a" >1.0</text>
<text x="672.2" y="358.3" font-size="8.4" font-weight="bold" text-anchor="middle" fill="#2a2a2a" >1.5</text>
<text x="561.2" y="369.3" font-size="8.7" font-weight="bold" text-anchor="middle" >M1 Score</text>
<text x="419.2" y="274.4" font-size="8.7" font-weight="bold" text-anchor="middle" transform="rotate(-90 419.2 274.4)" >M2 Score</text>
<text x="452.2" y="400.5" font-size="17" font-weight="bold" fill="#231815" >G</text>
<text x="530.1" y="410.2" font-size="8.5" font-weight="bold" text-anchor="middle" ><tspan font-style="italic">PRSS22</tspan> High Group</text>
<text x="631.8" y="410.2" font-size="8.5" font-weight="bold" text-anchor="middle" ><tspan font-style="italic">PRSS22</tspan> Low Group</text>
<path d="M530.40,459.60L530.40,421.00A38.6,38.6 0 0 1 568.56,465.44Z" fill="#F6C74B" stroke="#F6C74B" stroke-width="0.3" />
<path d="M530.40,459.60L568.56,465.44A38.6,38.6 0 0 1 553.74,490.35Z" fill="#C8E08A" stroke="#C8E08A" stroke-width="0.3" />
<path d="M530.40,459.60L553.74,490.35A38.6,38.6 0 0 1 544.98,495.34Z" fill="#9DCB3F" stroke="#9DCB3F" stroke-width="0.3" />
<path d="M530.40,459.60L544.98,495.34A38.6,38.6 0 1 1 530.40,421.00Z" fill="#3DAE5F" stroke="#3DAE5F" stroke-width="0.3" />
<path d="M530.40,421.00L530.40,459.60L568.56,465.44" fill="none" stroke="#231815" stroke-width="1.2" stroke-linejoin="round"/>
<circle cx="530.40" cy="459.60" r="38.6" fill="none" stroke="#000" stroke-width="1.3"/>
<path d="M631.70,459.60L631.70,421.00A38.6,38.6 0 0 1 669.80,453.43Z" fill="#F6C74B" stroke="#F6C74B" stroke-width="0.3" />
<path d="M631.70,459.60L669.80,453.43A38.6,38.6 0 0 1 660.52,485.28Z" fill="#C8E08A" stroke="#C8E08A" stroke-width="0.3" />
<path d="M631.70,459.60L660.52,485.28A38.6,38.6 0 0 1 654.61,490.67Z" fill="#9DCB3F" stroke="#9DCB3F" stroke-width="0.3" />
<path d="M631.70,459.60L654.61,490.67A38.6,38.6 0 1 1 631.70,421.00Z" fill="#3DAE5F" stroke="#3DAE5F" stroke-width="0.3" />
<path d="M631.70,421.00L631.70,459.60L669.80,453.43" fill="none" stroke="#231815" stroke-width="1.2" stroke-linejoin="round"/>
<circle cx="631.70" cy="459.60" r="38.6" fill="none" stroke="#000" stroke-width="1.3"/>
<rect x="503.8" y="518.8" width="11" height="5.2" fill="#F6C74B" stroke="#000" stroke-width="1" />
<text x="521.9" y="524.3" font-size="8.4" >Macro-SPP1</text>
<rect x="503.8" y="530.2" width="11" height="5.2" fill="#C8E08A" stroke="#000" stroke-width="1" />
<text x="521.9" y="535.7" font-size="8.4" >Macro-LYVE1</text>
<rect x="590.6" y="518.8" width="11" height="5.2" fill="#9DCB3F" stroke="#000" stroke-width="1" />
<text x="608.7" y="524.3" font-size="8.4" >Macro-ISG15</text>
<rect x="590.6" y="530.2" width="11" height="5.2" fill="#3DAE5F" stroke="#000" stroke-width="1" />
<text x="608.7" y="535.7" font-size="8.4" >Macro-C1QC</text>
<text x="0.5" y="586.3" font-size="17" font-weight="bold" fill="#231815" >H</text>
<text x="116.3" y="595" font-size="10.2" font-weight="bold" text-anchor="middle" >co-cultured M0 macrophage</text>
<line x1="36.2" y1="608.6" x2="36.2" y2="716.8" stroke="#000" stroke-width="1.3" />
<line x1="31.4" y1="609.6" x2="36.2" y2="609.6" stroke="#000" stroke-width="1.3" />
<text x="29.9" y="612.84" font-size="9" font-weight="bold" text-anchor="end" >1.5</text>
<line x1="31.4" y1="645.13" x2="36.2" y2="645.13" stroke="#000" stroke-width="1.3" />
<text x="29.9" y="648.37" font-size="9" font-weight="bold" text-anchor="end" >1.0</text>
<line x1="31.4" y1="680.67" x2="36.2" y2="680.67" stroke="#000" stroke-width="1.3" />
<text x="29.9" y="683.91" font-size="9" font-weight="bold" text-anchor="end" >0.5</text>
<line x1="31.4" y1="716.2" x2="36.2" y2="716.2" stroke="#000" stroke-width="1.3" />
<text x="29.9" y="719.44" font-size="9" font-weight="bold" text-anchor="end" >0.0</text>
<line x1="35.9" y1="716.2" x2="194.2" y2="716.2" stroke="#000" stroke-width="1.3" />
<rect x="41.8" y="645.13" width="9.4" height="71.07" fill="#6DBE45" stroke="#000" stroke-width="1.1" />
<line x1="46.5" y1="643.71" x2="46.5" y2="646.55" stroke="#000" stroke-width="1" />
<line x1="44.3" y1="643.71" x2="48.7" y2="643.71" stroke="#000" stroke-width="1" />
<line x1="44.3" y1="646.55" x2="48.7" y2="646.55" stroke="#000" stroke-width="1" />
<rect x="56.9" y="635.89" width="9.4" height="80.31" fill="#8E2B8E" stroke="#000" stroke-width="1.1" />
<line x1="61.6" y1="623.1" x2="61.6" y2="648.68" stroke="#000" stroke-width="1" />
<line x1="59.4" y1="623.1" x2="63.8" y2="623.1" stroke="#000" stroke-width="1" />
<line x1="59.4" y1="648.68" x2="63.8" y2="648.68" stroke="#000" stroke-width="1" />
<rect x="82.6" y="645.84" width="9.4" height="70.36" fill="#6DBE45" stroke="#000" stroke-width="1.1" />
<line x1="87.3" y1="640.87" x2="87.3" y2="650.1" stroke="#000" stroke-width="1" />
<line x1="85.1" y1="640.87" x2="89.5" y2="640.87" stroke="#000" stroke-width="1" />
<line x1="85.1" y1="650.1" x2="89.5" y2="650.1" stroke="#000" stroke-width="1" />
<rect x="98.1" y="634.47" width="9.4" height="81.73" fill="#8E2B8E" stroke="#000" stroke-width="1.1" />
<line x1="102.8" y1="615.99" x2="102.8" y2="652.95" stroke="#000" stroke-width="1" />
<line x1="100.6" y1="615.99" x2="105" y2="615.99" stroke="#000" stroke-width="1" />
<line x1="100.6" y1="652.95" x2="105" y2="652.95" stroke="#000" stroke-width="1" />
<rect x="124.1" y="643.71" width="9.4" height="72.49" fill="#6DBE45" stroke="#000" stroke-width="1.1" />
<line x1="128.8" y1="623.1" x2="128.8" y2="664.32" stroke="#000" stroke-width="1" />
<line x1="126.6" y1="623.1" x2="131" y2="623.1" stroke="#000" stroke-width="1" />
<line x1="126.6" y1="664.32" x2="131" y2="664.32" stroke="#000" stroke-width="1" />
<rect x="139.6" y="640.16" width="9.4" height="76.04" fill="#8E2B8E" stroke="#000" stroke-width="1.1" />
<line x1="144.3" y1="630.21" x2="144.3" y2="650.1" stroke="#000" stroke-width="1" />
<line x1="142.1" y1="630.21" x2="146.5" y2="630.21" stroke="#000" stroke-width="1" />
<line x1="142.1" y1="650.1" x2="146.5" y2="650.1" stroke="#000" stroke-width="1" />
<rect x="165.8" y="645.13" width="9.4" height="71.07" fill="#6DBE45" stroke="#000" stroke-width="1.1" />
<line x1="170.5" y1="635.89" x2="170.5" y2="654.37" stroke="#000" stroke-width="1" />
<line x1="168.3" y1="635.89" x2="172.7" y2="635.89" stroke="#000" stroke-width="1" />
<line x1="168.3" y1="654.37" x2="172.7" y2="654.37" stroke="#000" stroke-width="1" />
<rect x="181" y="638.02" width="9.4" height="78.18" fill="#8E2B8E" stroke="#000" stroke-width="1.1" />
<line x1="185.7" y1="618.83" x2="185.7" y2="657.21" stroke="#000" stroke-width="1" />
<line x1="183.5" y1="618.83" x2="187.9" y2="618.83" stroke="#000" stroke-width="1" />
<line x1="183.5" y1="657.21" x2="187.9" y2="657.21" stroke="#000" stroke-width="1" />
<circle cx="44.5" cy="645.3" r="1.35" fill="#000"/>
<circle cx="47.5" cy="645.8" r="1.35" fill="#000"/>
<circle cx="46" cy="644.5" r="1.35" fill="#000"/>
<circle cx="59.5" cy="642" r="1.35" fill="#000"/>
<circle cx="64" cy="642.5" r="1.35" fill="#000"/>
<circle cx="61.8" cy="622.8" r="1.35" fill="#000"/>
<circle cx="85" cy="645.5" r="1.35" fill="#000"/>
<circle cx="88.5" cy="645.8" r="1.35" fill="#000"/>
<circle cx="86.8" cy="641.5" r="1.35" fill="#000"/>
<circle cx="100.5" cy="643.5" r="1.35" fill="#000"/>
<circle cx="105.5" cy="642.5" r="1.35" fill="#000"/>
<circle cx="102.8" cy="613.5" r="1.35" fill="#000"/>
<circle cx="128.8" cy="622.5" r="1.35" fill="#000"/>
<circle cx="128.8" cy="666" r="1.35" fill="#000"/>
<circle cx="128.8" cy="648" r="1.35" fill="#000"/>
<circle cx="144.3" cy="630.5" r="1.35" fill="#000"/>
<circle cx="144.3" cy="646.5" r="1.35" fill="#000"/>
<circle cx="144.3" cy="637" r="1.35" fill="#000"/>
<circle cx="170.5" cy="633.5" r="1.35" fill="#000"/>
<circle cx="170.5" cy="643" r="1.35" fill="#000"/>
<circle cx="170.5" cy="652" r="1.35" fill="#000"/>
<circle cx="182.6" cy="625.5" r="1.35" fill="#000"/>
<circle cx="189.2" cy="628.5" r="1.35" fill="#000"/>
<circle cx="186" cy="658" r="1.35" fill="#000"/>
<text x="54" y="731.7" font-size="8.5" font-weight="bold" text-anchor="middle" font-style="italic" >CD40</text>
<text x="95.4" y="731.7" font-size="8.5" font-weight="bold" text-anchor="middle" font-style="italic" >CD80</text>
<text x="137.6" y="731.7" font-size="8.5" font-weight="bold" text-anchor="middle" font-style="italic" >IL-6</text>
<text x="177.6" y="731.7" font-size="8.5" font-weight="bold" text-anchor="middle" font-style="italic" >IL-1β</text>
<line x1="54.3" y1="737.2" x2="179.5" y2="737.2" stroke="#000" stroke-width="1.2" />
<text x="116.3" y="752.9" font-size="10.4" font-weight="bold" text-anchor="middle" >M1 macrophage markers</text>
<text x="11.6" y="663.6" font-size="8.5" font-weight="bold" text-anchor="middle" transform="rotate(-90 11.6 663.6)" >Relative expression</text>
<text x="218.4" y="585.3" font-size="17" font-weight="bold" fill="#231815" >I</text>
<text x="330.2" y="593.6" font-size="10.2" font-weight="bold" text-anchor="middle" >co-cultured M0 macrophage</text>
<line x1="249.1" y1="609.2" x2="249.1" y2="717.2" stroke="#000" stroke-width="1.3" />
<line x1="245.6" y1="609.8" x2="249.1" y2="609.8" stroke="#000" stroke-width="1.3" />
<text x="244.1" y="612.61" font-size="7.8" font-weight="bold" text-anchor="end" >1.5</text>
<line x1="245.6" y1="645.4" x2="249.1" y2="645.4" stroke="#000" stroke-width="1.3" />
<text x="244.1" y="648.21" font-size="7.8" font-weight="bold" text-anchor="end" >1.0</text>
<line x1="245.6" y1="681" x2="249.1" y2="681" stroke="#000" stroke-width="1.3" />
<text x="244.1" y="683.81" font-size="7.8" font-weight="bold" text-anchor="end" >0.5</text>
<line x1="245.6" y1="716.6" x2="249.1" y2="716.6" stroke="#000" stroke-width="1.3" />
<text x="244.1" y="719.41" font-size="7.8" font-weight="bold" text-anchor="end" >0.0</text>
<line x1="248.5" y1="716.6" x2="410.2" y2="716.6" stroke="#000" stroke-width="1.3" />
<rect x="255.4" y="645.4" width="9.6" height="71.2" fill="#6DBE45" stroke="#000" stroke-width="1.1" />
<line x1="260.2" y1="638.28" x2="260.2" y2="652.52" stroke="#000" stroke-width="1" />
<line x1="258" y1="638.28" x2="262.4" y2="638.28" stroke="#000" stroke-width="1" />
<line x1="258" y1="652.52" x2="262.4" y2="652.52" stroke="#000" stroke-width="1" />
<rect x="271.1" y="695.24" width="9.6" height="21.36" fill="#8E2B8E" stroke="#000" stroke-width="1.1" />
<line x1="275.9" y1="685.98" x2="275.9" y2="704.5" stroke="#000" stroke-width="1" />
<line x1="273.7" y1="685.98" x2="278.1" y2="685.98" stroke="#000" stroke-width="1" />
<line x1="273.7" y1="704.5" x2="278.1" y2="704.5" stroke="#000" stroke-width="1" />
<rect x="297" y="645.4" width="9.6" height="71.2" fill="#6DBE45" stroke="#000" stroke-width="1.1" />
<line x1="301.8" y1="643.98" x2="301.8" y2="646.82" stroke="#000" stroke-width="1" />
<line x1="299.6" y1="643.98" x2="304" y2="643.98" stroke="#000" stroke-width="1" />
<line x1="299.6" y1="646.82" x2="304" y2="646.82" stroke="#000" stroke-width="1" />
<rect x="312.8" y="660.35" width="9.6" height="56.25" fill="#8E2B8E" stroke="#000" stroke-width="1.1" />
<line x1="317.6" y1="651.81" x2="317.6" y2="668.9" stroke="#000" stroke-width="1" />
<line x1="315.4" y1="651.81" x2="319.8" y2="651.81" stroke="#000" stroke-width="1" />
<line x1="315.4" y1="668.9" x2="319.8" y2="668.9" stroke="#000" stroke-width="1" />
<rect x="338.8" y="645.4" width="9.6" height="71.2" fill="#6DBE45" stroke="#000" stroke-width="1.1" />
<line x1="343.6" y1="638.28" x2="343.6" y2="652.52" stroke="#000" stroke-width="1" />
<line x1="341.4" y1="638.28" x2="345.8" y2="638.28" stroke="#000" stroke-width="1" />
<line x1="341.4" y1="652.52" x2="345.8" y2="652.52" stroke="#000" stroke-width="1" />
<rect x="354.2" y="673.17" width="9.6" height="43.43" fill="#8E2B8E" stroke="#000" stroke-width="1.1" />
<line x1="359" y1="663.2" x2="359" y2="683.14" stroke="#000" stroke-width="1" />
<line x1="356.8" y1="663.2" x2="361.2" y2="663.2" stroke="#000" stroke-width="1" />
<line x1="356.8" y1="683.14" x2="361.2" y2="683.14" stroke="#000" stroke-width="1" />
<rect x="380.1" y="645.4" width="9.6" height="71.2" fill="#6DBE45" stroke="#000" stroke-width="1.1" />
<line x1="384.9" y1="633.3" x2="384.9" y2="657.5" stroke="#000" stroke-width="1" />
<line x1="382.7" y1="633.3" x2="387.1" y2="633.3" stroke="#000" stroke-width="1" />
<line x1="382.7" y1="657.5" x2="387.1" y2="657.5" stroke="#000" stroke-width="1" />
<rect x="395.5" y="683.85" width="9.6" height="32.75" fill="#8E2B8E" stroke="#000" stroke-width="1.1" />
<line x1="400.3" y1="676.73" x2="400.3" y2="690.97" stroke="#000" stroke-width="1" />
<line x1="398.1" y1="676.73" x2="402.5" y2="676.73" stroke="#000" stroke-width="1" />
<line x1="398.1" y1="690.97" x2="402.5" y2="690.97" stroke="#000" stroke-width="1" />
<circle cx="258" cy="645.5" r="1.3" fill="#000"/>
<circle cx="263" cy="645.5" r="1.3" fill="#000"/>
<circle cx="260.3" cy="638.8" r="1.3" fill="#000"/>
<circle cx="275.9" cy="689.5" r="1.3" fill="#000"/>
<circle cx="275.9" cy="695" r="1.3" fill="#000"/>
<circle cx="276" cy="690.8" r="1.3" fill="#000"/>
<circle cx="299" cy="644.5" r="1.3" fill="#000"/>
<circle cx="302.5" cy="644.8" r="1.3" fill="#000"/>
<circle cx="305" cy="645" r="1.3" fill="#000"/>
<circle cx="317.6" cy="667" r="1.3" fill="#000"/>
<circle cx="317.6" cy="654.5" r="1.3" fill="#000"/>
<circle cx="317.6" cy="660.5" r="1.3" fill="#000"/>
<circle cx="343.6" cy="641.5" r="1.3" fill="#000"/>
<circle cx="341.5" cy="645" r="1.3" fill="#000"/>
<circle cx="346" cy="645.6" r="1.3" fill="#000"/>
<circle cx="359" cy="675" r="1.3" fill="#000"/>
<circle cx="359" cy="668" r="1.3" fill="#000"/>
<circle cx="359" cy="684" r="1.3" fill="#000"/>
<circle cx="381.8" cy="647" r="1.3" fill="#000"/>
<circle cx="388" cy="647" r="1.3" fill="#000"/>
<circle cx="385" cy="635" r="1.3" fill="#000"/>
<circle cx="400.3" cy="677" r="1.3" fill="#000"/>
<circle cx="400.3" cy="683" r="1.3" fill="#000"/>
<circle cx="400.3" cy="689" r="1.3" fill="#000"/>
<polyline points="260.3,631.1 260.3,620.3 275.7,620.3 275.7,683.3" fill="none" stroke="#000" stroke-width="1.1" />
<text x="268.2" y="619.4" font-size="13.2" font-weight="bold" text-anchor="middle" letter-spacing="0.4">****</text>
<polyline points="301.6,635.3 301.6,620.3 317.4,620.3 317.4,649.3" fill="none" stroke="#000" stroke-width="1.1" />
<polyline points="343,631.1 343,620.3 359.4,620.3 359.4,661.6" fill="none" stroke="#000" stroke-width="1.1" />
<text x="351.4" y="619.4" font-size="13.2" font-weight="bold" text-anchor="middle" letter-spacing="0.4">**</text>
<polyline points="384.7,631.8 384.7,620.3 400.8,620.3 400.8,674.9" fill="none" stroke="#000" stroke-width="1.1" />
<text x="392.95" y="619.4" font-size="13.2" font-weight="bold" text-anchor="middle" letter-spacing="0.4">****</text>
<text x="309.5" y="613.8" font-size="8.5" text-anchor="middle" ><tspan font-style="italic">p</tspan> = 0.1055</text>
<text x="267.6" y="732.2" font-size="8.5" font-weight="bold" text-anchor="middle" font-style="italic" >CD163</text>
<text x="309.7" y="732.2" font-size="8.5" font-weight="bold" text-anchor="middle" font-style="italic" >CD206</text>
<text x="351.4" y="732.2" font-size="8.5" font-weight="bold" text-anchor="middle" font-style="italic" >IL-10</text>
<text x="392.7" y="732.2" font-size="8.5" font-weight="bold" text-anchor="middle" font-style="italic" >TGF-β</text>
<line x1="266.6" y1="739.4" x2="393.4" y2="739.4" stroke="#000" stroke-width="1.1" />
<text x="330.3" y="752.9" font-size="10.4" font-weight="bold" text-anchor="middle" >M2 macrophage markers</text>
<text x="227.8" y="663" font-size="8.2" font-weight="bold" text-anchor="middle" transform="rotate(-90 227.8 663)" >Relative expression</text>
<rect x="420.5" y="613.9" width="12.4" height="6.2" fill="#6DBE45" stroke="#000" stroke-width="1.4" />
<text x="438.8" y="620.1" font-size="8.6" >shCtrl</text>
<rect x="420.5" y="629.2" width="12.4" height="6.2" fill="#8E2B8E" stroke="#000" stroke-width="1.4" />
<text x="438.8" y="635.4" font-size="8.6" >shPRSS22</text>
<text x="490.6" y="584.9" font-size="17" font-weight="bold" fill="#231815" >J</text>
<text x="548.3" y="592.6" font-size="10.2" font-weight="bold" text-anchor="middle" >HCT116</text>
<line x1="527.2" y1="608.4" x2="527.2" y2="718" stroke="#000" stroke-width="1.3" />
<line x1="523.7" y1="609" x2="527.2" y2="609" stroke="#000" stroke-width="1.3" />
<text x="522.2" y="611.81" font-size="7.8" font-weight="bold" text-anchor="end" >80</text>
<line x1="523.7" y1="636.1" x2="527.2" y2="636.1" stroke="#000" stroke-width="1.3" />
<text x="522.2" y="638.91" font-size="7.8" font-weight="bold" text-anchor="end" >60</text>
<line x1="523.7" y1="663.2" x2="527.2" y2="663.2" stroke="#000" stroke-width="1.3" />
<text x="522.2" y="666.01" font-size="7.8" font-weight="bold" text-anchor="end" >40</text>
<line x1="523.7" y1="690.3" x2="527.2" y2="690.3" stroke="#000" stroke-width="1.3" />
<text x="522.2" y="693.11" font-size="7.8" font-weight="bold" text-anchor="end" >20</text>
<line x1="523.7" y1="717.4" x2="527.2" y2="717.4" stroke="#000" stroke-width="1.3" />
<text x="522.2" y="720.21" font-size="7.8" font-weight="bold" text-anchor="end" >0</text>
<line x1="523.7" y1="717.2" x2="568.4" y2="717.2" stroke="#000" stroke-width="1.4" />
<line x1="539.5" y1="717.4" x2="539.5" y2="720.5" stroke="#000" stroke-width="1.3" />
<line x1="556.5" y1="717.4" x2="556.5" y2="720.5" stroke="#000" stroke-width="1.3" />
<rect x="534.4" y="648.29" width="10.1" height="69.11" fill="#6DBE45" stroke="#000" stroke-width="1.1" />
<line x1="539.45" y1="644.91" x2="539.45" y2="650.33" stroke="#000" stroke-width="1" />
<line x1="537.25" y1="644.91" x2="541.65" y2="644.91" stroke="#000" stroke-width="1" />
<line x1="537.25" y1="650.33" x2="541.65" y2="650.33" stroke="#000" stroke-width="1" />
<rect x="551.3" y="661.85" width="10.4" height="55.55" fill="#8E2B8E" stroke="#000" stroke-width="1.1" />
<line x1="556.5" y1="661.17" x2="556.5" y2="662.52" stroke="#000" stroke-width="1" />
<line x1="554.3" y1="661.17" x2="558.7" y2="661.17" stroke="#000" stroke-width="1" />
<line x1="554.3" y1="662.52" x2="558.7" y2="662.52" stroke="#000" stroke-width="1" />
<circle cx="537.5" cy="646.5" r="1.3" fill="#000"/>
<circle cx="541.5" cy="646.8" r="1.3" fill="#000"/>
<circle cx="539.4" cy="643" r="1.3" fill="#000"/>
<circle cx="554" cy="661.8" r="1.3" fill="#000"/>
<circle cx="558.5" cy="661.6" r="1.3" fill="#000"/>
<circle cx="556.5" cy="661.3" r="1.3" fill="#000"/>
<polyline points="539.3,639.5 539.3,631.1 557.3,631.1 557.3,656.3" fill="none" stroke="#000" stroke-width="1.1" />
<text x="548.3" y="630.8" font-size="13.2" font-weight="bold" text-anchor="middle" >**</text>
<text x="545" y="727.8" font-size="8.8" font-weight="bold" text-anchor="end" transform="rotate(-45 545 727.8)" >shCtrl</text>
<text x="562.3" y="727.8" font-size="8.8" font-weight="bold" text-anchor="end" transform="rotate(-45 562.3 727.8)" >shPRSS22</text>
<text x="508.8" y="660.4" font-size="8.65" font-weight="bold" text-anchor="middle" transform="rotate(-90 508.8 660.4)" >Relative expression of <tspan font-style="italic">TGF-β</tspan></text>
<text x="584.6" y="584.9" font-size="17" font-weight="bold" fill="#231815" >K</text>
<text x="648.5" y="592.6" font-size="10.2" font-weight="bold" text-anchor="middle" >HCT116</text>
<line x1="626.8" y1="609.6" x2="626.8" y2="718" stroke="#000" stroke-width="1.3" />
<line x1="623.3" y1="610.2" x2="626.8" y2="610.2" stroke="#000" stroke-width="1.3" />
<text x="621.8" y="613.01" font-size="7.8" font-weight="bold" text-anchor="end" >250</text>
<line x1="623.3" y1="631.64" x2="626.8" y2="631.64" stroke="#000" stroke-width="1.3" />
<text x="621.8" y="634.45" font-size="7.8" font-weight="bold" text-anchor="end" >200</text>
<line x1="623.3" y1="653.08" x2="626.8" y2="653.08" stroke="#000" stroke-width="1.3" />
<text x="621.8" y="655.89" font-size="7.8" font-weight="bold" text-anchor="end" >150</text>
<line x1="623.3" y1="674.52" x2="626.8" y2="674.52" stroke="#000" stroke-width="1.3" />
<text x="621.8" y="677.33" font-size="7.8" font-weight="bold" text-anchor="end" >100</text>
<line x1="623.3" y1="695.96" x2="626.8" y2="695.96" stroke="#000" stroke-width="1.3" />
<text x="621.8" y="698.77" font-size="7.8" font-weight="bold" text-anchor="end" >50</text>
<line x1="623.3" y1="717.4" x2="626.8" y2="717.4" stroke="#000" stroke-width="1.3" />
<text x="621.8" y="720.21" font-size="7.8" font-weight="bold" text-anchor="end" >0</text>
<line x1="624.2" y1="717.2" x2="667.6" y2="717.2" stroke="#000" stroke-width="1.4" />
<line x1="639.8" y1="717.4" x2="639.8" y2="720.5" stroke="#000" stroke-width="1.3" />
<line x1="656.7" y1="717.4" x2="656.7" y2="720.5" stroke="#000" stroke-width="1.3" />
<rect x="634.8" y="632.5" width="10" height="84.9" fill="#6DBE45" stroke="#000" stroke-width="1.1" />
<line x1="639.8" y1="626.92" x2="639.8" y2="637.64" stroke="#000" stroke-width="1" />
<line x1="637.6" y1="626.92" x2="642" y2="626.92" stroke="#000" stroke-width="1" />
<line x1="637.6" y1="637.64" x2="642" y2="637.64" stroke="#000" stroke-width="1" />
<rect x="651.7" y="648.79" width="10" height="68.61" fill="#8E2B8E" stroke="#000" stroke-width="1.1" />
<line x1="656.7" y1="641.5" x2="656.7" y2="655.22" stroke="#000" stroke-width="1" />
<line x1="654.5" y1="641.5" x2="658.9" y2="641.5" stroke="#000" stroke-width="1" />
<line x1="654.5" y1="655.22" x2="658.9" y2="655.22" stroke="#000" stroke-width="1" />
<circle cx="637" cy="633.5" r="1.3" fill="#000"/>
<circle cx="642.5" cy="631.5" r="1.3" fill="#000"/>
<circle cx="639.8" cy="628" r="1.3" fill="#000"/>
<circle cx="654.5" cy="648.5" r="1.3" fill="#000"/>
<circle cx="659" cy="650" r="1.3" fill="#000"/>
<circle cx="656.7" cy="645" r="1.3" fill="#000"/>
<polyline points="639.6,626.2 639.6,613.4 656.9,613.4 656.9,640.3" fill="none" stroke="#000" stroke-width="1.1" />
<text x="648.3" y="614.8" font-size="13.2" font-weight="bold" text-anchor="middle" >*</text>
<text x="645.3" y="727.8" font-size="8.8" font-weight="bold" text-anchor="end" transform="rotate(-45 645.3 727.8)" >shCtrl</text>
<text x="662.3" y="727.8" font-size="8.8" font-weight="bold" text-anchor="end" transform="rotate(-45 662.3 727.8)" >shPRSS22</text>
<text x="603.2" y="662.4" font-size="8.4" font-weight="bold" text-anchor="middle" transform="rotate(-90 603.2 662.4)" >Concentration of TGF-β (ng/L)</text>
</svg>
</body></html>
